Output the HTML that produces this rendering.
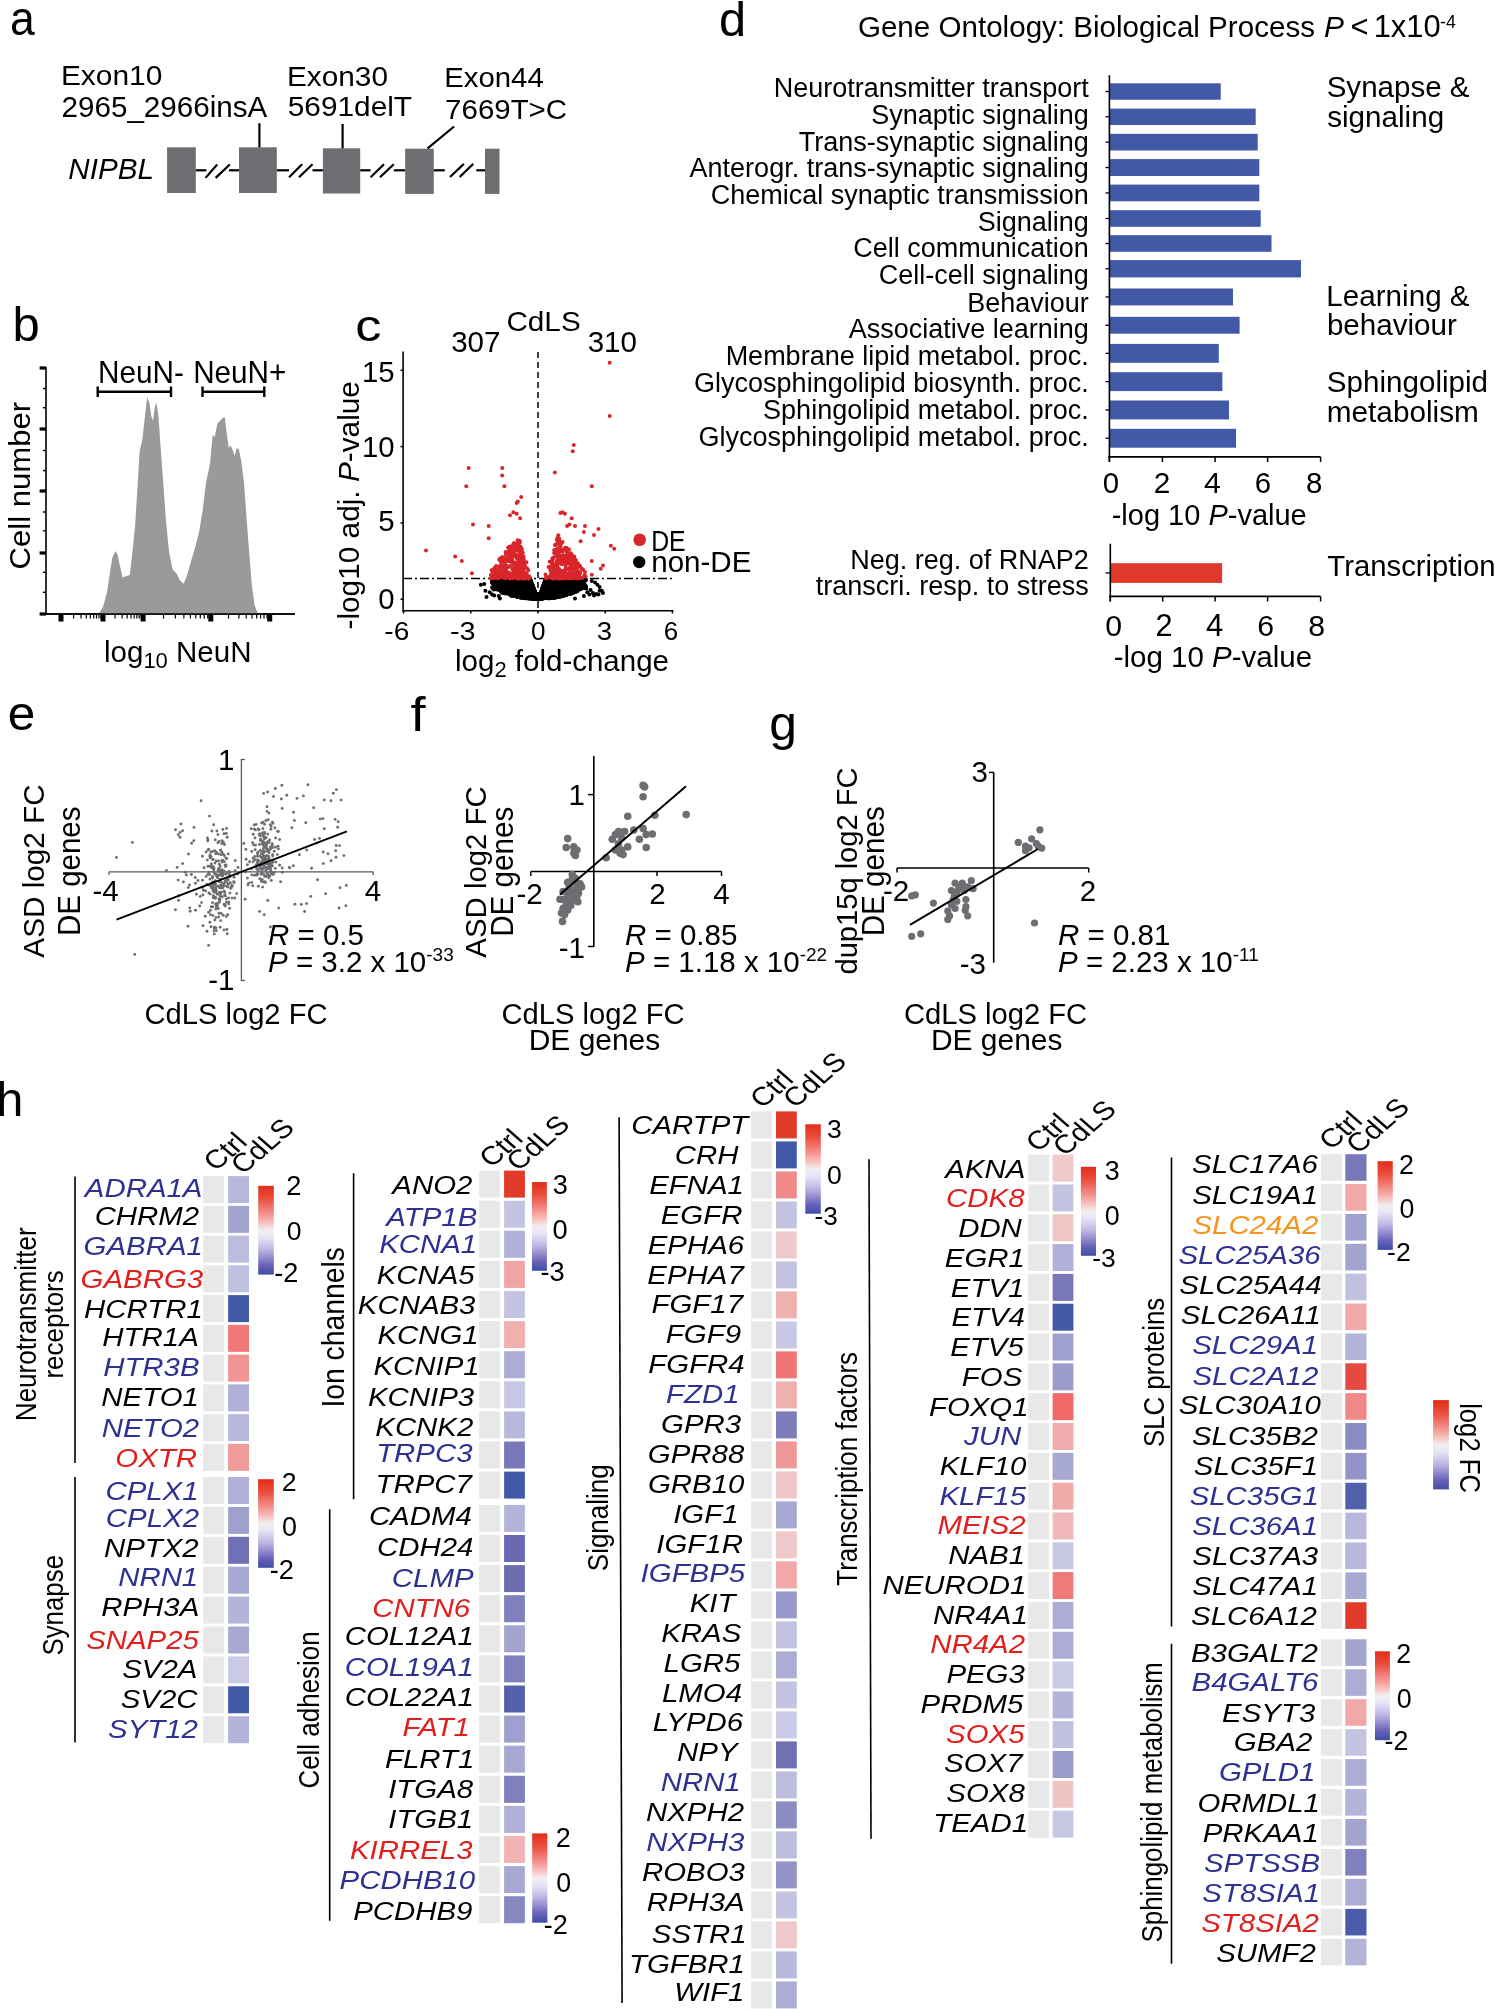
<!DOCTYPE html>
<html><head><meta charset="utf-8"><title>Figure</title>
<style>
html,body{margin:0;padding:0;background:#fff;}
svg{display:block;will-change:transform;}
text{font-family:"Liberation Sans",sans-serif;}
</style></head><body>
<svg xmlns="http://www.w3.org/2000/svg" width="1495" height="2009" viewBox="0 0 1495 2009">
<rect width="1495" height="2009" fill="#fff"/>
<text x="10.11" y="35.22" style="font-size:48.04px" textLength="24.73" lengthAdjust="spacingAndGlyphs">a</text>
<text x="60.93" y="84.91" style="font-size:28.55px" textLength="101.44" lengthAdjust="spacingAndGlyphs">Exon10</text>
<text x="61.52" y="117.20" style="font-size:29.62px">2965_2966insA</text>
<text x="286.94" y="85.52" style="font-size:27.99px" textLength="101.02" lengthAdjust="spacingAndGlyphs">Exon30</text>
<text x="287.81" y="116.43" style="font-size:27.48px" textLength="124.26" lengthAdjust="spacingAndGlyphs">5691delT</text>
<text x="444.18" y="87.32" style="font-size:28.10px" textLength="99.58" lengthAdjust="spacingAndGlyphs">Exon44</text>
<text x="445.13" y="119.01" style="font-size:28.55px" textLength="121.95" lengthAdjust="spacingAndGlyphs">7669T&gt;C</text>
<text x="68.31" y="179.10" style="font-size:30.25px;font-style:italic" textLength="85.77" lengthAdjust="spacingAndGlyphs">NIPBL</text>
<rect x="167.10" y="147.30" width="28.70" height="45.70" fill="#6d6e71"/>
<rect x="239.00" y="147.30" width="37.80" height="45.70" fill="#6d6e71"/>
<rect x="322.90" y="148.30" width="37.30" height="45.20" fill="#6d6e71"/>
<rect x="405.20" y="148.70" width="28.60" height="45.20" fill="#6d6e71"/>
<rect x="485.00" y="148.70" width="14.50" height="45.20" fill="#6d6e71"/>
<line x1="195.80" y1="170.30" x2="206.40" y2="170.30" stroke="#000" stroke-width="2.20"/>
<line x1="229.00" y1="170.30" x2="239.00" y2="170.30" stroke="#000" stroke-width="2.20"/>
<line x1="276.80" y1="170.30" x2="289.00" y2="170.30" stroke="#000" stroke-width="2.20"/>
<line x1="312.50" y1="170.30" x2="322.90" y2="170.30" stroke="#000" stroke-width="2.20"/>
<line x1="360.20" y1="170.30" x2="370.60" y2="170.30" stroke="#000" stroke-width="2.20"/>
<line x1="393.80" y1="170.30" x2="405.20" y2="170.30" stroke="#000" stroke-width="2.20"/>
<line x1="433.80" y1="170.30" x2="444.80" y2="170.30" stroke="#000" stroke-width="2.20"/>
<line x1="476.30" y1="170.30" x2="485.00" y2="170.30" stroke="#000" stroke-width="2.20"/>
<line x1="205.50" y1="177.90" x2="217.20" y2="164.50" stroke="#000" stroke-width="2.20"/>
<line x1="215.60" y1="177.90" x2="229.80" y2="164.50" stroke="#000" stroke-width="2.20"/>
<line x1="289.10" y1="177.30" x2="302.10" y2="164.30" stroke="#000" stroke-width="2.20"/>
<line x1="299.00" y1="177.30" x2="312.50" y2="164.30" stroke="#000" stroke-width="2.20"/>
<line x1="370.60" y1="177.30" x2="384.00" y2="164.30" stroke="#000" stroke-width="2.20"/>
<line x1="380.00" y1="177.30" x2="393.80" y2="164.30" stroke="#000" stroke-width="2.20"/>
<line x1="450.00" y1="177.00" x2="463.90" y2="163.90" stroke="#000" stroke-width="2.20"/>
<line x1="459.70" y1="177.00" x2="473.20" y2="163.90" stroke="#000" stroke-width="2.20"/>
<line x1="259.40" y1="123.20" x2="259.40" y2="147.30" stroke="#000" stroke-width="2.20"/>
<line x1="342.60" y1="124.00" x2="342.60" y2="148.30" stroke="#000" stroke-width="2.20"/>
<line x1="427.60" y1="148.30" x2="454.10" y2="126.50" stroke="#000" stroke-width="2.20"/>
<text x="12.46" y="341.31" style="font-size:48.98px">b</text>
<line x1="46.00" y1="367.00" x2="46.00" y2="614.80" stroke="#000" stroke-width="1.60"/>
<line x1="45.20" y1="614.00" x2="295.00" y2="614.00" stroke="#000" stroke-width="1.60"/>
<rect x="39.60" y="366.40" width="6.40" height="3.20" fill="#000"/>
<rect x="39.60" y="427.40" width="6.40" height="3.20" fill="#000"/>
<rect x="39.60" y="489.40" width="6.40" height="3.20" fill="#000"/>
<rect x="39.60" y="551.40" width="6.40" height="3.20" fill="#000"/>
<rect x="39.60" y="612.40" width="6.40" height="3.20" fill="#000"/>
<line x1="43.00" y1="388.50" x2="46.00" y2="388.50" stroke="#000" stroke-width="1.40"/>
<line x1="43.00" y1="407.70" x2="46.00" y2="407.70" stroke="#000" stroke-width="1.40"/>
<line x1="43.00" y1="450.50" x2="46.00" y2="450.50" stroke="#000" stroke-width="1.40"/>
<line x1="43.00" y1="470.60" x2="46.00" y2="470.60" stroke="#000" stroke-width="1.40"/>
<line x1="43.00" y1="512.00" x2="46.00" y2="512.00" stroke="#000" stroke-width="1.40"/>
<line x1="43.00" y1="530.80" x2="46.00" y2="530.80" stroke="#000" stroke-width="1.40"/>
<line x1="43.00" y1="572.30" x2="46.00" y2="572.30" stroke="#000" stroke-width="1.40"/>
<line x1="43.00" y1="592.30" x2="46.00" y2="592.30" stroke="#000" stroke-width="1.40"/>
<rect x="58.50" y="614.00" width="5.00" height="7.50" fill="#000"/>
<rect x="100.50" y="614.00" width="5.00" height="7.50" fill="#000"/>
<rect x="140.60" y="614.00" width="5.00" height="7.50" fill="#000"/>
<rect x="208.30" y="614.00" width="5.00" height="7.50" fill="#000"/>
<rect x="267.20" y="614.00" width="5.00" height="7.50" fill="#000"/>
<line x1="73.64" y1="614.00" x2="73.64" y2="618.50" stroke="#000" stroke-width="1.20"/>
<line x1="81.04" y1="614.00" x2="81.04" y2="618.50" stroke="#000" stroke-width="1.20"/>
<line x1="86.29" y1="614.00" x2="86.29" y2="618.50" stroke="#000" stroke-width="1.20"/>
<line x1="90.36" y1="614.00" x2="90.36" y2="618.50" stroke="#000" stroke-width="1.20"/>
<line x1="93.68" y1="614.00" x2="93.68" y2="618.50" stroke="#000" stroke-width="1.20"/>
<line x1="96.49" y1="614.00" x2="96.49" y2="618.50" stroke="#000" stroke-width="1.20"/>
<line x1="98.93" y1="614.00" x2="98.93" y2="618.50" stroke="#000" stroke-width="1.20"/>
<line x1="101.08" y1="614.00" x2="101.08" y2="618.50" stroke="#000" stroke-width="1.20"/>
<line x1="115.07" y1="614.00" x2="115.07" y2="618.50" stroke="#000" stroke-width="1.20"/>
<line x1="122.13" y1="614.00" x2="122.13" y2="618.50" stroke="#000" stroke-width="1.20"/>
<line x1="127.14" y1="614.00" x2="127.14" y2="618.50" stroke="#000" stroke-width="1.20"/>
<line x1="131.03" y1="614.00" x2="131.03" y2="618.50" stroke="#000" stroke-width="1.20"/>
<line x1="134.20" y1="614.00" x2="134.20" y2="618.50" stroke="#000" stroke-width="1.20"/>
<line x1="136.89" y1="614.00" x2="136.89" y2="618.50" stroke="#000" stroke-width="1.20"/>
<line x1="139.21" y1="614.00" x2="139.21" y2="618.50" stroke="#000" stroke-width="1.20"/>
<line x1="141.27" y1="614.00" x2="141.27" y2="618.50" stroke="#000" stroke-width="1.20"/>
<line x1="163.48" y1="614.00" x2="163.48" y2="618.50" stroke="#000" stroke-width="1.20"/>
<line x1="175.40" y1="614.00" x2="175.40" y2="618.50" stroke="#000" stroke-width="1.20"/>
<line x1="183.86" y1="614.00" x2="183.86" y2="618.50" stroke="#000" stroke-width="1.20"/>
<line x1="190.42" y1="614.00" x2="190.42" y2="618.50" stroke="#000" stroke-width="1.20"/>
<line x1="195.78" y1="614.00" x2="195.78" y2="618.50" stroke="#000" stroke-width="1.20"/>
<line x1="200.31" y1="614.00" x2="200.31" y2="618.50" stroke="#000" stroke-width="1.20"/>
<line x1="204.24" y1="614.00" x2="204.24" y2="618.50" stroke="#000" stroke-width="1.20"/>
<line x1="207.70" y1="614.00" x2="207.70" y2="618.50" stroke="#000" stroke-width="1.20"/>
<line x1="228.53" y1="614.00" x2="228.53" y2="618.50" stroke="#000" stroke-width="1.20"/>
<line x1="238.90" y1="614.00" x2="238.90" y2="618.50" stroke="#000" stroke-width="1.20"/>
<line x1="246.26" y1="614.00" x2="246.26" y2="618.50" stroke="#000" stroke-width="1.20"/>
<line x1="251.97" y1="614.00" x2="251.97" y2="618.50" stroke="#000" stroke-width="1.20"/>
<line x1="256.63" y1="614.00" x2="256.63" y2="618.50" stroke="#000" stroke-width="1.20"/>
<line x1="260.58" y1="614.00" x2="260.58" y2="618.50" stroke="#000" stroke-width="1.20"/>
<line x1="263.99" y1="614.00" x2="263.99" y2="618.50" stroke="#000" stroke-width="1.20"/>
<line x1="267.00" y1="614.00" x2="267.00" y2="618.50" stroke="#000" stroke-width="1.20"/>
<polygon points="96.3,614.3 99.5,612.4 103.0,607.1 107.0,592.3 110.2,570.9 112.4,557.6 115.6,550.9 117.7,554.9 119.9,565.6 122.5,577.6 125.8,576.3 129.8,574.9 132.4,552.2 135.1,525.5 137.8,482.6 139.7,450.5 142.3,439.8 145.0,415.8 147.2,397.0 149.3,402.4 151.2,415.8 153.0,421.1 154.6,407.7 156.5,402.4 158.4,415.8 160.5,445.2 163.2,482.6 165.9,520.1 169.1,552.2 172.6,569.6 176.6,573.6 179.8,580.3 183.5,583.8 186.8,576.3 190.5,562.9 195.3,546.9 199.3,530.8 202.8,509.4 206.0,482.6 210.0,463.9 212.7,434.5 214.6,437.2 217.3,423.8 219.9,421.1 222.6,417.9 224.7,417.1 226.9,434.5 228.8,447.9 230.6,445.2 232.8,450.5 234.6,455.9 236.8,447.9 238.9,449.2 241.3,461.2 244.0,482.6 246.7,520.1 249.4,554.9 252.0,587.0 254.7,605.7 257.4,612.4 260.9,614.3" fill="#999a9c"/>
<line x1="45.20" y1="614.00" x2="295.00" y2="614.00" stroke="#000" stroke-width="1.60"/>
<line x1="97.70" y1="391.70" x2="171.00" y2="391.70" stroke="#000" stroke-width="2.40"/>
<line x1="97.70" y1="386.50" x2="97.70" y2="397.00" stroke="#000" stroke-width="2.40"/>
<line x1="171.00" y1="386.50" x2="171.00" y2="397.00" stroke="#000" stroke-width="2.40"/>
<line x1="202.50" y1="391.70" x2="264.30" y2="391.70" stroke="#000" stroke-width="2.40"/>
<line x1="202.50" y1="386.50" x2="202.50" y2="397.00" stroke="#000" stroke-width="2.40"/>
<line x1="264.30" y1="386.50" x2="264.30" y2="397.00" stroke="#000" stroke-width="2.40"/>
<text x="98.05" y="382.69" style="font-size:30.82px" textLength="85.91" lengthAdjust="spacingAndGlyphs">NeuN-</text>
<text x="193.15" y="382.69" style="font-size:30.82px" textLength="93.28" lengthAdjust="spacingAndGlyphs">NeuN+</text>
<text transform="translate(30.10 569.45) rotate(-90.00)" style="font-size:30.07px" textLength="167.66" lengthAdjust="spacingAndGlyphs">Cell number</text>
<text x="104.00" y="662.00" style="font-size:29.50px">log<tspan style="font-size:22px" dy="6">10</tspan><tspan dy="-6"> NeuN</tspan></text>
<text x="355.38" y="340.66" style="font-size:44.02px" textLength="26.16" lengthAdjust="spacingAndGlyphs">c</text>
<text x="506.42" y="330.82" style="font-size:28.16px" textLength="74.29" lengthAdjust="spacingAndGlyphs">CdLS</text>
<text x="451.18" y="352.30" style="font-size:29.54px">307</text>
<text x="587.69" y="352.30" style="font-size:29.54px">310</text>
<line x1="403.10" y1="351.50" x2="403.10" y2="611.50" stroke="#000" stroke-width="1.60"/>
<line x1="402.30" y1="610.80" x2="673.50" y2="610.80" stroke="#000" stroke-width="1.60"/>
<line x1="400.50" y1="370.30" x2="403.10" y2="370.30" stroke="#000" stroke-width="1.50"/>
<line x1="400.50" y1="446.60" x2="403.10" y2="446.60" stroke="#000" stroke-width="1.50"/>
<line x1="400.50" y1="522.90" x2="403.10" y2="522.90" stroke="#000" stroke-width="1.50"/>
<line x1="400.50" y1="599.20" x2="403.10" y2="599.20" stroke="#000" stroke-width="1.50"/>
<text x="362.05" y="382.14" style="font-size:29.30px">15</text>
<text x="361.98" y="456.74" style="font-size:29.30px">10</text>
<text x="378.31" y="530.64" style="font-size:29.30px">5</text>
<text x="378.24" y="608.94" style="font-size:29.30px">0</text>
<line x1="403.60" y1="610.80" x2="403.60" y2="613.50" stroke="#000" stroke-width="1.50"/>
<line x1="470.80" y1="610.80" x2="470.80" y2="613.50" stroke="#000" stroke-width="1.50"/>
<line x1="538.00" y1="610.80" x2="538.00" y2="613.50" stroke="#000" stroke-width="1.50"/>
<line x1="605.20" y1="610.80" x2="605.20" y2="613.50" stroke="#000" stroke-width="1.50"/>
<line x1="672.40" y1="610.80" x2="672.40" y2="613.50" stroke="#000" stroke-width="1.50"/>
<text x="384.33" y="640.24" style="font-size:25.58px" textLength="25.01" lengthAdjust="spacingAndGlyphs">-6</text>
<text x="449.90" y="640.24" style="font-size:25.58px" textLength="25.68" lengthAdjust="spacingAndGlyphs">-3</text>
<text x="531.05" y="640.24" style="font-size:25.58px" textLength="14.56" lengthAdjust="spacingAndGlyphs">0</text>
<text x="596.67" y="640.24" style="font-size:25.58px" textLength="15.34" lengthAdjust="spacingAndGlyphs">3</text>
<text x="663.70" y="640.24" style="font-size:25.58px" textLength="14.43" lengthAdjust="spacingAndGlyphs">6</text>
<text x="455.00" y="671.00" style="font-size:29.50px">log<tspan style="font-size:22px" dy="6">2</tspan><tspan dy="-6"> fold-change</tspan></text>
<text transform="translate(358.61 629.53) rotate(-90.00)" style="font-size:29.81px">-log10 adj. <tspan style="font-style:italic">P</tspan>-value</text>
<line x1="538.00" y1="352.00" x2="538.00" y2="610.00" stroke="#000" stroke-width="1.50" stroke-dasharray="6,4"/>
<line x1="403.00" y1="578.50" x2="673.00" y2="578.50" stroke="#000" stroke-width="1.50" stroke-dasharray="9,3,2,3"/>
<circle cx="515.4" cy="580.2" r="2.00" fill="#000"/>
<circle cx="545.9" cy="588.5" r="2.00" fill="#000"/>
<circle cx="513.4" cy="592.2" r="2.00" fill="#000"/>
<circle cx="537.4" cy="598.7" r="2.00" fill="#000"/>
<circle cx="515.5" cy="594.4" r="2.00" fill="#000"/>
<circle cx="514.1" cy="590.1" r="2.00" fill="#000"/>
<circle cx="567.9" cy="583.3" r="2.00" fill="#000"/>
<circle cx="557.4" cy="596.1" r="2.00" fill="#000"/>
<circle cx="533.2" cy="590.5" r="2.00" fill="#000"/>
<circle cx="530.3" cy="598.4" r="2.00" fill="#000"/>
<circle cx="531.3" cy="588.9" r="2.00" fill="#000"/>
<circle cx="550.2" cy="592.7" r="2.00" fill="#000"/>
<circle cx="543.2" cy="598.4" r="2.00" fill="#000"/>
<circle cx="518.7" cy="581.5" r="2.00" fill="#000"/>
<circle cx="543.3" cy="591.3" r="2.00" fill="#000"/>
<circle cx="524.4" cy="584.7" r="2.00" fill="#000"/>
<circle cx="521.4" cy="588.2" r="2.00" fill="#000"/>
<circle cx="527.0" cy="579.1" r="2.00" fill="#000"/>
<circle cx="554.7" cy="590.8" r="2.00" fill="#000"/>
<circle cx="513.5" cy="591.3" r="2.00" fill="#000"/>
<circle cx="536.9" cy="597.4" r="2.00" fill="#000"/>
<circle cx="545.7" cy="589.8" r="2.00" fill="#000"/>
<circle cx="549.4" cy="579.8" r="2.00" fill="#000"/>
<circle cx="523.2" cy="581.6" r="2.00" fill="#000"/>
<circle cx="551.7" cy="580.5" r="2.00" fill="#000"/>
<circle cx="538.7" cy="598.6" r="2.00" fill="#000"/>
<circle cx="557.7" cy="595.3" r="2.00" fill="#000"/>
<circle cx="536.3" cy="596.6" r="2.00" fill="#000"/>
<circle cx="541.4" cy="598.1" r="2.00" fill="#000"/>
<circle cx="523.8" cy="590.7" r="2.00" fill="#000"/>
<circle cx="569.9" cy="591.8" r="2.00" fill="#000"/>
<circle cx="531.5" cy="593.9" r="2.00" fill="#000"/>
<circle cx="544.1" cy="586.2" r="2.00" fill="#000"/>
<circle cx="542.6" cy="596.4" r="2.00" fill="#000"/>
<circle cx="519.4" cy="593.0" r="2.00" fill="#000"/>
<circle cx="531.1" cy="585.4" r="2.00" fill="#000"/>
<circle cx="557.3" cy="594.4" r="2.00" fill="#000"/>
<circle cx="558.7" cy="588.5" r="2.00" fill="#000"/>
<circle cx="542.2" cy="588.9" r="2.00" fill="#000"/>
<circle cx="553.4" cy="582.3" r="2.00" fill="#000"/>
<circle cx="525.5" cy="593.3" r="2.00" fill="#000"/>
<circle cx="576.0" cy="586.2" r="2.00" fill="#000"/>
<circle cx="555.3" cy="595.1" r="2.00" fill="#000"/>
<circle cx="517.0" cy="579.2" r="2.00" fill="#000"/>
<circle cx="542.0" cy="591.0" r="2.00" fill="#000"/>
<circle cx="553.0" cy="590.7" r="2.00" fill="#000"/>
<circle cx="536.5" cy="598.8" r="2.00" fill="#000"/>
<circle cx="545.8" cy="586.4" r="2.00" fill="#000"/>
<circle cx="539.8" cy="597.4" r="2.00" fill="#000"/>
<circle cx="564.5" cy="587.3" r="2.00" fill="#000"/>
<circle cx="559.8" cy="585.8" r="2.00" fill="#000"/>
<circle cx="533.1" cy="588.1" r="2.00" fill="#000"/>
<circle cx="543.2" cy="586.9" r="2.00" fill="#000"/>
<circle cx="548.7" cy="582.1" r="2.00" fill="#000"/>
<circle cx="538.7" cy="598.3" r="2.00" fill="#000"/>
<circle cx="551.0" cy="580.0" r="2.00" fill="#000"/>
<circle cx="554.0" cy="581.0" r="2.00" fill="#000"/>
<circle cx="582.7" cy="582.7" r="2.00" fill="#000"/>
<circle cx="530.8" cy="597.8" r="2.00" fill="#000"/>
<circle cx="542.9" cy="587.0" r="2.00" fill="#000"/>
<circle cx="540.8" cy="597.0" r="2.00" fill="#000"/>
<circle cx="568.3" cy="581.4" r="2.00" fill="#000"/>
<circle cx="525.6" cy="594.0" r="2.00" fill="#000"/>
<circle cx="529.6" cy="583.9" r="2.00" fill="#000"/>
<circle cx="551.1" cy="586.6" r="2.00" fill="#000"/>
<circle cx="544.4" cy="584.6" r="2.00" fill="#000"/>
<circle cx="527.0" cy="580.4" r="2.00" fill="#000"/>
<circle cx="528.5" cy="593.7" r="2.00" fill="#000"/>
<circle cx="553.7" cy="588.5" r="2.00" fill="#000"/>
<circle cx="540.2" cy="598.7" r="2.00" fill="#000"/>
<circle cx="546.8" cy="586.5" r="2.00" fill="#000"/>
<circle cx="555.0" cy="594.5" r="2.00" fill="#000"/>
<circle cx="512.7" cy="579.3" r="2.00" fill="#000"/>
<circle cx="569.2" cy="583.7" r="2.00" fill="#000"/>
<circle cx="529.6" cy="595.1" r="2.00" fill="#000"/>
<circle cx="515.1" cy="595.6" r="2.00" fill="#000"/>
<circle cx="580.2" cy="582.0" r="2.00" fill="#000"/>
<circle cx="543.4" cy="585.8" r="2.00" fill="#000"/>
<circle cx="565.5" cy="586.7" r="2.00" fill="#000"/>
<circle cx="542.3" cy="590.8" r="2.00" fill="#000"/>
<circle cx="508.0" cy="593.1" r="2.00" fill="#000"/>
<circle cx="508.8" cy="580.4" r="2.00" fill="#000"/>
<circle cx="529.8" cy="583.6" r="2.00" fill="#000"/>
<circle cx="529.0" cy="580.5" r="2.00" fill="#000"/>
<circle cx="506.3" cy="588.0" r="2.00" fill="#000"/>
<circle cx="522.4" cy="581.2" r="2.00" fill="#000"/>
<circle cx="501.1" cy="586.1" r="2.00" fill="#000"/>
<circle cx="548.2" cy="586.5" r="2.00" fill="#000"/>
<circle cx="501.9" cy="583.6" r="2.00" fill="#000"/>
<circle cx="520.1" cy="585.4" r="2.00" fill="#000"/>
<circle cx="555.6" cy="595.5" r="2.00" fill="#000"/>
<circle cx="500.1" cy="580.4" r="2.00" fill="#000"/>
<circle cx="492.4" cy="581.4" r="2.00" fill="#000"/>
<circle cx="515.0" cy="585.5" r="2.00" fill="#000"/>
<circle cx="558.7" cy="588.1" r="2.00" fill="#000"/>
<circle cx="542.9" cy="589.4" r="2.00" fill="#000"/>
<circle cx="531.9" cy="598.2" r="2.00" fill="#000"/>
<circle cx="521.1" cy="592.4" r="2.00" fill="#000"/>
<circle cx="525.7" cy="584.2" r="2.00" fill="#000"/>
<circle cx="512.4" cy="580.2" r="2.00" fill="#000"/>
<circle cx="539.1" cy="598.5" r="2.00" fill="#000"/>
<circle cx="554.7" cy="584.3" r="2.00" fill="#000"/>
<circle cx="539.8" cy="598.1" r="2.00" fill="#000"/>
<circle cx="558.7" cy="584.4" r="2.00" fill="#000"/>
<circle cx="574.9" cy="585.8" r="2.00" fill="#000"/>
<circle cx="551.8" cy="584.7" r="2.00" fill="#000"/>
<circle cx="528.0" cy="593.7" r="2.00" fill="#000"/>
<circle cx="507.4" cy="580.2" r="2.00" fill="#000"/>
<circle cx="553.2" cy="581.0" r="2.00" fill="#000"/>
<circle cx="519.8" cy="590.6" r="2.00" fill="#000"/>
<circle cx="555.4" cy="594.3" r="2.00" fill="#000"/>
<circle cx="502.4" cy="580.9" r="2.00" fill="#000"/>
<circle cx="539.5" cy="596.8" r="2.00" fill="#000"/>
<circle cx="553.3" cy="593.9" r="2.00" fill="#000"/>
<circle cx="533.9" cy="593.9" r="2.00" fill="#000"/>
<circle cx="536.6" cy="597.7" r="2.00" fill="#000"/>
<circle cx="551.7" cy="585.4" r="2.00" fill="#000"/>
<circle cx="522.1" cy="581.7" r="2.00" fill="#000"/>
<circle cx="539.3" cy="596.4" r="2.00" fill="#000"/>
<circle cx="531.5" cy="598.1" r="2.00" fill="#000"/>
<circle cx="540.9" cy="592.9" r="2.00" fill="#000"/>
<circle cx="567.6" cy="585.1" r="2.00" fill="#000"/>
<circle cx="546.4" cy="591.6" r="2.00" fill="#000"/>
<circle cx="539.6" cy="598.5" r="2.00" fill="#000"/>
<circle cx="535.1" cy="595.5" r="2.00" fill="#000"/>
<circle cx="574.1" cy="588.8" r="2.00" fill="#000"/>
<circle cx="544.2" cy="596.0" r="2.00" fill="#000"/>
<circle cx="564.3" cy="587.4" r="2.00" fill="#000"/>
<circle cx="546.5" cy="585.5" r="2.00" fill="#000"/>
<circle cx="519.3" cy="579.7" r="2.00" fill="#000"/>
<circle cx="510.1" cy="583.6" r="2.00" fill="#000"/>
<circle cx="545.4" cy="594.5" r="2.00" fill="#000"/>
<circle cx="559.2" cy="596.6" r="2.00" fill="#000"/>
<circle cx="509.0" cy="591.4" r="2.00" fill="#000"/>
<circle cx="543.9" cy="594.0" r="2.00" fill="#000"/>
<circle cx="522.0" cy="587.1" r="2.00" fill="#000"/>
<circle cx="562.9" cy="584.9" r="2.00" fill="#000"/>
<circle cx="539.4" cy="596.7" r="2.00" fill="#000"/>
<circle cx="519.6" cy="580.5" r="2.00" fill="#000"/>
<circle cx="576.4" cy="582.2" r="2.00" fill="#000"/>
<circle cx="561.7" cy="593.4" r="2.00" fill="#000"/>
<circle cx="513.1" cy="580.4" r="2.00" fill="#000"/>
<circle cx="546.4" cy="590.2" r="2.00" fill="#000"/>
<circle cx="503.1" cy="581.6" r="2.00" fill="#000"/>
<circle cx="522.3" cy="580.0" r="2.00" fill="#000"/>
<circle cx="511.7" cy="591.5" r="2.00" fill="#000"/>
<circle cx="544.9" cy="585.4" r="2.00" fill="#000"/>
<circle cx="550.0" cy="583.8" r="2.00" fill="#000"/>
<circle cx="513.9" cy="591.7" r="2.00" fill="#000"/>
<circle cx="581.9" cy="579.3" r="2.00" fill="#000"/>
<circle cx="507.3" cy="585.4" r="2.00" fill="#000"/>
<circle cx="542.9" cy="587.5" r="2.00" fill="#000"/>
<circle cx="522.5" cy="581.4" r="2.00" fill="#000"/>
<circle cx="534.1" cy="594.2" r="2.00" fill="#000"/>
<circle cx="545.1" cy="587.9" r="2.00" fill="#000"/>
<circle cx="541.2" cy="598.8" r="2.00" fill="#000"/>
<circle cx="516.8" cy="582.0" r="2.00" fill="#000"/>
<circle cx="570.1" cy="590.8" r="2.00" fill="#000"/>
<circle cx="552.0" cy="590.7" r="2.00" fill="#000"/>
<circle cx="541.1" cy="597.6" r="2.00" fill="#000"/>
<circle cx="528.5" cy="587.5" r="2.00" fill="#000"/>
<circle cx="532.6" cy="589.1" r="2.00" fill="#000"/>
<circle cx="502.7" cy="579.7" r="2.00" fill="#000"/>
<circle cx="492.2" cy="587.8" r="2.00" fill="#000"/>
<circle cx="540.8" cy="597.2" r="2.00" fill="#000"/>
<circle cx="523.1" cy="583.6" r="2.00" fill="#000"/>
<circle cx="536.0" cy="596.1" r="2.00" fill="#000"/>
<circle cx="502.4" cy="584.5" r="2.00" fill="#000"/>
<circle cx="533.4" cy="594.8" r="2.00" fill="#000"/>
<circle cx="511.7" cy="580.5" r="2.00" fill="#000"/>
<circle cx="563.6" cy="591.5" r="2.00" fill="#000"/>
<circle cx="568.3" cy="585.7" r="2.00" fill="#000"/>
<circle cx="498.3" cy="583.8" r="2.00" fill="#000"/>
<circle cx="545.8" cy="587.8" r="2.00" fill="#000"/>
<circle cx="561.2" cy="585.1" r="2.00" fill="#000"/>
<circle cx="547.4" cy="587.5" r="2.00" fill="#000"/>
<circle cx="510.9" cy="585.5" r="2.00" fill="#000"/>
<circle cx="558.7" cy="587.3" r="2.00" fill="#000"/>
<circle cx="536.1" cy="596.6" r="2.00" fill="#000"/>
<circle cx="532.1" cy="591.9" r="2.00" fill="#000"/>
<circle cx="580.3" cy="586.8" r="2.00" fill="#000"/>
<circle cx="527.1" cy="588.3" r="2.00" fill="#000"/>
<circle cx="552.9" cy="582.1" r="2.00" fill="#000"/>
<circle cx="553.2" cy="580.7" r="2.00" fill="#000"/>
<circle cx="522.2" cy="593.3" r="2.00" fill="#000"/>
<circle cx="541.1" cy="594.1" r="2.00" fill="#000"/>
<circle cx="547.6" cy="582.8" r="2.00" fill="#000"/>
<circle cx="534.1" cy="598.7" r="2.00" fill="#000"/>
<circle cx="543.4" cy="589.1" r="2.00" fill="#000"/>
<circle cx="551.5" cy="591.0" r="2.00" fill="#000"/>
<circle cx="522.4" cy="595.2" r="2.00" fill="#000"/>
<circle cx="559.6" cy="583.2" r="2.00" fill="#000"/>
<circle cx="555.0" cy="592.0" r="2.00" fill="#000"/>
<circle cx="554.5" cy="593.1" r="2.00" fill="#000"/>
<circle cx="518.6" cy="589.4" r="2.00" fill="#000"/>
<circle cx="534.8" cy="595.4" r="2.00" fill="#000"/>
<circle cx="527.6" cy="593.6" r="2.00" fill="#000"/>
<circle cx="536.6" cy="597.2" r="2.00" fill="#000"/>
<circle cx="523.6" cy="581.5" r="2.00" fill="#000"/>
<circle cx="520.8" cy="585.4" r="2.00" fill="#000"/>
<circle cx="547.3" cy="583.5" r="2.00" fill="#000"/>
<circle cx="527.8" cy="582.3" r="2.00" fill="#000"/>
<circle cx="552.3" cy="591.0" r="2.00" fill="#000"/>
<circle cx="529.1" cy="580.4" r="2.00" fill="#000"/>
<circle cx="552.2" cy="580.9" r="2.00" fill="#000"/>
<circle cx="548.1" cy="583.7" r="2.00" fill="#000"/>
<circle cx="549.2" cy="592.4" r="2.00" fill="#000"/>
<circle cx="568.2" cy="587.2" r="2.00" fill="#000"/>
<circle cx="559.3" cy="582.3" r="2.00" fill="#000"/>
<circle cx="552.3" cy="584.3" r="2.00" fill="#000"/>
<circle cx="552.4" cy="597.6" r="2.00" fill="#000"/>
<circle cx="547.4" cy="580.6" r="2.00" fill="#000"/>
<circle cx="566.1" cy="579.5" r="2.00" fill="#000"/>
<circle cx="555.6" cy="583.0" r="2.00" fill="#000"/>
<circle cx="553.7" cy="587.4" r="2.00" fill="#000"/>
<circle cx="533.8" cy="598.0" r="2.00" fill="#000"/>
<circle cx="527.3" cy="595.7" r="2.00" fill="#000"/>
<circle cx="562.1" cy="586.5" r="2.00" fill="#000"/>
<circle cx="544.3" cy="589.0" r="2.00" fill="#000"/>
<circle cx="546.0" cy="593.8" r="2.00" fill="#000"/>
<circle cx="548.4" cy="581.8" r="2.00" fill="#000"/>
<circle cx="582.1" cy="588.3" r="2.00" fill="#000"/>
<circle cx="536.0" cy="598.7" r="2.00" fill="#000"/>
<circle cx="558.9" cy="582.7" r="2.00" fill="#000"/>
<circle cx="532.3" cy="593.4" r="2.00" fill="#000"/>
<circle cx="516.2" cy="588.2" r="2.00" fill="#000"/>
<circle cx="543.4" cy="590.1" r="2.00" fill="#000"/>
<circle cx="568.2" cy="581.2" r="2.00" fill="#000"/>
<circle cx="541.1" cy="597.3" r="2.00" fill="#000"/>
<circle cx="508.7" cy="587.6" r="2.00" fill="#000"/>
<circle cx="547.6" cy="593.8" r="2.00" fill="#000"/>
<circle cx="550.3" cy="597.9" r="2.00" fill="#000"/>
<circle cx="558.3" cy="580.7" r="2.00" fill="#000"/>
<circle cx="548.2" cy="581.4" r="2.00" fill="#000"/>
<circle cx="510.5" cy="584.4" r="2.00" fill="#000"/>
<circle cx="517.4" cy="587.0" r="2.00" fill="#000"/>
<circle cx="553.2" cy="579.3" r="2.00" fill="#000"/>
<circle cx="543.6" cy="585.7" r="2.00" fill="#000"/>
<circle cx="524.8" cy="583.3" r="2.00" fill="#000"/>
<circle cx="544.8" cy="590.8" r="2.00" fill="#000"/>
<circle cx="504.3" cy="580.4" r="2.00" fill="#000"/>
<circle cx="560.0" cy="582.6" r="2.00" fill="#000"/>
<circle cx="518.6" cy="582.8" r="2.00" fill="#000"/>
<circle cx="513.4" cy="594.4" r="2.00" fill="#000"/>
<circle cx="555.7" cy="590.2" r="2.00" fill="#000"/>
<circle cx="535.9" cy="597.2" r="2.00" fill="#000"/>
<circle cx="539.2" cy="597.5" r="2.00" fill="#000"/>
<circle cx="528.8" cy="580.0" r="2.00" fill="#000"/>
<circle cx="528.9" cy="584.8" r="2.00" fill="#000"/>
<circle cx="524.0" cy="586.4" r="2.00" fill="#000"/>
<circle cx="562.5" cy="586.2" r="2.00" fill="#000"/>
<circle cx="520.1" cy="582.9" r="2.00" fill="#000"/>
<circle cx="515.6" cy="579.4" r="2.00" fill="#000"/>
<circle cx="564.7" cy="582.8" r="2.00" fill="#000"/>
<circle cx="542.4" cy="595.6" r="2.00" fill="#000"/>
<circle cx="533.7" cy="596.4" r="2.00" fill="#000"/>
<circle cx="542.2" cy="594.5" r="2.00" fill="#000"/>
<circle cx="550.5" cy="580.6" r="2.00" fill="#000"/>
<circle cx="547.1" cy="586.9" r="2.00" fill="#000"/>
<circle cx="536.2" cy="596.7" r="2.00" fill="#000"/>
<circle cx="565.8" cy="581.8" r="2.00" fill="#000"/>
<circle cx="561.5" cy="582.7" r="2.00" fill="#000"/>
<circle cx="550.5" cy="597.0" r="2.00" fill="#000"/>
<circle cx="548.8" cy="588.3" r="2.00" fill="#000"/>
<circle cx="533.9" cy="596.8" r="2.00" fill="#000"/>
<circle cx="512.5" cy="594.5" r="2.00" fill="#000"/>
<circle cx="539.4" cy="596.3" r="2.00" fill="#000"/>
<circle cx="518.2" cy="585.5" r="2.00" fill="#000"/>
<circle cx="549.8" cy="590.2" r="2.00" fill="#000"/>
<circle cx="532.5" cy="590.4" r="2.00" fill="#000"/>
<circle cx="565.8" cy="589.8" r="2.00" fill="#000"/>
<circle cx="535.3" cy="599.0" r="2.00" fill="#000"/>
<circle cx="523.1" cy="592.3" r="2.00" fill="#000"/>
<circle cx="549.4" cy="583.2" r="2.00" fill="#000"/>
<circle cx="541.6" cy="595.1" r="2.00" fill="#000"/>
<circle cx="564.0" cy="594.6" r="2.00" fill="#000"/>
<circle cx="519.7" cy="579.2" r="2.00" fill="#000"/>
<circle cx="545.7" cy="580.7" r="2.00" fill="#000"/>
<circle cx="536.1" cy="597.1" r="2.00" fill="#000"/>
<circle cx="545.9" cy="592.9" r="2.00" fill="#000"/>
<circle cx="494.3" cy="581.7" r="2.00" fill="#000"/>
<circle cx="532.1" cy="591.1" r="2.00" fill="#000"/>
<circle cx="573.4" cy="584.0" r="2.00" fill="#000"/>
<circle cx="534.0" cy="597.5" r="2.00" fill="#000"/>
<circle cx="523.8" cy="593.3" r="2.00" fill="#000"/>
<circle cx="523.9" cy="596.7" r="2.00" fill="#000"/>
<circle cx="529.0" cy="588.9" r="2.00" fill="#000"/>
<circle cx="536.9" cy="597.7" r="2.00" fill="#000"/>
<circle cx="524.4" cy="586.1" r="2.00" fill="#000"/>
<circle cx="542.8" cy="593.3" r="2.00" fill="#000"/>
<circle cx="542.8" cy="587.0" r="2.00" fill="#000"/>
<circle cx="515.6" cy="579.8" r="2.00" fill="#000"/>
<circle cx="537.3" cy="599.0" r="2.00" fill="#000"/>
<circle cx="524.7" cy="580.8" r="2.00" fill="#000"/>
<circle cx="544.4" cy="592.1" r="2.00" fill="#000"/>
<circle cx="512.6" cy="590.5" r="2.00" fill="#000"/>
<circle cx="528.9" cy="586.2" r="2.00" fill="#000"/>
<circle cx="516.1" cy="584.8" r="2.00" fill="#000"/>
<circle cx="538.9" cy="598.7" r="2.00" fill="#000"/>
<circle cx="526.3" cy="579.4" r="2.00" fill="#000"/>
<circle cx="572.4" cy="592.5" r="2.00" fill="#000"/>
<circle cx="518.9" cy="595.7" r="2.00" fill="#000"/>
<circle cx="536.0" cy="596.1" r="2.00" fill="#000"/>
<circle cx="558.5" cy="594.5" r="2.00" fill="#000"/>
<circle cx="531.5" cy="596.9" r="2.00" fill="#000"/>
<circle cx="536.8" cy="597.3" r="2.00" fill="#000"/>
<circle cx="513.1" cy="588.8" r="2.00" fill="#000"/>
<circle cx="530.3" cy="588.3" r="2.00" fill="#000"/>
<circle cx="543.0" cy="589.3" r="2.00" fill="#000"/>
<circle cx="555.6" cy="581.6" r="2.00" fill="#000"/>
<circle cx="547.3" cy="582.3" r="2.00" fill="#000"/>
<circle cx="543.0" cy="590.5" r="2.00" fill="#000"/>
<circle cx="540.2" cy="596.6" r="2.00" fill="#000"/>
<circle cx="525.6" cy="592.3" r="2.00" fill="#000"/>
<circle cx="545.4" cy="585.6" r="2.00" fill="#000"/>
<circle cx="521.7" cy="579.2" r="2.00" fill="#000"/>
<circle cx="527.7" cy="583.4" r="2.00" fill="#000"/>
<circle cx="560.0" cy="580.3" r="2.00" fill="#000"/>
<circle cx="522.2" cy="595.4" r="2.00" fill="#000"/>
<circle cx="546.7" cy="581.2" r="2.00" fill="#000"/>
<circle cx="545.7" cy="586.7" r="2.00" fill="#000"/>
<circle cx="542.4" cy="593.1" r="2.00" fill="#000"/>
<circle cx="532.3" cy="587.3" r="2.00" fill="#000"/>
<circle cx="523.9" cy="596.1" r="2.00" fill="#000"/>
<circle cx="545.1" cy="596.8" r="2.00" fill="#000"/>
<circle cx="566.0" cy="589.5" r="2.00" fill="#000"/>
<circle cx="534.1" cy="595.8" r="2.00" fill="#000"/>
<circle cx="509.7" cy="592.2" r="2.00" fill="#000"/>
<circle cx="519.5" cy="589.7" r="2.00" fill="#000"/>
<circle cx="562.5" cy="593.5" r="2.00" fill="#000"/>
<circle cx="532.4" cy="585.7" r="2.00" fill="#000"/>
<circle cx="514.8" cy="580.0" r="2.00" fill="#000"/>
<circle cx="556.2" cy="582.2" r="2.00" fill="#000"/>
<circle cx="528.1" cy="591.6" r="2.00" fill="#000"/>
<circle cx="530.7" cy="581.2" r="2.00" fill="#000"/>
<circle cx="556.2" cy="580.7" r="2.00" fill="#000"/>
<circle cx="538.9" cy="598.5" r="2.00" fill="#000"/>
<circle cx="556.7" cy="589.7" r="2.00" fill="#000"/>
<circle cx="523.7" cy="593.4" r="2.00" fill="#000"/>
<circle cx="550.2" cy="586.5" r="2.00" fill="#000"/>
<circle cx="545.6" cy="582.0" r="2.00" fill="#000"/>
<circle cx="516.0" cy="585.9" r="2.00" fill="#000"/>
<circle cx="553.0" cy="581.0" r="2.00" fill="#000"/>
<circle cx="567.4" cy="589.6" r="2.00" fill="#000"/>
<circle cx="561.4" cy="586.1" r="2.00" fill="#000"/>
<circle cx="541.9" cy="593.1" r="2.00" fill="#000"/>
<circle cx="565.7" cy="581.8" r="2.00" fill="#000"/>
<circle cx="532.9" cy="597.8" r="2.00" fill="#000"/>
<circle cx="506.6" cy="592.5" r="2.00" fill="#000"/>
<circle cx="528.9" cy="596.5" r="2.00" fill="#000"/>
<circle cx="535.4" cy="598.4" r="2.00" fill="#000"/>
<circle cx="498.0" cy="583.0" r="2.00" fill="#000"/>
<circle cx="558.2" cy="584.6" r="2.00" fill="#000"/>
<circle cx="563.4" cy="590.9" r="2.00" fill="#000"/>
<circle cx="544.7" cy="589.1" r="2.00" fill="#000"/>
<circle cx="570.5" cy="582.1" r="2.00" fill="#000"/>
<circle cx="525.1" cy="579.6" r="2.00" fill="#000"/>
<circle cx="549.3" cy="584.6" r="2.00" fill="#000"/>
<circle cx="515.1" cy="583.3" r="2.00" fill="#000"/>
<circle cx="539.6" cy="596.5" r="2.00" fill="#000"/>
<circle cx="555.5" cy="581.8" r="2.00" fill="#000"/>
<circle cx="528.7" cy="584.8" r="2.00" fill="#000"/>
<circle cx="559.5" cy="581.6" r="2.00" fill="#000"/>
<circle cx="511.2" cy="580.6" r="2.00" fill="#000"/>
<circle cx="564.9" cy="586.1" r="2.00" fill="#000"/>
<circle cx="531.5" cy="586.5" r="2.00" fill="#000"/>
<circle cx="545.1" cy="590.2" r="2.00" fill="#000"/>
<circle cx="519.8" cy="594.0" r="2.00" fill="#000"/>
<circle cx="535.5" cy="596.5" r="2.00" fill="#000"/>
<circle cx="545.0" cy="590.2" r="2.00" fill="#000"/>
<circle cx="549.9" cy="591.7" r="2.00" fill="#000"/>
<circle cx="545.2" cy="592.1" r="2.00" fill="#000"/>
<circle cx="537.4" cy="599.1" r="2.00" fill="#000"/>
<circle cx="519.0" cy="593.2" r="2.00" fill="#000"/>
<circle cx="512.3" cy="594.4" r="2.00" fill="#000"/>
<circle cx="514.3" cy="580.4" r="2.00" fill="#000"/>
<circle cx="545.1" cy="597.9" r="2.00" fill="#000"/>
<circle cx="548.1" cy="593.3" r="2.00" fill="#000"/>
<circle cx="546.3" cy="593.1" r="2.00" fill="#000"/>
<circle cx="533.4" cy="595.9" r="2.00" fill="#000"/>
<circle cx="513.6" cy="592.2" r="2.00" fill="#000"/>
<circle cx="536.4" cy="596.4" r="2.00" fill="#000"/>
<circle cx="550.2" cy="591.3" r="2.00" fill="#000"/>
<circle cx="505.2" cy="586.0" r="2.00" fill="#000"/>
<circle cx="528.2" cy="592.5" r="2.00" fill="#000"/>
<circle cx="570.7" cy="588.0" r="2.00" fill="#000"/>
<circle cx="511.2" cy="585.7" r="2.00" fill="#000"/>
<circle cx="559.7" cy="592.0" r="2.00" fill="#000"/>
<circle cx="532.8" cy="598.0" r="2.00" fill="#000"/>
<circle cx="571.1" cy="587.3" r="2.00" fill="#000"/>
<circle cx="527.6" cy="587.3" r="2.00" fill="#000"/>
<circle cx="523.5" cy="579.2" r="2.00" fill="#000"/>
<circle cx="537.2" cy="598.1" r="2.00" fill="#000"/>
<circle cx="538.9" cy="598.3" r="2.00" fill="#000"/>
<circle cx="541.5" cy="595.4" r="2.00" fill="#000"/>
<circle cx="547.4" cy="585.9" r="2.00" fill="#000"/>
<circle cx="509.9" cy="592.0" r="2.00" fill="#000"/>
<circle cx="547.9" cy="592.5" r="2.00" fill="#000"/>
<circle cx="552.7" cy="581.2" r="2.00" fill="#000"/>
<circle cx="511.7" cy="579.2" r="2.00" fill="#000"/>
<circle cx="535.9" cy="597.6" r="2.00" fill="#000"/>
<circle cx="528.0" cy="583.0" r="2.00" fill="#000"/>
<circle cx="536.3" cy="599.2" r="2.00" fill="#000"/>
<circle cx="554.7" cy="581.9" r="2.00" fill="#000"/>
<circle cx="505.5" cy="592.3" r="2.00" fill="#000"/>
<circle cx="534.9" cy="598.1" r="2.00" fill="#000"/>
<circle cx="568.7" cy="586.3" r="2.00" fill="#000"/>
<circle cx="492.1" cy="582.7" r="2.00" fill="#000"/>
<circle cx="548.0" cy="581.5" r="2.00" fill="#000"/>
<circle cx="527.6" cy="589.3" r="2.00" fill="#000"/>
<circle cx="570.4" cy="580.1" r="2.00" fill="#000"/>
<circle cx="568.6" cy="590.5" r="2.00" fill="#000"/>
<circle cx="557.9" cy="586.4" r="2.00" fill="#000"/>
<circle cx="527.7" cy="581.9" r="2.00" fill="#000"/>
<circle cx="536.9" cy="598.3" r="2.00" fill="#000"/>
<circle cx="535.9" cy="597.3" r="2.00" fill="#000"/>
<circle cx="545.7" cy="588.5" r="2.00" fill="#000"/>
<circle cx="534.8" cy="593.3" r="2.00" fill="#000"/>
<circle cx="521.1" cy="595.0" r="2.00" fill="#000"/>
<circle cx="522.0" cy="579.6" r="2.00" fill="#000"/>
<circle cx="551.7" cy="581.9" r="2.00" fill="#000"/>
<circle cx="537.0" cy="598.3" r="2.00" fill="#000"/>
<circle cx="536.2" cy="596.1" r="2.00" fill="#000"/>
<circle cx="540.6" cy="595.9" r="2.00" fill="#000"/>
<circle cx="563.1" cy="595.8" r="2.00" fill="#000"/>
<circle cx="572.8" cy="589.6" r="2.00" fill="#000"/>
<circle cx="536.9" cy="597.7" r="2.00" fill="#000"/>
<circle cx="534.0" cy="593.2" r="2.00" fill="#000"/>
<circle cx="556.6" cy="590.9" r="2.00" fill="#000"/>
<circle cx="528.8" cy="584.8" r="2.00" fill="#000"/>
<circle cx="554.9" cy="591.9" r="2.00" fill="#000"/>
<circle cx="548.2" cy="591.1" r="2.00" fill="#000"/>
<circle cx="568.0" cy="579.8" r="2.00" fill="#000"/>
<circle cx="510.5" cy="589.1" r="2.00" fill="#000"/>
<circle cx="526.9" cy="582.0" r="2.00" fill="#000"/>
<circle cx="547.4" cy="596.1" r="2.00" fill="#000"/>
<circle cx="544.4" cy="587.1" r="2.00" fill="#000"/>
<circle cx="535.6" cy="596.5" r="2.00" fill="#000"/>
<circle cx="527.1" cy="581.8" r="2.00" fill="#000"/>
<circle cx="531.8" cy="594.5" r="2.00" fill="#000"/>
<circle cx="534.1" cy="597.1" r="2.00" fill="#000"/>
<circle cx="552.5" cy="596.1" r="2.00" fill="#000"/>
<circle cx="552.4" cy="580.4" r="2.00" fill="#000"/>
<circle cx="518.2" cy="584.7" r="2.00" fill="#000"/>
<circle cx="548.8" cy="583.0" r="2.00" fill="#000"/>
<circle cx="546.8" cy="591.1" r="2.00" fill="#000"/>
<circle cx="521.7" cy="589.0" r="2.00" fill="#000"/>
<circle cx="557.8" cy="583.8" r="2.00" fill="#000"/>
<circle cx="540.5" cy="593.1" r="2.00" fill="#000"/>
<circle cx="545.6" cy="586.1" r="2.00" fill="#000"/>
<circle cx="511.6" cy="595.2" r="2.00" fill="#000"/>
<circle cx="530.2" cy="585.1" r="2.00" fill="#000"/>
<circle cx="553.9" cy="595.2" r="2.00" fill="#000"/>
<circle cx="522.3" cy="582.5" r="2.00" fill="#000"/>
<circle cx="554.5" cy="581.9" r="2.00" fill="#000"/>
<circle cx="530.1" cy="583.1" r="2.00" fill="#000"/>
<circle cx="531.5" cy="583.6" r="2.00" fill="#000"/>
<circle cx="521.7" cy="587.4" r="2.00" fill="#000"/>
<circle cx="533.4" cy="596.9" r="2.00" fill="#000"/>
<circle cx="525.9" cy="587.4" r="2.00" fill="#000"/>
<circle cx="530.9" cy="594.3" r="2.00" fill="#000"/>
<circle cx="503.3" cy="579.7" r="2.00" fill="#000"/>
<circle cx="529.9" cy="596.5" r="2.00" fill="#000"/>
<circle cx="529.6" cy="592.9" r="2.00" fill="#000"/>
<circle cx="512.6" cy="589.4" r="2.00" fill="#000"/>
<circle cx="525.1" cy="580.2" r="2.00" fill="#000"/>
<circle cx="525.0" cy="595.1" r="2.00" fill="#000"/>
<circle cx="554.9" cy="579.5" r="2.00" fill="#000"/>
<circle cx="565.8" cy="585.7" r="2.00" fill="#000"/>
<circle cx="569.7" cy="585.0" r="2.00" fill="#000"/>
<circle cx="524.8" cy="580.6" r="2.00" fill="#000"/>
<circle cx="533.1" cy="586.8" r="2.00" fill="#000"/>
<circle cx="549.3" cy="595.3" r="2.00" fill="#000"/>
<circle cx="515.1" cy="581.7" r="2.00" fill="#000"/>
<circle cx="528.9" cy="592.9" r="2.00" fill="#000"/>
<circle cx="578.1" cy="583.7" r="2.00" fill="#000"/>
<circle cx="544.6" cy="588.8" r="2.00" fill="#000"/>
<circle cx="528.0" cy="596.5" r="2.00" fill="#000"/>
<circle cx="550.4" cy="579.3" r="2.00" fill="#000"/>
<circle cx="541.1" cy="592.0" r="2.00" fill="#000"/>
<circle cx="529.8" cy="584.8" r="2.00" fill="#000"/>
<circle cx="525.0" cy="583.5" r="2.00" fill="#000"/>
<circle cx="519.9" cy="582.2" r="2.00" fill="#000"/>
<circle cx="555.9" cy="597.1" r="2.00" fill="#000"/>
<circle cx="545.3" cy="595.3" r="2.00" fill="#000"/>
<circle cx="559.0" cy="589.0" r="2.00" fill="#000"/>
<circle cx="528.0" cy="587.4" r="2.00" fill="#000"/>
<circle cx="533.7" cy="595.6" r="2.00" fill="#000"/>
<circle cx="523.1" cy="585.0" r="2.00" fill="#000"/>
<circle cx="531.6" cy="598.0" r="2.00" fill="#000"/>
<circle cx="533.6" cy="588.4" r="2.00" fill="#000"/>
<circle cx="529.3" cy="586.0" r="2.00" fill="#000"/>
<circle cx="519.4" cy="585.2" r="2.00" fill="#000"/>
<circle cx="542.4" cy="591.1" r="2.00" fill="#000"/>
<circle cx="540.3" cy="596.2" r="2.00" fill="#000"/>
<circle cx="506.9" cy="579.1" r="2.00" fill="#000"/>
<circle cx="558.4" cy="588.7" r="2.00" fill="#000"/>
<circle cx="506.9" cy="586.9" r="2.00" fill="#000"/>
<circle cx="500.8" cy="584.7" r="2.00" fill="#000"/>
<circle cx="522.0" cy="587.0" r="2.00" fill="#000"/>
<circle cx="501.1" cy="587.4" r="2.00" fill="#000"/>
<circle cx="555.7" cy="596.1" r="2.00" fill="#000"/>
<circle cx="532.4" cy="588.1" r="2.00" fill="#000"/>
<circle cx="498.3" cy="583.5" r="2.00" fill="#000"/>
<circle cx="538.9" cy="598.2" r="2.00" fill="#000"/>
<circle cx="522.4" cy="596.0" r="2.00" fill="#000"/>
<circle cx="553.4" cy="587.5" r="2.00" fill="#000"/>
<circle cx="553.3" cy="589.4" r="2.00" fill="#000"/>
<circle cx="566.5" cy="585.9" r="2.00" fill="#000"/>
<circle cx="548.1" cy="592.9" r="2.00" fill="#000"/>
<circle cx="532.1" cy="594.6" r="2.00" fill="#000"/>
<circle cx="556.6" cy="595.6" r="2.00" fill="#000"/>
<circle cx="580.8" cy="582.3" r="2.00" fill="#000"/>
<circle cx="512.4" cy="581.0" r="2.00" fill="#000"/>
<circle cx="508.3" cy="590.5" r="2.00" fill="#000"/>
<circle cx="555.0" cy="583.2" r="2.00" fill="#000"/>
<circle cx="501.1" cy="590.7" r="2.00" fill="#000"/>
<circle cx="521.9" cy="582.4" r="2.00" fill="#000"/>
<circle cx="555.5" cy="579.8" r="2.00" fill="#000"/>
<circle cx="555.3" cy="597.7" r="2.00" fill="#000"/>
<circle cx="539.3" cy="598.1" r="2.00" fill="#000"/>
<circle cx="554.7" cy="596.1" r="2.00" fill="#000"/>
<circle cx="566.3" cy="587.9" r="2.00" fill="#000"/>
<circle cx="517.2" cy="589.6" r="2.00" fill="#000"/>
<circle cx="533.7" cy="598.5" r="2.00" fill="#000"/>
<circle cx="535.7" cy="594.1" r="2.00" fill="#000"/>
<circle cx="530.7" cy="581.2" r="2.00" fill="#000"/>
<circle cx="559.6" cy="579.4" r="2.00" fill="#000"/>
<circle cx="525.9" cy="591.6" r="2.00" fill="#000"/>
<circle cx="540.9" cy="592.6" r="2.00" fill="#000"/>
<circle cx="548.7" cy="581.8" r="2.00" fill="#000"/>
<circle cx="531.1" cy="591.6" r="2.00" fill="#000"/>
<circle cx="527.2" cy="581.1" r="2.00" fill="#000"/>
<circle cx="540.7" cy="592.7" r="2.00" fill="#000"/>
<circle cx="546.7" cy="594.0" r="2.00" fill="#000"/>
<circle cx="564.4" cy="580.8" r="2.00" fill="#000"/>
<circle cx="547.2" cy="583.8" r="2.00" fill="#000"/>
<circle cx="541.5" cy="595.9" r="2.00" fill="#000"/>
<circle cx="569.8" cy="582.9" r="2.00" fill="#000"/>
<circle cx="516.1" cy="593.6" r="2.00" fill="#000"/>
<circle cx="523.7" cy="588.6" r="2.00" fill="#000"/>
<circle cx="496.4" cy="589.4" r="2.00" fill="#000"/>
<circle cx="541.4" cy="592.8" r="2.00" fill="#000"/>
<circle cx="554.8" cy="593.1" r="2.00" fill="#000"/>
<circle cx="544.5" cy="587.1" r="2.00" fill="#000"/>
<circle cx="551.3" cy="582.5" r="2.00" fill="#000"/>
<circle cx="519.2" cy="580.9" r="2.00" fill="#000"/>
<circle cx="558.8" cy="585.6" r="2.00" fill="#000"/>
<circle cx="540.8" cy="592.8" r="2.00" fill="#000"/>
<circle cx="554.6" cy="584.5" r="2.00" fill="#000"/>
<circle cx="534.1" cy="597.9" r="2.00" fill="#000"/>
<circle cx="565.5" cy="579.3" r="2.00" fill="#000"/>
<circle cx="517.0" cy="586.5" r="2.00" fill="#000"/>
<circle cx="547.2" cy="597.4" r="2.00" fill="#000"/>
<circle cx="526.0" cy="592.5" r="2.00" fill="#000"/>
<circle cx="529.5" cy="582.4" r="2.00" fill="#000"/>
<circle cx="552.0" cy="583.1" r="2.00" fill="#000"/>
<circle cx="546.8" cy="592.8" r="2.00" fill="#000"/>
<circle cx="534.3" cy="596.9" r="2.00" fill="#000"/>
<circle cx="562.3" cy="580.6" r="2.00" fill="#000"/>
<circle cx="543.6" cy="591.6" r="2.00" fill="#000"/>
<circle cx="538.3" cy="599.2" r="2.00" fill="#000"/>
<circle cx="505.9" cy="585.8" r="2.00" fill="#000"/>
<circle cx="567.7" cy="591.2" r="2.00" fill="#000"/>
<circle cx="513.0" cy="589.0" r="2.00" fill="#000"/>
<circle cx="529.2" cy="585.0" r="2.00" fill="#000"/>
<circle cx="543.4" cy="591.3" r="2.00" fill="#000"/>
<circle cx="516.2" cy="581.4" r="2.00" fill="#000"/>
<circle cx="529.4" cy="579.9" r="2.00" fill="#000"/>
<circle cx="517.5" cy="593.1" r="2.00" fill="#000"/>
<circle cx="540.8" cy="594.7" r="2.00" fill="#000"/>
<circle cx="527.4" cy="592.9" r="2.00" fill="#000"/>
<circle cx="508.2" cy="582.0" r="2.00" fill="#000"/>
<circle cx="550.7" cy="582.6" r="2.00" fill="#000"/>
<circle cx="540.6" cy="597.4" r="2.00" fill="#000"/>
<circle cx="560.7" cy="585.6" r="2.00" fill="#000"/>
<circle cx="533.6" cy="591.9" r="2.00" fill="#000"/>
<circle cx="538.7" cy="598.3" r="2.00" fill="#000"/>
<circle cx="504.0" cy="590.2" r="2.00" fill="#000"/>
<circle cx="521.6" cy="594.1" r="2.00" fill="#000"/>
<circle cx="560.8" cy="588.0" r="2.00" fill="#000"/>
<circle cx="541.2" cy="595.3" r="2.00" fill="#000"/>
<circle cx="535.9" cy="598.6" r="2.00" fill="#000"/>
<circle cx="572.6" cy="580.2" r="2.00" fill="#000"/>
<circle cx="517.0" cy="582.3" r="2.00" fill="#000"/>
<circle cx="528.7" cy="593.0" r="2.00" fill="#000"/>
<circle cx="548.6" cy="597.3" r="2.00" fill="#000"/>
<circle cx="551.7" cy="591.1" r="2.00" fill="#000"/>
<circle cx="521.8" cy="591.8" r="2.00" fill="#000"/>
<circle cx="522.6" cy="585.9" r="2.00" fill="#000"/>
<circle cx="568.7" cy="591.1" r="2.00" fill="#000"/>
<circle cx="557.3" cy="591.7" r="2.00" fill="#000"/>
<circle cx="554.3" cy="581.8" r="2.00" fill="#000"/>
<circle cx="563.3" cy="582.2" r="2.00" fill="#000"/>
<circle cx="556.8" cy="589.7" r="2.00" fill="#000"/>
<circle cx="546.0" cy="593.5" r="2.00" fill="#000"/>
<circle cx="544.2" cy="590.4" r="2.00" fill="#000"/>
<circle cx="537.6" cy="599.0" r="2.00" fill="#000"/>
<circle cx="549.3" cy="588.6" r="2.00" fill="#000"/>
<circle cx="538.5" cy="599.0" r="2.00" fill="#000"/>
<circle cx="533.3" cy="588.3" r="2.00" fill="#000"/>
<circle cx="550.7" cy="591.5" r="2.00" fill="#000"/>
<circle cx="553.4" cy="588.9" r="2.00" fill="#000"/>
<circle cx="543.1" cy="586.0" r="2.00" fill="#000"/>
<circle cx="541.0" cy="593.3" r="2.00" fill="#000"/>
<circle cx="537.3" cy="598.8" r="2.00" fill="#000"/>
<circle cx="525.0" cy="586.7" r="2.00" fill="#000"/>
<circle cx="539.8" cy="595.4" r="2.00" fill="#000"/>
<circle cx="559.8" cy="589.3" r="2.00" fill="#000"/>
<circle cx="510.7" cy="584.7" r="2.00" fill="#000"/>
<circle cx="584.5" cy="588.0" r="2.00" fill="#000"/>
<circle cx="516.1" cy="595.3" r="2.00" fill="#000"/>
<circle cx="554.5" cy="590.3" r="2.00" fill="#000"/>
<circle cx="525.7" cy="586.1" r="2.00" fill="#000"/>
<circle cx="502.9" cy="580.4" r="2.00" fill="#000"/>
<circle cx="520.2" cy="581.6" r="2.00" fill="#000"/>
<circle cx="543.1" cy="593.3" r="2.00" fill="#000"/>
<circle cx="541.3" cy="595.9" r="2.00" fill="#000"/>
<circle cx="525.7" cy="593.9" r="2.00" fill="#000"/>
<circle cx="527.8" cy="593.6" r="2.00" fill="#000"/>
<circle cx="535.2" cy="597.3" r="2.00" fill="#000"/>
<circle cx="522.7" cy="588.5" r="2.00" fill="#000"/>
<circle cx="542.0" cy="589.2" r="2.00" fill="#000"/>
<circle cx="522.3" cy="593.1" r="2.00" fill="#000"/>
<circle cx="504.4" cy="587.2" r="2.00" fill="#000"/>
<circle cx="564.9" cy="588.7" r="2.00" fill="#000"/>
<circle cx="551.6" cy="591.9" r="2.00" fill="#000"/>
<circle cx="550.7" cy="592.2" r="2.00" fill="#000"/>
<circle cx="540.1" cy="597.0" r="2.00" fill="#000"/>
<circle cx="565.4" cy="590.1" r="2.00" fill="#000"/>
<circle cx="524.7" cy="590.2" r="2.00" fill="#000"/>
<circle cx="564.2" cy="588.8" r="2.00" fill="#000"/>
<circle cx="575.4" cy="581.8" r="2.00" fill="#000"/>
<circle cx="531.8" cy="598.4" r="2.00" fill="#000"/>
<circle cx="497.7" cy="586.6" r="2.00" fill="#000"/>
<circle cx="532.7" cy="587.0" r="2.00" fill="#000"/>
<circle cx="543.9" cy="593.2" r="2.00" fill="#000"/>
<circle cx="541.7" cy="598.4" r="2.00" fill="#000"/>
<circle cx="515.8" cy="588.8" r="2.00" fill="#000"/>
<circle cx="539.1" cy="598.8" r="2.00" fill="#000"/>
<circle cx="544.2" cy="588.8" r="2.00" fill="#000"/>
<circle cx="554.8" cy="588.8" r="2.00" fill="#000"/>
<circle cx="541.9" cy="593.2" r="2.00" fill="#000"/>
<circle cx="558.2" cy="591.4" r="2.00" fill="#000"/>
<circle cx="561.2" cy="583.2" r="2.00" fill="#000"/>
<circle cx="533.3" cy="596.0" r="2.00" fill="#000"/>
<circle cx="529.4" cy="592.1" r="2.00" fill="#000"/>
<circle cx="534.2" cy="594.9" r="2.00" fill="#000"/>
<circle cx="519.8" cy="581.2" r="2.00" fill="#000"/>
<circle cx="541.0" cy="596.1" r="2.00" fill="#000"/>
<circle cx="554.3" cy="592.8" r="2.00" fill="#000"/>
<circle cx="542.8" cy="590.9" r="2.00" fill="#000"/>
<circle cx="539.7" cy="596.7" r="2.00" fill="#000"/>
<circle cx="557.4" cy="590.8" r="2.00" fill="#000"/>
<circle cx="518.2" cy="592.3" r="2.00" fill="#000"/>
<circle cx="501.2" cy="582.7" r="2.00" fill="#000"/>
<circle cx="514.9" cy="581.0" r="2.00" fill="#000"/>
<circle cx="497.6" cy="587.7" r="2.00" fill="#000"/>
<circle cx="533.1" cy="593.0" r="2.00" fill="#000"/>
<circle cx="532.6" cy="592.8" r="2.00" fill="#000"/>
<circle cx="556.1" cy="590.4" r="2.00" fill="#000"/>
<circle cx="545.6" cy="588.1" r="2.00" fill="#000"/>
<circle cx="536.6" cy="597.8" r="2.00" fill="#000"/>
<circle cx="549.7" cy="588.2" r="2.00" fill="#000"/>
<circle cx="552.7" cy="592.5" r="2.00" fill="#000"/>
<circle cx="563.1" cy="593.9" r="2.00" fill="#000"/>
<circle cx="527.8" cy="594.8" r="2.00" fill="#000"/>
<circle cx="555.4" cy="585.9" r="2.00" fill="#000"/>
<circle cx="531.4" cy="586.4" r="2.00" fill="#000"/>
<circle cx="515.6" cy="596.0" r="2.00" fill="#000"/>
<circle cx="524.6" cy="596.5" r="2.00" fill="#000"/>
<circle cx="550.1" cy="589.5" r="2.00" fill="#000"/>
<circle cx="559.6" cy="585.6" r="2.00" fill="#000"/>
<circle cx="546.2" cy="588.5" r="2.00" fill="#000"/>
<circle cx="532.0" cy="598.4" r="2.00" fill="#000"/>
<circle cx="551.6" cy="590.5" r="2.00" fill="#000"/>
<circle cx="557.8" cy="591.5" r="2.00" fill="#000"/>
<circle cx="523.2" cy="584.6" r="2.00" fill="#000"/>
<circle cx="547.1" cy="585.7" r="2.00" fill="#000"/>
<circle cx="558.4" cy="579.8" r="2.00" fill="#000"/>
<circle cx="522.5" cy="580.0" r="2.00" fill="#000"/>
<circle cx="557.6" cy="582.7" r="2.00" fill="#000"/>
<circle cx="520.2" cy="588.9" r="2.00" fill="#000"/>
<circle cx="519.6" cy="588.8" r="2.00" fill="#000"/>
<circle cx="532.8" cy="587.2" r="2.00" fill="#000"/>
<circle cx="574.0" cy="586.8" r="2.00" fill="#000"/>
<circle cx="543.1" cy="596.7" r="2.00" fill="#000"/>
<circle cx="535.8" cy="596.3" r="2.00" fill="#000"/>
<circle cx="532.2" cy="584.4" r="2.00" fill="#000"/>
<circle cx="555.5" cy="594.0" r="2.00" fill="#000"/>
<circle cx="543.5" cy="588.9" r="2.00" fill="#000"/>
<circle cx="551.5" cy="592.7" r="2.00" fill="#000"/>
<circle cx="562.5" cy="588.5" r="2.00" fill="#000"/>
<circle cx="538.8" cy="598.8" r="2.00" fill="#000"/>
<circle cx="511.1" cy="585.7" r="2.00" fill="#000"/>
<circle cx="539.8" cy="596.5" r="2.00" fill="#000"/>
<circle cx="505.3" cy="579.5" r="2.00" fill="#000"/>
<circle cx="525.3" cy="590.8" r="2.00" fill="#000"/>
<circle cx="516.0" cy="590.2" r="2.00" fill="#000"/>
<circle cx="571.3" cy="582.7" r="2.00" fill="#000"/>
<circle cx="528.9" cy="579.7" r="2.00" fill="#000"/>
<circle cx="511.4" cy="581.6" r="2.00" fill="#000"/>
<circle cx="553.0" cy="587.7" r="2.00" fill="#000"/>
<circle cx="561.0" cy="585.8" r="2.00" fill="#000"/>
<circle cx="528.0" cy="583.3" r="2.00" fill="#000"/>
<circle cx="550.1" cy="587.1" r="2.00" fill="#000"/>
<circle cx="539.8" cy="597.5" r="2.00" fill="#000"/>
<circle cx="553.0" cy="593.7" r="2.00" fill="#000"/>
<circle cx="528.8" cy="596.9" r="2.00" fill="#000"/>
<circle cx="546.7" cy="584.1" r="2.00" fill="#000"/>
<circle cx="542.4" cy="597.4" r="2.00" fill="#000"/>
<circle cx="507.4" cy="586.3" r="2.00" fill="#000"/>
<circle cx="548.5" cy="594.5" r="2.00" fill="#000"/>
<circle cx="564.3" cy="594.4" r="2.00" fill="#000"/>
<circle cx="510.0" cy="590.3" r="2.00" fill="#000"/>
<circle cx="504.7" cy="587.2" r="2.00" fill="#000"/>
<circle cx="537.1" cy="597.9" r="2.00" fill="#000"/>
<circle cx="538.3" cy="599.1" r="2.00" fill="#000"/>
<circle cx="568.9" cy="588.5" r="2.00" fill="#000"/>
<circle cx="540.8" cy="593.3" r="2.00" fill="#000"/>
<circle cx="502.1" cy="584.4" r="2.00" fill="#000"/>
<circle cx="512.5" cy="584.7" r="2.00" fill="#000"/>
<circle cx="552.9" cy="581.8" r="2.00" fill="#000"/>
<circle cx="541.8" cy="595.0" r="2.00" fill="#000"/>
<circle cx="529.3" cy="584.8" r="2.00" fill="#000"/>
<circle cx="540.1" cy="599.0" r="2.00" fill="#000"/>
<circle cx="550.8" cy="586.1" r="2.00" fill="#000"/>
<circle cx="585.8" cy="586.5" r="2.00" fill="#000"/>
<circle cx="520.4" cy="584.1" r="2.00" fill="#000"/>
<circle cx="515.2" cy="588.6" r="2.00" fill="#000"/>
<circle cx="551.7" cy="580.2" r="2.00" fill="#000"/>
<circle cx="544.7" cy="586.1" r="2.00" fill="#000"/>
<circle cx="542.8" cy="594.9" r="2.00" fill="#000"/>
<circle cx="542.5" cy="590.4" r="2.00" fill="#000"/>
<circle cx="548.3" cy="591.0" r="2.00" fill="#000"/>
<circle cx="538.3" cy="599.2" r="2.00" fill="#000"/>
<circle cx="517.6" cy="589.3" r="2.00" fill="#000"/>
<circle cx="532.9" cy="594.3" r="2.00" fill="#000"/>
<circle cx="550.0" cy="591.8" r="2.00" fill="#000"/>
<circle cx="504.1" cy="587.1" r="2.00" fill="#000"/>
<circle cx="514.7" cy="579.3" r="2.00" fill="#000"/>
<circle cx="516.8" cy="589.0" r="2.00" fill="#000"/>
<circle cx="530.4" cy="582.7" r="2.00" fill="#000"/>
<circle cx="516.2" cy="593.4" r="2.00" fill="#000"/>
<circle cx="542.8" cy="587.6" r="2.00" fill="#000"/>
<circle cx="546.7" cy="592.7" r="2.00" fill="#000"/>
<circle cx="529.1" cy="591.2" r="2.00" fill="#000"/>
<circle cx="539.4" cy="599.1" r="2.00" fill="#000"/>
<circle cx="529.0" cy="585.6" r="2.00" fill="#000"/>
<circle cx="534.4" cy="596.2" r="2.00" fill="#000"/>
<circle cx="541.7" cy="595.1" r="2.00" fill="#000"/>
<circle cx="560.3" cy="591.1" r="2.00" fill="#000"/>
<circle cx="545.3" cy="581.9" r="2.00" fill="#000"/>
<circle cx="540.9" cy="596.6" r="2.00" fill="#000"/>
<circle cx="549.3" cy="588.1" r="2.00" fill="#000"/>
<circle cx="544.4" cy="582.6" r="2.00" fill="#000"/>
<circle cx="550.0" cy="588.0" r="2.00" fill="#000"/>
<circle cx="575.2" cy="586.1" r="2.00" fill="#000"/>
<circle cx="545.4" cy="597.2" r="2.00" fill="#000"/>
<circle cx="520.8" cy="586.5" r="2.00" fill="#000"/>
<circle cx="524.0" cy="591.8" r="2.00" fill="#000"/>
<circle cx="516.5" cy="580.0" r="2.00" fill="#000"/>
<circle cx="579.0" cy="585.0" r="2.00" fill="#000"/>
<circle cx="492.7" cy="580.5" r="2.00" fill="#000"/>
<circle cx="536.8" cy="599.1" r="2.00" fill="#000"/>
<circle cx="527.0" cy="594.3" r="2.00" fill="#000"/>
<circle cx="544.2" cy="592.4" r="2.00" fill="#000"/>
<circle cx="543.8" cy="587.4" r="2.00" fill="#000"/>
<circle cx="530.2" cy="598.5" r="2.00" fill="#000"/>
<circle cx="559.9" cy="592.1" r="2.00" fill="#000"/>
<circle cx="541.4" cy="594.2" r="2.00" fill="#000"/>
<circle cx="551.1" cy="583.5" r="2.00" fill="#000"/>
<circle cx="507.3" cy="587.5" r="2.00" fill="#000"/>
<circle cx="550.4" cy="583.0" r="2.00" fill="#000"/>
<circle cx="504.9" cy="579.2" r="2.00" fill="#000"/>
<circle cx="576.3" cy="586.1" r="2.00" fill="#000"/>
<circle cx="566.3" cy="583.2" r="2.00" fill="#000"/>
<circle cx="538.5" cy="599.2" r="2.00" fill="#000"/>
<circle cx="580.4" cy="583.3" r="2.00" fill="#000"/>
<circle cx="541.4" cy="595.6" r="2.00" fill="#000"/>
<circle cx="557.4" cy="584.6" r="2.00" fill="#000"/>
<circle cx="545.4" cy="585.8" r="2.00" fill="#000"/>
<circle cx="521.8" cy="590.1" r="2.00" fill="#000"/>
<circle cx="531.1" cy="592.2" r="2.00" fill="#000"/>
<circle cx="579.3" cy="589.3" r="2.00" fill="#000"/>
<circle cx="522.8" cy="593.0" r="2.00" fill="#000"/>
<circle cx="565.7" cy="582.7" r="2.00" fill="#000"/>
<circle cx="511.1" cy="591.9" r="2.00" fill="#000"/>
<circle cx="530.4" cy="596.0" r="2.00" fill="#000"/>
<circle cx="549.7" cy="589.0" r="2.00" fill="#000"/>
<circle cx="552.5" cy="597.8" r="2.00" fill="#000"/>
<circle cx="519.3" cy="590.5" r="2.00" fill="#000"/>
<circle cx="538.4" cy="599.1" r="2.00" fill="#000"/>
<circle cx="551.0" cy="581.0" r="2.00" fill="#000"/>
<circle cx="534.9" cy="596.2" r="2.00" fill="#000"/>
<circle cx="538.9" cy="597.5" r="2.00" fill="#000"/>
<circle cx="529.6" cy="589.2" r="2.00" fill="#000"/>
<circle cx="551.7" cy="589.3" r="2.00" fill="#000"/>
<circle cx="535.6" cy="594.8" r="2.00" fill="#000"/>
<circle cx="545.3" cy="585.3" r="2.00" fill="#000"/>
<circle cx="552.3" cy="579.9" r="2.00" fill="#000"/>
<circle cx="533.4" cy="594.2" r="2.00" fill="#000"/>
<circle cx="549.6" cy="579.2" r="2.00" fill="#000"/>
<circle cx="554.8" cy="589.6" r="2.00" fill="#000"/>
<circle cx="560.3" cy="584.6" r="2.00" fill="#000"/>
<circle cx="544.9" cy="583.0" r="2.00" fill="#000"/>
<circle cx="564.3" cy="581.1" r="2.00" fill="#000"/>
<circle cx="523.1" cy="586.3" r="2.00" fill="#000"/>
<circle cx="522.3" cy="595.0" r="2.00" fill="#000"/>
<circle cx="553.9" cy="588.3" r="2.00" fill="#000"/>
<circle cx="513.8" cy="584.1" r="2.00" fill="#000"/>
<circle cx="522.3" cy="592.6" r="2.00" fill="#000"/>
<circle cx="547.8" cy="586.0" r="2.00" fill="#000"/>
<circle cx="518.1" cy="596.3" r="2.00" fill="#000"/>
<circle cx="528.6" cy="585.5" r="2.00" fill="#000"/>
<circle cx="514.5" cy="585.3" r="2.00" fill="#000"/>
<circle cx="547.0" cy="580.2" r="2.00" fill="#000"/>
<circle cx="551.0" cy="579.2" r="2.00" fill="#000"/>
<circle cx="556.1" cy="583.3" r="2.00" fill="#000"/>
<circle cx="526.7" cy="579.2" r="2.00" fill="#000"/>
<circle cx="567.4" cy="587.7" r="2.00" fill="#000"/>
<circle cx="545.3" cy="580.1" r="2.00" fill="#000"/>
<circle cx="531.3" cy="589.6" r="2.00" fill="#000"/>
<circle cx="542.3" cy="591.6" r="2.00" fill="#000"/>
<circle cx="575.0" cy="579.8" r="2.00" fill="#000"/>
<circle cx="554.9" cy="587.2" r="2.00" fill="#000"/>
<circle cx="508.8" cy="579.1" r="2.00" fill="#000"/>
<circle cx="574.0" cy="582.5" r="2.00" fill="#000"/>
<circle cx="553.9" cy="592.1" r="2.00" fill="#000"/>
<circle cx="546.0" cy="587.2" r="2.00" fill="#000"/>
<circle cx="519.1" cy="581.2" r="2.00" fill="#000"/>
<circle cx="543.8" cy="588.8" r="2.00" fill="#000"/>
<circle cx="553.2" cy="596.0" r="2.00" fill="#000"/>
<circle cx="507.2" cy="586.1" r="2.00" fill="#000"/>
<circle cx="527.3" cy="592.8" r="2.00" fill="#000"/>
<circle cx="550.2" cy="582.9" r="2.00" fill="#000"/>
<circle cx="503.1" cy="584.7" r="2.00" fill="#000"/>
<circle cx="566.9" cy="591.9" r="2.00" fill="#000"/>
<circle cx="519.7" cy="589.7" r="2.00" fill="#000"/>
<circle cx="542.9" cy="594.0" r="2.00" fill="#000"/>
<circle cx="541.7" cy="590.8" r="2.00" fill="#000"/>
<circle cx="543.5" cy="595.8" r="2.00" fill="#000"/>
<circle cx="530.4" cy="590.2" r="2.00" fill="#000"/>
<circle cx="554.1" cy="580.6" r="2.00" fill="#000"/>
<circle cx="517.3" cy="595.2" r="2.00" fill="#000"/>
<circle cx="551.6" cy="585.3" r="2.00" fill="#000"/>
<circle cx="537.7" cy="599.1" r="2.00" fill="#000"/>
<circle cx="536.9" cy="597.6" r="2.00" fill="#000"/>
<circle cx="526.2" cy="589.0" r="2.00" fill="#000"/>
<circle cx="555.9" cy="590.7" r="2.00" fill="#000"/>
<circle cx="540.3" cy="595.4" r="2.00" fill="#000"/>
<circle cx="534.1" cy="591.9" r="2.00" fill="#000"/>
<circle cx="564.1" cy="591.9" r="2.00" fill="#000"/>
<circle cx="559.0" cy="587.6" r="2.00" fill="#000"/>
<circle cx="559.8" cy="593.8" r="2.00" fill="#000"/>
<circle cx="572.5" cy="584.0" r="2.00" fill="#000"/>
<circle cx="568.8" cy="588.1" r="2.00" fill="#000"/>
<circle cx="559.2" cy="583.9" r="2.00" fill="#000"/>
<circle cx="537.1" cy="598.6" r="2.00" fill="#000"/>
<circle cx="520.7" cy="589.0" r="2.00" fill="#000"/>
<circle cx="555.0" cy="588.7" r="2.00" fill="#000"/>
<circle cx="560.1" cy="581.8" r="2.00" fill="#000"/>
<circle cx="521.0" cy="587.3" r="2.00" fill="#000"/>
<circle cx="550.1" cy="580.0" r="2.00" fill="#000"/>
<circle cx="521.8" cy="592.4" r="2.00" fill="#000"/>
<circle cx="563.1" cy="585.4" r="2.00" fill="#000"/>
<circle cx="530.3" cy="592.0" r="2.00" fill="#000"/>
<circle cx="576.4" cy="580.7" r="2.00" fill="#000"/>
<circle cx="529.3" cy="580.2" r="2.00" fill="#000"/>
<circle cx="519.9" cy="589.3" r="2.00" fill="#000"/>
<circle cx="537.6" cy="599.0" r="2.00" fill="#000"/>
<circle cx="512.9" cy="594.5" r="2.00" fill="#000"/>
<circle cx="525.2" cy="588.8" r="2.00" fill="#000"/>
<circle cx="546.2" cy="579.8" r="2.00" fill="#000"/>
<circle cx="530.8" cy="585.8" r="2.00" fill="#000"/>
<circle cx="566.9" cy="590.3" r="2.00" fill="#000"/>
<circle cx="530.1" cy="580.8" r="2.00" fill="#000"/>
<circle cx="544.0" cy="594.2" r="2.00" fill="#000"/>
<circle cx="523.4" cy="582.0" r="2.00" fill="#000"/>
<circle cx="547.0" cy="581.6" r="2.00" fill="#000"/>
<circle cx="518.5" cy="594.8" r="2.00" fill="#000"/>
<circle cx="525.8" cy="580.8" r="2.00" fill="#000"/>
<circle cx="554.1" cy="589.7" r="2.00" fill="#000"/>
<circle cx="548.2" cy="583.8" r="2.00" fill="#000"/>
<circle cx="530.2" cy="580.8" r="2.00" fill="#000"/>
<circle cx="523.4" cy="579.9" r="2.00" fill="#000"/>
<circle cx="565.3" cy="586.9" r="2.00" fill="#000"/>
<circle cx="542.6" cy="594.2" r="2.00" fill="#000"/>
<circle cx="522.5" cy="584.5" r="2.00" fill="#000"/>
<circle cx="542.3" cy="592.0" r="2.00" fill="#000"/>
<circle cx="529.0" cy="579.2" r="2.00" fill="#000"/>
<circle cx="510.4" cy="584.1" r="2.00" fill="#000"/>
<circle cx="560.6" cy="583.7" r="2.00" fill="#000"/>
<circle cx="545.7" cy="588.6" r="2.00" fill="#000"/>
<circle cx="538.6" cy="598.8" r="2.00" fill="#000"/>
<circle cx="531.2" cy="581.7" r="2.00" fill="#000"/>
<circle cx="527.6" cy="593.5" r="2.00" fill="#000"/>
<circle cx="531.4" cy="591.3" r="2.00" fill="#000"/>
<circle cx="546.4" cy="583.5" r="2.00" fill="#000"/>
<circle cx="548.6" cy="585.1" r="2.00" fill="#000"/>
<circle cx="544.4" cy="587.9" r="2.00" fill="#000"/>
<circle cx="524.1" cy="582.2" r="2.00" fill="#000"/>
<circle cx="534.7" cy="597.8" r="2.00" fill="#000"/>
<circle cx="506.0" cy="586.3" r="2.00" fill="#000"/>
<circle cx="576.2" cy="579.7" r="2.00" fill="#000"/>
<circle cx="542.4" cy="588.9" r="2.00" fill="#000"/>
<circle cx="556.2" cy="586.7" r="2.00" fill="#000"/>
<circle cx="541.4" cy="594.3" r="2.00" fill="#000"/>
<circle cx="564.4" cy="589.8" r="2.00" fill="#000"/>
<circle cx="560.3" cy="586.8" r="2.00" fill="#000"/>
<circle cx="556.2" cy="594.3" r="2.00" fill="#000"/>
<circle cx="556.1" cy="595.3" r="2.00" fill="#000"/>
<circle cx="522.8" cy="582.7" r="2.00" fill="#000"/>
<circle cx="537.5" cy="599.0" r="2.00" fill="#000"/>
<circle cx="533.2" cy="595.8" r="2.00" fill="#000"/>
<circle cx="541.9" cy="594.1" r="2.00" fill="#000"/>
<circle cx="518.9" cy="581.4" r="2.00" fill="#000"/>
<circle cx="531.1" cy="596.4" r="2.00" fill="#000"/>
<circle cx="545.2" cy="580.9" r="2.00" fill="#000"/>
<circle cx="529.7" cy="587.4" r="2.00" fill="#000"/>
<circle cx="516.9" cy="581.2" r="2.00" fill="#000"/>
<circle cx="553.2" cy="579.6" r="2.00" fill="#000"/>
<circle cx="536.3" cy="598.4" r="2.00" fill="#000"/>
<circle cx="540.1" cy="595.0" r="2.00" fill="#000"/>
<circle cx="535.7" cy="598.1" r="2.00" fill="#000"/>
<circle cx="508.7" cy="585.7" r="2.00" fill="#000"/>
<circle cx="547.7" cy="591.7" r="2.00" fill="#000"/>
<circle cx="540.3" cy="593.8" r="2.00" fill="#000"/>
<circle cx="515.7" cy="595.5" r="2.00" fill="#000"/>
<circle cx="509.8" cy="587.6" r="2.00" fill="#000"/>
<circle cx="551.7" cy="595.3" r="2.00" fill="#000"/>
<circle cx="545.7" cy="580.4" r="2.00" fill="#000"/>
<circle cx="528.2" cy="585.0" r="2.00" fill="#000"/>
<circle cx="558.1" cy="580.8" r="2.00" fill="#000"/>
<circle cx="562.0" cy="586.8" r="2.00" fill="#000"/>
<circle cx="530.5" cy="581.2" r="2.00" fill="#000"/>
<circle cx="526.0" cy="583.5" r="2.00" fill="#000"/>
<circle cx="548.6" cy="592.5" r="2.00" fill="#000"/>
<circle cx="525.1" cy="588.1" r="2.00" fill="#000"/>
<circle cx="553.6" cy="590.1" r="2.00" fill="#000"/>
<circle cx="519.8" cy="596.1" r="2.00" fill="#000"/>
<circle cx="547.5" cy="581.8" r="2.00" fill="#000"/>
<circle cx="560.3" cy="586.2" r="2.00" fill="#000"/>
<circle cx="547.5" cy="589.7" r="2.00" fill="#000"/>
<circle cx="540.2" cy="597.0" r="2.00" fill="#000"/>
<circle cx="547.2" cy="591.4" r="2.00" fill="#000"/>
<circle cx="525.0" cy="583.3" r="2.00" fill="#000"/>
<circle cx="540.1" cy="596.6" r="2.00" fill="#000"/>
<circle cx="558.1" cy="579.6" r="2.00" fill="#000"/>
<circle cx="539.8" cy="599.1" r="2.00" fill="#000"/>
<circle cx="498.3" cy="586.2" r="2.00" fill="#000"/>
<circle cx="511.8" cy="585.0" r="2.00" fill="#000"/>
<circle cx="527.7" cy="585.8" r="2.00" fill="#000"/>
<circle cx="550.5" cy="586.1" r="2.00" fill="#000"/>
<circle cx="529.8" cy="587.6" r="2.00" fill="#000"/>
<circle cx="559.2" cy="582.9" r="2.00" fill="#000"/>
<circle cx="546.6" cy="592.7" r="2.00" fill="#000"/>
<circle cx="541.4" cy="596.3" r="2.00" fill="#000"/>
<circle cx="544.3" cy="584.6" r="2.00" fill="#000"/>
<circle cx="519.4" cy="589.0" r="2.00" fill="#000"/>
<circle cx="532.3" cy="597.2" r="2.00" fill="#000"/>
<circle cx="566.7" cy="579.3" r="2.00" fill="#000"/>
<circle cx="547.0" cy="591.4" r="2.00" fill="#000"/>
<circle cx="523.9" cy="582.0" r="2.00" fill="#000"/>
<circle cx="545.2" cy="597.3" r="2.00" fill="#000"/>
<circle cx="512.2" cy="582.5" r="2.00" fill="#000"/>
<circle cx="564.1" cy="585.7" r="2.00" fill="#000"/>
<circle cx="546.6" cy="580.3" r="2.00" fill="#000"/>
<circle cx="536.1" cy="594.9" r="2.00" fill="#000"/>
<circle cx="535.6" cy="594.6" r="2.00" fill="#000"/>
<circle cx="536.9" cy="597.5" r="2.00" fill="#000"/>
<circle cx="537.7" cy="599.2" r="2.00" fill="#000"/>
<circle cx="515.3" cy="580.3" r="2.00" fill="#000"/>
<circle cx="568.3" cy="586.9" r="2.00" fill="#000"/>
<circle cx="553.7" cy="583.1" r="2.00" fill="#000"/>
<circle cx="523.7" cy="588.7" r="2.00" fill="#000"/>
<circle cx="553.1" cy="595.0" r="2.00" fill="#000"/>
<circle cx="525.5" cy="596.4" r="2.00" fill="#000"/>
<circle cx="566.7" cy="592.6" r="2.00" fill="#000"/>
<circle cx="552.9" cy="586.7" r="2.00" fill="#000"/>
<circle cx="514.3" cy="593.7" r="2.00" fill="#000"/>
<circle cx="550.7" cy="579.8" r="2.00" fill="#000"/>
<circle cx="549.8" cy="586.6" r="2.00" fill="#000"/>
<circle cx="550.3" cy="589.3" r="2.00" fill="#000"/>
<circle cx="532.5" cy="590.8" r="2.00" fill="#000"/>
<circle cx="543.9" cy="585.6" r="2.00" fill="#000"/>
<circle cx="530.4" cy="588.5" r="2.00" fill="#000"/>
<circle cx="558.5" cy="589.2" r="2.00" fill="#000"/>
<circle cx="542.6" cy="590.7" r="2.00" fill="#000"/>
<circle cx="558.7" cy="584.0" r="2.00" fill="#000"/>
<circle cx="529.0" cy="590.0" r="2.00" fill="#000"/>
<circle cx="540.3" cy="595.0" r="2.00" fill="#000"/>
<circle cx="529.8" cy="594.6" r="2.00" fill="#000"/>
<circle cx="527.7" cy="590.7" r="2.00" fill="#000"/>
<circle cx="532.1" cy="595.8" r="2.00" fill="#000"/>
<circle cx="523.7" cy="587.2" r="2.00" fill="#000"/>
<circle cx="559.3" cy="589.0" r="2.00" fill="#000"/>
<circle cx="506.0" cy="587.9" r="2.00" fill="#000"/>
<circle cx="522.2" cy="586.0" r="2.00" fill="#000"/>
<circle cx="545.2" cy="591.7" r="2.00" fill="#000"/>
<circle cx="534.2" cy="596.1" r="2.00" fill="#000"/>
<circle cx="525.5" cy="583.6" r="2.00" fill="#000"/>
<circle cx="525.6" cy="596.6" r="2.00" fill="#000"/>
<circle cx="532.0" cy="586.0" r="2.00" fill="#000"/>
<circle cx="517.0" cy="588.2" r="2.00" fill="#000"/>
<circle cx="559.7" cy="585.1" r="2.00" fill="#000"/>
<circle cx="519.7" cy="580.5" r="2.00" fill="#000"/>
<circle cx="517.5" cy="591.9" r="2.00" fill="#000"/>
<circle cx="544.7" cy="585.4" r="2.00" fill="#000"/>
<circle cx="551.7" cy="581.6" r="2.00" fill="#000"/>
<circle cx="548.4" cy="597.5" r="2.00" fill="#000"/>
<circle cx="530.8" cy="587.8" r="2.00" fill="#000"/>
<circle cx="515.3" cy="589.8" r="2.00" fill="#000"/>
<circle cx="565.8" cy="582.4" r="2.00" fill="#000"/>
<circle cx="576.7" cy="581.2" r="2.00" fill="#000"/>
<circle cx="565.9" cy="590.9" r="2.00" fill="#000"/>
<circle cx="557.9" cy="592.7" r="2.00" fill="#000"/>
<circle cx="513.2" cy="593.4" r="2.00" fill="#000"/>
<circle cx="533.0" cy="588.9" r="2.00" fill="#000"/>
<circle cx="503.2" cy="580.0" r="2.00" fill="#000"/>
<circle cx="518.5" cy="584.0" r="2.00" fill="#000"/>
<circle cx="508.0" cy="582.9" r="2.00" fill="#000"/>
<circle cx="573.9" cy="588.1" r="2.00" fill="#000"/>
<circle cx="557.9" cy="591.4" r="2.00" fill="#000"/>
<circle cx="514.7" cy="591.2" r="2.00" fill="#000"/>
<circle cx="562.1" cy="591.0" r="2.00" fill="#000"/>
<circle cx="541.7" cy="595.9" r="2.00" fill="#000"/>
<circle cx="538.5" cy="598.9" r="2.00" fill="#000"/>
<circle cx="548.8" cy="592.1" r="2.00" fill="#000"/>
<circle cx="535.3" cy="595.5" r="2.00" fill="#000"/>
<circle cx="553.7" cy="581.1" r="2.00" fill="#000"/>
<circle cx="558.9" cy="581.3" r="2.00" fill="#000"/>
<circle cx="570.5" cy="584.2" r="2.00" fill="#000"/>
<circle cx="508.9" cy="585.7" r="2.00" fill="#000"/>
<circle cx="530.3" cy="585.0" r="2.00" fill="#000"/>
<circle cx="567.4" cy="589.9" r="2.00" fill="#000"/>
<circle cx="522.7" cy="596.5" r="2.00" fill="#000"/>
<circle cx="555.3" cy="582.5" r="2.00" fill="#000"/>
<circle cx="531.7" cy="594.3" r="2.00" fill="#000"/>
<circle cx="521.2" cy="583.5" r="2.00" fill="#000"/>
<circle cx="544.0" cy="584.3" r="2.00" fill="#000"/>
<circle cx="514.1" cy="589.3" r="2.00" fill="#000"/>
<circle cx="543.9" cy="596.7" r="2.00" fill="#000"/>
<circle cx="585.0" cy="579.5" r="2.00" fill="#000"/>
<circle cx="534.6" cy="591.5" r="2.00" fill="#000"/>
<circle cx="532.5" cy="597.0" r="2.00" fill="#000"/>
<circle cx="529.9" cy="579.2" r="2.00" fill="#000"/>
<circle cx="534.8" cy="596.3" r="2.00" fill="#000"/>
<circle cx="543.4" cy="589.3" r="2.00" fill="#000"/>
<circle cx="533.8" cy="598.0" r="2.00" fill="#000"/>
<circle cx="563.0" cy="579.3" r="2.00" fill="#000"/>
<circle cx="543.3" cy="589.3" r="2.00" fill="#000"/>
<circle cx="559.2" cy="586.7" r="2.00" fill="#000"/>
<circle cx="512.3" cy="594.1" r="2.00" fill="#000"/>
<circle cx="526.7" cy="587.3" r="2.00" fill="#000"/>
<circle cx="536.6" cy="598.0" r="2.00" fill="#000"/>
<circle cx="526.0" cy="584.1" r="2.00" fill="#000"/>
<circle cx="538.8" cy="598.6" r="2.00" fill="#000"/>
<circle cx="531.0" cy="589.1" r="2.00" fill="#000"/>
<circle cx="539.4" cy="597.4" r="2.00" fill="#000"/>
<circle cx="562.8" cy="593.1" r="2.00" fill="#000"/>
<circle cx="534.5" cy="596.0" r="2.00" fill="#000"/>
<circle cx="523.5" cy="580.1" r="2.00" fill="#000"/>
<circle cx="564.1" cy="579.4" r="2.00" fill="#000"/>
<circle cx="579.9" cy="580.5" r="2.00" fill="#000"/>
<circle cx="525.3" cy="580.1" r="2.00" fill="#000"/>
<circle cx="560.6" cy="585.4" r="2.00" fill="#000"/>
<circle cx="541.5" cy="592.9" r="2.00" fill="#000"/>
<circle cx="518.7" cy="580.1" r="2.00" fill="#000"/>
<circle cx="521.6" cy="595.5" r="2.00" fill="#000"/>
<circle cx="532.9" cy="598.4" r="2.00" fill="#000"/>
<circle cx="568.0" cy="579.6" r="2.00" fill="#000"/>
<circle cx="563.5" cy="595.3" r="2.00" fill="#000"/>
<circle cx="573.8" cy="582.8" r="2.00" fill="#000"/>
<circle cx="545.8" cy="587.5" r="2.00" fill="#000"/>
<circle cx="510.6" cy="581.8" r="2.00" fill="#000"/>
<circle cx="523.2" cy="598.1" r="2.00" fill="#000"/>
<circle cx="569.5" cy="579.4" r="2.00" fill="#000"/>
<circle cx="552.7" cy="581.8" r="2.00" fill="#000"/>
<circle cx="524.3" cy="590.5" r="2.00" fill="#000"/>
<circle cx="548.1" cy="598.2" r="2.00" fill="#000"/>
<circle cx="540.6" cy="595.3" r="2.00" fill="#000"/>
<circle cx="523.9" cy="587.1" r="2.00" fill="#000"/>
<circle cx="524.1" cy="588.4" r="2.00" fill="#000"/>
<circle cx="563.2" cy="591.1" r="2.00" fill="#000"/>
<circle cx="547.4" cy="594.8" r="2.00" fill="#000"/>
<circle cx="530.7" cy="593.0" r="2.00" fill="#000"/>
<circle cx="505.6" cy="588.2" r="2.00" fill="#000"/>
<circle cx="543.1" cy="595.3" r="2.00" fill="#000"/>
<circle cx="530.3" cy="587.5" r="2.00" fill="#000"/>
<circle cx="526.5" cy="592.5" r="2.00" fill="#000"/>
<circle cx="547.4" cy="593.1" r="2.00" fill="#000"/>
<circle cx="530.2" cy="591.7" r="2.00" fill="#000"/>
<circle cx="524.0" cy="584.5" r="2.00" fill="#000"/>
<circle cx="565.6" cy="582.0" r="2.00" fill="#000"/>
<circle cx="531.2" cy="585.1" r="2.00" fill="#000"/>
<circle cx="536.8" cy="598.4" r="2.00" fill="#000"/>
<circle cx="542.6" cy="587.5" r="2.00" fill="#000"/>
<circle cx="558.0" cy="589.4" r="2.00" fill="#000"/>
<circle cx="512.7" cy="579.2" r="2.00" fill="#000"/>
<circle cx="571.5" cy="587.2" r="2.00" fill="#000"/>
<circle cx="560.8" cy="582.4" r="2.00" fill="#000"/>
<circle cx="564.0" cy="589.2" r="2.00" fill="#000"/>
<circle cx="543.3" cy="594.3" r="2.00" fill="#000"/>
<circle cx="520.7" cy="585.8" r="2.00" fill="#000"/>
<circle cx="537.5" cy="598.7" r="2.00" fill="#000"/>
<circle cx="517.1" cy="596.6" r="2.00" fill="#000"/>
<circle cx="520.0" cy="595.8" r="2.00" fill="#000"/>
<circle cx="538.8" cy="597.9" r="2.00" fill="#000"/>
<circle cx="546.7" cy="581.1" r="2.00" fill="#000"/>
<circle cx="548.8" cy="579.7" r="2.00" fill="#000"/>
<circle cx="554.5" cy="580.2" r="2.00" fill="#000"/>
<circle cx="531.4" cy="595.8" r="2.00" fill="#000"/>
<circle cx="528.5" cy="593.9" r="2.00" fill="#000"/>
<circle cx="493.9" cy="587.8" r="2.00" fill="#000"/>
<circle cx="521.5" cy="583.5" r="2.00" fill="#000"/>
<circle cx="503.2" cy="579.7" r="2.00" fill="#000"/>
<circle cx="521.1" cy="594.7" r="2.00" fill="#000"/>
<circle cx="543.9" cy="594.0" r="2.00" fill="#000"/>
<circle cx="545.5" cy="594.3" r="2.00" fill="#000"/>
<circle cx="535.9" cy="597.2" r="2.00" fill="#000"/>
<circle cx="554.2" cy="593.5" r="2.00" fill="#000"/>
<circle cx="543.6" cy="596.6" r="2.00" fill="#000"/>
<circle cx="515.3" cy="585.8" r="2.00" fill="#000"/>
<circle cx="534.7" cy="592.6" r="2.00" fill="#000"/>
<circle cx="493.2" cy="588.2" r="2.00" fill="#000"/>
<circle cx="531.0" cy="593.9" r="2.00" fill="#000"/>
<circle cx="553.2" cy="583.0" r="2.00" fill="#000"/>
<circle cx="546.3" cy="580.3" r="2.00" fill="#000"/>
<circle cx="527.4" cy="591.0" r="2.00" fill="#000"/>
<circle cx="538.4" cy="599.0" r="2.00" fill="#000"/>
<circle cx="529.4" cy="579.5" r="2.00" fill="#000"/>
<circle cx="571.1" cy="586.2" r="2.00" fill="#000"/>
<circle cx="509.3" cy="586.8" r="2.00" fill="#000"/>
<circle cx="516.4" cy="592.6" r="2.00" fill="#000"/>
<circle cx="520.6" cy="596.9" r="2.00" fill="#000"/>
<circle cx="540.2" cy="598.8" r="2.00" fill="#000"/>
<circle cx="519.5" cy="593.6" r="2.00" fill="#000"/>
<circle cx="553.1" cy="593.0" r="2.00" fill="#000"/>
<circle cx="566.2" cy="594.8" r="2.00" fill="#000"/>
<circle cx="545.1" cy="588.8" r="2.00" fill="#000"/>
<circle cx="572.2" cy="583.5" r="2.00" fill="#000"/>
<circle cx="526.9" cy="598.0" r="2.00" fill="#000"/>
<circle cx="541.3" cy="596.2" r="2.00" fill="#000"/>
<circle cx="553.0" cy="585.4" r="2.00" fill="#000"/>
<circle cx="542.5" cy="594.2" r="2.00" fill="#000"/>
<circle cx="512.4" cy="589.6" r="2.00" fill="#000"/>
<circle cx="543.2" cy="593.6" r="2.00" fill="#000"/>
<circle cx="557.4" cy="588.7" r="2.00" fill="#000"/>
<circle cx="521.9" cy="586.8" r="2.00" fill="#000"/>
<circle cx="522.1" cy="580.5" r="2.00" fill="#000"/>
<circle cx="542.9" cy="595.5" r="2.00" fill="#000"/>
<circle cx="573.0" cy="580.5" r="2.00" fill="#000"/>
<circle cx="524.0" cy="594.2" r="2.00" fill="#000"/>
<circle cx="535.6" cy="597.2" r="2.00" fill="#000"/>
<circle cx="553.2" cy="592.5" r="2.00" fill="#000"/>
<circle cx="565.5" cy="585.1" r="2.00" fill="#000"/>
<circle cx="564.0" cy="590.1" r="2.00" fill="#000"/>
<circle cx="577.3" cy="589.9" r="2.00" fill="#000"/>
<circle cx="531.9" cy="589.5" r="2.00" fill="#000"/>
<circle cx="522.4" cy="587.5" r="2.00" fill="#000"/>
<circle cx="558.9" cy="589.2" r="2.00" fill="#000"/>
<circle cx="528.0" cy="598.6" r="2.00" fill="#000"/>
<circle cx="523.6" cy="586.3" r="2.00" fill="#000"/>
<circle cx="539.0" cy="597.9" r="2.00" fill="#000"/>
<circle cx="530.6" cy="588.4" r="2.00" fill="#000"/>
<circle cx="540.6" cy="595.8" r="2.00" fill="#000"/>
<circle cx="506.8" cy="589.2" r="2.00" fill="#000"/>
<circle cx="499.5" cy="585.5" r="2.00" fill="#000"/>
<circle cx="568.1" cy="590.2" r="2.00" fill="#000"/>
<circle cx="556.0" cy="581.8" r="2.00" fill="#000"/>
<circle cx="543.0" cy="587.4" r="2.00" fill="#000"/>
<circle cx="524.7" cy="587.6" r="2.00" fill="#000"/>
<circle cx="517.0" cy="579.9" r="2.00" fill="#000"/>
<circle cx="549.5" cy="587.9" r="2.00" fill="#000"/>
<circle cx="523.0" cy="581.7" r="2.00" fill="#000"/>
<circle cx="540.4" cy="595.9" r="2.00" fill="#000"/>
<circle cx="531.8" cy="594.7" r="2.00" fill="#000"/>
<circle cx="549.2" cy="581.8" r="2.00" fill="#000"/>
<circle cx="556.1" cy="580.4" r="2.00" fill="#000"/>
<circle cx="525.2" cy="583.9" r="2.00" fill="#000"/>
<circle cx="507.4" cy="581.6" r="2.00" fill="#000"/>
<circle cx="542.4" cy="589.7" r="2.00" fill="#000"/>
<circle cx="527.4" cy="591.5" r="2.00" fill="#000"/>
<circle cx="540.3" cy="599.0" r="2.00" fill="#000"/>
<circle cx="581.4" cy="583.8" r="2.00" fill="#000"/>
<circle cx="520.0" cy="585.4" r="2.00" fill="#000"/>
<circle cx="566.8" cy="580.3" r="2.00" fill="#000"/>
<circle cx="563.6" cy="594.4" r="2.00" fill="#000"/>
<circle cx="527.4" cy="584.8" r="2.00" fill="#000"/>
<circle cx="580.4" cy="580.3" r="2.00" fill="#000"/>
<circle cx="573.0" cy="588.0" r="2.00" fill="#000"/>
<circle cx="550.2" cy="583.1" r="2.00" fill="#000"/>
<circle cx="565.6" cy="579.3" r="2.00" fill="#000"/>
<circle cx="531.6" cy="586.5" r="2.00" fill="#000"/>
<circle cx="531.8" cy="597.6" r="2.00" fill="#000"/>
<circle cx="560.6" cy="582.3" r="2.00" fill="#000"/>
<circle cx="514.6" cy="581.0" r="2.00" fill="#000"/>
<circle cx="497.3" cy="582.9" r="2.00" fill="#000"/>
<circle cx="519.5" cy="587.4" r="2.00" fill="#000"/>
<circle cx="525.4" cy="597.6" r="2.00" fill="#000"/>
<circle cx="550.5" cy="594.3" r="2.00" fill="#000"/>
<circle cx="542.6" cy="591.1" r="2.00" fill="#000"/>
<circle cx="525.5" cy="582.8" r="2.00" fill="#000"/>
<circle cx="530.8" cy="592.0" r="2.00" fill="#000"/>
<circle cx="517.1" cy="591.1" r="2.00" fill="#000"/>
<circle cx="549.2" cy="584.4" r="2.00" fill="#000"/>
<circle cx="564.1" cy="579.9" r="2.00" fill="#000"/>
<circle cx="517.5" cy="580.4" r="2.00" fill="#000"/>
<circle cx="576.8" cy="587.4" r="2.00" fill="#000"/>
<circle cx="563.9" cy="579.6" r="2.00" fill="#000"/>
<circle cx="530.8" cy="584.0" r="2.00" fill="#000"/>
<circle cx="531.0" cy="588.5" r="2.00" fill="#000"/>
<circle cx="552.0" cy="587.8" r="2.00" fill="#000"/>
<circle cx="575.7" cy="584.5" r="2.00" fill="#000"/>
<circle cx="547.0" cy="588.4" r="2.00" fill="#000"/>
<circle cx="524.2" cy="593.4" r="2.00" fill="#000"/>
<circle cx="526.3" cy="591.0" r="2.00" fill="#000"/>
<circle cx="531.8" cy="597.3" r="2.00" fill="#000"/>
<circle cx="555.6" cy="586.9" r="2.00" fill="#000"/>
<circle cx="544.4" cy="583.2" r="2.00" fill="#000"/>
<circle cx="526.1" cy="589.5" r="2.00" fill="#000"/>
<circle cx="523.5" cy="592.6" r="2.00" fill="#000"/>
<circle cx="546.5" cy="595.5" r="2.00" fill="#000"/>
<circle cx="512.2" cy="582.5" r="2.00" fill="#000"/>
<circle cx="550.5" cy="586.7" r="2.00" fill="#000"/>
<circle cx="510.3" cy="580.4" r="2.00" fill="#000"/>
<circle cx="503.8" cy="589.0" r="2.00" fill="#000"/>
<circle cx="521.9" cy="587.0" r="2.00" fill="#000"/>
<circle cx="550.7" cy="596.7" r="2.00" fill="#000"/>
<circle cx="568.8" cy="591.5" r="2.00" fill="#000"/>
<circle cx="524.3" cy="583.7" r="2.00" fill="#000"/>
<circle cx="533.9" cy="591.2" r="2.00" fill="#000"/>
<circle cx="525.0" cy="585.0" r="2.00" fill="#000"/>
<circle cx="568.1" cy="583.1" r="2.00" fill="#000"/>
<circle cx="519.2" cy="594.7" r="2.00" fill="#000"/>
<circle cx="544.1" cy="590.7" r="2.00" fill="#000"/>
<circle cx="576.9" cy="590.7" r="2.00" fill="#000"/>
<circle cx="527.5" cy="596.6" r="2.00" fill="#000"/>
<circle cx="535.1" cy="595.6" r="2.00" fill="#000"/>
<circle cx="567.8" cy="592.1" r="2.00" fill="#000"/>
<circle cx="516.5" cy="583.0" r="2.00" fill="#000"/>
<circle cx="549.9" cy="589.5" r="2.00" fill="#000"/>
<circle cx="521.7" cy="585.4" r="2.00" fill="#000"/>
<circle cx="515.4" cy="595.4" r="2.00" fill="#000"/>
<circle cx="536.2" cy="598.8" r="2.00" fill="#000"/>
<circle cx="529.0" cy="588.3" r="2.00" fill="#000"/>
<circle cx="546.0" cy="590.0" r="2.00" fill="#000"/>
<circle cx="539.5" cy="597.5" r="2.00" fill="#000"/>
<circle cx="575.9" cy="580.7" r="2.00" fill="#000"/>
<circle cx="567.7" cy="586.3" r="2.00" fill="#000"/>
<circle cx="524.5" cy="579.3" r="2.00" fill="#000"/>
<circle cx="530.0" cy="595.6" r="2.00" fill="#000"/>
<circle cx="534.2" cy="590.7" r="2.00" fill="#000"/>
<circle cx="551.4" cy="587.5" r="2.00" fill="#000"/>
<circle cx="522.4" cy="580.9" r="2.00" fill="#000"/>
<circle cx="548.9" cy="592.4" r="2.00" fill="#000"/>
<circle cx="546.3" cy="588.8" r="2.00" fill="#000"/>
<circle cx="509.8" cy="588.4" r="2.00" fill="#000"/>
<circle cx="519.4" cy="590.6" r="2.00" fill="#000"/>
<circle cx="546.8" cy="585.6" r="2.00" fill="#000"/>
<circle cx="524.9" cy="582.9" r="2.00" fill="#000"/>
<circle cx="547.3" cy="588.7" r="2.00" fill="#000"/>
<circle cx="500.0" cy="585.5" r="2.00" fill="#000"/>
<circle cx="545.2" cy="590.9" r="2.00" fill="#000"/>
<circle cx="580.4" cy="581.2" r="2.00" fill="#000"/>
<circle cx="507.5" cy="587.5" r="2.00" fill="#000"/>
<circle cx="523.8" cy="591.4" r="2.00" fill="#000"/>
<circle cx="511.1" cy="583.0" r="2.00" fill="#000"/>
<circle cx="565.1" cy="583.9" r="2.00" fill="#000"/>
<circle cx="530.0" cy="589.1" r="2.00" fill="#000"/>
<circle cx="530.9" cy="584.3" r="2.00" fill="#000"/>
<circle cx="527.5" cy="587.1" r="2.00" fill="#000"/>
<circle cx="555.9" cy="583.7" r="2.00" fill="#000"/>
<circle cx="536.5" cy="599.1" r="2.00" fill="#000"/>
<circle cx="510.6" cy="590.3" r="2.00" fill="#000"/>
<circle cx="555.0" cy="585.4" r="2.00" fill="#000"/>
<circle cx="542.2" cy="588.7" r="2.00" fill="#000"/>
<circle cx="557.5" cy="592.8" r="2.00" fill="#000"/>
<circle cx="544.4" cy="588.6" r="2.00" fill="#000"/>
<circle cx="535.2" cy="593.4" r="2.00" fill="#000"/>
<circle cx="548.6" cy="586.1" r="2.00" fill="#000"/>
<circle cx="522.5" cy="583.8" r="2.00" fill="#000"/>
<circle cx="541.0" cy="594.5" r="2.00" fill="#000"/>
<circle cx="507.2" cy="589.8" r="2.00" fill="#000"/>
<circle cx="531.9" cy="589.6" r="2.00" fill="#000"/>
<circle cx="515.2" cy="579.3" r="2.00" fill="#000"/>
<circle cx="560.4" cy="590.0" r="2.00" fill="#000"/>
<circle cx="563.8" cy="583.1" r="2.00" fill="#000"/>
<circle cx="553.2" cy="586.3" r="2.00" fill="#000"/>
<circle cx="534.0" cy="593.3" r="2.00" fill="#000"/>
<circle cx="527.2" cy="585.5" r="2.00" fill="#000"/>
<circle cx="539.0" cy="597.4" r="2.00" fill="#000"/>
<circle cx="530.5" cy="582.8" r="2.00" fill="#000"/>
<circle cx="525.2" cy="589.1" r="2.00" fill="#000"/>
<circle cx="554.6" cy="588.1" r="2.00" fill="#000"/>
<circle cx="559.2" cy="586.5" r="2.00" fill="#000"/>
<circle cx="563.4" cy="579.7" r="2.00" fill="#000"/>
<circle cx="537.3" cy="598.7" r="2.00" fill="#000"/>
<circle cx="539.1" cy="598.4" r="2.00" fill="#000"/>
<circle cx="531.1" cy="586.0" r="2.00" fill="#000"/>
<circle cx="525.6" cy="589.9" r="2.00" fill="#000"/>
<circle cx="505.4" cy="589.1" r="2.00" fill="#000"/>
<circle cx="523.8" cy="597.4" r="2.00" fill="#000"/>
<circle cx="557.0" cy="589.5" r="2.00" fill="#000"/>
<circle cx="532.7" cy="594.1" r="2.00" fill="#000"/>
<circle cx="529.7" cy="581.2" r="2.00" fill="#000"/>
<circle cx="551.9" cy="593.8" r="2.00" fill="#000"/>
<circle cx="532.8" cy="596.9" r="2.00" fill="#000"/>
<circle cx="567.7" cy="582.6" r="2.00" fill="#000"/>
<circle cx="556.0" cy="591.6" r="2.00" fill="#000"/>
<circle cx="509.4" cy="594.4" r="2.00" fill="#000"/>
<circle cx="540.7" cy="593.7" r="2.00" fill="#000"/>
<circle cx="547.0" cy="584.2" r="2.00" fill="#000"/>
<circle cx="528.5" cy="584.2" r="2.00" fill="#000"/>
<circle cx="518.3" cy="592.3" r="2.00" fill="#000"/>
<circle cx="572.1" cy="585.9" r="2.00" fill="#000"/>
<circle cx="530.7" cy="583.0" r="2.00" fill="#000"/>
<circle cx="557.6" cy="586.0" r="2.00" fill="#000"/>
<circle cx="495.3" cy="587.2" r="2.00" fill="#000"/>
<circle cx="503.1" cy="589.3" r="2.00" fill="#000"/>
<circle cx="530.7" cy="580.7" r="2.00" fill="#000"/>
<circle cx="531.3" cy="592.0" r="2.00" fill="#000"/>
<circle cx="519.9" cy="581.8" r="2.00" fill="#000"/>
<circle cx="546.1" cy="580.5" r="2.00" fill="#000"/>
<circle cx="533.5" cy="594.4" r="2.00" fill="#000"/>
<circle cx="528.2" cy="584.1" r="2.00" fill="#000"/>
<circle cx="547.0" cy="581.2" r="2.00" fill="#000"/>
<circle cx="577.2" cy="588.1" r="2.00" fill="#000"/>
<circle cx="529.6" cy="583.9" r="2.00" fill="#000"/>
<circle cx="549.0" cy="597.2" r="2.00" fill="#000"/>
<circle cx="536.4" cy="596.0" r="2.00" fill="#000"/>
<circle cx="532.2" cy="590.2" r="2.00" fill="#000"/>
<circle cx="531.3" cy="597.8" r="2.00" fill="#000"/>
<circle cx="534.4" cy="595.5" r="2.00" fill="#000"/>
<circle cx="564.3" cy="581.0" r="2.00" fill="#000"/>
<circle cx="536.2" cy="598.8" r="2.00" fill="#000"/>
<circle cx="541.8" cy="592.1" r="2.00" fill="#000"/>
<circle cx="541.0" cy="597.5" r="2.00" fill="#000"/>
<circle cx="534.7" cy="593.1" r="2.00" fill="#000"/>
<circle cx="566.6" cy="589.0" r="2.00" fill="#000"/>
<circle cx="523.3" cy="586.5" r="2.00" fill="#000"/>
<circle cx="541.9" cy="595.1" r="2.00" fill="#000"/>
<circle cx="529.5" cy="591.9" r="2.00" fill="#000"/>
<circle cx="549.8" cy="592.3" r="2.00" fill="#000"/>
<circle cx="555.0" cy="585.8" r="2.00" fill="#000"/>
<circle cx="540.3" cy="597.3" r="2.00" fill="#000"/>
<circle cx="566.6" cy="586.7" r="2.00" fill="#000"/>
<circle cx="562.7" cy="586.5" r="2.00" fill="#000"/>
<circle cx="523.6" cy="583.1" r="2.00" fill="#000"/>
<circle cx="575.5" cy="583.5" r="2.00" fill="#000"/>
<circle cx="522.9" cy="587.5" r="2.00" fill="#000"/>
<circle cx="514.0" cy="588.2" r="2.00" fill="#000"/>
<circle cx="521.3" cy="588.0" r="2.00" fill="#000"/>
<circle cx="553.0" cy="587.0" r="2.00" fill="#000"/>
<circle cx="505.8" cy="580.4" r="2.00" fill="#000"/>
<circle cx="531.8" cy="594.5" r="2.00" fill="#000"/>
<circle cx="554.6" cy="596.9" r="2.00" fill="#000"/>
<circle cx="540.9" cy="593.3" r="2.00" fill="#000"/>
<circle cx="527.3" cy="593.8" r="2.00" fill="#000"/>
<circle cx="528.0" cy="581.3" r="2.00" fill="#000"/>
<circle cx="553.6" cy="584.2" r="2.00" fill="#000"/>
<circle cx="513.9" cy="582.9" r="2.00" fill="#000"/>
<circle cx="520.3" cy="586.4" r="2.00" fill="#000"/>
<circle cx="544.1" cy="585.0" r="2.00" fill="#000"/>
<circle cx="581.1" cy="580.6" r="2.00" fill="#000"/>
<circle cx="536.4" cy="598.8" r="2.00" fill="#000"/>
<circle cx="539.7" cy="597.0" r="2.00" fill="#000"/>
<circle cx="522.3" cy="581.3" r="2.00" fill="#000"/>
<circle cx="537.1" cy="598.3" r="2.00" fill="#000"/>
<circle cx="546.2" cy="579.2" r="2.00" fill="#000"/>
<circle cx="549.4" cy="589.8" r="2.00" fill="#000"/>
<circle cx="539.6" cy="596.8" r="2.00" fill="#000"/>
<circle cx="557.5" cy="580.0" r="2.00" fill="#000"/>
<circle cx="554.4" cy="588.6" r="2.00" fill="#000"/>
<circle cx="540.6" cy="595.1" r="2.00" fill="#000"/>
<circle cx="513.3" cy="592.4" r="2.00" fill="#000"/>
<circle cx="498.8" cy="582.7" r="2.00" fill="#000"/>
<circle cx="547.8" cy="593.4" r="2.00" fill="#000"/>
<circle cx="516.1" cy="589.8" r="2.00" fill="#000"/>
<circle cx="546.5" cy="586.4" r="2.00" fill="#000"/>
<circle cx="536.2" cy="598.1" r="2.00" fill="#000"/>
<circle cx="536.0" cy="595.9" r="2.00" fill="#000"/>
<circle cx="540.3" cy="594.8" r="2.00" fill="#000"/>
<circle cx="545.9" cy="591.1" r="2.00" fill="#000"/>
<circle cx="562.2" cy="593.9" r="2.00" fill="#000"/>
<circle cx="532.3" cy="589.1" r="2.00" fill="#000"/>
<circle cx="536.0" cy="595.6" r="2.00" fill="#000"/>
<circle cx="573.5" cy="582.0" r="2.00" fill="#000"/>
<circle cx="543.4" cy="587.7" r="2.00" fill="#000"/>
<circle cx="540.4" cy="598.1" r="2.00" fill="#000"/>
<circle cx="540.1" cy="598.1" r="2.00" fill="#000"/>
<circle cx="543.2" cy="592.1" r="2.00" fill="#000"/>
<circle cx="554.9" cy="591.9" r="2.00" fill="#000"/>
<circle cx="534.3" cy="591.3" r="2.00" fill="#000"/>
<circle cx="549.5" cy="585.7" r="2.00" fill="#000"/>
<circle cx="563.4" cy="580.0" r="2.00" fill="#000"/>
<circle cx="562.3" cy="588.7" r="2.00" fill="#000"/>
<circle cx="545.3" cy="582.9" r="2.00" fill="#000"/>
<circle cx="568.8" cy="590.9" r="2.00" fill="#000"/>
<circle cx="540.2" cy="597.6" r="2.00" fill="#000"/>
<circle cx="531.0" cy="586.0" r="2.00" fill="#000"/>
<circle cx="580.5" cy="589.3" r="2.00" fill="#000"/>
<circle cx="544.1" cy="593.5" r="2.00" fill="#000"/>
<circle cx="551.6" cy="581.6" r="2.00" fill="#000"/>
<circle cx="522.4" cy="584.5" r="2.00" fill="#000"/>
<circle cx="525.7" cy="583.8" r="2.00" fill="#000"/>
<circle cx="525.2" cy="587.8" r="2.00" fill="#000"/>
<circle cx="559.3" cy="589.0" r="2.00" fill="#000"/>
<circle cx="546.7" cy="587.3" r="2.00" fill="#000"/>
<circle cx="543.0" cy="586.5" r="2.00" fill="#000"/>
<circle cx="540.0" cy="597.1" r="2.00" fill="#000"/>
<circle cx="533.5" cy="591.7" r="2.00" fill="#000"/>
<circle cx="548.1" cy="580.5" r="2.00" fill="#000"/>
<circle cx="548.2" cy="587.8" r="2.00" fill="#000"/>
<circle cx="559.0" cy="582.7" r="2.00" fill="#000"/>
<circle cx="525.8" cy="593.7" r="2.00" fill="#000"/>
<circle cx="533.1" cy="589.6" r="2.00" fill="#000"/>
<circle cx="572.3" cy="592.7" r="2.00" fill="#000"/>
<circle cx="556.6" cy="593.0" r="2.00" fill="#000"/>
<circle cx="502.7" cy="583.8" r="2.00" fill="#000"/>
<circle cx="546.0" cy="583.4" r="2.00" fill="#000"/>
<circle cx="540.8" cy="598.6" r="2.00" fill="#000"/>
<circle cx="508.3" cy="581.4" r="2.00" fill="#000"/>
<circle cx="545.5" cy="597.7" r="2.00" fill="#000"/>
<circle cx="547.7" cy="597.8" r="2.00" fill="#000"/>
<circle cx="552.0" cy="595.8" r="2.00" fill="#000"/>
<circle cx="525.6" cy="597.0" r="2.00" fill="#000"/>
<circle cx="553.4" cy="580.4" r="2.00" fill="#000"/>
<circle cx="517.4" cy="596.0" r="2.00" fill="#000"/>
<circle cx="550.6" cy="593.7" r="2.00" fill="#000"/>
<circle cx="548.8" cy="595.6" r="2.00" fill="#000"/>
<circle cx="547.0" cy="594.5" r="2.00" fill="#000"/>
<circle cx="564.6" cy="592.1" r="2.00" fill="#000"/>
<circle cx="520.7" cy="594.0" r="2.00" fill="#000"/>
<circle cx="534.6" cy="593.9" r="2.00" fill="#000"/>
<circle cx="519.8" cy="587.8" r="2.00" fill="#000"/>
<circle cx="564.2" cy="591.7" r="2.00" fill="#000"/>
<circle cx="545.2" cy="591.6" r="2.00" fill="#000"/>
<circle cx="578.4" cy="583.5" r="2.00" fill="#000"/>
<circle cx="541.0" cy="595.8" r="2.00" fill="#000"/>
<circle cx="495.1" cy="588.2" r="2.00" fill="#000"/>
<circle cx="526.9" cy="590.0" r="2.00" fill="#000"/>
<circle cx="533.9" cy="591.4" r="2.00" fill="#000"/>
<circle cx="520.9" cy="580.5" r="2.00" fill="#000"/>
<circle cx="553.7" cy="591.3" r="2.00" fill="#000"/>
<circle cx="542.6" cy="589.9" r="2.00" fill="#000"/>
<circle cx="545.0" cy="582.1" r="2.00" fill="#000"/>
<circle cx="509.8" cy="591.4" r="2.00" fill="#000"/>
<circle cx="509.5" cy="582.3" r="2.00" fill="#000"/>
<circle cx="561.8" cy="593.7" r="2.00" fill="#000"/>
<circle cx="569.7" cy="580.8" r="2.00" fill="#000"/>
<circle cx="534.7" cy="595.7" r="2.00" fill="#000"/>
<circle cx="500.8" cy="580.2" r="2.00" fill="#000"/>
<circle cx="509.1" cy="585.1" r="2.00" fill="#000"/>
<circle cx="493.6" cy="580.5" r="2.00" fill="#000"/>
<circle cx="511.7" cy="592.6" r="2.00" fill="#000"/>
<circle cx="498.5" cy="585.8" r="2.00" fill="#000"/>
<circle cx="529.4" cy="582.8" r="2.00" fill="#000"/>
<circle cx="534.7" cy="598.4" r="2.00" fill="#000"/>
<circle cx="528.0" cy="591.2" r="2.00" fill="#000"/>
<circle cx="527.5" cy="585.8" r="2.00" fill="#000"/>
<circle cx="546.1" cy="581.5" r="2.00" fill="#000"/>
<circle cx="558.0" cy="579.3" r="2.00" fill="#000"/>
<circle cx="537.2" cy="598.2" r="2.00" fill="#000"/>
<circle cx="556.8" cy="593.0" r="2.00" fill="#000"/>
<circle cx="546.1" cy="586.8" r="2.00" fill="#000"/>
<circle cx="528.4" cy="590.9" r="2.00" fill="#000"/>
<circle cx="539.5" cy="599.2" r="2.00" fill="#000"/>
<circle cx="538.7" cy="598.8" r="2.00" fill="#000"/>
<circle cx="529.4" cy="585.3" r="2.00" fill="#000"/>
<circle cx="566.4" cy="590.6" r="2.00" fill="#000"/>
<circle cx="550.7" cy="588.0" r="2.00" fill="#000"/>
<circle cx="532.2" cy="585.1" r="2.00" fill="#000"/>
<circle cx="501.7" cy="586.2" r="2.00" fill="#000"/>
<circle cx="530.8" cy="592.0" r="2.00" fill="#000"/>
<circle cx="556.1" cy="583.2" r="2.00" fill="#000"/>
<circle cx="510.5" cy="592.2" r="2.00" fill="#000"/>
<circle cx="545.3" cy="583.5" r="2.00" fill="#000"/>
<circle cx="551.2" cy="585.6" r="2.00" fill="#000"/>
<circle cx="536.0" cy="598.2" r="2.00" fill="#000"/>
<circle cx="557.9" cy="593.0" r="2.00" fill="#000"/>
<circle cx="543.0" cy="589.3" r="2.00" fill="#000"/>
<circle cx="513.0" cy="579.5" r="2.00" fill="#000"/>
<circle cx="526.1" cy="596.8" r="2.00" fill="#000"/>
<circle cx="542.9" cy="592.7" r="2.00" fill="#000"/>
<circle cx="541.6" cy="591.4" r="2.00" fill="#000"/>
<circle cx="529.0" cy="581.5" r="2.00" fill="#000"/>
<circle cx="516.7" cy="589.3" r="2.00" fill="#000"/>
<circle cx="559.4" cy="596.2" r="2.00" fill="#000"/>
<circle cx="556.4" cy="592.3" r="2.00" fill="#000"/>
<circle cx="549.8" cy="596.6" r="2.00" fill="#000"/>
<circle cx="540.8" cy="595.2" r="2.00" fill="#000"/>
<circle cx="556.6" cy="581.9" r="2.00" fill="#000"/>
<circle cx="557.3" cy="590.0" r="2.00" fill="#000"/>
<circle cx="559.3" cy="583.3" r="2.00" fill="#000"/>
<circle cx="558.2" cy="580.9" r="2.00" fill="#000"/>
<circle cx="515.0" cy="581.1" r="2.00" fill="#000"/>
<circle cx="530.3" cy="584.7" r="2.00" fill="#000"/>
<circle cx="554.1" cy="582.7" r="2.00" fill="#000"/>
<circle cx="536.2" cy="596.4" r="2.00" fill="#000"/>
<circle cx="535.9" cy="596.6" r="2.00" fill="#000"/>
<circle cx="539.2" cy="598.4" r="2.00" fill="#000"/>
<circle cx="520.4" cy="587.2" r="2.00" fill="#000"/>
<circle cx="525.1" cy="596.7" r="2.00" fill="#000"/>
<circle cx="556.3" cy="584.2" r="2.00" fill="#000"/>
<circle cx="557.8" cy="579.2" r="2.00" fill="#000"/>
<circle cx="542.9" cy="592.8" r="2.00" fill="#000"/>
<circle cx="523.5" cy="587.5" r="2.00" fill="#000"/>
<circle cx="545.0" cy="582.1" r="2.00" fill="#000"/>
<circle cx="520.7" cy="587.7" r="2.00" fill="#000"/>
<circle cx="521.2" cy="590.0" r="2.00" fill="#000"/>
<circle cx="551.7" cy="579.1" r="2.00" fill="#000"/>
<circle cx="557.1" cy="595.3" r="2.00" fill="#000"/>
<circle cx="544.2" cy="587.6" r="2.00" fill="#000"/>
<circle cx="545.0" cy="590.3" r="2.00" fill="#000"/>
<circle cx="547.5" cy="586.0" r="2.00" fill="#000"/>
<circle cx="540.4" cy="597.1" r="2.00" fill="#000"/>
<circle cx="518.1" cy="589.5" r="2.00" fill="#000"/>
<circle cx="548.7" cy="598.2" r="2.00" fill="#000"/>
<circle cx="530.2" cy="581.0" r="2.00" fill="#000"/>
<circle cx="528.6" cy="595.2" r="2.00" fill="#000"/>
<circle cx="539.8" cy="595.6" r="2.00" fill="#000"/>
<circle cx="538.6" cy="598.5" r="2.00" fill="#000"/>
<circle cx="531.7" cy="594.7" r="2.00" fill="#000"/>
<circle cx="514.2" cy="595.1" r="2.00" fill="#000"/>
<circle cx="547.3" cy="580.1" r="2.00" fill="#000"/>
<circle cx="533.3" cy="589.3" r="2.00" fill="#000"/>
<circle cx="547.8" cy="595.7" r="2.00" fill="#000"/>
<circle cx="565.6" cy="586.8" r="2.00" fill="#000"/>
<circle cx="545.1" cy="582.2" r="2.00" fill="#000"/>
<circle cx="541.9" cy="598.4" r="2.00" fill="#000"/>
<circle cx="526.1" cy="585.9" r="2.00" fill="#000"/>
<circle cx="522.8" cy="580.4" r="2.00" fill="#000"/>
<circle cx="541.7" cy="596.7" r="2.00" fill="#000"/>
<circle cx="534.0" cy="589.8" r="2.00" fill="#000"/>
<circle cx="532.8" cy="586.5" r="2.00" fill="#000"/>
<circle cx="526.3" cy="583.7" r="2.00" fill="#000"/>
<circle cx="527.4" cy="580.7" r="2.00" fill="#000"/>
<circle cx="540.2" cy="596.3" r="2.00" fill="#000"/>
<circle cx="533.4" cy="596.9" r="2.00" fill="#000"/>
<circle cx="494.0" cy="580.3" r="2.00" fill="#000"/>
<circle cx="525.3" cy="592.5" r="2.00" fill="#000"/>
<circle cx="522.9" cy="593.9" r="2.00" fill="#000"/>
<circle cx="533.3" cy="589.9" r="2.00" fill="#000"/>
<circle cx="539.7" cy="597.4" r="2.00" fill="#000"/>
<circle cx="521.4" cy="584.0" r="2.00" fill="#000"/>
<circle cx="535.7" cy="598.3" r="2.00" fill="#000"/>
<circle cx="517.6" cy="594.7" r="2.00" fill="#000"/>
<circle cx="555.9" cy="587.4" r="2.00" fill="#000"/>
<circle cx="569.8" cy="583.8" r="2.00" fill="#000"/>
<circle cx="526.6" cy="594.1" r="2.00" fill="#000"/>
<circle cx="552.4" cy="579.5" r="2.00" fill="#000"/>
<circle cx="530.8" cy="585.2" r="2.00" fill="#000"/>
<circle cx="532.5" cy="590.0" r="2.00" fill="#000"/>
<circle cx="514.0" cy="585.0" r="2.00" fill="#000"/>
<circle cx="517.4" cy="581.0" r="2.00" fill="#000"/>
<circle cx="557.8" cy="584.7" r="2.00" fill="#000"/>
<circle cx="535.0" cy="595.9" r="2.00" fill="#000"/>
<circle cx="523.3" cy="585.0" r="2.00" fill="#000"/>
<circle cx="548.4" cy="590.6" r="2.00" fill="#000"/>
<circle cx="516.6" cy="582.2" r="2.00" fill="#000"/>
<circle cx="568.2" cy="583.5" r="2.00" fill="#000"/>
<circle cx="549.1" cy="585.2" r="2.00" fill="#000"/>
<circle cx="523.0" cy="592.2" r="2.00" fill="#000"/>
<circle cx="535.2" cy="593.5" r="2.00" fill="#000"/>
<circle cx="546.7" cy="580.4" r="2.00" fill="#000"/>
<circle cx="532.6" cy="596.8" r="2.00" fill="#000"/>
<circle cx="556.2" cy="594.1" r="2.00" fill="#000"/>
<circle cx="512.7" cy="594.0" r="2.00" fill="#000"/>
<circle cx="508.0" cy="589.9" r="2.00" fill="#000"/>
<circle cx="539.5" cy="596.3" r="2.00" fill="#000"/>
<circle cx="525.1" cy="590.4" r="2.00" fill="#000"/>
<circle cx="526.1" cy="591.7" r="2.00" fill="#000"/>
<circle cx="540.8" cy="595.9" r="2.00" fill="#000"/>
<circle cx="533.2" cy="598.5" r="2.00" fill="#000"/>
<circle cx="569.0" cy="584.0" r="2.00" fill="#000"/>
<circle cx="544.2" cy="595.1" r="2.00" fill="#000"/>
<circle cx="522.7" cy="594.9" r="2.00" fill="#000"/>
<circle cx="568.5" cy="584.5" r="2.00" fill="#000"/>
<circle cx="554.4" cy="597.3" r="2.00" fill="#000"/>
<circle cx="514.0" cy="589.8" r="2.00" fill="#000"/>
<circle cx="546.1" cy="597.7" r="2.00" fill="#000"/>
<circle cx="523.0" cy="579.5" r="2.00" fill="#000"/>
<circle cx="547.1" cy="590.5" r="2.00" fill="#000"/>
<circle cx="572.5" cy="584.4" r="2.00" fill="#000"/>
<circle cx="520.7" cy="594.5" r="2.00" fill="#000"/>
<circle cx="541.6" cy="593.7" r="2.00" fill="#000"/>
<circle cx="530.9" cy="596.4" r="2.00" fill="#000"/>
<circle cx="555.0" cy="593.9" r="2.00" fill="#000"/>
<circle cx="549.4" cy="579.2" r="2.00" fill="#000"/>
<circle cx="502.8" cy="579.6" r="2.00" fill="#000"/>
<circle cx="519.6" cy="582.9" r="2.00" fill="#000"/>
<circle cx="525.5" cy="582.8" r="2.00" fill="#000"/>
<circle cx="521.6" cy="584.5" r="2.00" fill="#000"/>
<circle cx="551.5" cy="589.2" r="2.00" fill="#000"/>
<circle cx="558.3" cy="586.9" r="2.00" fill="#000"/>
<circle cx="532.0" cy="589.5" r="2.00" fill="#000"/>
<circle cx="510.3" cy="582.1" r="2.00" fill="#000"/>
<circle cx="542.5" cy="596.9" r="2.00" fill="#000"/>
<circle cx="531.2" cy="597.7" r="2.00" fill="#000"/>
<circle cx="564.3" cy="589.6" r="2.00" fill="#000"/>
<circle cx="579.4" cy="585.0" r="2.00" fill="#000"/>
<circle cx="514.7" cy="590.6" r="2.00" fill="#000"/>
<circle cx="544.0" cy="586.6" r="2.00" fill="#000"/>
<circle cx="520.6" cy="582.2" r="2.00" fill="#000"/>
<circle cx="570.7" cy="593.9" r="2.00" fill="#000"/>
<circle cx="530.6" cy="581.8" r="2.00" fill="#000"/>
<circle cx="536.2" cy="598.8" r="2.00" fill="#000"/>
<circle cx="535.2" cy="594.7" r="2.00" fill="#000"/>
<circle cx="571.1" cy="583.4" r="2.00" fill="#000"/>
<circle cx="518.9" cy="592.7" r="2.00" fill="#000"/>
<circle cx="550.7" cy="588.4" r="2.00" fill="#000"/>
<circle cx="537.4" cy="599.1" r="2.00" fill="#000"/>
<circle cx="567.2" cy="592.1" r="2.00" fill="#000"/>
<circle cx="546.3" cy="586.4" r="2.00" fill="#000"/>
<circle cx="560.9" cy="596.5" r="2.00" fill="#000"/>
<circle cx="574.7" cy="586.7" r="2.00" fill="#000"/>
<circle cx="535.8" cy="598.1" r="2.00" fill="#000"/>
<circle cx="562.7" cy="592.3" r="2.00" fill="#000"/>
<circle cx="492.2" cy="581.2" r="2.00" fill="#000"/>
<circle cx="557.2" cy="592.6" r="2.00" fill="#000"/>
<circle cx="497.9" cy="589.3" r="2.00" fill="#000"/>
<circle cx="545.7" cy="580.8" r="2.00" fill="#000"/>
<circle cx="550.5" cy="580.6" r="2.00" fill="#000"/>
<circle cx="528.9" cy="590.7" r="2.00" fill="#000"/>
<circle cx="540.3" cy="597.5" r="2.00" fill="#000"/>
<circle cx="520.6" cy="582.7" r="2.00" fill="#000"/>
<circle cx="514.3" cy="587.8" r="2.00" fill="#000"/>
<circle cx="518.1" cy="589.4" r="2.00" fill="#000"/>
<circle cx="544.4" cy="590.6" r="2.00" fill="#000"/>
<circle cx="526.8" cy="591.0" r="2.00" fill="#000"/>
<circle cx="511.1" cy="585.4" r="2.00" fill="#000"/>
<circle cx="542.2" cy="594.4" r="2.00" fill="#000"/>
<circle cx="543.2" cy="593.4" r="2.00" fill="#000"/>
<circle cx="546.3" cy="589.3" r="2.00" fill="#000"/>
<circle cx="540.2" cy="594.1" r="2.00" fill="#000"/>
<circle cx="541.1" cy="596.2" r="2.00" fill="#000"/>
<circle cx="534.7" cy="595.6" r="2.00" fill="#000"/>
<circle cx="534.8" cy="594.1" r="2.00" fill="#000"/>
<circle cx="548.3" cy="581.8" r="2.00" fill="#000"/>
<circle cx="529.9" cy="596.0" r="2.00" fill="#000"/>
<circle cx="546.7" cy="598.3" r="2.00" fill="#000"/>
<circle cx="540.0" cy="595.6" r="2.00" fill="#000"/>
<circle cx="524.9" cy="582.6" r="2.00" fill="#000"/>
<circle cx="549.3" cy="591.3" r="2.00" fill="#000"/>
<circle cx="544.8" cy="584.9" r="2.00" fill="#000"/>
<circle cx="537.3" cy="598.7" r="2.00" fill="#000"/>
<circle cx="522.6" cy="590.2" r="2.00" fill="#000"/>
<circle cx="505.4" cy="589.2" r="2.00" fill="#000"/>
<circle cx="544.7" cy="584.6" r="2.00" fill="#000"/>
<circle cx="561.3" cy="579.7" r="2.00" fill="#000"/>
<circle cx="526.2" cy="580.1" r="2.00" fill="#000"/>
<circle cx="566.6" cy="591.1" r="2.00" fill="#000"/>
<circle cx="541.9" cy="595.5" r="2.00" fill="#000"/>
<circle cx="529.6" cy="589.0" r="2.00" fill="#000"/>
<circle cx="554.0" cy="593.1" r="2.00" fill="#000"/>
<circle cx="514.3" cy="580.6" r="2.00" fill="#000"/>
<circle cx="553.8" cy="596.5" r="2.00" fill="#000"/>
<circle cx="521.7" cy="591.4" r="2.00" fill="#000"/>
<circle cx="533.4" cy="588.1" r="2.00" fill="#000"/>
<circle cx="557.8" cy="585.6" r="2.00" fill="#000"/>
<circle cx="541.8" cy="596.3" r="2.00" fill="#000"/>
<circle cx="532.0" cy="587.3" r="2.00" fill="#000"/>
<circle cx="531.3" cy="597.3" r="2.00" fill="#000"/>
<circle cx="550.2" cy="596.9" r="2.00" fill="#000"/>
<circle cx="518.3" cy="588.9" r="2.00" fill="#000"/>
<circle cx="551.2" cy="586.5" r="2.00" fill="#000"/>
<circle cx="542.1" cy="591.8" r="2.00" fill="#000"/>
<circle cx="527.3" cy="590.1" r="2.00" fill="#000"/>
<circle cx="557.7" cy="591.3" r="2.00" fill="#000"/>
<circle cx="553.8" cy="591.2" r="2.00" fill="#000"/>
<circle cx="543.8" cy="596.7" r="2.00" fill="#000"/>
<circle cx="560.1" cy="596.2" r="2.00" fill="#000"/>
<circle cx="542.7" cy="588.4" r="2.00" fill="#000"/>
<circle cx="525.5" cy="587.2" r="2.00" fill="#000"/>
<circle cx="554.5" cy="597.1" r="2.00" fill="#000"/>
<circle cx="565.5" cy="585.5" r="2.00" fill="#000"/>
<circle cx="558.5" cy="587.2" r="2.00" fill="#000"/>
<circle cx="521.0" cy="587.3" r="2.00" fill="#000"/>
<circle cx="565.1" cy="582.0" r="2.00" fill="#000"/>
<circle cx="559.4" cy="583.3" r="2.00" fill="#000"/>
<circle cx="504.0" cy="583.2" r="2.00" fill="#000"/>
<circle cx="515.8" cy="585.7" r="2.00" fill="#000"/>
<circle cx="544.3" cy="589.6" r="2.00" fill="#000"/>
<circle cx="554.5" cy="596.3" r="2.00" fill="#000"/>
<circle cx="504.5" cy="582.2" r="2.00" fill="#000"/>
<circle cx="519.5" cy="580.5" r="2.00" fill="#000"/>
<circle cx="521.5" cy="596.4" r="2.00" fill="#000"/>
<circle cx="520.4" cy="579.9" r="2.00" fill="#000"/>
<circle cx="541.6" cy="597.2" r="2.00" fill="#000"/>
<circle cx="528.9" cy="583.3" r="2.00" fill="#000"/>
<circle cx="534.6" cy="594.5" r="2.00" fill="#000"/>
<circle cx="537.2" cy="597.9" r="2.00" fill="#000"/>
<circle cx="522.4" cy="597.7" r="2.00" fill="#000"/>
<circle cx="543.6" cy="586.2" r="2.00" fill="#000"/>
<circle cx="569.2" cy="582.0" r="2.00" fill="#000"/>
<circle cx="537.4" cy="598.6" r="2.00" fill="#000"/>
<circle cx="546.4" cy="583.7" r="2.00" fill="#000"/>
<circle cx="580.0" cy="583.9" r="2.00" fill="#000"/>
<circle cx="555.2" cy="596.7" r="2.00" fill="#000"/>
<circle cx="521.5" cy="595.1" r="2.00" fill="#000"/>
<circle cx="540.9" cy="592.8" r="2.00" fill="#000"/>
<circle cx="547.7" cy="588.8" r="2.00" fill="#000"/>
<circle cx="534.8" cy="596.5" r="2.00" fill="#000"/>
<circle cx="534.4" cy="595.6" r="2.00" fill="#000"/>
<circle cx="530.6" cy="589.9" r="2.00" fill="#000"/>
<circle cx="518.6" cy="585.6" r="2.00" fill="#000"/>
<circle cx="542.1" cy="589.2" r="2.00" fill="#000"/>
<circle cx="576.4" cy="581.0" r="2.00" fill="#000"/>
<circle cx="521.3" cy="592.5" r="2.00" fill="#000"/>
<circle cx="539.4" cy="597.1" r="2.00" fill="#000"/>
<circle cx="559.8" cy="585.2" r="2.00" fill="#000"/>
<circle cx="504.1" cy="588.2" r="2.00" fill="#000"/>
<circle cx="546.9" cy="593.6" r="2.00" fill="#000"/>
<circle cx="539.7" cy="596.3" r="2.00" fill="#000"/>
<circle cx="541.7" cy="596.4" r="2.00" fill="#000"/>
<circle cx="534.0" cy="596.1" r="2.00" fill="#000"/>
<circle cx="547.9" cy="592.4" r="2.00" fill="#000"/>
<circle cx="499.1" cy="590.0" r="2.00" fill="#000"/>
<circle cx="528.2" cy="583.9" r="2.00" fill="#000"/>
<circle cx="507.6" cy="582.2" r="2.00" fill="#000"/>
<circle cx="544.1" cy="590.2" r="2.00" fill="#000"/>
<circle cx="535.6" cy="595.1" r="2.00" fill="#000"/>
<circle cx="561.7" cy="589.8" r="2.00" fill="#000"/>
<circle cx="531.8" cy="583.5" r="2.00" fill="#000"/>
<circle cx="530.4" cy="593.7" r="2.00" fill="#000"/>
<circle cx="545.8" cy="579.9" r="2.00" fill="#000"/>
<circle cx="571.2" cy="581.0" r="2.00" fill="#000"/>
<circle cx="522.1" cy="582.0" r="2.00" fill="#000"/>
<circle cx="531.8" cy="586.9" r="2.00" fill="#000"/>
<circle cx="535.6" cy="594.3" r="2.00" fill="#000"/>
<circle cx="541.6" cy="598.3" r="2.00" fill="#000"/>
<circle cx="533.8" cy="591.1" r="2.00" fill="#000"/>
<circle cx="498.5" cy="579.2" r="2.00" fill="#000"/>
<circle cx="541.7" cy="594.4" r="2.00" fill="#000"/>
<circle cx="526.0" cy="584.3" r="2.00" fill="#000"/>
<circle cx="513.5" cy="588.9" r="2.00" fill="#000"/>
<circle cx="534.1" cy="590.2" r="2.00" fill="#000"/>
<circle cx="533.2" cy="589.8" r="2.00" fill="#000"/>
<circle cx="545.6" cy="593.8" r="2.00" fill="#000"/>
<circle cx="518.6" cy="588.1" r="2.00" fill="#000"/>
<circle cx="528.5" cy="595.8" r="2.00" fill="#000"/>
<circle cx="516.9" cy="596.9" r="2.00" fill="#000"/>
<circle cx="527.2" cy="593.1" r="2.00" fill="#000"/>
<circle cx="547.2" cy="593.3" r="2.00" fill="#000"/>
<circle cx="513.3" cy="580.3" r="2.00" fill="#000"/>
<circle cx="553.5" cy="584.4" r="2.00" fill="#000"/>
<circle cx="576.6" cy="583.5" r="2.00" fill="#000"/>
<circle cx="543.6" cy="588.0" r="2.00" fill="#000"/>
<circle cx="525.2" cy="590.7" r="2.00" fill="#000"/>
<circle cx="527.0" cy="596.5" r="2.00" fill="#000"/>
<circle cx="535.4" cy="594.6" r="2.00" fill="#000"/>
<circle cx="533.2" cy="587.9" r="2.00" fill="#000"/>
<circle cx="525.8" cy="582.3" r="2.00" fill="#000"/>
<circle cx="516.1" cy="579.7" r="2.00" fill="#000"/>
<circle cx="560.8" cy="587.6" r="2.00" fill="#000"/>
<circle cx="564.8" cy="584.3" r="2.00" fill="#000"/>
<circle cx="541.1" cy="592.5" r="2.00" fill="#000"/>
<circle cx="524.9" cy="598.2" r="2.00" fill="#000"/>
<circle cx="527.0" cy="581.9" r="2.00" fill="#000"/>
<circle cx="499.5" cy="583.7" r="2.00" fill="#000"/>
<circle cx="499.6" cy="580.7" r="2.00" fill="#000"/>
<circle cx="546.8" cy="588.6" r="2.00" fill="#000"/>
<circle cx="554.0" cy="597.5" r="2.00" fill="#000"/>
<circle cx="527.1" cy="591.1" r="2.00" fill="#000"/>
<circle cx="503.4" cy="586.9" r="2.00" fill="#000"/>
<circle cx="534.2" cy="597.8" r="2.00" fill="#000"/>
<circle cx="567.5" cy="589.2" r="2.00" fill="#000"/>
<circle cx="530.9" cy="587.1" r="2.00" fill="#000"/>
<circle cx="544.7" cy="590.7" r="2.00" fill="#000"/>
<circle cx="544.2" cy="583.3" r="2.00" fill="#000"/>
<circle cx="522.3" cy="593.3" r="2.00" fill="#000"/>
<circle cx="525.3" cy="597.9" r="2.00" fill="#000"/>
<circle cx="536.0" cy="597.5" r="2.00" fill="#000"/>
<circle cx="551.2" cy="587.9" r="2.00" fill="#000"/>
<circle cx="529.0" cy="587.4" r="2.00" fill="#000"/>
<circle cx="536.3" cy="598.8" r="2.00" fill="#000"/>
<circle cx="562.1" cy="589.3" r="2.00" fill="#000"/>
<circle cx="531.1" cy="584.8" r="2.00" fill="#000"/>
<circle cx="572.9" cy="582.8" r="2.00" fill="#000"/>
<circle cx="507.1" cy="582.5" r="2.00" fill="#000"/>
<circle cx="517.2" cy="595.6" r="2.00" fill="#000"/>
<circle cx="560.2" cy="581.5" r="2.00" fill="#000"/>
<circle cx="561.8" cy="579.2" r="2.00" fill="#000"/>
<circle cx="540.4" cy="595.6" r="2.00" fill="#000"/>
<circle cx="527.7" cy="585.5" r="2.00" fill="#000"/>
<circle cx="530.6" cy="580.2" r="2.00" fill="#000"/>
<circle cx="532.4" cy="591.0" r="2.00" fill="#000"/>
<circle cx="532.4" cy="592.6" r="2.00" fill="#000"/>
<circle cx="564.3" cy="590.5" r="2.00" fill="#000"/>
<circle cx="550.7" cy="593.1" r="2.00" fill="#000"/>
<circle cx="530.2" cy="591.4" r="2.00" fill="#000"/>
<circle cx="563.3" cy="584.1" r="2.00" fill="#000"/>
<circle cx="506.0" cy="580.5" r="2.00" fill="#000"/>
<circle cx="551.5" cy="582.0" r="2.00" fill="#000"/>
<circle cx="531.8" cy="596.9" r="2.00" fill="#000"/>
<circle cx="532.1" cy="596.9" r="2.00" fill="#000"/>
<circle cx="535.0" cy="592.0" r="2.00" fill="#000"/>
<circle cx="559.8" cy="586.5" r="2.00" fill="#000"/>
<circle cx="560.3" cy="596.7" r="2.00" fill="#000"/>
<circle cx="540.5" cy="593.8" r="2.00" fill="#000"/>
<circle cx="532.2" cy="586.4" r="2.00" fill="#000"/>
<circle cx="518.0" cy="596.4" r="2.00" fill="#000"/>
<circle cx="539.2" cy="597.4" r="2.00" fill="#000"/>
<circle cx="561.2" cy="580.2" r="2.00" fill="#000"/>
<circle cx="544.3" cy="587.3" r="2.00" fill="#000"/>
<circle cx="561.3" cy="583.6" r="2.00" fill="#000"/>
<circle cx="559.0" cy="590.1" r="2.00" fill="#000"/>
<circle cx="542.1" cy="594.3" r="2.00" fill="#000"/>
<circle cx="513.9" cy="586.3" r="2.00" fill="#000"/>
<circle cx="536.2" cy="595.3" r="2.00" fill="#000"/>
<circle cx="554.1" cy="590.2" r="2.00" fill="#000"/>
<circle cx="541.1" cy="597.3" r="2.00" fill="#000"/>
<circle cx="520.6" cy="597.7" r="2.00" fill="#000"/>
<circle cx="569.6" cy="579.3" r="2.00" fill="#000"/>
<circle cx="531.4" cy="588.2" r="2.00" fill="#000"/>
<circle cx="549.2" cy="597.1" r="2.00" fill="#000"/>
<circle cx="543.0" cy="590.7" r="2.00" fill="#000"/>
<circle cx="504.4" cy="588.5" r="2.00" fill="#000"/>
<circle cx="505.7" cy="589.8" r="2.00" fill="#000"/>
<circle cx="540.6" cy="598.9" r="2.00" fill="#000"/>
<circle cx="549.2" cy="587.9" r="2.00" fill="#000"/>
<circle cx="522.7" cy="579.8" r="2.00" fill="#000"/>
<circle cx="547.5" cy="591.4" r="2.00" fill="#000"/>
<circle cx="549.6" cy="595.7" r="2.00" fill="#000"/>
<circle cx="517.9" cy="596.3" r="2.00" fill="#000"/>
<circle cx="508.7" cy="593.8" r="2.00" fill="#000"/>
<circle cx="514.1" cy="583.6" r="2.00" fill="#000"/>
<circle cx="541.9" cy="590.8" r="2.00" fill="#000"/>
<circle cx="567.5" cy="582.8" r="2.00" fill="#000"/>
<circle cx="539.0" cy="597.2" r="2.00" fill="#000"/>
<circle cx="549.8" cy="580.5" r="2.00" fill="#000"/>
<circle cx="559.7" cy="595.5" r="2.00" fill="#000"/>
<circle cx="527.7" cy="590.3" r="2.00" fill="#000"/>
<circle cx="544.7" cy="592.9" r="2.00" fill="#000"/>
<circle cx="534.9" cy="598.6" r="2.00" fill="#000"/>
<circle cx="551.7" cy="596.0" r="2.00" fill="#000"/>
<circle cx="526.5" cy="590.5" r="2.00" fill="#000"/>
<circle cx="544.5" cy="587.9" r="2.00" fill="#000"/>
<circle cx="558.1" cy="584.5" r="2.00" fill="#000"/>
<circle cx="558.0" cy="595.7" r="2.00" fill="#000"/>
<circle cx="552.1" cy="588.7" r="2.00" fill="#000"/>
<circle cx="544.0" cy="586.1" r="2.00" fill="#000"/>
<circle cx="524.8" cy="592.5" r="2.00" fill="#000"/>
<circle cx="512.2" cy="595.8" r="2.00" fill="#000"/>
<circle cx="559.7" cy="586.1" r="2.00" fill="#000"/>
<circle cx="509.3" cy="579.8" r="2.00" fill="#000"/>
<circle cx="531.8" cy="587.3" r="2.00" fill="#000"/>
<circle cx="540.8" cy="595.5" r="2.00" fill="#000"/>
<circle cx="551.2" cy="591.8" r="2.00" fill="#000"/>
<circle cx="530.9" cy="585.5" r="2.00" fill="#000"/>
<circle cx="536.0" cy="596.9" r="2.00" fill="#000"/>
<circle cx="547.9" cy="580.1" r="2.00" fill="#000"/>
<circle cx="541.7" cy="591.2" r="2.00" fill="#000"/>
<circle cx="552.6" cy="579.3" r="2.00" fill="#000"/>
<circle cx="525.8" cy="594.2" r="2.00" fill="#000"/>
<circle cx="531.9" cy="594.9" r="2.00" fill="#000"/>
<circle cx="493.8" cy="589.6" r="2.00" fill="#000"/>
<circle cx="544.2" cy="585.7" r="2.00" fill="#000"/>
<circle cx="544.3" cy="588.3" r="2.00" fill="#000"/>
<circle cx="529.4" cy="585.3" r="2.00" fill="#000"/>
<circle cx="540.1" cy="598.3" r="2.00" fill="#000"/>
<circle cx="555.7" cy="584.9" r="2.00" fill="#000"/>
<circle cx="557.7" cy="582.2" r="2.00" fill="#000"/>
<circle cx="543.5" cy="594.0" r="2.00" fill="#000"/>
<circle cx="529.5" cy="595.0" r="2.00" fill="#000"/>
<circle cx="534.1" cy="590.5" r="2.00" fill="#000"/>
<circle cx="538.9" cy="597.9" r="2.00" fill="#000"/>
<circle cx="546.6" cy="580.5" r="2.00" fill="#000"/>
<circle cx="518.1" cy="581.6" r="2.00" fill="#000"/>
<circle cx="555.1" cy="592.7" r="2.00" fill="#000"/>
<circle cx="508.4" cy="588.5" r="2.00" fill="#000"/>
<circle cx="569.0" cy="586.3" r="2.00" fill="#000"/>
<circle cx="549.9" cy="579.3" r="2.00" fill="#000"/>
<circle cx="533.7" cy="589.5" r="2.00" fill="#000"/>
<circle cx="558.3" cy="579.5" r="2.00" fill="#000"/>
<circle cx="540.4" cy="593.8" r="2.00" fill="#000"/>
<circle cx="499.3" cy="587.7" r="2.00" fill="#000"/>
<circle cx="533.5" cy="591.0" r="2.00" fill="#000"/>
<circle cx="534.1" cy="589.6" r="2.00" fill="#000"/>
<circle cx="528.0" cy="586.5" r="2.00" fill="#000"/>
<circle cx="538.3" cy="599.2" r="2.00" fill="#000"/>
<circle cx="531.1" cy="590.5" r="2.00" fill="#000"/>
<circle cx="540.5" cy="594.0" r="2.00" fill="#000"/>
<circle cx="536.2" cy="597.0" r="2.00" fill="#000"/>
<circle cx="501.4" cy="585.9" r="2.00" fill="#000"/>
<circle cx="570.3" cy="584.8" r="2.00" fill="#000"/>
<circle cx="550.1" cy="589.4" r="2.00" fill="#000"/>
<circle cx="551.6" cy="596.5" r="2.00" fill="#000"/>
<circle cx="555.4" cy="594.7" r="2.00" fill="#000"/>
<circle cx="556.3" cy="594.2" r="2.00" fill="#000"/>
<circle cx="548.2" cy="582.0" r="2.00" fill="#000"/>
<circle cx="509.2" cy="585.4" r="2.00" fill="#000"/>
<circle cx="514.3" cy="592.8" r="2.00" fill="#000"/>
<circle cx="532.7" cy="590.4" r="2.00" fill="#000"/>
<circle cx="574.6" cy="583.3" r="2.00" fill="#000"/>
<circle cx="534.7" cy="597.0" r="2.00" fill="#000"/>
<circle cx="534.3" cy="594.5" r="2.00" fill="#000"/>
<circle cx="564.1" cy="585.1" r="2.00" fill="#000"/>
<circle cx="500.8" cy="588.2" r="2.00" fill="#000"/>
<circle cx="562.0" cy="588.3" r="2.00" fill="#000"/>
<circle cx="545.7" cy="580.2" r="2.00" fill="#000"/>
<circle cx="542.1" cy="598.8" r="2.00" fill="#000"/>
<circle cx="551.1" cy="597.4" r="2.00" fill="#000"/>
<circle cx="552.3" cy="594.3" r="2.00" fill="#000"/>
<circle cx="502.6" cy="592.7" r="2.00" fill="#000"/>
<circle cx="526.0" cy="585.6" r="2.00" fill="#000"/>
<circle cx="532.1" cy="584.9" r="2.00" fill="#000"/>
<circle cx="538.4" cy="599.0" r="2.00" fill="#000"/>
<circle cx="523.2" cy="591.5" r="2.00" fill="#000"/>
<circle cx="539.6" cy="596.1" r="2.00" fill="#000"/>
<circle cx="524.0" cy="584.4" r="2.00" fill="#000"/>
<circle cx="552.3" cy="579.8" r="2.00" fill="#000"/>
<circle cx="527.7" cy="586.3" r="2.00" fill="#000"/>
<circle cx="537.4" cy="598.9" r="2.00" fill="#000"/>
<circle cx="566.1" cy="592.8" r="2.00" fill="#000"/>
<circle cx="564.0" cy="590.9" r="2.00" fill="#000"/>
<circle cx="545.1" cy="596.4" r="2.00" fill="#000"/>
<circle cx="540.4" cy="594.6" r="2.00" fill="#000"/>
<circle cx="528.3" cy="592.2" r="2.00" fill="#000"/>
<circle cx="509.8" cy="581.5" r="2.00" fill="#000"/>
<circle cx="572.1" cy="581.1" r="2.00" fill="#000"/>
<circle cx="564.4" cy="580.0" r="2.00" fill="#000"/>
<circle cx="535.5" cy="595.1" r="2.00" fill="#000"/>
<circle cx="524.0" cy="589.8" r="2.00" fill="#000"/>
<circle cx="530.4" cy="586.7" r="2.00" fill="#000"/>
<circle cx="539.2" cy="597.1" r="2.00" fill="#000"/>
<circle cx="566.0" cy="583.0" r="2.00" fill="#000"/>
<circle cx="539.4" cy="597.9" r="2.00" fill="#000"/>
<circle cx="543.1" cy="592.6" r="2.00" fill="#000"/>
<circle cx="552.3" cy="587.3" r="2.00" fill="#000"/>
<circle cx="519.0" cy="585.4" r="2.00" fill="#000"/>
<circle cx="511.6" cy="585.6" r="2.00" fill="#000"/>
<circle cx="529.3" cy="586.9" r="2.00" fill="#000"/>
<circle cx="539.5" cy="597.5" r="2.00" fill="#000"/>
<circle cx="548.4" cy="581.0" r="2.00" fill="#000"/>
<circle cx="553.7" cy="586.2" r="2.00" fill="#000"/>
<circle cx="533.5" cy="592.5" r="2.00" fill="#000"/>
<circle cx="527.2" cy="582.6" r="2.00" fill="#000"/>
<circle cx="542.1" cy="597.9" r="2.00" fill="#000"/>
<circle cx="540.8" cy="597.4" r="2.00" fill="#000"/>
<circle cx="553.9" cy="593.3" r="2.00" fill="#000"/>
<circle cx="559.0" cy="593.0" r="2.00" fill="#000"/>
<circle cx="549.8" cy="585.2" r="2.00" fill="#000"/>
<circle cx="517.1" cy="587.4" r="2.00" fill="#000"/>
<circle cx="523.0" cy="585.5" r="2.00" fill="#000"/>
<circle cx="532.7" cy="589.1" r="2.00" fill="#000"/>
<circle cx="559.1" cy="592.2" r="2.00" fill="#000"/>
<circle cx="536.0" cy="594.7" r="2.00" fill="#000"/>
<circle cx="513.5" cy="584.9" r="2.00" fill="#000"/>
<circle cx="507.6" cy="589.3" r="2.00" fill="#000"/>
<circle cx="528.8" cy="590.3" r="2.00" fill="#000"/>
<circle cx="510.4" cy="583.1" r="2.00" fill="#000"/>
<circle cx="551.5" cy="593.7" r="2.00" fill="#000"/>
<circle cx="523.3" cy="587.6" r="2.00" fill="#000"/>
<circle cx="565.2" cy="588.3" r="2.00" fill="#000"/>
<circle cx="541.7" cy="593.2" r="2.00" fill="#000"/>
<circle cx="540.5" cy="594.6" r="2.00" fill="#000"/>
<circle cx="513.8" cy="587.8" r="2.00" fill="#000"/>
<circle cx="516.5" cy="583.1" r="2.00" fill="#000"/>
<circle cx="517.2" cy="586.3" r="2.00" fill="#000"/>
<circle cx="522.3" cy="584.6" r="2.00" fill="#000"/>
<circle cx="531.0" cy="585.9" r="2.00" fill="#000"/>
<circle cx="535.6" cy="594.9" r="2.00" fill="#000"/>
<circle cx="493.4" cy="583.9" r="2.00" fill="#000"/>
<circle cx="560.7" cy="592.8" r="2.00" fill="#000"/>
<circle cx="520.8" cy="593.7" r="2.00" fill="#000"/>
<circle cx="537.4" cy="598.4" r="2.00" fill="#000"/>
<circle cx="551.9" cy="594.0" r="2.00" fill="#000"/>
<circle cx="565.6" cy="586.1" r="2.00" fill="#000"/>
<circle cx="546.9" cy="581.5" r="2.00" fill="#000"/>
<circle cx="538.5" cy="599.2" r="2.00" fill="#000"/>
<circle cx="579.9" cy="584.8" r="2.00" fill="#000"/>
<circle cx="532.8" cy="590.0" r="2.00" fill="#000"/>
<circle cx="527.6" cy="590.5" r="2.00" fill="#000"/>
<circle cx="541.5" cy="594.8" r="2.00" fill="#000"/>
<circle cx="545.1" cy="588.1" r="2.00" fill="#000"/>
<circle cx="531.8" cy="590.6" r="2.00" fill="#000"/>
<circle cx="506.8" cy="584.5" r="2.00" fill="#000"/>
<circle cx="527.7" cy="591.2" r="2.00" fill="#000"/>
<circle cx="563.4" cy="590.5" r="2.00" fill="#000"/>
<circle cx="531.4" cy="588.9" r="2.00" fill="#000"/>
<circle cx="542.6" cy="591.0" r="2.00" fill="#000"/>
<circle cx="534.3" cy="594.1" r="2.00" fill="#000"/>
<circle cx="536.0" cy="597.8" r="2.00" fill="#000"/>
<circle cx="549.6" cy="588.9" r="2.00" fill="#000"/>
<circle cx="515.9" cy="591.0" r="2.00" fill="#000"/>
<circle cx="550.8" cy="585.5" r="2.00" fill="#000"/>
<circle cx="505.2" cy="581.6" r="2.00" fill="#000"/>
<circle cx="544.3" cy="594.2" r="2.00" fill="#000"/>
<circle cx="562.4" cy="589.5" r="2.00" fill="#000"/>
<circle cx="535.2" cy="597.0" r="2.00" fill="#000"/>
<circle cx="533.9" cy="591.7" r="2.00" fill="#000"/>
<circle cx="518.8" cy="591.6" r="2.00" fill="#000"/>
<circle cx="548.2" cy="581.2" r="2.00" fill="#000"/>
<circle cx="527.2" cy="588.9" r="2.00" fill="#000"/>
<circle cx="518.4" cy="586.8" r="2.00" fill="#000"/>
<circle cx="553.2" cy="586.7" r="2.00" fill="#000"/>
<circle cx="495.4" cy="581.6" r="2.00" fill="#000"/>
<circle cx="521.4" cy="595.4" r="2.00" fill="#000"/>
<circle cx="542.0" cy="598.3" r="2.00" fill="#000"/>
<circle cx="538.4" cy="598.9" r="2.00" fill="#000"/>
<circle cx="543.3" cy="596.0" r="2.00" fill="#000"/>
<circle cx="502.0" cy="592.4" r="2.00" fill="#000"/>
<circle cx="539.8" cy="598.3" r="2.00" fill="#000"/>
<circle cx="545.0" cy="592.2" r="2.00" fill="#000"/>
<circle cx="539.2" cy="597.9" r="2.00" fill="#000"/>
<circle cx="565.7" cy="581.1" r="2.00" fill="#000"/>
<circle cx="533.3" cy="591.4" r="2.00" fill="#000"/>
<circle cx="562.8" cy="591.1" r="2.00" fill="#000"/>
<circle cx="523.5" cy="589.9" r="2.00" fill="#000"/>
<circle cx="529.6" cy="580.3" r="2.00" fill="#000"/>
<circle cx="539.8" cy="596.9" r="2.00" fill="#000"/>
<circle cx="545.5" cy="582.8" r="2.00" fill="#000"/>
<circle cx="559.7" cy="591.0" r="2.00" fill="#000"/>
<circle cx="531.6" cy="594.0" r="2.00" fill="#000"/>
<circle cx="534.3" cy="596.9" r="2.00" fill="#000"/>
<circle cx="509.6" cy="590.7" r="2.00" fill="#000"/>
<circle cx="537.7" cy="599.1" r="2.00" fill="#000"/>
<circle cx="511.5" cy="579.1" r="2.00" fill="#000"/>
<circle cx="522.3" cy="590.6" r="2.00" fill="#000"/>
<circle cx="559.7" cy="586.8" r="2.00" fill="#000"/>
<circle cx="542.2" cy="591.8" r="2.00" fill="#000"/>
<circle cx="545.9" cy="596.0" r="2.00" fill="#000"/>
<circle cx="546.5" cy="587.1" r="2.00" fill="#000"/>
<circle cx="540.4" cy="597.7" r="2.00" fill="#000"/>
<circle cx="536.0" cy="596.8" r="2.00" fill="#000"/>
<circle cx="571.1" cy="591.0" r="2.00" fill="#000"/>
<circle cx="512.2" cy="584.7" r="2.00" fill="#000"/>
<circle cx="516.4" cy="583.7" r="2.00" fill="#000"/>
<circle cx="546.7" cy="581.8" r="2.00" fill="#000"/>
<circle cx="541.9" cy="591.3" r="2.00" fill="#000"/>
<circle cx="524.6" cy="595.5" r="2.00" fill="#000"/>
<circle cx="554.4" cy="593.4" r="2.00" fill="#000"/>
<circle cx="555.0" cy="586.3" r="2.00" fill="#000"/>
<circle cx="529.0" cy="589.1" r="2.00" fill="#000"/>
<circle cx="583.3" cy="580.7" r="2.00" fill="#000"/>
<circle cx="558.3" cy="582.7" r="2.00" fill="#000"/>
<circle cx="531.6" cy="589.9" r="2.00" fill="#000"/>
<circle cx="530.8" cy="585.8" r="2.00" fill="#000"/>
<circle cx="544.5" cy="583.4" r="2.00" fill="#000"/>
<circle cx="532.3" cy="590.7" r="2.00" fill="#000"/>
<circle cx="523.3" cy="590.2" r="2.00" fill="#000"/>
<circle cx="513.2" cy="596.0" r="2.00" fill="#000"/>
<circle cx="559.4" cy="587.3" r="2.00" fill="#000"/>
<circle cx="528.0" cy="583.6" r="2.00" fill="#000"/>
<circle cx="558.0" cy="591.7" r="2.00" fill="#000"/>
<circle cx="522.1" cy="584.3" r="2.00" fill="#000"/>
<circle cx="527.1" cy="589.2" r="2.00" fill="#000"/>
<circle cx="543.7" cy="596.9" r="2.00" fill="#000"/>
<circle cx="515.1" cy="587.0" r="2.00" fill="#000"/>
<circle cx="538.4" cy="599.0" r="2.00" fill="#000"/>
<circle cx="554.7" cy="587.8" r="2.00" fill="#000"/>
<circle cx="527.6" cy="585.4" r="2.00" fill="#000"/>
<circle cx="548.6" cy="595.3" r="2.00" fill="#000"/>
<circle cx="547.8" cy="597.9" r="2.00" fill="#000"/>
<circle cx="579.8" cy="585.7" r="2.00" fill="#000"/>
<circle cx="511.6" cy="595.4" r="2.00" fill="#000"/>
<circle cx="535.8" cy="598.8" r="2.00" fill="#000"/>
<circle cx="510.7" cy="582.4" r="2.00" fill="#000"/>
<circle cx="551.3" cy="582.7" r="2.00" fill="#000"/>
<circle cx="544.4" cy="585.9" r="2.00" fill="#000"/>
<circle cx="540.9" cy="593.2" r="2.00" fill="#000"/>
<circle cx="561.2" cy="585.2" r="2.00" fill="#000"/>
<circle cx="526.6" cy="596.6" r="2.00" fill="#000"/>
<circle cx="536.8" cy="598.6" r="2.00" fill="#000"/>
<circle cx="513.3" cy="587.4" r="2.00" fill="#000"/>
<circle cx="534.8" cy="593.7" r="2.00" fill="#000"/>
<circle cx="513.4" cy="588.2" r="2.00" fill="#000"/>
<circle cx="527.9" cy="581.7" r="2.00" fill="#000"/>
<circle cx="500.2" cy="579.2" r="2.00" fill="#000"/>
<circle cx="531.0" cy="583.5" r="2.00" fill="#000"/>
<circle cx="542.7" cy="591.9" r="2.00" fill="#000"/>
<circle cx="509.8" cy="590.4" r="2.00" fill="#000"/>
<circle cx="561.1" cy="591.2" r="2.00" fill="#000"/>
<circle cx="555.5" cy="585.4" r="2.00" fill="#000"/>
<circle cx="513.9" cy="587.9" r="2.00" fill="#000"/>
<circle cx="530.7" cy="593.4" r="2.00" fill="#000"/>
<circle cx="528.9" cy="581.0" r="2.00" fill="#000"/>
<circle cx="566.4" cy="589.1" r="2.00" fill="#000"/>
<circle cx="530.6" cy="589.6" r="2.00" fill="#000"/>
<circle cx="557.8" cy="584.9" r="2.00" fill="#000"/>
<circle cx="539.9" cy="595.6" r="2.00" fill="#000"/>
<circle cx="506.2" cy="582.7" r="2.00" fill="#000"/>
<circle cx="559.1" cy="588.0" r="2.00" fill="#000"/>
<circle cx="535.0" cy="594.0" r="2.00" fill="#000"/>
<circle cx="524.7" cy="589.2" r="2.00" fill="#000"/>
<circle cx="571.6" cy="584.8" r="2.00" fill="#000"/>
<circle cx="520.7" cy="597.4" r="2.00" fill="#000"/>
<circle cx="536.4" cy="598.0" r="2.00" fill="#000"/>
<circle cx="492.4" cy="587.2" r="2.00" fill="#000"/>
<circle cx="545.7" cy="580.8" r="2.00" fill="#000"/>
<circle cx="571.9" cy="588.7" r="2.00" fill="#000"/>
<circle cx="532.9" cy="598.6" r="2.00" fill="#000"/>
<circle cx="543.9" cy="593.6" r="2.00" fill="#000"/>
<circle cx="533.8" cy="589.0" r="2.00" fill="#000"/>
<circle cx="522.3" cy="581.8" r="2.00" fill="#000"/>
<circle cx="507.2" cy="591.0" r="2.00" fill="#000"/>
<circle cx="530.2" cy="590.2" r="2.00" fill="#000"/>
<circle cx="538.4" cy="599.0" r="2.00" fill="#000"/>
<circle cx="545.1" cy="585.9" r="2.00" fill="#000"/>
<circle cx="524.3" cy="594.7" r="2.00" fill="#000"/>
<circle cx="538.4" cy="599.0" r="2.00" fill="#000"/>
<circle cx="545.3" cy="587.0" r="2.00" fill="#000"/>
<circle cx="534.1" cy="589.8" r="2.00" fill="#000"/>
<circle cx="519.3" cy="583.5" r="2.00" fill="#000"/>
<circle cx="503.5" cy="590.1" r="2.00" fill="#000"/>
<circle cx="522.5" cy="591.4" r="2.00" fill="#000"/>
<circle cx="514.3" cy="579.7" r="2.00" fill="#000"/>
<circle cx="530.5" cy="584.9" r="2.00" fill="#000"/>
<circle cx="582.5" cy="584.1" r="2.00" fill="#000"/>
<circle cx="551.9" cy="593.3" r="2.00" fill="#000"/>
<circle cx="540.7" cy="593.3" r="2.00" fill="#000"/>
<circle cx="512.0" cy="585.7" r="2.00" fill="#000"/>
<circle cx="560.1" cy="587.5" r="2.00" fill="#000"/>
<circle cx="523.7" cy="594.4" r="2.00" fill="#000"/>
<circle cx="558.8" cy="591.5" r="2.00" fill="#000"/>
<circle cx="542.0" cy="593.4" r="2.00" fill="#000"/>
<circle cx="541.7" cy="592.0" r="2.00" fill="#000"/>
<circle cx="505.1" cy="584.2" r="2.00" fill="#000"/>
<circle cx="562.3" cy="584.2" r="2.00" fill="#000"/>
<circle cx="529.5" cy="590.8" r="2.00" fill="#000"/>
<circle cx="578.4" cy="580.7" r="2.00" fill="#000"/>
<circle cx="540.4" cy="595.0" r="2.00" fill="#000"/>
<circle cx="585.6" cy="586.1" r="2.00" fill="#000"/>
<circle cx="537.4" cy="598.8" r="2.00" fill="#000"/>
<circle cx="527.7" cy="590.1" r="2.00" fill="#000"/>
<circle cx="529.5" cy="594.7" r="2.00" fill="#000"/>
<circle cx="554.2" cy="589.3" r="2.00" fill="#000"/>
<circle cx="566.9" cy="588.5" r="2.00" fill="#000"/>
<circle cx="557.5" cy="583.6" r="2.00" fill="#000"/>
<circle cx="492.3" cy="580.1" r="2.00" fill="#000"/>
<circle cx="561.2" cy="583.6" r="2.00" fill="#000"/>
<circle cx="561.5" cy="580.1" r="2.00" fill="#000"/>
<circle cx="503.2" cy="586.6" r="2.00" fill="#000"/>
<circle cx="532.7" cy="593.3" r="2.00" fill="#000"/>
<circle cx="534.7" cy="596.0" r="2.00" fill="#000"/>
<circle cx="537.0" cy="597.6" r="2.00" fill="#000"/>
<circle cx="537.1" cy="599.0" r="2.00" fill="#000"/>
<circle cx="519.3" cy="581.6" r="2.00" fill="#000"/>
<circle cx="548.9" cy="585.4" r="2.00" fill="#000"/>
<circle cx="555.6" cy="592.3" r="2.00" fill="#000"/>
<circle cx="561.3" cy="585.0" r="2.00" fill="#000"/>
<circle cx="498.0" cy="585.2" r="2.00" fill="#000"/>
<circle cx="563.3" cy="590.5" r="2.00" fill="#000"/>
<circle cx="521.0" cy="590.1" r="2.00" fill="#000"/>
<circle cx="583.2" cy="586.2" r="2.00" fill="#000"/>
<circle cx="511.0" cy="579.9" r="2.00" fill="#000"/>
<circle cx="532.5" cy="597.4" r="2.00" fill="#000"/>
<circle cx="524.1" cy="587.7" r="2.00" fill="#000"/>
<circle cx="565.5" cy="583.5" r="2.00" fill="#000"/>
<circle cx="534.8" cy="598.5" r="2.00" fill="#000"/>
<circle cx="531.2" cy="595.0" r="2.00" fill="#000"/>
<circle cx="534.7" cy="596.3" r="2.00" fill="#000"/>
<circle cx="550.1" cy="595.4" r="2.00" fill="#000"/>
<circle cx="561.6" cy="582.7" r="2.00" fill="#000"/>
<circle cx="542.5" cy="596.7" r="2.00" fill="#000"/>
<circle cx="564.2" cy="593.9" r="2.00" fill="#000"/>
<circle cx="555.8" cy="594.2" r="2.00" fill="#000"/>
<circle cx="522.7" cy="582.6" r="2.00" fill="#000"/>
<circle cx="539.6" cy="597.2" r="2.00" fill="#000"/>
<circle cx="520.4" cy="596.8" r="2.00" fill="#000"/>
<circle cx="536.0" cy="595.2" r="2.00" fill="#000"/>
<circle cx="511.3" cy="593.2" r="2.00" fill="#000"/>
<circle cx="561.5" cy="588.0" r="2.00" fill="#000"/>
<circle cx="528.0" cy="596.6" r="2.00" fill="#000"/>
<circle cx="536.0" cy="594.6" r="2.00" fill="#000"/>
<circle cx="504.4" cy="585.0" r="2.00" fill="#000"/>
<circle cx="535.9" cy="596.5" r="2.00" fill="#000"/>
<circle cx="513.0" cy="592.3" r="2.00" fill="#000"/>
<circle cx="525.7" cy="584.5" r="2.00" fill="#000"/>
<circle cx="522.6" cy="596.8" r="2.00" fill="#000"/>
<circle cx="536.1" cy="595.8" r="2.00" fill="#000"/>
<circle cx="547.6" cy="588.2" r="2.00" fill="#000"/>
<circle cx="531.2" cy="588.9" r="2.00" fill="#000"/>
<circle cx="571.0" cy="588.7" r="2.00" fill="#000"/>
<circle cx="539.4" cy="598.9" r="2.00" fill="#000"/>
<circle cx="586.0" cy="580.0" r="2.00" fill="#000"/>
<circle cx="549.8" cy="586.9" r="2.00" fill="#000"/>
<circle cx="560.8" cy="584.0" r="2.00" fill="#000"/>
<circle cx="530.1" cy="596.0" r="2.00" fill="#000"/>
<circle cx="514.6" cy="588.4" r="2.00" fill="#000"/>
<circle cx="548.9" cy="585.0" r="2.00" fill="#000"/>
<circle cx="523.3" cy="593.1" r="2.00" fill="#000"/>
<circle cx="561.8" cy="587.0" r="2.00" fill="#000"/>
<circle cx="517.7" cy="595.7" r="2.00" fill="#000"/>
<circle cx="548.8" cy="592.8" r="2.00" fill="#000"/>
<circle cx="536.2" cy="597.0" r="2.00" fill="#000"/>
<circle cx="527.5" cy="579.1" r="2.00" fill="#000"/>
<circle cx="514.8" cy="582.5" r="2.00" fill="#000"/>
<circle cx="519.0" cy="579.6" r="2.00" fill="#000"/>
<circle cx="524.1" cy="583.1" r="2.00" fill="#000"/>
<circle cx="551.1" cy="597.5" r="2.00" fill="#000"/>
<circle cx="523.8" cy="586.6" r="2.00" fill="#000"/>
<circle cx="541.6" cy="592.2" r="2.00" fill="#000"/>
<circle cx="553.2" cy="584.2" r="2.00" fill="#000"/>
<circle cx="521.3" cy="595.7" r="2.00" fill="#000"/>
<circle cx="515.1" cy="585.0" r="2.00" fill="#000"/>
<circle cx="501.7" cy="585.3" r="2.00" fill="#000"/>
<circle cx="519.1" cy="593.2" r="2.00" fill="#000"/>
<circle cx="537.3" cy="598.9" r="2.00" fill="#000"/>
<circle cx="545.0" cy="597.8" r="2.00" fill="#000"/>
<circle cx="516.6" cy="585.1" r="2.00" fill="#000"/>
<circle cx="552.1" cy="593.8" r="2.00" fill="#000"/>
<circle cx="514.5" cy="579.8" r="2.00" fill="#000"/>
<circle cx="548.1" cy="588.6" r="2.00" fill="#000"/>
<circle cx="559.3" cy="593.1" r="2.00" fill="#000"/>
<circle cx="537.4" cy="599.0" r="2.00" fill="#000"/>
<circle cx="550.8" cy="597.1" r="2.00" fill="#000"/>
<circle cx="521.5" cy="592.0" r="2.00" fill="#000"/>
<circle cx="516.3" cy="579.8" r="2.00" fill="#000"/>
<circle cx="520.0" cy="580.2" r="2.00" fill="#000"/>
<circle cx="548.4" cy="585.1" r="2.00" fill="#000"/>
<circle cx="507.8" cy="582.6" r="2.00" fill="#000"/>
<circle cx="545.4" cy="591.9" r="2.00" fill="#000"/>
<circle cx="566.7" cy="582.6" r="2.00" fill="#000"/>
<circle cx="551.8" cy="585.8" r="2.00" fill="#000"/>
<circle cx="562.0" cy="592.5" r="2.00" fill="#000"/>
<circle cx="559.8" cy="582.2" r="2.00" fill="#000"/>
<circle cx="519.1" cy="595.4" r="2.00" fill="#000"/>
<circle cx="519.9" cy="589.7" r="2.00" fill="#000"/>
<circle cx="537.7" cy="599.2" r="2.00" fill="#000"/>
<circle cx="529.5" cy="589.5" r="2.00" fill="#000"/>
<circle cx="554.8" cy="592.4" r="2.00" fill="#000"/>
<circle cx="517.2" cy="595.0" r="2.00" fill="#000"/>
<circle cx="557.7" cy="583.8" r="2.00" fill="#000"/>
<circle cx="507.4" cy="590.6" r="2.00" fill="#000"/>
<circle cx="538.7" cy="599.0" r="2.00" fill="#000"/>
<circle cx="536.0" cy="597.4" r="2.00" fill="#000"/>
<circle cx="543.6" cy="596.0" r="2.00" fill="#000"/>
<circle cx="537.3" cy="598.3" r="2.00" fill="#000"/>
<circle cx="539.8" cy="598.7" r="2.00" fill="#000"/>
<circle cx="523.7" cy="581.5" r="2.00" fill="#000"/>
<circle cx="579.6" cy="583.6" r="2.00" fill="#000"/>
<circle cx="531.0" cy="596.7" r="2.00" fill="#000"/>
<circle cx="537.0" cy="597.4" r="2.00" fill="#000"/>
<circle cx="511.2" cy="582.5" r="2.00" fill="#000"/>
<circle cx="518.6" cy="584.9" r="2.00" fill="#000"/>
<circle cx="543.6" cy="587.4" r="2.00" fill="#000"/>
<circle cx="500.1" cy="587.9" r="2.00" fill="#000"/>
<circle cx="515.0" cy="580.6" r="2.00" fill="#000"/>
<circle cx="551.3" cy="597.4" r="2.00" fill="#000"/>
<circle cx="526.5" cy="585.9" r="2.00" fill="#000"/>
<circle cx="503.4" cy="584.7" r="2.00" fill="#000"/>
<circle cx="505.7" cy="582.7" r="2.00" fill="#000"/>
<circle cx="539.4" cy="597.1" r="2.00" fill="#000"/>
<circle cx="527.1" cy="588.9" r="2.00" fill="#000"/>
<circle cx="541.9" cy="595.0" r="2.00" fill="#000"/>
<circle cx="553.6" cy="583.4" r="2.00" fill="#000"/>
<circle cx="522.8" cy="596.5" r="2.00" fill="#000"/>
<circle cx="533.3" cy="589.3" r="2.00" fill="#000"/>
<circle cx="539.5" cy="596.4" r="2.00" fill="#000"/>
<circle cx="502.5" cy="591.7" r="2.00" fill="#000"/>
<circle cx="534.5" cy="596.1" r="2.00" fill="#000"/>
<circle cx="559.5" cy="581.8" r="2.00" fill="#000"/>
<circle cx="539.6" cy="597.4" r="2.00" fill="#000"/>
<circle cx="541.8" cy="598.4" r="2.00" fill="#000"/>
<circle cx="564.2" cy="584.9" r="2.00" fill="#000"/>
<circle cx="543.3" cy="591.0" r="2.00" fill="#000"/>
<circle cx="560.7" cy="586.5" r="2.00" fill="#000"/>
<circle cx="549.1" cy="591.5" r="2.00" fill="#000"/>
<circle cx="540.5" cy="595.9" r="2.00" fill="#000"/>
<circle cx="549.6" cy="590.2" r="2.00" fill="#000"/>
<circle cx="514.2" cy="590.6" r="2.00" fill="#000"/>
<circle cx="524.1" cy="585.7" r="2.00" fill="#000"/>
<circle cx="537.0" cy="598.7" r="2.00" fill="#000"/>
<circle cx="570.1" cy="584.5" r="2.00" fill="#000"/>
<circle cx="535.7" cy="596.0" r="2.00" fill="#000"/>
<circle cx="504.7" cy="580.2" r="2.00" fill="#000"/>
<circle cx="572.3" cy="587.4" r="2.00" fill="#000"/>
<circle cx="535.7" cy="597.4" r="2.00" fill="#000"/>
<circle cx="531.7" cy="595.3" r="2.00" fill="#000"/>
<circle cx="531.6" cy="596.8" r="2.00" fill="#000"/>
<circle cx="527.7" cy="580.4" r="2.00" fill="#000"/>
<circle cx="523.4" cy="582.2" r="2.00" fill="#000"/>
<circle cx="521.6" cy="590.7" r="2.00" fill="#000"/>
<circle cx="535.2" cy="598.6" r="2.00" fill="#000"/>
<circle cx="568.3" cy="589.1" r="2.00" fill="#000"/>
<circle cx="563.4" cy="595.8" r="2.00" fill="#000"/>
<circle cx="557.2" cy="582.6" r="2.00" fill="#000"/>
<circle cx="536.4" cy="597.3" r="2.00" fill="#000"/>
<circle cx="546.3" cy="588.4" r="2.00" fill="#000"/>
<circle cx="537.1" cy="598.1" r="2.00" fill="#000"/>
<circle cx="580.7" cy="585.8" r="2.00" fill="#000"/>
<circle cx="545.2" cy="585.6" r="2.00" fill="#000"/>
<circle cx="545.4" cy="596.5" r="2.00" fill="#000"/>
<circle cx="542.3" cy="590.2" r="2.00" fill="#000"/>
<circle cx="578.3" cy="584.2" r="2.00" fill="#000"/>
<circle cx="523.6" cy="595.7" r="2.00" fill="#000"/>
<circle cx="542.5" cy="589.8" r="2.00" fill="#000"/>
<circle cx="516.4" cy="584.8" r="2.00" fill="#000"/>
<circle cx="528.0" cy="595.0" r="2.00" fill="#000"/>
<circle cx="534.0" cy="597.9" r="2.00" fill="#000"/>
<circle cx="524.4" cy="579.8" r="2.00" fill="#000"/>
<circle cx="545.2" cy="597.5" r="2.00" fill="#000"/>
<circle cx="539.2" cy="598.8" r="2.00" fill="#000"/>
<circle cx="529.1" cy="580.4" r="2.00" fill="#000"/>
<circle cx="543.5" cy="590.1" r="2.00" fill="#000"/>
<circle cx="563.8" cy="588.2" r="2.00" fill="#000"/>
<circle cx="532.5" cy="588.7" r="2.00" fill="#000"/>
<circle cx="547.1" cy="590.3" r="2.00" fill="#000"/>
<circle cx="510.3" cy="593.6" r="2.00" fill="#000"/>
<circle cx="517.8" cy="588.5" r="2.00" fill="#000"/>
<circle cx="512.1" cy="584.7" r="2.00" fill="#000"/>
<circle cx="573.9" cy="589.4" r="2.00" fill="#000"/>
<circle cx="535.5" cy="595.8" r="2.00" fill="#000"/>
<circle cx="539.5" cy="598.8" r="2.00" fill="#000"/>
<circle cx="553.4" cy="586.8" r="2.00" fill="#000"/>
<circle cx="556.0" cy="592.6" r="2.00" fill="#000"/>
<circle cx="524.4" cy="584.0" r="2.00" fill="#000"/>
<circle cx="530.4" cy="597.3" r="2.00" fill="#000"/>
<circle cx="550.0" cy="594.1" r="2.00" fill="#000"/>
<circle cx="521.2" cy="591.3" r="2.00" fill="#000"/>
<circle cx="532.8" cy="586.7" r="2.00" fill="#000"/>
<circle cx="532.5" cy="595.2" r="2.00" fill="#000"/>
<circle cx="532.4" cy="591.7" r="2.00" fill="#000"/>
<circle cx="542.6" cy="587.8" r="2.00" fill="#000"/>
<circle cx="543.3" cy="591.0" r="2.00" fill="#000"/>
<circle cx="549.7" cy="585.2" r="2.00" fill="#000"/>
<circle cx="547.0" cy="585.9" r="2.00" fill="#000"/>
<circle cx="549.2" cy="592.8" r="2.00" fill="#000"/>
<circle cx="567.6" cy="580.9" r="2.00" fill="#000"/>
<circle cx="543.7" cy="586.8" r="2.00" fill="#000"/>
<circle cx="546.8" cy="591.5" r="2.00" fill="#000"/>
<circle cx="528.3" cy="586.0" r="2.00" fill="#000"/>
<circle cx="518.7" cy="586.3" r="2.00" fill="#000"/>
<circle cx="520.9" cy="592.3" r="2.00" fill="#000"/>
<circle cx="539.3" cy="599.0" r="2.00" fill="#000"/>
<circle cx="546.7" cy="586.4" r="2.00" fill="#000"/>
<circle cx="572.0" cy="579.6" r="2.00" fill="#000"/>
<circle cx="558.8" cy="593.6" r="2.00" fill="#000"/>
<circle cx="564.7" cy="595.5" r="2.00" fill="#000"/>
<circle cx="533.0" cy="593.5" r="2.00" fill="#000"/>
<circle cx="528.2" cy="596.7" r="2.00" fill="#000"/>
<circle cx="551.2" cy="592.5" r="2.00" fill="#000"/>
<circle cx="559.3" cy="587.4" r="2.00" fill="#000"/>
<circle cx="540.9" cy="597.1" r="2.00" fill="#000"/>
<circle cx="573.9" cy="585.2" r="2.00" fill="#000"/>
<circle cx="520.5" cy="582.3" r="2.00" fill="#000"/>
<circle cx="519.4" cy="582.6" r="2.00" fill="#000"/>
<circle cx="564.0" cy="589.0" r="2.00" fill="#000"/>
<circle cx="537.6" cy="599.1" r="2.00" fill="#000"/>
<circle cx="521.0" cy="588.8" r="2.00" fill="#000"/>
<circle cx="561.6" cy="591.1" r="2.00" fill="#000"/>
<circle cx="558.5" cy="587.2" r="2.00" fill="#000"/>
<circle cx="547.9" cy="580.6" r="2.00" fill="#000"/>
<circle cx="514.7" cy="583.2" r="2.00" fill="#000"/>
<circle cx="527.6" cy="584.4" r="2.00" fill="#000"/>
<circle cx="509.4" cy="580.2" r="2.00" fill="#000"/>
<circle cx="515.5" cy="586.1" r="2.00" fill="#000"/>
<circle cx="523.0" cy="586.9" r="2.00" fill="#000"/>
<circle cx="553.7" cy="593.4" r="2.00" fill="#000"/>
<circle cx="532.9" cy="591.8" r="2.00" fill="#000"/>
<circle cx="527.3" cy="585.3" r="2.00" fill="#000"/>
<circle cx="566.6" cy="595.1" r="2.00" fill="#000"/>
<circle cx="545.4" cy="590.2" r="2.00" fill="#000"/>
<circle cx="564.3" cy="583.7" r="2.00" fill="#000"/>
<circle cx="529.6" cy="584.4" r="2.00" fill="#000"/>
<circle cx="540.4" cy="593.5" r="2.00" fill="#000"/>
<circle cx="560.8" cy="585.0" r="2.00" fill="#000"/>
<circle cx="553.0" cy="585.5" r="2.00" fill="#000"/>
<circle cx="516.1" cy="579.2" r="2.00" fill="#000"/>
<circle cx="552.8" cy="582.1" r="2.00" fill="#000"/>
<circle cx="524.0" cy="584.6" r="2.00" fill="#000"/>
<circle cx="561.4" cy="594.7" r="2.00" fill="#000"/>
<circle cx="541.9" cy="590.8" r="2.00" fill="#000"/>
<circle cx="552.1" cy="580.3" r="2.00" fill="#000"/>
<circle cx="541.9" cy="590.2" r="2.00" fill="#000"/>
<circle cx="560.4" cy="583.3" r="2.00" fill="#000"/>
<circle cx="504.2" cy="580.0" r="2.00" fill="#000"/>
<circle cx="517.8" cy="594.8" r="2.00" fill="#000"/>
<circle cx="554.1" cy="585.5" r="2.00" fill="#000"/>
<circle cx="535.3" cy="594.0" r="2.00" fill="#000"/>
<circle cx="534.2" cy="590.5" r="2.00" fill="#000"/>
<circle cx="554.3" cy="582.5" r="2.00" fill="#000"/>
<circle cx="547.0" cy="585.5" r="2.00" fill="#000"/>
<circle cx="537.4" cy="598.6" r="2.00" fill="#000"/>
<circle cx="568.1" cy="589.4" r="2.00" fill="#000"/>
<circle cx="530.4" cy="596.1" r="2.00" fill="#000"/>
<circle cx="545.5" cy="586.9" r="2.00" fill="#000"/>
<circle cx="551.7" cy="590.9" r="2.00" fill="#000"/>
<circle cx="543.5" cy="588.8" r="2.00" fill="#000"/>
<circle cx="545.2" cy="583.3" r="2.00" fill="#000"/>
<circle cx="555.0" cy="579.4" r="2.00" fill="#000"/>
<circle cx="554.7" cy="589.9" r="2.00" fill="#000"/>
<circle cx="504.7" cy="593.2" r="2.00" fill="#000"/>
<circle cx="531.2" cy="583.3" r="2.00" fill="#000"/>
<circle cx="543.4" cy="593.5" r="2.00" fill="#000"/>
<circle cx="507.9" cy="586.2" r="2.00" fill="#000"/>
<circle cx="545.0" cy="596.8" r="2.00" fill="#000"/>
<circle cx="536.2" cy="596.4" r="2.00" fill="#000"/>
<circle cx="549.0" cy="593.9" r="2.00" fill="#000"/>
<circle cx="535.5" cy="596.0" r="2.00" fill="#000"/>
<circle cx="544.6" cy="587.0" r="2.00" fill="#000"/>
<circle cx="514.9" cy="595.2" r="2.00" fill="#000"/>
<circle cx="546.6" cy="583.8" r="2.00" fill="#000"/>
<circle cx="562.7" cy="594.0" r="2.00" fill="#000"/>
<circle cx="552.6" cy="589.1" r="2.00" fill="#000"/>
<circle cx="547.6" cy="591.0" r="2.00" fill="#000"/>
<circle cx="542.3" cy="591.7" r="2.00" fill="#000"/>
<circle cx="545.2" cy="581.0" r="2.00" fill="#000"/>
<circle cx="510.2" cy="592.6" r="2.00" fill="#000"/>
<circle cx="506.8" cy="584.3" r="2.00" fill="#000"/>
<circle cx="514.3" cy="585.2" r="2.00" fill="#000"/>
<circle cx="566.4" cy="584.6" r="2.00" fill="#000"/>
<circle cx="579.5" cy="588.6" r="2.00" fill="#000"/>
<circle cx="514.3" cy="587.8" r="2.00" fill="#000"/>
<circle cx="559.7" cy="591.9" r="2.00" fill="#000"/>
<circle cx="551.1" cy="584.1" r="2.00" fill="#000"/>
<circle cx="537.2" cy="597.9" r="2.00" fill="#000"/>
<circle cx="540.5" cy="598.1" r="2.00" fill="#000"/>
<circle cx="536.0" cy="598.8" r="2.00" fill="#000"/>
<circle cx="561.6" cy="582.5" r="2.00" fill="#000"/>
<circle cx="536.7" cy="597.3" r="2.00" fill="#000"/>
<circle cx="529.4" cy="595.4" r="2.00" fill="#000"/>
<circle cx="530.4" cy="592.2" r="2.00" fill="#000"/>
<circle cx="537.1" cy="598.3" r="2.00" fill="#000"/>
<circle cx="512.0" cy="580.1" r="2.00" fill="#000"/>
<circle cx="531.0" cy="591.8" r="2.00" fill="#000"/>
<circle cx="531.0" cy="585.0" r="2.00" fill="#000"/>
<circle cx="549.2" cy="590.3" r="2.00" fill="#000"/>
<circle cx="541.6" cy="594.8" r="2.00" fill="#000"/>
<circle cx="550.8" cy="581.8" r="2.00" fill="#000"/>
<circle cx="506.4" cy="586.3" r="2.00" fill="#000"/>
<circle cx="551.9" cy="586.1" r="2.00" fill="#000"/>
<circle cx="558.2" cy="583.4" r="2.00" fill="#000"/>
<circle cx="556.8" cy="591.8" r="2.00" fill="#000"/>
<circle cx="549.3" cy="591.7" r="2.00" fill="#000"/>
<circle cx="532.0" cy="589.4" r="2.00" fill="#000"/>
<circle cx="549.4" cy="597.3" r="2.00" fill="#000"/>
<circle cx="539.8" cy="598.2" r="2.00" fill="#000"/>
<circle cx="553.5" cy="581.8" r="2.00" fill="#000"/>
<circle cx="523.2" cy="594.7" r="2.00" fill="#000"/>
<circle cx="502.0" cy="589.6" r="2.00" fill="#000"/>
<circle cx="529.9" cy="581.9" r="2.00" fill="#000"/>
<circle cx="559.6" cy="581.6" r="2.00" fill="#000"/>
<circle cx="540.9" cy="598.8" r="2.00" fill="#000"/>
<circle cx="535.9" cy="597.2" r="2.00" fill="#000"/>
<circle cx="536.7" cy="598.1" r="2.00" fill="#000"/>
<circle cx="539.6" cy="598.6" r="2.00" fill="#000"/>
<circle cx="547.9" cy="591.3" r="2.00" fill="#000"/>
<circle cx="529.3" cy="594.3" r="2.00" fill="#000"/>
<circle cx="544.1" cy="591.3" r="2.00" fill="#000"/>
<circle cx="531.1" cy="594.0" r="2.00" fill="#000"/>
<circle cx="540.1" cy="595.4" r="2.00" fill="#000"/>
<circle cx="537.1" cy="597.7" r="2.00" fill="#000"/>
<circle cx="520.9" cy="579.6" r="2.00" fill="#000"/>
<circle cx="529.7" cy="597.3" r="2.00" fill="#000"/>
<circle cx="528.4" cy="587.0" r="2.00" fill="#000"/>
<circle cx="500.9" cy="579.1" r="2.00" fill="#000"/>
<circle cx="541.9" cy="590.9" r="2.00" fill="#000"/>
<circle cx="541.4" cy="593.6" r="2.00" fill="#000"/>
<circle cx="551.3" cy="579.7" r="2.00" fill="#000"/>
<circle cx="541.8" cy="591.4" r="2.00" fill="#000"/>
<circle cx="537.0" cy="599.1" r="2.00" fill="#000"/>
<circle cx="510.7" cy="579.9" r="2.00" fill="#000"/>
<circle cx="529.0" cy="587.1" r="2.00" fill="#000"/>
<circle cx="569.9" cy="586.0" r="2.00" fill="#000"/>
<circle cx="496.6" cy="580.7" r="2.00" fill="#000"/>
<circle cx="531.7" cy="591.6" r="2.00" fill="#000"/>
<circle cx="545.8" cy="590.8" r="2.00" fill="#000"/>
<circle cx="529.2" cy="591.3" r="2.00" fill="#000"/>
<circle cx="557.1" cy="597.3" r="2.00" fill="#000"/>
<circle cx="544.3" cy="583.2" r="2.00" fill="#000"/>
<circle cx="547.6" cy="596.9" r="2.00" fill="#000"/>
<circle cx="518.9" cy="591.5" r="2.00" fill="#000"/>
<circle cx="540.9" cy="598.2" r="2.00" fill="#000"/>
<circle cx="523.0" cy="588.9" r="2.00" fill="#000"/>
<circle cx="529.9" cy="590.2" r="2.00" fill="#000"/>
<circle cx="534.0" cy="593.0" r="2.00" fill="#000"/>
<circle cx="519.2" cy="579.2" r="2.00" fill="#000"/>
<circle cx="537.5" cy="599.1" r="2.00" fill="#000"/>
<circle cx="570.4" cy="580.1" r="2.00" fill="#000"/>
<circle cx="527.4" cy="582.2" r="2.00" fill="#000"/>
<circle cx="535.4" cy="593.5" r="2.00" fill="#000"/>
<circle cx="565.7" cy="579.6" r="2.00" fill="#000"/>
<circle cx="567.4" cy="588.4" r="2.00" fill="#000"/>
<circle cx="546.3" cy="586.6" r="2.00" fill="#000"/>
<circle cx="509.3" cy="588.0" r="2.00" fill="#000"/>
<circle cx="525.2" cy="582.7" r="2.00" fill="#000"/>
<circle cx="571.0" cy="579.7" r="2.00" fill="#000"/>
<circle cx="561.2" cy="583.6" r="2.00" fill="#000"/>
<circle cx="549.0" cy="593.3" r="2.00" fill="#000"/>
<circle cx="578.6" cy="581.4" r="2.00" fill="#000"/>
<circle cx="544.0" cy="587.5" r="2.00" fill="#000"/>
<circle cx="528.5" cy="582.2" r="2.00" fill="#000"/>
<circle cx="556.4" cy="595.1" r="2.00" fill="#000"/>
<circle cx="533.6" cy="593.3" r="2.00" fill="#000"/>
<circle cx="509.3" cy="579.7" r="2.00" fill="#000"/>
<circle cx="511.9" cy="591.7" r="2.00" fill="#000"/>
<circle cx="509.6" cy="587.7" r="2.00" fill="#000"/>
<circle cx="532.8" cy="588.6" r="2.00" fill="#000"/>
<circle cx="560.3" cy="579.2" r="2.00" fill="#000"/>
<circle cx="570.2" cy="579.4" r="2.00" fill="#000"/>
<circle cx="518.8" cy="583.3" r="2.00" fill="#000"/>
<circle cx="530.4" cy="589.7" r="2.00" fill="#000"/>
<circle cx="529.7" cy="580.7" r="2.00" fill="#000"/>
<circle cx="539.3" cy="598.0" r="2.00" fill="#000"/>
<circle cx="539.0" cy="598.0" r="2.00" fill="#000"/>
<circle cx="546.5" cy="591.0" r="2.00" fill="#000"/>
<circle cx="564.3" cy="587.7" r="2.00" fill="#000"/>
<circle cx="530.0" cy="594.8" r="2.00" fill="#000"/>
<circle cx="566.4" cy="584.6" r="2.00" fill="#000"/>
<circle cx="547.5" cy="587.9" r="2.00" fill="#000"/>
<circle cx="519.1" cy="580.5" r="2.00" fill="#000"/>
<circle cx="551.7" cy="582.5" r="2.00" fill="#000"/>
<circle cx="543.4" cy="593.9" r="2.00" fill="#000"/>
<circle cx="528.7" cy="591.8" r="2.00" fill="#000"/>
<circle cx="556.3" cy="582.9" r="2.00" fill="#000"/>
<circle cx="558.7" cy="583.5" r="2.00" fill="#000"/>
<circle cx="552.4" cy="590.5" r="2.00" fill="#000"/>
<circle cx="536.4" cy="596.7" r="2.00" fill="#000"/>
<circle cx="521.0" cy="595.1" r="2.00" fill="#000"/>
<circle cx="528.6" cy="585.8" r="2.00" fill="#000"/>
<circle cx="560.9" cy="587.5" r="2.00" fill="#000"/>
<circle cx="561.7" cy="581.1" r="2.00" fill="#000"/>
<circle cx="544.2" cy="593.8" r="2.00" fill="#000"/>
<circle cx="545.5" cy="593.3" r="2.00" fill="#000"/>
<circle cx="564.3" cy="593.4" r="2.00" fill="#000"/>
<circle cx="562.5" cy="580.8" r="2.00" fill="#000"/>
<circle cx="550.7" cy="582.9" r="2.00" fill="#000"/>
<circle cx="505.9" cy="581.0" r="2.00" fill="#000"/>
<circle cx="517.9" cy="591.3" r="2.00" fill="#000"/>
<circle cx="501.0" cy="579.7" r="2.00" fill="#000"/>
<circle cx="573.6" cy="583.5" r="2.00" fill="#000"/>
<circle cx="526.7" cy="596.0" r="2.00" fill="#000"/>
<circle cx="526.0" cy="590.9" r="2.00" fill="#000"/>
<circle cx="541.9" cy="592.3" r="2.00" fill="#000"/>
<circle cx="565.4" cy="584.4" r="2.00" fill="#000"/>
<circle cx="539.3" cy="598.5" r="2.00" fill="#000"/>
<circle cx="538.3" cy="599.2" r="2.00" fill="#000"/>
<circle cx="509.9" cy="586.8" r="2.00" fill="#000"/>
<circle cx="569.4" cy="581.7" r="2.00" fill="#000"/>
<circle cx="545.9" cy="582.5" r="2.00" fill="#000"/>
<circle cx="554.9" cy="591.2" r="2.00" fill="#000"/>
<circle cx="535.5" cy="595.0" r="2.00" fill="#000"/>
<circle cx="513.1" cy="595.3" r="2.00" fill="#000"/>
<circle cx="503.6" cy="587.2" r="2.00" fill="#000"/>
<circle cx="581.0" cy="586.4" r="2.00" fill="#000"/>
<circle cx="564.1" cy="583.5" r="2.00" fill="#000"/>
<circle cx="538.6" cy="598.8" r="2.00" fill="#000"/>
<circle cx="525.2" cy="591.9" r="2.00" fill="#000"/>
<circle cx="525.4" cy="591.6" r="2.00" fill="#000"/>
<circle cx="542.8" cy="597.5" r="2.00" fill="#000"/>
<circle cx="567.7" cy="592.3" r="2.00" fill="#000"/>
<circle cx="536.1" cy="595.7" r="2.00" fill="#000"/>
<circle cx="523.4" cy="593.2" r="2.00" fill="#000"/>
<circle cx="511.3" cy="586.3" r="2.00" fill="#000"/>
<circle cx="561.6" cy="595.5" r="2.00" fill="#000"/>
<circle cx="541.2" cy="597.9" r="2.00" fill="#000"/>
<circle cx="551.4" cy="588.1" r="2.00" fill="#000"/>
<circle cx="550.7" cy="593.1" r="2.00" fill="#000"/>
<circle cx="547.2" cy="579.9" r="2.00" fill="#000"/>
<circle cx="543.2" cy="585.9" r="2.00" fill="#000"/>
<circle cx="547.5" cy="593.7" r="2.00" fill="#000"/>
<circle cx="533.3" cy="588.5" r="2.00" fill="#000"/>
<circle cx="549.4" cy="585.1" r="2.00" fill="#000"/>
<circle cx="539.7" cy="595.4" r="2.00" fill="#000"/>
<circle cx="571.4" cy="588.2" r="2.00" fill="#000"/>
<circle cx="522.1" cy="583.4" r="2.00" fill="#000"/>
<circle cx="576.3" cy="579.4" r="2.00" fill="#000"/>
<circle cx="522.8" cy="583.0" r="2.00" fill="#000"/>
<circle cx="545.5" cy="589.7" r="2.00" fill="#000"/>
<circle cx="509.8" cy="585.2" r="2.00" fill="#000"/>
<circle cx="561.1" cy="595.8" r="2.00" fill="#000"/>
<circle cx="528.1" cy="588.8" r="2.00" fill="#000"/>
<circle cx="559.3" cy="587.3" r="2.00" fill="#000"/>
<circle cx="517.0" cy="580.1" r="2.00" fill="#000"/>
<circle cx="539.2" cy="597.3" r="2.00" fill="#000"/>
<circle cx="525.1" cy="581.2" r="2.00" fill="#000"/>
<circle cx="583.4" cy="584.2" r="2.00" fill="#000"/>
<circle cx="540.5" cy="593.8" r="2.00" fill="#000"/>
<circle cx="555.3" cy="591.0" r="2.00" fill="#000"/>
<circle cx="540.0" cy="597.9" r="2.00" fill="#000"/>
<circle cx="520.1" cy="584.8" r="2.00" fill="#000"/>
<circle cx="510.3" cy="580.3" r="2.00" fill="#000"/>
<circle cx="550.5" cy="589.5" r="2.00" fill="#000"/>
<circle cx="548.9" cy="582.6" r="2.00" fill="#000"/>
<circle cx="534.4" cy="591.0" r="2.00" fill="#000"/>
<circle cx="508.0" cy="581.5" r="2.00" fill="#000"/>
<circle cx="532.8" cy="591.4" r="2.00" fill="#000"/>
<circle cx="522.6" cy="581.8" r="2.00" fill="#000"/>
<circle cx="505.0" cy="590.8" r="2.00" fill="#000"/>
<circle cx="568.0" cy="581.6" r="2.00" fill="#000"/>
<circle cx="544.3" cy="595.1" r="2.00" fill="#000"/>
<circle cx="557.6" cy="593.4" r="2.00" fill="#000"/>
<circle cx="512.9" cy="592.6" r="2.00" fill="#000"/>
<circle cx="524.1" cy="594.2" r="2.00" fill="#000"/>
<circle cx="516.4" cy="580.5" r="2.00" fill="#000"/>
<circle cx="546.4" cy="580.0" r="2.00" fill="#000"/>
<circle cx="573.9" cy="590.6" r="2.00" fill="#000"/>
<circle cx="531.4" cy="583.1" r="2.00" fill="#000"/>
<circle cx="515.8" cy="587.9" r="2.00" fill="#000"/>
<circle cx="526.9" cy="581.6" r="2.00" fill="#000"/>
<circle cx="546.0" cy="591.4" r="2.00" fill="#000"/>
<circle cx="542.9" cy="587.7" r="2.00" fill="#000"/>
<circle cx="536.0" cy="599.0" r="2.00" fill="#000"/>
<circle cx="531.0" cy="592.0" r="2.00" fill="#000"/>
<circle cx="492.7" cy="582.7" r="2.00" fill="#000"/>
<circle cx="532.7" cy="587.3" r="2.00" fill="#000"/>
<circle cx="542.3" cy="593.2" r="2.00" fill="#000"/>
<circle cx="540.3" cy="598.0" r="2.00" fill="#000"/>
<circle cx="533.8" cy="596.1" r="2.00" fill="#000"/>
<circle cx="540.3" cy="599.0" r="2.00" fill="#000"/>
<circle cx="534.9" cy="595.8" r="2.00" fill="#000"/>
<circle cx="510.8" cy="581.1" r="2.00" fill="#000"/>
<circle cx="562.8" cy="591.1" r="2.00" fill="#000"/>
<circle cx="520.8" cy="582.8" r="2.00" fill="#000"/>
<circle cx="534.8" cy="594.9" r="2.00" fill="#000"/>
<circle cx="532.5" cy="592.3" r="2.00" fill="#000"/>
<circle cx="515.2" cy="583.8" r="2.00" fill="#000"/>
<circle cx="544.8" cy="590.9" r="2.00" fill="#000"/>
<circle cx="503.3" cy="583.0" r="2.00" fill="#000"/>
<circle cx="534.3" cy="596.8" r="2.00" fill="#000"/>
<circle cx="548.5" cy="579.9" r="2.00" fill="#000"/>
<circle cx="550.2" cy="589.8" r="2.00" fill="#000"/>
<circle cx="574.4" cy="582.6" r="2.00" fill="#000"/>
<circle cx="504.8" cy="587.5" r="2.00" fill="#000"/>
<circle cx="516.2" cy="579.8" r="2.00" fill="#000"/>
<circle cx="511.6" cy="583.7" r="2.00" fill="#000"/>
<circle cx="538.4" cy="598.9" r="2.00" fill="#000"/>
<circle cx="549.4" cy="589.1" r="2.00" fill="#000"/>
<circle cx="560.9" cy="584.0" r="2.00" fill="#000"/>
<circle cx="540.6" cy="596.4" r="2.00" fill="#000"/>
<circle cx="525.9" cy="592.4" r="2.00" fill="#000"/>
<circle cx="560.1" cy="587.8" r="2.00" fill="#000"/>
<circle cx="533.4" cy="587.7" r="2.00" fill="#000"/>
<circle cx="546.3" cy="587.8" r="2.00" fill="#000"/>
<circle cx="501.8" cy="590.4" r="2.00" fill="#000"/>
<circle cx="533.1" cy="593.4" r="2.00" fill="#000"/>
<circle cx="544.4" cy="590.6" r="2.00" fill="#000"/>
<circle cx="545.4" cy="587.7" r="2.00" fill="#000"/>
<circle cx="544.7" cy="586.5" r="2.00" fill="#000"/>
<circle cx="549.0" cy="587.5" r="2.00" fill="#000"/>
<circle cx="519.9" cy="588.9" r="2.00" fill="#000"/>
<circle cx="550.6" cy="584.5" r="2.00" fill="#000"/>
<circle cx="533.7" cy="593.1" r="2.00" fill="#000"/>
<circle cx="535.4" cy="597.2" r="2.00" fill="#000"/>
<circle cx="520.2" cy="582.9" r="2.00" fill="#000"/>
<circle cx="528.1" cy="579.7" r="2.00" fill="#000"/>
<circle cx="537.3" cy="598.6" r="2.00" fill="#000"/>
<circle cx="512.3" cy="593.3" r="2.00" fill="#000"/>
<circle cx="537.1" cy="598.5" r="2.00" fill="#000"/>
<circle cx="526.2" cy="586.2" r="2.00" fill="#000"/>
<circle cx="535.1" cy="595.0" r="2.00" fill="#000"/>
<circle cx="576.5" cy="579.4" r="2.00" fill="#000"/>
<circle cx="559.7" cy="590.1" r="2.00" fill="#000"/>
<circle cx="541.6" cy="593.5" r="2.00" fill="#000"/>
<circle cx="523.5" cy="580.0" r="2.00" fill="#000"/>
<circle cx="518.3" cy="588.2" r="2.00" fill="#000"/>
<circle cx="516.9" cy="586.2" r="2.00" fill="#000"/>
<circle cx="561.7" cy="590.8" r="2.00" fill="#000"/>
<circle cx="550.7" cy="596.3" r="2.00" fill="#000"/>
<circle cx="532.2" cy="590.3" r="2.00" fill="#000"/>
<circle cx="570.3" cy="581.4" r="2.00" fill="#000"/>
<circle cx="518.7" cy="585.3" r="2.00" fill="#000"/>
<circle cx="522.9" cy="594.0" r="2.00" fill="#000"/>
<circle cx="537.6" cy="599.0" r="2.00" fill="#000"/>
<circle cx="550.7" cy="579.4" r="2.00" fill="#000"/>
<circle cx="517.7" cy="582.2" r="2.00" fill="#000"/>
<circle cx="514.2" cy="588.2" r="2.00" fill="#000"/>
<circle cx="531.8" cy="584.3" r="2.00" fill="#000"/>
<circle cx="544.6" cy="583.4" r="2.00" fill="#000"/>
<circle cx="528.3" cy="584.6" r="2.00" fill="#000"/>
<circle cx="518.6" cy="588.6" r="2.00" fill="#000"/>
<circle cx="562.9" cy="583.6" r="2.00" fill="#000"/>
<circle cx="511.8" cy="580.2" r="2.00" fill="#000"/>
<circle cx="555.5" cy="589.4" r="2.00" fill="#000"/>
<circle cx="524.8" cy="583.8" r="2.00" fill="#000"/>
<circle cx="534.4" cy="594.1" r="2.00" fill="#000"/>
<circle cx="531.3" cy="593.1" r="2.00" fill="#000"/>
<circle cx="531.8" cy="593.3" r="2.00" fill="#000"/>
<circle cx="529.4" cy="592.7" r="2.00" fill="#000"/>
<circle cx="534.0" cy="590.2" r="2.00" fill="#000"/>
<circle cx="562.8" cy="584.5" r="2.00" fill="#000"/>
<circle cx="519.2" cy="589.2" r="2.00" fill="#000"/>
<circle cx="513.0" cy="587.8" r="2.00" fill="#000"/>
<circle cx="531.1" cy="585.1" r="2.00" fill="#000"/>
<circle cx="528.1" cy="580.4" r="2.00" fill="#000"/>
<circle cx="543.8" cy="585.3" r="2.00" fill="#000"/>
<circle cx="533.9" cy="596.2" r="2.00" fill="#000"/>
<circle cx="556.7" cy="590.0" r="2.00" fill="#000"/>
<circle cx="557.9" cy="593.0" r="2.00" fill="#000"/>
<circle cx="520.3" cy="586.7" r="2.00" fill="#000"/>
<circle cx="523.8" cy="587.4" r="2.00" fill="#000"/>
<circle cx="514.2" cy="583.3" r="2.00" fill="#000"/>
<circle cx="516.6" cy="583.6" r="2.00" fill="#000"/>
<circle cx="548.7" cy="585.2" r="2.00" fill="#000"/>
<circle cx="519.7" cy="594.7" r="2.00" fill="#000"/>
<circle cx="556.9" cy="584.2" r="2.00" fill="#000"/>
<circle cx="548.9" cy="592.9" r="2.00" fill="#000"/>
<circle cx="553.9" cy="587.6" r="2.00" fill="#000"/>
<circle cx="534.7" cy="594.9" r="2.00" fill="#000"/>
<circle cx="549.5" cy="592.5" r="2.00" fill="#000"/>
<circle cx="536.7" cy="597.2" r="2.00" fill="#000"/>
<circle cx="527.4" cy="595.2" r="2.00" fill="#000"/>
<circle cx="552.0" cy="580.4" r="2.00" fill="#000"/>
<circle cx="515.3" cy="591.3" r="2.00" fill="#000"/>
<circle cx="547.6" cy="580.1" r="2.00" fill="#000"/>
<circle cx="561.8" cy="594.7" r="2.00" fill="#000"/>
<circle cx="556.8" cy="586.7" r="2.00" fill="#000"/>
<circle cx="517.4" cy="588.2" r="2.00" fill="#000"/>
<circle cx="580.3" cy="580.6" r="2.00" fill="#000"/>
<circle cx="552.4" cy="579.3" r="2.00" fill="#000"/>
<circle cx="541.2" cy="595.7" r="2.00" fill="#000"/>
<circle cx="553.0" cy="590.1" r="2.00" fill="#000"/>
<circle cx="542.2" cy="593.0" r="2.00" fill="#000"/>
<circle cx="526.7" cy="588.2" r="2.00" fill="#000"/>
<circle cx="549.7" cy="588.3" r="2.00" fill="#000"/>
<circle cx="548.1" cy="586.4" r="2.00" fill="#000"/>
<circle cx="559.7" cy="585.8" r="2.00" fill="#000"/>
<circle cx="537.4" cy="598.9" r="2.00" fill="#000"/>
<circle cx="517.8" cy="579.9" r="2.00" fill="#000"/>
<circle cx="550.6" cy="589.2" r="2.00" fill="#000"/>
<circle cx="549.6" cy="589.4" r="2.00" fill="#000"/>
<circle cx="547.9" cy="591.6" r="2.00" fill="#000"/>
<circle cx="575.3" cy="584.4" r="2.00" fill="#000"/>
<circle cx="530.9" cy="590.0" r="2.00" fill="#000"/>
<circle cx="532.3" cy="596.4" r="2.00" fill="#000"/>
<circle cx="508.9" cy="581.1" r="2.00" fill="#000"/>
<circle cx="530.6" cy="580.7" r="2.00" fill="#000"/>
<circle cx="554.6" cy="584.5" r="2.00" fill="#000"/>
<circle cx="552.5" cy="589.9" r="2.00" fill="#000"/>
<circle cx="559.6" cy="581.1" r="2.00" fill="#000"/>
<circle cx="531.0" cy="597.2" r="2.00" fill="#000"/>
<circle cx="516.2" cy="581.5" r="2.00" fill="#000"/>
<circle cx="557.6" cy="587.3" r="2.00" fill="#000"/>
<circle cx="558.9" cy="588.6" r="2.00" fill="#000"/>
<circle cx="513.7" cy="583.4" r="2.00" fill="#000"/>
<circle cx="529.4" cy="580.8" r="2.00" fill="#000"/>
<circle cx="537.7" cy="599.2" r="2.00" fill="#000"/>
<circle cx="549.5" cy="582.8" r="2.00" fill="#000"/>
<circle cx="529.9" cy="597.6" r="2.00" fill="#000"/>
<circle cx="522.5" cy="587.4" r="2.00" fill="#000"/>
<circle cx="538.7" cy="598.7" r="2.00" fill="#000"/>
<circle cx="519.4" cy="582.9" r="2.00" fill="#000"/>
<circle cx="532.4" cy="589.0" r="2.00" fill="#000"/>
<circle cx="536.5" cy="598.2" r="2.00" fill="#000"/>
<circle cx="551.1" cy="590.9" r="2.00" fill="#000"/>
<circle cx="518.6" cy="582.8" r="2.00" fill="#000"/>
<circle cx="548.9" cy="579.4" r="2.00" fill="#000"/>
<circle cx="537.6" cy="598.9" r="2.00" fill="#000"/>
<circle cx="554.6" cy="597.6" r="2.00" fill="#000"/>
<circle cx="535.2" cy="594.7" r="2.00" fill="#000"/>
<circle cx="534.7" cy="594.0" r="2.00" fill="#000"/>
<circle cx="495.6" cy="586.2" r="2.00" fill="#000"/>
<circle cx="577.7" cy="591.1" r="2.00" fill="#000"/>
<circle cx="549.7" cy="583.5" r="2.00" fill="#000"/>
<circle cx="547.5" cy="583.5" r="2.00" fill="#000"/>
<circle cx="514.7" cy="592.8" r="2.00" fill="#000"/>
<circle cx="570.0" cy="589.9" r="2.00" fill="#000"/>
<circle cx="517.5" cy="582.3" r="2.00" fill="#000"/>
<circle cx="528.5" cy="591.5" r="2.00" fill="#000"/>
<circle cx="560.6" cy="583.8" r="2.00" fill="#000"/>
<circle cx="523.1" cy="586.2" r="2.00" fill="#000"/>
<circle cx="544.5" cy="583.0" r="2.00" fill="#000"/>
<circle cx="562.5" cy="595.8" r="2.00" fill="#000"/>
<circle cx="530.8" cy="593.1" r="2.00" fill="#000"/>
<circle cx="553.0" cy="582.8" r="2.00" fill="#000"/>
<circle cx="532.6" cy="588.7" r="2.00" fill="#000"/>
<circle cx="530.5" cy="581.4" r="2.00" fill="#000"/>
<circle cx="542.1" cy="592.4" r="2.00" fill="#000"/>
<circle cx="540.2" cy="594.6" r="2.00" fill="#000"/>
<circle cx="517.2" cy="588.7" r="2.00" fill="#000"/>
<circle cx="531.7" cy="588.9" r="2.00" fill="#000"/>
<circle cx="560.6" cy="583.0" r="2.00" fill="#000"/>
<circle cx="525.2" cy="588.3" r="2.00" fill="#000"/>
<circle cx="562.9" cy="586.5" r="2.00" fill="#000"/>
<circle cx="516.9" cy="590.5" r="2.00" fill="#000"/>
<circle cx="522.2" cy="585.0" r="2.00" fill="#000"/>
<circle cx="559.5" cy="588.3" r="2.00" fill="#000"/>
<circle cx="548.6" cy="586.0" r="2.00" fill="#000"/>
<circle cx="530.1" cy="588.2" r="2.00" fill="#000"/>
<circle cx="579.0" cy="580.8" r="2.00" fill="#000"/>
<circle cx="536.2" cy="596.8" r="2.00" fill="#000"/>
<circle cx="578.4" cy="584.0" r="2.00" fill="#000"/>
<circle cx="497.0" cy="583.7" r="2.00" fill="#000"/>
<circle cx="556.8" cy="586.7" r="2.00" fill="#000"/>
<circle cx="524.9" cy="592.0" r="2.00" fill="#000"/>
<circle cx="554.6" cy="588.4" r="2.00" fill="#000"/>
<circle cx="546.3" cy="590.5" r="2.00" fill="#000"/>
<circle cx="566.4" cy="593.1" r="2.00" fill="#000"/>
<circle cx="543.5" cy="586.2" r="2.00" fill="#000"/>
<circle cx="532.5" cy="590.6" r="2.00" fill="#000"/>
<circle cx="552.5" cy="591.5" r="2.00" fill="#000"/>
<circle cx="536.0" cy="594.8" r="2.00" fill="#000"/>
<circle cx="522.7" cy="596.8" r="2.00" fill="#000"/>
<circle cx="575.6" cy="582.7" r="2.00" fill="#000"/>
<circle cx="552.4" cy="592.0" r="2.00" fill="#000"/>
<circle cx="527.4" cy="587.6" r="2.00" fill="#000"/>
<circle cx="524.6" cy="591.9" r="2.00" fill="#000"/>
<circle cx="512.0" cy="581.3" r="2.00" fill="#000"/>
<circle cx="531.8" cy="594.0" r="2.00" fill="#000"/>
<circle cx="516.4" cy="581.0" r="2.00" fill="#000"/>
<circle cx="528.2" cy="588.2" r="2.00" fill="#000"/>
<circle cx="567.2" cy="587.6" r="2.00" fill="#000"/>
<circle cx="506.1" cy="587.2" r="2.00" fill="#000"/>
<circle cx="563.3" cy="586.2" r="2.00" fill="#000"/>
<circle cx="533.8" cy="590.6" r="2.00" fill="#000"/>
<circle cx="520.4" cy="584.6" r="2.00" fill="#000"/>
<circle cx="524.6" cy="592.2" r="2.00" fill="#000"/>
<circle cx="536.9" cy="597.4" r="2.00" fill="#000"/>
<circle cx="540.4" cy="594.3" r="2.00" fill="#000"/>
<circle cx="534.2" cy="591.7" r="2.00" fill="#000"/>
<circle cx="551.8" cy="580.3" r="2.00" fill="#000"/>
<circle cx="549.1" cy="595.7" r="2.00" fill="#000"/>
<circle cx="563.1" cy="592.8" r="2.00" fill="#000"/>
<circle cx="515.1" cy="592.0" r="2.00" fill="#000"/>
<circle cx="535.5" cy="598.9" r="2.00" fill="#000"/>
<circle cx="511.1" cy="586.0" r="2.00" fill="#000"/>
<circle cx="552.8" cy="586.9" r="2.00" fill="#000"/>
<circle cx="573.6" cy="592.7" r="2.00" fill="#000"/>
<circle cx="536.5" cy="596.1" r="2.00" fill="#000"/>
<circle cx="540.3" cy="594.1" r="2.00" fill="#000"/>
<circle cx="538.4" cy="598.9" r="2.00" fill="#000"/>
<circle cx="537.4" cy="598.9" r="2.00" fill="#000"/>
<circle cx="519.8" cy="586.3" r="2.00" fill="#000"/>
<circle cx="512.4" cy="593.3" r="2.00" fill="#000"/>
<circle cx="539.5" cy="598.6" r="2.00" fill="#000"/>
<circle cx="569.5" cy="587.7" r="2.00" fill="#000"/>
<circle cx="556.4" cy="593.8" r="2.00" fill="#000"/>
<circle cx="530.6" cy="585.6" r="2.00" fill="#000"/>
<circle cx="519.0" cy="589.6" r="2.00" fill="#000"/>
<circle cx="566.0" cy="581.5" r="2.00" fill="#000"/>
<circle cx="544.1" cy="589.6" r="2.00" fill="#000"/>
<circle cx="528.1" cy="588.8" r="2.00" fill="#000"/>
<circle cx="568.8" cy="588.3" r="2.00" fill="#000"/>
<circle cx="568.0" cy="584.4" r="2.00" fill="#000"/>
<circle cx="582.1" cy="579.2" r="2.00" fill="#000"/>
<circle cx="556.0" cy="584.2" r="2.00" fill="#000"/>
<circle cx="557.8" cy="587.7" r="2.00" fill="#000"/>
<circle cx="559.2" cy="587.5" r="2.00" fill="#000"/>
<circle cx="540.8" cy="593.2" r="2.00" fill="#000"/>
<circle cx="549.4" cy="585.9" r="2.00" fill="#000"/>
<circle cx="507.5" cy="587.5" r="2.00" fill="#000"/>
<circle cx="523.3" cy="584.8" r="2.00" fill="#000"/>
<circle cx="533.7" cy="593.8" r="2.00" fill="#000"/>
<circle cx="542.0" cy="594.7" r="2.00" fill="#000"/>
<circle cx="523.2" cy="595.9" r="2.00" fill="#000"/>
<circle cx="551.5" cy="597.7" r="2.00" fill="#000"/>
<circle cx="541.9" cy="594.4" r="2.00" fill="#000"/>
<circle cx="510.1" cy="594.3" r="2.00" fill="#000"/>
<circle cx="565.7" cy="579.3" r="2.00" fill="#000"/>
<circle cx="568.3" cy="588.2" r="2.00" fill="#000"/>
<circle cx="558.8" cy="591.6" r="2.00" fill="#000"/>
<circle cx="525.0" cy="597.8" r="2.00" fill="#000"/>
<circle cx="527.2" cy="595.2" r="2.00" fill="#000"/>
<circle cx="525.6" cy="579.2" r="2.00" fill="#000"/>
<circle cx="511.3" cy="590.5" r="2.00" fill="#000"/>
<circle cx="540.8" cy="595.3" r="2.00" fill="#000"/>
<circle cx="521.4" cy="591.5" r="2.00" fill="#000"/>
<circle cx="502.8" cy="588.8" r="2.00" fill="#000"/>
<circle cx="560.9" cy="588.2" r="2.00" fill="#000"/>
<circle cx="556.2" cy="582.0" r="2.00" fill="#000"/>
<circle cx="527.3" cy="587.1" r="2.00" fill="#000"/>
<circle cx="520.8" cy="584.7" r="2.00" fill="#000"/>
<circle cx="563.3" cy="588.6" r="2.00" fill="#000"/>
<circle cx="547.0" cy="581.6" r="2.00" fill="#000"/>
<circle cx="538.6" cy="598.6" r="2.00" fill="#000"/>
<circle cx="533.3" cy="589.7" r="2.00" fill="#000"/>
<circle cx="517.8" cy="595.9" r="2.00" fill="#000"/>
<circle cx="520.3" cy="589.0" r="2.00" fill="#000"/>
<circle cx="505.2" cy="582.4" r="2.00" fill="#000"/>
<circle cx="531.2" cy="584.8" r="2.00" fill="#000"/>
<circle cx="517.5" cy="587.4" r="2.00" fill="#000"/>
<circle cx="555.5" cy="583.1" r="2.00" fill="#000"/>
<circle cx="554.6" cy="593.8" r="2.00" fill="#000"/>
<circle cx="503.6" cy="593.1" r="2.00" fill="#000"/>
<circle cx="547.3" cy="581.4" r="2.00" fill="#000"/>
<circle cx="527.9" cy="584.2" r="2.00" fill="#000"/>
<circle cx="553.2" cy="586.2" r="2.00" fill="#000"/>
<circle cx="536.1" cy="597.0" r="2.00" fill="#000"/>
<circle cx="549.4" cy="580.9" r="2.00" fill="#000"/>
<circle cx="568.9" cy="583.2" r="2.00" fill="#000"/>
<circle cx="537.7" cy="599.1" r="2.00" fill="#000"/>
<circle cx="548.3" cy="594.9" r="2.00" fill="#000"/>
<circle cx="532.9" cy="587.7" r="2.00" fill="#000"/>
<circle cx="561.7" cy="588.4" r="2.00" fill="#000"/>
<circle cx="541.5" cy="590.9" r="2.00" fill="#000"/>
<circle cx="529.0" cy="596.9" r="2.00" fill="#000"/>
<circle cx="529.1" cy="588.4" r="2.00" fill="#000"/>
<circle cx="518.4" cy="585.8" r="2.00" fill="#000"/>
<circle cx="531.8" cy="597.5" r="2.00" fill="#000"/>
<circle cx="515.9" cy="590.6" r="2.00" fill="#000"/>
<circle cx="566.4" cy="591.4" r="2.00" fill="#000"/>
<circle cx="558.2" cy="581.1" r="2.00" fill="#000"/>
<circle cx="579.2" cy="585.4" r="2.00" fill="#000"/>
<circle cx="529.9" cy="581.1" r="2.00" fill="#000"/>
<circle cx="554.7" cy="580.5" r="2.00" fill="#000"/>
<circle cx="574.5" cy="582.9" r="2.00" fill="#000"/>
<circle cx="527.6" cy="595.5" r="2.00" fill="#000"/>
<circle cx="549.4" cy="583.5" r="2.00" fill="#000"/>
<circle cx="534.6" cy="595.6" r="2.00" fill="#000"/>
<circle cx="565.8" cy="590.3" r="2.00" fill="#000"/>
<circle cx="545.0" cy="582.5" r="2.00" fill="#000"/>
<circle cx="550.6" cy="588.9" r="2.00" fill="#000"/>
<circle cx="564.3" cy="594.6" r="2.00" fill="#000"/>
<circle cx="535.4" cy="594.1" r="2.00" fill="#000"/>
<circle cx="554.7" cy="582.8" r="2.00" fill="#000"/>
<circle cx="549.2" cy="593.4" r="2.00" fill="#000"/>
<circle cx="534.2" cy="595.0" r="2.00" fill="#000"/>
<circle cx="533.1" cy="589.4" r="2.00" fill="#000"/>
<circle cx="550.4" cy="598.2" r="2.00" fill="#000"/>
<circle cx="528.8" cy="591.4" r="2.00" fill="#000"/>
<circle cx="536.3" cy="597.9" r="2.00" fill="#000"/>
<circle cx="494.9" cy="581.6" r="2.00" fill="#000"/>
<circle cx="549.2" cy="589.1" r="2.00" fill="#000"/>
<circle cx="553.2" cy="593.5" r="2.00" fill="#000"/>
<circle cx="517.3" cy="583.4" r="2.00" fill="#000"/>
<circle cx="514.0" cy="586.7" r="2.00" fill="#000"/>
<circle cx="535.8" cy="594.1" r="2.00" fill="#000"/>
<circle cx="521.8" cy="583.3" r="2.00" fill="#000"/>
<circle cx="546.1" cy="580.4" r="2.00" fill="#000"/>
<circle cx="516.2" cy="587.5" r="2.00" fill="#000"/>
<circle cx="558.3" cy="579.8" r="2.00" fill="#000"/>
<circle cx="532.4" cy="593.7" r="2.00" fill="#000"/>
<circle cx="514.4" cy="586.0" r="2.00" fill="#000"/>
<circle cx="536.2" cy="595.6" r="2.00" fill="#000"/>
<circle cx="545.6" cy="584.3" r="2.00" fill="#000"/>
<circle cx="528.8" cy="587.4" r="2.00" fill="#000"/>
<circle cx="530.9" cy="582.0" r="2.00" fill="#000"/>
<circle cx="544.0" cy="583.7" r="2.00" fill="#000"/>
<circle cx="534.7" cy="598.2" r="2.00" fill="#000"/>
<circle cx="514.2" cy="589.8" r="2.00" fill="#000"/>
<circle cx="534.8" cy="595.7" r="2.00" fill="#000"/>
<circle cx="545.8" cy="590.4" r="2.00" fill="#000"/>
<circle cx="532.5" cy="596.5" r="2.00" fill="#000"/>
<circle cx="542.4" cy="588.4" r="2.00" fill="#000"/>
<circle cx="525.6" cy="588.6" r="2.00" fill="#000"/>
<circle cx="534.0" cy="594.9" r="2.00" fill="#000"/>
<circle cx="526.8" cy="583.4" r="2.00" fill="#000"/>
<circle cx="539.8" cy="595.4" r="2.00" fill="#000"/>
<circle cx="505.3" cy="581.4" r="2.00" fill="#000"/>
<circle cx="503.9" cy="585.0" r="2.00" fill="#000"/>
<circle cx="509.8" cy="588.4" r="2.00" fill="#000"/>
<circle cx="534.6" cy="598.2" r="2.00" fill="#000"/>
<circle cx="505.2" cy="583.3" r="2.00" fill="#000"/>
<circle cx="549.1" cy="597.3" r="2.00" fill="#000"/>
<circle cx="541.4" cy="594.3" r="2.00" fill="#000"/>
<circle cx="533.4" cy="596.4" r="2.00" fill="#000"/>
<circle cx="534.4" cy="593.2" r="2.00" fill="#000"/>
<circle cx="551.8" cy="583.9" r="2.00" fill="#000"/>
<circle cx="555.6" cy="596.0" r="2.00" fill="#000"/>
<circle cx="523.6" cy="597.0" r="2.00" fill="#000"/>
<circle cx="547.2" cy="594.3" r="2.00" fill="#000"/>
<circle cx="543.8" cy="593.8" r="2.00" fill="#000"/>
<circle cx="560.4" cy="589.3" r="2.00" fill="#000"/>
<circle cx="568.7" cy="586.3" r="2.00" fill="#000"/>
<circle cx="541.3" cy="594.7" r="2.00" fill="#000"/>
<circle cx="526.9" cy="597.3" r="2.00" fill="#000"/>
<circle cx="495.2" cy="583.3" r="2.00" fill="#000"/>
<circle cx="542.8" cy="594.6" r="2.00" fill="#000"/>
<circle cx="523.6" cy="587.6" r="2.00" fill="#000"/>
<circle cx="522.0" cy="585.1" r="2.00" fill="#000"/>
<circle cx="529.0" cy="579.4" r="2.00" fill="#000"/>
<circle cx="499.8" cy="579.5" r="2.00" fill="#000"/>
<circle cx="549.4" cy="582.4" r="2.00" fill="#000"/>
<circle cx="511.9" cy="591.7" r="2.00" fill="#000"/>
<circle cx="550.5" cy="588.9" r="2.00" fill="#000"/>
<circle cx="573.3" cy="592.6" r="2.00" fill="#000"/>
<circle cx="538.3" cy="599.1" r="2.00" fill="#000"/>
<circle cx="528.5" cy="580.4" r="2.00" fill="#000"/>
<circle cx="551.9" cy="592.0" r="2.00" fill="#000"/>
<circle cx="571.8" cy="581.7" r="2.00" fill="#000"/>
<circle cx="520.7" cy="584.2" r="2.00" fill="#000"/>
<circle cx="555.3" cy="583.6" r="2.00" fill="#000"/>
<circle cx="546.2" cy="594.6" r="2.00" fill="#000"/>
<circle cx="566.1" cy="590.4" r="2.00" fill="#000"/>
<circle cx="540.6" cy="596.2" r="2.00" fill="#000"/>
<circle cx="527.9" cy="595.6" r="2.00" fill="#000"/>
<circle cx="528.4" cy="590.5" r="2.00" fill="#000"/>
<circle cx="532.8" cy="586.1" r="2.00" fill="#000"/>
<circle cx="517.5" cy="596.2" r="2.00" fill="#000"/>
<circle cx="546.2" cy="592.5" r="2.00" fill="#000"/>
<circle cx="559.5" cy="593.3" r="2.00" fill="#000"/>
<circle cx="555.0" cy="593.5" r="2.00" fill="#000"/>
<circle cx="558.1" cy="584.6" r="2.00" fill="#000"/>
<circle cx="563.2" cy="590.1" r="2.00" fill="#000"/>
<circle cx="532.6" cy="590.8" r="2.00" fill="#000"/>
<circle cx="552.7" cy="586.3" r="2.00" fill="#000"/>
<circle cx="546.1" cy="585.6" r="2.00" fill="#000"/>
<circle cx="546.8" cy="592.1" r="2.00" fill="#000"/>
<circle cx="532.7" cy="597.2" r="2.00" fill="#000"/>
<circle cx="528.5" cy="596.7" r="2.00" fill="#000"/>
<circle cx="553.4" cy="597.4" r="2.00" fill="#000"/>
<circle cx="520.2" cy="589.9" r="2.00" fill="#000"/>
<circle cx="529.6" cy="581.9" r="2.00" fill="#000"/>
<circle cx="528.8" cy="598.6" r="2.00" fill="#000"/>
<circle cx="514.1" cy="592.2" r="2.00" fill="#000"/>
<circle cx="534.7" cy="590.9" r="2.00" fill="#000"/>
<circle cx="529.0" cy="583.3" r="2.00" fill="#000"/>
<circle cx="535.8" cy="598.9" r="2.00" fill="#000"/>
<circle cx="523.7" cy="585.1" r="2.00" fill="#000"/>
<circle cx="505.8" cy="593.5" r="2.00" fill="#000"/>
<circle cx="571.7" cy="581.0" r="2.00" fill="#000"/>
<circle cx="552.7" cy="591.9" r="2.00" fill="#000"/>
<circle cx="570.1" cy="591.9" r="2.00" fill="#000"/>
<circle cx="523.5" cy="580.9" r="2.00" fill="#000"/>
<circle cx="555.5" cy="592.8" r="2.00" fill="#000"/>
<circle cx="540.1" cy="597.8" r="2.00" fill="#000"/>
<circle cx="532.8" cy="586.3" r="2.00" fill="#000"/>
<circle cx="538.7" cy="598.9" r="2.00" fill="#000"/>
<circle cx="531.3" cy="583.0" r="2.00" fill="#000"/>
<circle cx="522.5" cy="586.4" r="2.00" fill="#000"/>
<circle cx="506.5" cy="585.0" r="2.00" fill="#000"/>
<circle cx="539.5" cy="597.6" r="2.00" fill="#000"/>
<circle cx="554.5" cy="585.2" r="2.00" fill="#000"/>
<circle cx="568.9" cy="586.5" r="2.00" fill="#000"/>
<circle cx="559.9" cy="583.1" r="2.00" fill="#000"/>
<circle cx="537.1" cy="598.8" r="2.00" fill="#000"/>
<circle cx="521.6" cy="591.9" r="2.00" fill="#000"/>
<circle cx="559.4" cy="579.1" r="2.00" fill="#000"/>
<circle cx="566.0" cy="583.0" r="2.00" fill="#000"/>
<circle cx="537.0" cy="598.6" r="2.00" fill="#000"/>
<circle cx="543.9" cy="591.2" r="2.00" fill="#000"/>
<circle cx="501.2" cy="584.3" r="2.00" fill="#000"/>
<circle cx="530.5" cy="597.5" r="2.00" fill="#000"/>
<circle cx="526.8" cy="594.0" r="2.00" fill="#000"/>
<circle cx="511.9" cy="581.1" r="2.00" fill="#000"/>
<circle cx="534.4" cy="596.2" r="2.00" fill="#000"/>
<circle cx="548.5" cy="594.5" r="2.00" fill="#000"/>
<circle cx="555.9" cy="591.7" r="2.00" fill="#000"/>
<circle cx="509.8" cy="592.9" r="2.00" fill="#000"/>
<circle cx="540.7" cy="597.7" r="2.00" fill="#000"/>
<circle cx="515.9" cy="592.8" r="2.00" fill="#000"/>
<circle cx="542.8" cy="590.4" r="2.00" fill="#000"/>
<circle cx="493.7" cy="579.5" r="2.00" fill="#000"/>
<circle cx="519.4" cy="585.1" r="2.00" fill="#000"/>
<circle cx="558.3" cy="591.2" r="2.00" fill="#000"/>
<circle cx="550.9" cy="591.9" r="2.00" fill="#000"/>
<circle cx="564.6" cy="584.1" r="2.00" fill="#000"/>
<circle cx="552.0" cy="591.8" r="2.00" fill="#000"/>
<circle cx="545.9" cy="586.9" r="2.00" fill="#000"/>
<circle cx="534.0" cy="589.6" r="2.00" fill="#000"/>
<circle cx="525.1" cy="583.8" r="2.00" fill="#000"/>
<circle cx="529.4" cy="589.1" r="2.00" fill="#000"/>
<circle cx="551.6" cy="582.7" r="2.00" fill="#000"/>
<circle cx="540.7" cy="598.1" r="2.00" fill="#000"/>
<circle cx="543.5" cy="585.4" r="2.00" fill="#000"/>
<circle cx="555.4" cy="593.7" r="2.00" fill="#000"/>
<circle cx="518.4" cy="596.0" r="2.00" fill="#000"/>
<circle cx="550.5" cy="586.5" r="2.00" fill="#000"/>
<circle cx="553.8" cy="590.8" r="2.00" fill="#000"/>
<circle cx="545.8" cy="579.1" r="2.00" fill="#000"/>
<circle cx="523.8" cy="590.8" r="2.00" fill="#000"/>
<circle cx="544.8" cy="592.7" r="2.00" fill="#000"/>
<circle cx="547.4" cy="584.4" r="2.00" fill="#000"/>
<circle cx="552.8" cy="590.3" r="2.00" fill="#000"/>
<circle cx="539.4" cy="596.8" r="2.00" fill="#000"/>
<circle cx="544.0" cy="593.6" r="2.00" fill="#000"/>
<circle cx="533.9" cy="589.1" r="2.00" fill="#000"/>
<circle cx="575.3" cy="584.4" r="2.00" fill="#000"/>
<circle cx="571.5" cy="582.1" r="2.00" fill="#000"/>
<circle cx="554.0" cy="597.4" r="2.00" fill="#000"/>
<circle cx="530.2" cy="588.3" r="2.00" fill="#000"/>
<circle cx="573.8" cy="589.8" r="2.00" fill="#000"/>
<circle cx="551.8" cy="593.8" r="2.00" fill="#000"/>
<circle cx="537.4" cy="598.6" r="2.00" fill="#000"/>
<circle cx="568.4" cy="594.1" r="2.00" fill="#000"/>
<circle cx="536.2" cy="599.0" r="2.00" fill="#000"/>
<circle cx="544.9" cy="581.8" r="2.00" fill="#000"/>
<circle cx="566.1" cy="592.7" r="2.00" fill="#000"/>
<circle cx="524.7" cy="597.4" r="2.00" fill="#000"/>
<circle cx="513.8" cy="580.5" r="2.00" fill="#000"/>
<circle cx="531.5" cy="585.3" r="2.00" fill="#000"/>
<circle cx="555.7" cy="586.6" r="2.00" fill="#000"/>
<circle cx="534.1" cy="592.5" r="2.00" fill="#000"/>
<circle cx="534.0" cy="597.1" r="2.00" fill="#000"/>
<circle cx="553.4" cy="584.9" r="2.00" fill="#000"/>
<circle cx="509.3" cy="584.1" r="2.00" fill="#000"/>
<circle cx="574.1" cy="582.5" r="2.00" fill="#000"/>
<circle cx="533.4" cy="594.2" r="2.00" fill="#000"/>
<circle cx="545.4" cy="597.1" r="2.00" fill="#000"/>
<circle cx="563.3" cy="579.2" r="2.00" fill="#000"/>
<circle cx="545.5" cy="589.1" r="2.00" fill="#000"/>
<circle cx="539.6" cy="598.4" r="2.00" fill="#000"/>
<circle cx="542.3" cy="594.5" r="2.00" fill="#000"/>
<circle cx="529.9" cy="581.1" r="2.00" fill="#000"/>
<circle cx="550.9" cy="579.1" r="2.00" fill="#000"/>
<circle cx="551.1" cy="584.2" r="2.00" fill="#000"/>
<circle cx="537.0" cy="598.8" r="2.00" fill="#000"/>
<circle cx="516.9" cy="590.3" r="2.00" fill="#000"/>
<circle cx="543.9" cy="586.6" r="2.00" fill="#000"/>
<circle cx="545.2" cy="584.2" r="2.00" fill="#000"/>
<circle cx="572.4" cy="583.7" r="2.00" fill="#000"/>
<circle cx="547.3" cy="582.4" r="2.00" fill="#000"/>
<circle cx="543.1" cy="586.4" r="2.00" fill="#000"/>
<circle cx="540.5" cy="594.3" r="2.00" fill="#000"/>
<circle cx="566.8" cy="580.9" r="2.00" fill="#000"/>
<circle cx="547.1" cy="596.9" r="2.00" fill="#000"/>
<circle cx="548.4" cy="584.3" r="2.00" fill="#000"/>
<circle cx="520.2" cy="593.6" r="2.00" fill="#000"/>
<circle cx="561.6" cy="584.6" r="2.00" fill="#000"/>
<circle cx="535.8" cy="595.8" r="2.00" fill="#000"/>
<circle cx="558.9" cy="579.8" r="2.00" fill="#000"/>
<circle cx="550.6" cy="596.9" r="2.00" fill="#000"/>
<circle cx="569.7" cy="590.8" r="2.00" fill="#000"/>
<circle cx="536.1" cy="595.3" r="2.00" fill="#000"/>
<circle cx="531.2" cy="583.1" r="2.00" fill="#000"/>
<circle cx="544.4" cy="587.6" r="2.00" fill="#000"/>
<circle cx="567.9" cy="579.4" r="2.00" fill="#000"/>
<circle cx="520.4" cy="581.0" r="2.00" fill="#000"/>
<circle cx="539.2" cy="598.4" r="2.00" fill="#000"/>
<circle cx="554.1" cy="589.1" r="2.00" fill="#000"/>
<circle cx="529.3" cy="581.9" r="2.00" fill="#000"/>
<circle cx="539.2" cy="597.5" r="2.00" fill="#000"/>
<circle cx="526.5" cy="579.2" r="2.00" fill="#000"/>
<circle cx="519.0" cy="584.6" r="2.00" fill="#000"/>
<circle cx="552.9" cy="583.7" r="2.00" fill="#000"/>
<circle cx="524.3" cy="593.9" r="2.00" fill="#000"/>
<circle cx="550.5" cy="585.4" r="2.00" fill="#000"/>
<circle cx="522.5" cy="596.7" r="2.00" fill="#000"/>
<circle cx="568.0" cy="582.3" r="2.00" fill="#000"/>
<circle cx="559.2" cy="581.8" r="2.00" fill="#000"/>
<circle cx="571.1" cy="587.7" r="2.00" fill="#000"/>
<circle cx="549.3" cy="593.4" r="2.00" fill="#000"/>
<circle cx="546.3" cy="579.4" r="2.00" fill="#000"/>
<circle cx="540.1" cy="599.1" r="2.00" fill="#000"/>
<circle cx="534.7" cy="594.2" r="2.00" fill="#000"/>
<circle cx="515.5" cy="581.5" r="2.00" fill="#000"/>
<circle cx="545.5" cy="582.3" r="2.00" fill="#000"/>
<circle cx="571.9" cy="586.1" r="2.00" fill="#000"/>
<circle cx="576.2" cy="585.2" r="2.00" fill="#000"/>
<circle cx="546.9" cy="594.1" r="2.00" fill="#000"/>
<circle cx="550.1" cy="591.9" r="2.00" fill="#000"/>
<circle cx="524.5" cy="592.0" r="2.00" fill="#000"/>
<circle cx="534.6" cy="597.9" r="2.00" fill="#000"/>
<circle cx="576.6" cy="585.5" r="2.00" fill="#000"/>
<circle cx="556.3" cy="588.1" r="2.00" fill="#000"/>
<circle cx="575.9" cy="591.9" r="2.00" fill="#000"/>
<circle cx="578.7" cy="581.3" r="2.00" fill="#000"/>
<circle cx="553.8" cy="587.7" r="2.00" fill="#000"/>
<circle cx="542.9" cy="592.7" r="2.00" fill="#000"/>
<circle cx="531.7" cy="586.9" r="2.00" fill="#000"/>
<circle cx="514.9" cy="594.9" r="2.00" fill="#000"/>
<circle cx="534.6" cy="594.6" r="2.00" fill="#000"/>
<circle cx="553.4" cy="589.0" r="2.00" fill="#000"/>
<circle cx="546.4" cy="597.0" r="2.00" fill="#000"/>
<circle cx="544.9" cy="597.4" r="2.00" fill="#000"/>
<circle cx="509.1" cy="584.8" r="2.00" fill="#000"/>
<circle cx="499.5" cy="588.7" r="2.00" fill="#000"/>
<circle cx="521.6" cy="591.4" r="2.00" fill="#000"/>
<circle cx="524.4" cy="582.3" r="2.00" fill="#000"/>
<circle cx="537.4" cy="599.1" r="2.00" fill="#000"/>
<circle cx="554.9" cy="592.2" r="2.00" fill="#000"/>
<circle cx="557.9" cy="583.3" r="2.00" fill="#000"/>
<circle cx="528.5" cy="588.0" r="2.00" fill="#000"/>
<circle cx="536.9" cy="598.0" r="2.00" fill="#000"/>
<circle cx="556.4" cy="590.7" r="2.00" fill="#000"/>
<circle cx="534.4" cy="595.1" r="2.00" fill="#000"/>
<circle cx="554.9" cy="586.9" r="2.00" fill="#000"/>
<circle cx="553.1" cy="580.5" r="2.00" fill="#000"/>
<circle cx="566.7" cy="587.1" r="2.00" fill="#000"/>
<circle cx="509.7" cy="589.6" r="2.00" fill="#000"/>
<circle cx="544.2" cy="592.0" r="2.00" fill="#000"/>
<circle cx="530.8" cy="597.2" r="2.00" fill="#000"/>
<circle cx="550.8" cy="580.3" r="2.00" fill="#000"/>
<circle cx="509.6" cy="591.4" r="2.00" fill="#000"/>
<circle cx="553.9" cy="586.7" r="2.00" fill="#000"/>
<circle cx="513.5" cy="587.6" r="2.00" fill="#000"/>
<circle cx="546.0" cy="580.0" r="2.00" fill="#000"/>
<circle cx="518.4" cy="580.2" r="2.00" fill="#000"/>
<circle cx="522.7" cy="588.8" r="2.00" fill="#000"/>
<circle cx="556.2" cy="580.6" r="2.00" fill="#000"/>
<circle cx="550.4" cy="590.2" r="2.00" fill="#000"/>
<circle cx="523.4" cy="591.0" r="2.00" fill="#000"/>
<circle cx="524.2" cy="585.5" r="2.00" fill="#000"/>
<circle cx="514.5" cy="586.5" r="2.00" fill="#000"/>
<circle cx="537.7" cy="599.1" r="2.00" fill="#000"/>
<circle cx="536.8" cy="597.4" r="2.00" fill="#000"/>
<circle cx="534.2" cy="596.4" r="2.00" fill="#000"/>
<circle cx="504.0" cy="580.0" r="2.00" fill="#000"/>
<circle cx="564.7" cy="581.6" r="2.00" fill="#000"/>
<circle cx="533.5" cy="596.3" r="2.00" fill="#000"/>
<circle cx="543.7" cy="590.4" r="2.00" fill="#000"/>
<circle cx="551.0" cy="580.8" r="2.00" fill="#000"/>
<circle cx="512.6" cy="581.5" r="2.00" fill="#000"/>
<circle cx="574.5" cy="591.7" r="2.00" fill="#000"/>
<circle cx="551.0" cy="587.7" r="2.00" fill="#000"/>
<circle cx="545.5" cy="591.9" r="2.00" fill="#000"/>
<circle cx="501.4" cy="592.3" r="2.00" fill="#000"/>
<circle cx="568.2" cy="587.6" r="2.00" fill="#000"/>
<circle cx="505.9" cy="583.5" r="2.00" fill="#000"/>
<circle cx="583.7" cy="582.5" r="2.00" fill="#000"/>
<circle cx="541.9" cy="589.4" r="2.00" fill="#000"/>
<circle cx="531.9" cy="595.4" r="2.00" fill="#000"/>
<circle cx="522.0" cy="587.2" r="2.00" fill="#000"/>
<circle cx="554.2" cy="586.8" r="2.00" fill="#000"/>
<circle cx="521.0" cy="592.6" r="2.00" fill="#000"/>
<circle cx="547.1" cy="591.6" r="2.00" fill="#000"/>
<circle cx="549.9" cy="588.2" r="2.00" fill="#000"/>
<circle cx="552.8" cy="592.7" r="2.00" fill="#000"/>
<circle cx="533.3" cy="589.8" r="2.00" fill="#000"/>
<circle cx="551.6" cy="591.4" r="2.00" fill="#000"/>
<circle cx="533.4" cy="593.5" r="2.00" fill="#000"/>
<circle cx="546.5" cy="586.9" r="2.00" fill="#000"/>
<circle cx="541.8" cy="596.2" r="2.00" fill="#000"/>
<circle cx="542.2" cy="593.3" r="2.00" fill="#000"/>
<circle cx="572.9" cy="584.5" r="2.00" fill="#000"/>
<circle cx="521.2" cy="580.3" r="2.00" fill="#000"/>
<circle cx="512.6" cy="579.5" r="2.00" fill="#000"/>
<circle cx="562.5" cy="595.5" r="2.00" fill="#000"/>
<circle cx="558.9" cy="594.1" r="2.00" fill="#000"/>
<circle cx="538.3" cy="599.2" r="2.00" fill="#000"/>
<circle cx="548.7" cy="593.0" r="2.00" fill="#000"/>
<circle cx="551.4" cy="587.6" r="2.00" fill="#000"/>
<circle cx="507.7" cy="585.3" r="2.00" fill="#000"/>
<circle cx="538.3" cy="599.2" r="2.00" fill="#000"/>
<circle cx="513.2" cy="587.4" r="2.00" fill="#000"/>
<circle cx="545.0" cy="581.3" r="2.00" fill="#000"/>
<circle cx="559.2" cy="592.5" r="2.00" fill="#000"/>
<circle cx="527.6" cy="584.9" r="2.00" fill="#000"/>
<circle cx="561.2" cy="590.2" r="2.00" fill="#000"/>
<circle cx="521.0" cy="580.2" r="2.00" fill="#000"/>
<circle cx="552.4" cy="596.7" r="2.00" fill="#000"/>
<circle cx="557.4" cy="580.4" r="2.00" fill="#000"/>
<circle cx="523.2" cy="589.6" r="2.00" fill="#000"/>
<circle cx="536.3" cy="598.1" r="2.00" fill="#000"/>
<circle cx="535.3" cy="594.7" r="2.00" fill="#000"/>
<circle cx="527.7" cy="579.3" r="2.00" fill="#000"/>
<circle cx="558.9" cy="586.1" r="2.00" fill="#000"/>
<circle cx="526.7" cy="592.5" r="2.00" fill="#000"/>
<circle cx="517.2" cy="579.3" r="2.00" fill="#000"/>
<circle cx="535.6" cy="596.4" r="2.00" fill="#000"/>
<circle cx="541.5" cy="595.0" r="2.00" fill="#000"/>
<circle cx="544.1" cy="597.3" r="2.00" fill="#000"/>
<circle cx="558.0" cy="580.0" r="2.00" fill="#000"/>
<circle cx="523.2" cy="586.7" r="2.00" fill="#000"/>
<circle cx="536.6" cy="597.3" r="2.00" fill="#000"/>
<circle cx="512.1" cy="587.3" r="2.00" fill="#000"/>
<circle cx="560.9" cy="580.2" r="2.00" fill="#000"/>
<circle cx="541.7" cy="597.2" r="2.00" fill="#000"/>
<circle cx="509.6" cy="583.2" r="2.00" fill="#000"/>
<circle cx="573.3" cy="592.2" r="2.00" fill="#000"/>
<circle cx="534.2" cy="595.8" r="2.00" fill="#000"/>
<circle cx="566.8" cy="580.6" r="2.00" fill="#000"/>
<circle cx="539.0" cy="597.7" r="2.00" fill="#000"/>
<circle cx="526.4" cy="583.6" r="2.00" fill="#000"/>
<circle cx="518.3" cy="586.4" r="2.00" fill="#000"/>
<circle cx="542.0" cy="593.8" r="2.00" fill="#000"/>
<circle cx="528.1" cy="585.5" r="2.00" fill="#000"/>
<circle cx="560.9" cy="580.3" r="2.00" fill="#000"/>
<circle cx="548.9" cy="596.2" r="2.00" fill="#000"/>
<circle cx="535.6" cy="594.1" r="2.00" fill="#000"/>
<circle cx="508.5" cy="579.5" r="2.00" fill="#000"/>
<circle cx="522.0" cy="587.9" r="2.00" fill="#000"/>
<circle cx="519.1" cy="588.3" r="2.00" fill="#000"/>
<circle cx="524.8" cy="582.4" r="2.00" fill="#000"/>
<circle cx="528.4" cy="587.0" r="2.00" fill="#000"/>
<circle cx="517.7" cy="583.7" r="2.00" fill="#000"/>
<circle cx="547.8" cy="581.8" r="2.00" fill="#000"/>
<circle cx="550.6" cy="592.6" r="2.00" fill="#000"/>
<circle cx="511.2" cy="595.7" r="2.00" fill="#000"/>
<circle cx="544.5" cy="589.6" r="2.00" fill="#000"/>
<circle cx="544.2" cy="597.2" r="2.00" fill="#000"/>
<circle cx="507.1" cy="586.8" r="2.00" fill="#000"/>
<circle cx="544.0" cy="585.3" r="2.00" fill="#000"/>
<circle cx="524.7" cy="592.1" r="2.00" fill="#000"/>
<circle cx="555.6" cy="594.4" r="2.00" fill="#000"/>
<circle cx="530.0" cy="595.0" r="2.00" fill="#000"/>
<circle cx="534.1" cy="595.7" r="2.00" fill="#000"/>
<circle cx="531.4" cy="594.4" r="2.00" fill="#000"/>
<circle cx="541.6" cy="593.5" r="2.00" fill="#000"/>
<circle cx="559.4" cy="584.4" r="2.00" fill="#000"/>
<circle cx="539.6" cy="596.0" r="2.00" fill="#000"/>
<circle cx="539.6" cy="596.8" r="2.00" fill="#000"/>
<circle cx="541.1" cy="596.4" r="2.00" fill="#000"/>
<circle cx="560.1" cy="582.5" r="2.00" fill="#000"/>
<circle cx="532.2" cy="585.5" r="2.00" fill="#000"/>
<circle cx="543.4" cy="593.6" r="2.00" fill="#000"/>
<circle cx="552.2" cy="594.8" r="2.00" fill="#000"/>
<circle cx="564.9" cy="584.8" r="2.00" fill="#000"/>
<circle cx="529.6" cy="579.8" r="2.00" fill="#000"/>
<circle cx="542.0" cy="591.8" r="2.00" fill="#000"/>
<circle cx="577.0" cy="583.0" r="2.00" fill="#000"/>
<circle cx="552.7" cy="582.0" r="2.00" fill="#000"/>
<circle cx="540.3" cy="597.2" r="2.00" fill="#000"/>
<circle cx="527.2" cy="594.2" r="2.00" fill="#000"/>
<circle cx="556.0" cy="586.1" r="2.00" fill="#000"/>
<circle cx="495.8" cy="582.4" r="2.00" fill="#000"/>
<circle cx="561.5" cy="587.8" r="2.00" fill="#000"/>
<circle cx="535.3" cy="596.9" r="2.00" fill="#000"/>
<circle cx="548.4" cy="593.9" r="2.00" fill="#000"/>
<circle cx="541.3" cy="597.1" r="2.00" fill="#000"/>
<circle cx="535.1" cy="595.0" r="2.00" fill="#000"/>
<circle cx="540.2" cy="598.9" r="2.00" fill="#000"/>
<circle cx="557.4" cy="584.4" r="2.00" fill="#000"/>
<circle cx="552.7" cy="595.4" r="2.00" fill="#000"/>
<circle cx="545.8" cy="584.3" r="2.00" fill="#000"/>
<circle cx="543.6" cy="598.3" r="2.00" fill="#000"/>
<circle cx="562.4" cy="585.7" r="2.00" fill="#000"/>
<circle cx="515.9" cy="592.4" r="2.00" fill="#000"/>
<circle cx="573.5" cy="588.1" r="2.00" fill="#000"/>
<circle cx="543.3" cy="591.7" r="2.00" fill="#000"/>
<circle cx="533.7" cy="593.2" r="2.00" fill="#000"/>
<circle cx="535.7" cy="596.2" r="2.00" fill="#000"/>
<circle cx="549.8" cy="597.5" r="2.00" fill="#000"/>
<circle cx="554.3" cy="589.7" r="2.00" fill="#000"/>
<circle cx="539.6" cy="598.0" r="2.00" fill="#000"/>
<circle cx="533.8" cy="592.2" r="2.00" fill="#000"/>
<circle cx="519.5" cy="585.7" r="2.00" fill="#000"/>
<circle cx="527.9" cy="586.7" r="2.00" fill="#000"/>
<circle cx="495.9" cy="582.1" r="2.00" fill="#000"/>
<circle cx="531.6" cy="584.8" r="2.00" fill="#000"/>
<circle cx="536.0" cy="596.5" r="2.00" fill="#000"/>
<circle cx="569.1" cy="585.9" r="2.00" fill="#000"/>
<circle cx="546.4" cy="579.9" r="2.00" fill="#000"/>
<circle cx="520.0" cy="580.7" r="2.00" fill="#000"/>
<circle cx="549.4" cy="580.3" r="2.00" fill="#000"/>
<circle cx="541.3" cy="595.1" r="2.00" fill="#000"/>
<circle cx="518.2" cy="583.2" r="2.00" fill="#000"/>
<circle cx="555.5" cy="583.9" r="2.00" fill="#000"/>
<circle cx="526.0" cy="586.6" r="2.00" fill="#000"/>
<circle cx="526.2" cy="591.9" r="2.00" fill="#000"/>
<circle cx="534.5" cy="596.4" r="2.00" fill="#000"/>
<circle cx="543.0" cy="595.6" r="2.00" fill="#000"/>
<circle cx="548.8" cy="584.7" r="2.00" fill="#000"/>
<circle cx="572.2" cy="588.2" r="2.00" fill="#000"/>
<circle cx="561.0" cy="582.9" r="2.00" fill="#000"/>
<circle cx="556.4" cy="584.9" r="2.00" fill="#000"/>
<circle cx="533.0" cy="598.4" r="2.00" fill="#000"/>
<circle cx="513.6" cy="582.1" r="2.00" fill="#000"/>
<circle cx="546.6" cy="590.1" r="2.00" fill="#000"/>
<circle cx="530.3" cy="579.3" r="2.00" fill="#000"/>
<circle cx="573.4" cy="581.0" r="2.00" fill="#000"/>
<circle cx="533.5" cy="596.7" r="2.00" fill="#000"/>
<circle cx="563.7" cy="591.7" r="2.00" fill="#000"/>
<circle cx="513.7" cy="580.4" r="2.00" fill="#000"/>
<circle cx="555.1" cy="580.7" r="2.00" fill="#000"/>
<circle cx="499.6" cy="590.3" r="2.00" fill="#000"/>
<circle cx="555.4" cy="593.5" r="2.00" fill="#000"/>
<circle cx="568.8" cy="588.2" r="2.00" fill="#000"/>
<circle cx="547.4" cy="589.7" r="2.00" fill="#000"/>
<circle cx="503.9" cy="586.7" r="2.00" fill="#000"/>
<circle cx="517.7" cy="585.0" r="2.00" fill="#000"/>
<circle cx="530.6" cy="594.3" r="2.00" fill="#000"/>
<circle cx="550.2" cy="585.7" r="2.00" fill="#000"/>
<circle cx="536.1" cy="595.8" r="2.00" fill="#000"/>
<circle cx="525.4" cy="585.8" r="2.00" fill="#000"/>
<circle cx="517.8" cy="588.7" r="2.00" fill="#000"/>
<circle cx="528.4" cy="598.2" r="2.00" fill="#000"/>
<circle cx="511.4" cy="580.7" r="2.00" fill="#000"/>
<circle cx="532.1" cy="584.2" r="2.00" fill="#000"/>
<circle cx="531.9" cy="585.3" r="2.00" fill="#000"/>
<circle cx="529.7" cy="589.5" r="2.00" fill="#000"/>
<circle cx="583.2" cy="587.9" r="2.00" fill="#000"/>
<circle cx="528.2" cy="597.1" r="2.00" fill="#000"/>
<circle cx="565.9" cy="586.5" r="2.00" fill="#000"/>
<circle cx="547.4" cy="585.6" r="2.00" fill="#000"/>
<circle cx="527.1" cy="596.0" r="2.00" fill="#000"/>
<circle cx="561.4" cy="592.0" r="2.00" fill="#000"/>
<circle cx="537.3" cy="599.0" r="2.00" fill="#000"/>
<circle cx="525.0" cy="585.0" r="2.00" fill="#000"/>
<circle cx="583.0" cy="580.1" r="2.00" fill="#000"/>
<circle cx="534.0" cy="591.5" r="2.00" fill="#000"/>
<circle cx="549.7" cy="586.2" r="2.00" fill="#000"/>
<circle cx="539.2" cy="597.7" r="2.00" fill="#000"/>
<circle cx="541.1" cy="594.0" r="2.00" fill="#000"/>
<circle cx="534.6" cy="598.2" r="2.00" fill="#000"/>
<circle cx="538.9" cy="598.2" r="2.00" fill="#000"/>
<circle cx="530.4" cy="583.2" r="2.00" fill="#000"/>
<circle cx="572.5" cy="581.8" r="2.00" fill="#000"/>
<circle cx="535.5" cy="597.0" r="2.00" fill="#000"/>
<circle cx="523.4" cy="587.7" r="2.00" fill="#000"/>
<circle cx="520.5" cy="585.7" r="2.00" fill="#000"/>
<circle cx="521.2" cy="582.9" r="2.00" fill="#000"/>
<circle cx="545.0" cy="586.5" r="2.00" fill="#000"/>
<circle cx="581.7" cy="580.9" r="2.00" fill="#000"/>
<circle cx="531.9" cy="596.6" r="2.00" fill="#000"/>
<circle cx="516.4" cy="582.3" r="2.00" fill="#000"/>
<circle cx="549.3" cy="598.2" r="2.00" fill="#000"/>
<circle cx="531.9" cy="585.1" r="2.00" fill="#000"/>
<circle cx="555.8" cy="585.6" r="2.00" fill="#000"/>
<circle cx="536.1" cy="597.2" r="2.00" fill="#000"/>
<circle cx="518.5" cy="584.0" r="2.00" fill="#000"/>
<circle cx="556.7" cy="580.6" r="2.00" fill="#000"/>
<circle cx="524.0" cy="588.5" r="2.00" fill="#000"/>
<circle cx="555.4" cy="579.3" r="2.00" fill="#000"/>
<circle cx="496.3" cy="579.4" r="2.00" fill="#000"/>
<circle cx="534.1" cy="598.6" r="2.00" fill="#000"/>
<circle cx="539.9" cy="596.7" r="2.00" fill="#000"/>
<circle cx="529.5" cy="585.5" r="2.00" fill="#000"/>
<circle cx="560.7" cy="583.8" r="2.00" fill="#000"/>
<circle cx="550.5" cy="590.5" r="2.00" fill="#000"/>
<circle cx="520.1" cy="593.9" r="2.00" fill="#000"/>
<circle cx="534.0" cy="596.0" r="2.00" fill="#000"/>
<circle cx="563.9" cy="585.9" r="2.00" fill="#000"/>
<circle cx="528.9" cy="582.4" r="2.00" fill="#000"/>
<circle cx="555.2" cy="589.2" r="2.00" fill="#000"/>
<circle cx="511.3" cy="585.9" r="2.00" fill="#000"/>
<circle cx="535.6" cy="593.8" r="2.00" fill="#000"/>
<circle cx="544.9" cy="596.9" r="2.00" fill="#000"/>
<circle cx="512.8" cy="589.8" r="2.00" fill="#000"/>
<circle cx="565.4" cy="580.3" r="2.00" fill="#000"/>
<circle cx="549.4" cy="588.7" r="2.00" fill="#000"/>
<circle cx="540.1" cy="595.8" r="2.00" fill="#000"/>
<circle cx="549.5" cy="582.1" r="2.00" fill="#000"/>
<circle cx="499.6" cy="588.9" r="2.00" fill="#000"/>
<circle cx="544.5" cy="590.2" r="2.00" fill="#000"/>
<circle cx="538.4" cy="599.1" r="2.00" fill="#000"/>
<circle cx="551.4" cy="579.2" r="2.00" fill="#000"/>
<circle cx="540.6" cy="593.1" r="2.00" fill="#000"/>
<circle cx="493.1" cy="581.4" r="2.00" fill="#000"/>
<circle cx="564.0" cy="591.5" r="2.00" fill="#000"/>
<circle cx="544.0" cy="593.8" r="2.00" fill="#000"/>
<circle cx="536.0" cy="597.3" r="2.00" fill="#000"/>
<circle cx="526.0" cy="598.3" r="2.00" fill="#000"/>
<circle cx="531.7" cy="596.4" r="2.00" fill="#000"/>
<circle cx="553.3" cy="595.4" r="2.00" fill="#000"/>
<circle cx="532.1" cy="584.8" r="2.00" fill="#000"/>
<circle cx="543.0" cy="595.0" r="2.00" fill="#000"/>
<circle cx="534.0" cy="590.8" r="2.00" fill="#000"/>
<circle cx="543.8" cy="595.4" r="2.00" fill="#000"/>
<circle cx="554.9" cy="580.5" r="2.00" fill="#000"/>
<circle cx="547.1" cy="580.4" r="2.00" fill="#000"/>
<circle cx="514.1" cy="594.5" r="2.00" fill="#000"/>
<circle cx="543.9" cy="585.1" r="2.00" fill="#000"/>
<circle cx="539.0" cy="597.4" r="2.00" fill="#000"/>
<circle cx="524.4" cy="594.2" r="2.00" fill="#000"/>
<circle cx="523.1" cy="586.3" r="2.00" fill="#000"/>
<circle cx="540.4" cy="597.4" r="2.00" fill="#000"/>
<circle cx="524.6" cy="597.8" r="2.00" fill="#000"/>
<circle cx="534.7" cy="597.9" r="2.00" fill="#000"/>
<circle cx="543.7" cy="590.8" r="2.00" fill="#000"/>
<circle cx="518.5" cy="584.5" r="2.00" fill="#000"/>
<circle cx="551.0" cy="589.4" r="2.00" fill="#000"/>
<circle cx="539.0" cy="598.2" r="2.00" fill="#000"/>
<circle cx="507.8" cy="584.5" r="2.00" fill="#000"/>
<circle cx="537.2" cy="598.3" r="2.00" fill="#000"/>
<circle cx="585.0" cy="580.7" r="2.00" fill="#000"/>
<circle cx="521.6" cy="583.8" r="2.00" fill="#000"/>
<circle cx="557.0" cy="586.7" r="2.00" fill="#000"/>
<circle cx="539.7" cy="596.1" r="2.00" fill="#000"/>
<circle cx="523.5" cy="591.0" r="2.00" fill="#000"/>
<circle cx="528.1" cy="589.6" r="2.00" fill="#000"/>
<circle cx="537.6" cy="599.0" r="2.00" fill="#000"/>
<circle cx="550.7" cy="586.9" r="2.00" fill="#000"/>
<circle cx="541.0" cy="594.0" r="2.00" fill="#000"/>
<circle cx="527.5" cy="583.8" r="2.00" fill="#000"/>
<circle cx="511.9" cy="584.9" r="2.00" fill="#000"/>
<circle cx="552.3" cy="591.7" r="2.00" fill="#000"/>
<circle cx="558.3" cy="597.0" r="2.00" fill="#000"/>
<circle cx="536.3" cy="597.2" r="2.00" fill="#000"/>
<circle cx="540.4" cy="598.8" r="2.00" fill="#000"/>
<circle cx="512.1" cy="585.8" r="2.00" fill="#000"/>
<circle cx="566.3" cy="589.5" r="2.00" fill="#000"/>
<circle cx="536.7" cy="596.5" r="2.00" fill="#000"/>
<circle cx="517.2" cy="581.4" r="2.00" fill="#000"/>
<circle cx="500.0" cy="583.9" r="2.00" fill="#000"/>
<circle cx="515.7" cy="590.1" r="2.00" fill="#000"/>
<circle cx="543.4" cy="587.0" r="2.00" fill="#000"/>
<circle cx="578.6" cy="586.3" r="2.00" fill="#000"/>
<circle cx="579.9" cy="584.9" r="2.00" fill="#000"/>
<circle cx="525.9" cy="585.8" r="2.00" fill="#000"/>
<circle cx="528.3" cy="597.1" r="2.00" fill="#000"/>
<circle cx="544.8" cy="583.3" r="2.00" fill="#000"/>
<circle cx="532.1" cy="585.8" r="2.00" fill="#000"/>
<circle cx="545.9" cy="594.1" r="2.00" fill="#000"/>
<circle cx="507.8" cy="585.1" r="2.00" fill="#000"/>
<circle cx="567.8" cy="582.0" r="2.00" fill="#000"/>
<circle cx="550.6" cy="593.3" r="2.00" fill="#000"/>
<circle cx="530.9" cy="585.9" r="2.00" fill="#000"/>
<circle cx="541.6" cy="592.5" r="2.00" fill="#000"/>
<circle cx="563.1" cy="580.8" r="2.00" fill="#000"/>
<circle cx="548.3" cy="594.1" r="2.00" fill="#000"/>
<circle cx="551.4" cy="597.7" r="2.00" fill="#000"/>
<circle cx="530.3" cy="596.5" r="2.00" fill="#000"/>
<circle cx="539.2" cy="597.0" r="2.00" fill="#000"/>
<circle cx="526.2" cy="588.9" r="2.00" fill="#000"/>
<circle cx="569.1" cy="588.5" r="2.00" fill="#000"/>
<circle cx="556.1" cy="594.3" r="2.00" fill="#000"/>
<circle cx="554.8" cy="588.1" r="2.00" fill="#000"/>
<circle cx="539.1" cy="598.0" r="2.00" fill="#000"/>
<circle cx="531.9" cy="598.9" r="2.00" fill="#000"/>
<circle cx="534.8" cy="592.0" r="2.00" fill="#000"/>
<circle cx="511.5" cy="580.6" r="2.00" fill="#000"/>
<circle cx="552.5" cy="585.9" r="2.00" fill="#000"/>
<circle cx="525.2" cy="593.2" r="2.00" fill="#000"/>
<circle cx="534.1" cy="589.5" r="2.00" fill="#000"/>
<circle cx="541.8" cy="595.8" r="2.00" fill="#000"/>
<circle cx="565.5" cy="588.6" r="2.00" fill="#000"/>
<circle cx="526.4" cy="589.9" r="2.00" fill="#000"/>
<circle cx="530.8" cy="582.8" r="2.00" fill="#000"/>
<circle cx="540.5" cy="598.4" r="2.00" fill="#000"/>
<circle cx="545.4" cy="593.4" r="2.00" fill="#000"/>
<circle cx="526.3" cy="597.2" r="2.00" fill="#000"/>
<circle cx="509.9" cy="588.5" r="2.00" fill="#000"/>
<circle cx="576.5" cy="586.9" r="2.00" fill="#000"/>
<circle cx="524.9" cy="583.1" r="2.00" fill="#000"/>
<circle cx="575.4" cy="591.5" r="2.00" fill="#000"/>
<circle cx="530.9" cy="584.0" r="2.00" fill="#000"/>
<circle cx="546.9" cy="586.4" r="2.00" fill="#000"/>
<circle cx="505.8" cy="591.9" r="2.00" fill="#000"/>
<circle cx="527.5" cy="588.1" r="2.00" fill="#000"/>
<circle cx="516.2" cy="582.7" r="2.00" fill="#000"/>
<circle cx="546.3" cy="585.5" r="2.00" fill="#000"/>
<circle cx="555.5" cy="580.7" r="2.00" fill="#000"/>
<circle cx="480.9" cy="584.7" r="2.00" fill="#000"/>
<circle cx="485.4" cy="590.8" r="2.00" fill="#000"/>
<circle cx="486.5" cy="596.9" r="2.00" fill="#000"/>
<circle cx="489.8" cy="592.3" r="2.00" fill="#000"/>
<circle cx="492.1" cy="594.6" r="2.00" fill="#000"/>
<circle cx="494.3" cy="595.4" r="2.00" fill="#000"/>
<circle cx="498.8" cy="596.1" r="2.00" fill="#000"/>
<circle cx="499.9" cy="598.4" r="2.00" fill="#000"/>
<circle cx="583.9" cy="596.1" r="2.00" fill="#000"/>
<circle cx="587.3" cy="592.3" r="2.00" fill="#000"/>
<circle cx="589.5" cy="594.6" r="2.00" fill="#000"/>
<circle cx="590.6" cy="590.0" r="2.00" fill="#000"/>
<circle cx="592.9" cy="593.1" r="2.00" fill="#000"/>
<circle cx="595.1" cy="582.4" r="2.00" fill="#000"/>
<circle cx="597.4" cy="584.7" r="2.00" fill="#000"/>
<circle cx="599.6" cy="587.0" r="2.00" fill="#000"/>
<circle cx="601.8" cy="590.8" r="2.00" fill="#000"/>
<circle cx="603.0" cy="593.1" r="2.00" fill="#000"/>
<circle cx="594.0" cy="595.4" r="2.00" fill="#000"/>
<circle cx="575.0" cy="598.4" r="2.00" fill="#000"/>
<circle cx="585.0" cy="584.7" r="2.00" fill="#000"/>
<circle cx="591.8" cy="580.9" r="2.00" fill="#000"/>
<circle cx="484.2" cy="583.9" r="2.00" fill="#000"/>
<circle cx="596.2" cy="593.9" r="2.00" fill="#000"/>
<circle cx="598.5" cy="594.6" r="2.00" fill="#000"/>
<circle cx="599.6" cy="590.8" r="2.00" fill="#000"/>
<circle cx="586.2" cy="588.5" r="2.00" fill="#000"/>
<circle cx="494.5" cy="575.0" r="2.00" fill="#d9262a"/>
<circle cx="564.2" cy="570.5" r="2.00" fill="#d9262a"/>
<circle cx="515.3" cy="544.1" r="2.00" fill="#d9262a"/>
<circle cx="490.8" cy="575.1" r="2.00" fill="#d9262a"/>
<circle cx="556.6" cy="550.3" r="2.00" fill="#d9262a"/>
<circle cx="508.2" cy="572.4" r="2.00" fill="#d9262a"/>
<circle cx="571.7" cy="577.8" r="2.00" fill="#d9262a"/>
<circle cx="509.0" cy="575.2" r="2.00" fill="#d9262a"/>
<circle cx="518.8" cy="572.6" r="2.00" fill="#d9262a"/>
<circle cx="515.3" cy="547.4" r="2.00" fill="#d9262a"/>
<circle cx="518.2" cy="567.7" r="2.00" fill="#d9262a"/>
<circle cx="512.9" cy="577.4" r="2.00" fill="#d9262a"/>
<circle cx="563.6" cy="549.5" r="2.00" fill="#d9262a"/>
<circle cx="553.7" cy="577.8" r="2.00" fill="#d9262a"/>
<circle cx="564.4" cy="573.9" r="2.00" fill="#d9262a"/>
<circle cx="556.5" cy="576.6" r="2.00" fill="#d9262a"/>
<circle cx="560.4" cy="542.2" r="2.00" fill="#d9262a"/>
<circle cx="565.3" cy="577.0" r="2.00" fill="#d9262a"/>
<circle cx="581.9" cy="569.0" r="2.00" fill="#d9262a"/>
<circle cx="509.0" cy="561.2" r="2.00" fill="#d9262a"/>
<circle cx="559.3" cy="578.4" r="2.00" fill="#d9262a"/>
<circle cx="582.2" cy="577.9" r="2.00" fill="#d9262a"/>
<circle cx="555.2" cy="576.1" r="2.00" fill="#d9262a"/>
<circle cx="568.5" cy="549.8" r="2.00" fill="#d9262a"/>
<circle cx="556.1" cy="563.0" r="2.00" fill="#d9262a"/>
<circle cx="525.4" cy="578.0" r="2.00" fill="#d9262a"/>
<circle cx="504.3" cy="562.1" r="2.00" fill="#d9262a"/>
<circle cx="557.2" cy="543.2" r="2.00" fill="#d9262a"/>
<circle cx="563.0" cy="576.1" r="2.00" fill="#d9262a"/>
<circle cx="496.3" cy="573.1" r="2.00" fill="#d9262a"/>
<circle cx="555.3" cy="578.4" r="2.00" fill="#d9262a"/>
<circle cx="524.8" cy="566.0" r="2.00" fill="#d9262a"/>
<circle cx="558.6" cy="572.2" r="2.00" fill="#d9262a"/>
<circle cx="523.7" cy="559.5" r="2.00" fill="#d9262a"/>
<circle cx="499.8" cy="577.2" r="2.00" fill="#d9262a"/>
<circle cx="516.7" cy="576.4" r="2.00" fill="#d9262a"/>
<circle cx="522.7" cy="578.4" r="2.00" fill="#d9262a"/>
<circle cx="552.8" cy="567.5" r="2.00" fill="#d9262a"/>
<circle cx="499.9" cy="575.7" r="2.00" fill="#d9262a"/>
<circle cx="564.6" cy="563.9" r="2.00" fill="#d9262a"/>
<circle cx="570.8" cy="553.2" r="2.00" fill="#d9262a"/>
<circle cx="517.9" cy="550.7" r="2.00" fill="#d9262a"/>
<circle cx="517.6" cy="558.9" r="2.00" fill="#d9262a"/>
<circle cx="576.3" cy="576.5" r="2.00" fill="#d9262a"/>
<circle cx="522.3" cy="574.9" r="2.00" fill="#d9262a"/>
<circle cx="494.7" cy="573.8" r="2.00" fill="#d9262a"/>
<circle cx="516.4" cy="575.9" r="2.00" fill="#d9262a"/>
<circle cx="557.4" cy="563.4" r="2.00" fill="#d9262a"/>
<circle cx="515.8" cy="572.4" r="2.00" fill="#d9262a"/>
<circle cx="548.6" cy="566.9" r="2.00" fill="#d9262a"/>
<circle cx="506.8" cy="575.6" r="2.00" fill="#d9262a"/>
<circle cx="571.5" cy="577.9" r="2.00" fill="#d9262a"/>
<circle cx="519.7" cy="557.2" r="2.00" fill="#d9262a"/>
<circle cx="524.7" cy="574.9" r="2.00" fill="#d9262a"/>
<circle cx="574.1" cy="568.8" r="2.00" fill="#d9262a"/>
<circle cx="500.2" cy="570.2" r="2.00" fill="#d9262a"/>
<circle cx="555.4" cy="572.3" r="2.00" fill="#d9262a"/>
<circle cx="566.4" cy="578.2" r="2.00" fill="#d9262a"/>
<circle cx="553.1" cy="576.0" r="2.00" fill="#d9262a"/>
<circle cx="570.5" cy="578.3" r="2.00" fill="#d9262a"/>
<circle cx="573.8" cy="573.7" r="2.00" fill="#d9262a"/>
<circle cx="553.7" cy="568.6" r="2.00" fill="#d9262a"/>
<circle cx="505.6" cy="575.9" r="2.00" fill="#d9262a"/>
<circle cx="500.0" cy="574.4" r="2.00" fill="#d9262a"/>
<circle cx="552.6" cy="577.9" r="2.00" fill="#d9262a"/>
<circle cx="571.2" cy="561.2" r="2.00" fill="#d9262a"/>
<circle cx="564.5" cy="558.4" r="2.00" fill="#d9262a"/>
<circle cx="548.9" cy="577.5" r="2.00" fill="#d9262a"/>
<circle cx="508.6" cy="552.5" r="2.00" fill="#d9262a"/>
<circle cx="513.3" cy="570.5" r="2.00" fill="#d9262a"/>
<circle cx="503.2" cy="574.9" r="2.00" fill="#d9262a"/>
<circle cx="576.4" cy="567.3" r="2.00" fill="#d9262a"/>
<circle cx="569.6" cy="569.9" r="2.00" fill="#d9262a"/>
<circle cx="517.1" cy="559.1" r="2.00" fill="#d9262a"/>
<circle cx="560.7" cy="544.3" r="2.00" fill="#d9262a"/>
<circle cx="552.4" cy="563.4" r="2.00" fill="#d9262a"/>
<circle cx="502.3" cy="557.5" r="2.00" fill="#d9262a"/>
<circle cx="559.0" cy="539.7" r="2.00" fill="#d9262a"/>
<circle cx="513.0" cy="544.8" r="2.00" fill="#d9262a"/>
<circle cx="521.0" cy="576.7" r="2.00" fill="#d9262a"/>
<circle cx="493.6" cy="576.5" r="2.00" fill="#d9262a"/>
<circle cx="525.1" cy="578.4" r="2.00" fill="#d9262a"/>
<circle cx="570.6" cy="574.6" r="2.00" fill="#d9262a"/>
<circle cx="518.7" cy="556.9" r="2.00" fill="#d9262a"/>
<circle cx="556.6" cy="574.8" r="2.00" fill="#d9262a"/>
<circle cx="514.8" cy="569.5" r="2.00" fill="#d9262a"/>
<circle cx="502.0" cy="561.9" r="2.00" fill="#d9262a"/>
<circle cx="507.6" cy="575.6" r="2.00" fill="#d9262a"/>
<circle cx="562.0" cy="560.7" r="2.00" fill="#d9262a"/>
<circle cx="563.2" cy="555.3" r="2.00" fill="#d9262a"/>
<circle cx="493.5" cy="572.5" r="2.00" fill="#d9262a"/>
<circle cx="515.7" cy="575.7" r="2.00" fill="#d9262a"/>
<circle cx="510.4" cy="560.3" r="2.00" fill="#d9262a"/>
<circle cx="517.4" cy="569.0" r="2.00" fill="#d9262a"/>
<circle cx="568.9" cy="549.6" r="2.00" fill="#d9262a"/>
<circle cx="562.5" cy="551.7" r="2.00" fill="#d9262a"/>
<circle cx="554.3" cy="552.4" r="2.00" fill="#d9262a"/>
<circle cx="574.7" cy="577.9" r="2.00" fill="#d9262a"/>
<circle cx="568.7" cy="575.6" r="2.00" fill="#d9262a"/>
<circle cx="549.7" cy="561.8" r="2.00" fill="#d9262a"/>
<circle cx="522.8" cy="576.7" r="2.00" fill="#d9262a"/>
<circle cx="500.6" cy="576.9" r="2.00" fill="#d9262a"/>
<circle cx="574.7" cy="574.0" r="2.00" fill="#d9262a"/>
<circle cx="519.9" cy="567.8" r="2.00" fill="#d9262a"/>
<circle cx="555.4" cy="573.1" r="2.00" fill="#d9262a"/>
<circle cx="575.6" cy="575.6" r="2.00" fill="#d9262a"/>
<circle cx="524.9" cy="566.7" r="2.00" fill="#d9262a"/>
<circle cx="513.8" cy="549.1" r="2.00" fill="#d9262a"/>
<circle cx="570.7" cy="554.2" r="2.00" fill="#d9262a"/>
<circle cx="503.5" cy="577.4" r="2.00" fill="#d9262a"/>
<circle cx="556.4" cy="570.5" r="2.00" fill="#d9262a"/>
<circle cx="576.8" cy="572.8" r="2.00" fill="#d9262a"/>
<circle cx="510.9" cy="548.1" r="2.00" fill="#d9262a"/>
<circle cx="584.3" cy="575.3" r="2.00" fill="#d9262a"/>
<circle cx="562.0" cy="559.8" r="2.00" fill="#d9262a"/>
<circle cx="503.4" cy="574.9" r="2.00" fill="#d9262a"/>
<circle cx="574.3" cy="559.0" r="2.00" fill="#d9262a"/>
<circle cx="565.7" cy="573.9" r="2.00" fill="#d9262a"/>
<circle cx="573.1" cy="562.9" r="2.00" fill="#d9262a"/>
<circle cx="564.2" cy="549.1" r="2.00" fill="#d9262a"/>
<circle cx="558.3" cy="560.2" r="2.00" fill="#d9262a"/>
<circle cx="496.1" cy="577.3" r="2.00" fill="#d9262a"/>
<circle cx="559.6" cy="578.4" r="2.00" fill="#d9262a"/>
<circle cx="568.8" cy="557.0" r="2.00" fill="#d9262a"/>
<circle cx="562.6" cy="542.1" r="2.00" fill="#d9262a"/>
<circle cx="566.8" cy="559.6" r="2.00" fill="#d9262a"/>
<circle cx="520.6" cy="546.7" r="2.00" fill="#d9262a"/>
<circle cx="510.3" cy="576.8" r="2.00" fill="#d9262a"/>
<circle cx="565.6" cy="568.9" r="2.00" fill="#d9262a"/>
<circle cx="520.9" cy="553.5" r="2.00" fill="#d9262a"/>
<circle cx="579.9" cy="572.4" r="2.00" fill="#d9262a"/>
<circle cx="545.5" cy="574.6" r="2.00" fill="#d9262a"/>
<circle cx="579.2" cy="575.2" r="2.00" fill="#d9262a"/>
<circle cx="512.2" cy="569.1" r="2.00" fill="#d9262a"/>
<circle cx="507.7" cy="553.7" r="2.00" fill="#d9262a"/>
<circle cx="504.7" cy="569.1" r="2.00" fill="#d9262a"/>
<circle cx="514.0" cy="577.0" r="2.00" fill="#d9262a"/>
<circle cx="511.1" cy="561.9" r="2.00" fill="#d9262a"/>
<circle cx="497.4" cy="570.0" r="2.00" fill="#d9262a"/>
<circle cx="512.0" cy="554.6" r="2.00" fill="#d9262a"/>
<circle cx="523.6" cy="573.1" r="2.00" fill="#d9262a"/>
<circle cx="523.2" cy="563.3" r="2.00" fill="#d9262a"/>
<circle cx="570.2" cy="572.5" r="2.00" fill="#d9262a"/>
<circle cx="576.0" cy="571.8" r="2.00" fill="#d9262a"/>
<circle cx="499.5" cy="568.6" r="2.00" fill="#d9262a"/>
<circle cx="561.2" cy="575.9" r="2.00" fill="#d9262a"/>
<circle cx="570.0" cy="561.1" r="2.00" fill="#d9262a"/>
<circle cx="558.0" cy="555.1" r="2.00" fill="#d9262a"/>
<circle cx="570.6" cy="565.1" r="2.00" fill="#d9262a"/>
<circle cx="519.2" cy="561.4" r="2.00" fill="#d9262a"/>
<circle cx="568.5" cy="553.4" r="2.00" fill="#d9262a"/>
<circle cx="525.7" cy="577.7" r="2.00" fill="#d9262a"/>
<circle cx="504.7" cy="571.7" r="2.00" fill="#d9262a"/>
<circle cx="518.1" cy="555.5" r="2.00" fill="#d9262a"/>
<circle cx="574.6" cy="577.2" r="2.00" fill="#d9262a"/>
<circle cx="554.2" cy="550.0" r="2.00" fill="#d9262a"/>
<circle cx="511.1" cy="573.8" r="2.00" fill="#d9262a"/>
<circle cx="519.3" cy="564.0" r="2.00" fill="#d9262a"/>
<circle cx="567.4" cy="562.7" r="2.00" fill="#d9262a"/>
<circle cx="567.8" cy="577.2" r="2.00" fill="#d9262a"/>
<circle cx="522.9" cy="576.6" r="2.00" fill="#d9262a"/>
<circle cx="517.6" cy="564.1" r="2.00" fill="#d9262a"/>
<circle cx="565.2" cy="555.7" r="2.00" fill="#d9262a"/>
<circle cx="507.7" cy="560.6" r="2.00" fill="#d9262a"/>
<circle cx="554.9" cy="568.2" r="2.00" fill="#d9262a"/>
<circle cx="512.1" cy="576.4" r="2.00" fill="#d9262a"/>
<circle cx="494.6" cy="567.8" r="2.00" fill="#d9262a"/>
<circle cx="502.0" cy="557.3" r="2.00" fill="#d9262a"/>
<circle cx="563.5" cy="574.2" r="2.00" fill="#d9262a"/>
<circle cx="566.5" cy="551.7" r="2.00" fill="#d9262a"/>
<circle cx="501.1" cy="574.5" r="2.00" fill="#d9262a"/>
<circle cx="521.7" cy="574.4" r="2.00" fill="#d9262a"/>
<circle cx="574.6" cy="573.0" r="2.00" fill="#d9262a"/>
<circle cx="566.5" cy="563.5" r="2.00" fill="#d9262a"/>
<circle cx="554.2" cy="567.0" r="2.00" fill="#d9262a"/>
<circle cx="554.6" cy="565.6" r="2.00" fill="#d9262a"/>
<circle cx="529.0" cy="578.4" r="2.00" fill="#d9262a"/>
<circle cx="574.9" cy="562.9" r="2.00" fill="#d9262a"/>
<circle cx="557.7" cy="540.4" r="2.00" fill="#d9262a"/>
<circle cx="495.4" cy="570.1" r="2.00" fill="#d9262a"/>
<circle cx="498.2" cy="574.7" r="2.00" fill="#d9262a"/>
<circle cx="555.4" cy="577.8" r="2.00" fill="#d9262a"/>
<circle cx="503.8" cy="570.8" r="2.00" fill="#d9262a"/>
<circle cx="519.7" cy="568.2" r="2.00" fill="#d9262a"/>
<circle cx="498.1" cy="578.0" r="2.00" fill="#d9262a"/>
<circle cx="526.4" cy="573.9" r="2.00" fill="#d9262a"/>
<circle cx="499.0" cy="577.4" r="2.00" fill="#d9262a"/>
<circle cx="580.3" cy="573.1" r="2.00" fill="#d9262a"/>
<circle cx="552.4" cy="571.8" r="2.00" fill="#d9262a"/>
<circle cx="517.8" cy="571.4" r="2.00" fill="#d9262a"/>
<circle cx="566.7" cy="575.7" r="2.00" fill="#d9262a"/>
<circle cx="501.8" cy="573.6" r="2.00" fill="#d9262a"/>
<circle cx="520.1" cy="576.6" r="2.00" fill="#d9262a"/>
<circle cx="566.5" cy="558.6" r="2.00" fill="#d9262a"/>
<circle cx="505.0" cy="558.5" r="2.00" fill="#d9262a"/>
<circle cx="506.1" cy="554.3" r="2.00" fill="#d9262a"/>
<circle cx="509.7" cy="546.5" r="2.00" fill="#d9262a"/>
<circle cx="553.7" cy="565.4" r="2.00" fill="#d9262a"/>
<circle cx="556.4" cy="572.2" r="2.00" fill="#d9262a"/>
<circle cx="563.6" cy="574.7" r="2.00" fill="#d9262a"/>
<circle cx="504.9" cy="564.3" r="2.00" fill="#d9262a"/>
<circle cx="510.4" cy="575.7" r="2.00" fill="#d9262a"/>
<circle cx="505.6" cy="570.8" r="2.00" fill="#d9262a"/>
<circle cx="505.4" cy="578.3" r="2.00" fill="#d9262a"/>
<circle cx="577.4" cy="572.2" r="2.00" fill="#d9262a"/>
<circle cx="578.7" cy="573.7" r="2.00" fill="#d9262a"/>
<circle cx="555.5" cy="571.9" r="2.00" fill="#d9262a"/>
<circle cx="514.1" cy="563.6" r="2.00" fill="#d9262a"/>
<circle cx="521.8" cy="571.7" r="2.00" fill="#d9262a"/>
<circle cx="574.5" cy="559.5" r="2.00" fill="#d9262a"/>
<circle cx="500.2" cy="575.3" r="2.00" fill="#d9262a"/>
<circle cx="519.2" cy="576.0" r="2.00" fill="#d9262a"/>
<circle cx="513.8" cy="569.2" r="2.00" fill="#d9262a"/>
<circle cx="578.6" cy="578.3" r="2.00" fill="#d9262a"/>
<circle cx="506.4" cy="565.5" r="2.00" fill="#d9262a"/>
<circle cx="557.4" cy="566.0" r="2.00" fill="#d9262a"/>
<circle cx="519.6" cy="559.8" r="2.00" fill="#d9262a"/>
<circle cx="499.9" cy="571.7" r="2.00" fill="#d9262a"/>
<circle cx="552.0" cy="561.6" r="2.00" fill="#d9262a"/>
<circle cx="519.8" cy="542.7" r="2.00" fill="#d9262a"/>
<circle cx="499.2" cy="566.6" r="2.00" fill="#d9262a"/>
<circle cx="556.9" cy="539.6" r="2.00" fill="#d9262a"/>
<circle cx="562.6" cy="578.4" r="2.00" fill="#d9262a"/>
<circle cx="551.0" cy="574.8" r="2.00" fill="#d9262a"/>
<circle cx="513.0" cy="575.6" r="2.00" fill="#d9262a"/>
<circle cx="568.4" cy="556.4" r="2.00" fill="#d9262a"/>
<circle cx="561.8" cy="564.0" r="2.00" fill="#d9262a"/>
<circle cx="573.7" cy="557.8" r="2.00" fill="#d9262a"/>
<circle cx="509.3" cy="573.1" r="2.00" fill="#d9262a"/>
<circle cx="514.8" cy="574.6" r="2.00" fill="#d9262a"/>
<circle cx="527.1" cy="576.0" r="2.00" fill="#d9262a"/>
<circle cx="516.8" cy="548.7" r="2.00" fill="#d9262a"/>
<circle cx="560.3" cy="546.6" r="2.00" fill="#d9262a"/>
<circle cx="524.6" cy="562.3" r="2.00" fill="#d9262a"/>
<circle cx="521.3" cy="559.8" r="2.00" fill="#d9262a"/>
<circle cx="519.8" cy="578.0" r="2.00" fill="#d9262a"/>
<circle cx="573.9" cy="572.7" r="2.00" fill="#d9262a"/>
<circle cx="559.2" cy="538.8" r="2.00" fill="#d9262a"/>
<circle cx="554.9" cy="545.1" r="2.00" fill="#d9262a"/>
<circle cx="558.1" cy="539.3" r="2.00" fill="#d9262a"/>
<circle cx="576.5" cy="564.6" r="2.00" fill="#d9262a"/>
<circle cx="521.7" cy="548.7" r="2.00" fill="#d9262a"/>
<circle cx="507.2" cy="552.3" r="2.00" fill="#d9262a"/>
<circle cx="505.6" cy="552.0" r="2.00" fill="#d9262a"/>
<circle cx="517.6" cy="540.3" r="2.00" fill="#d9262a"/>
<circle cx="577.1" cy="564.6" r="2.00" fill="#d9262a"/>
<circle cx="577.7" cy="572.5" r="2.00" fill="#d9262a"/>
<circle cx="564.3" cy="560.7" r="2.00" fill="#d9262a"/>
<circle cx="526.7" cy="573.7" r="2.00" fill="#d9262a"/>
<circle cx="511.5" cy="548.5" r="2.00" fill="#d9262a"/>
<circle cx="517.6" cy="543.9" r="2.00" fill="#d9262a"/>
<circle cx="505.4" cy="561.5" r="2.00" fill="#d9262a"/>
<circle cx="564.1" cy="573.8" r="2.00" fill="#d9262a"/>
<circle cx="551.7" cy="572.3" r="2.00" fill="#d9262a"/>
<circle cx="505.9" cy="573.6" r="2.00" fill="#d9262a"/>
<circle cx="501.3" cy="573.1" r="2.00" fill="#d9262a"/>
<circle cx="558.8" cy="577.5" r="2.00" fill="#d9262a"/>
<circle cx="557.0" cy="566.0" r="2.00" fill="#d9262a"/>
<circle cx="513.3" cy="573.2" r="2.00" fill="#d9262a"/>
<circle cx="494.2" cy="575.2" r="2.00" fill="#d9262a"/>
<circle cx="514.0" cy="551.8" r="2.00" fill="#d9262a"/>
<circle cx="503.1" cy="558.7" r="2.00" fill="#d9262a"/>
<circle cx="510.7" cy="576.4" r="2.00" fill="#d9262a"/>
<circle cx="571.4" cy="568.2" r="2.00" fill="#d9262a"/>
<circle cx="494.7" cy="569.8" r="2.00" fill="#d9262a"/>
<circle cx="519.6" cy="541.2" r="2.00" fill="#d9262a"/>
<circle cx="499.1" cy="577.3" r="2.00" fill="#d9262a"/>
<circle cx="508.0" cy="567.3" r="2.00" fill="#d9262a"/>
<circle cx="506.3" cy="553.0" r="2.00" fill="#d9262a"/>
<circle cx="559.0" cy="552.5" r="2.00" fill="#d9262a"/>
<circle cx="565.6" cy="578.3" r="2.00" fill="#d9262a"/>
<circle cx="509.6" cy="552.4" r="2.00" fill="#d9262a"/>
<circle cx="516.8" cy="543.6" r="2.00" fill="#d9262a"/>
<circle cx="551.1" cy="574.1" r="2.00" fill="#d9262a"/>
<circle cx="578.7" cy="578.3" r="2.00" fill="#d9262a"/>
<circle cx="523.0" cy="570.9" r="2.00" fill="#d9262a"/>
<circle cx="521.9" cy="550.8" r="2.00" fill="#d9262a"/>
<circle cx="519.9" cy="561.8" r="2.00" fill="#d9262a"/>
<circle cx="575.8" cy="565.6" r="2.00" fill="#d9262a"/>
<circle cx="522.2" cy="563.0" r="2.00" fill="#d9262a"/>
<circle cx="506.1" cy="571.2" r="2.00" fill="#d9262a"/>
<circle cx="569.1" cy="563.0" r="2.00" fill="#d9262a"/>
<circle cx="566.6" cy="562.5" r="2.00" fill="#d9262a"/>
<circle cx="576.6" cy="562.2" r="2.00" fill="#d9262a"/>
<circle cx="504.8" cy="559.7" r="2.00" fill="#d9262a"/>
<circle cx="565.7" cy="566.7" r="2.00" fill="#d9262a"/>
<circle cx="512.9" cy="567.9" r="2.00" fill="#d9262a"/>
<circle cx="518.6" cy="549.2" r="2.00" fill="#d9262a"/>
<circle cx="565.8" cy="576.2" r="2.00" fill="#d9262a"/>
<circle cx="572.0" cy="566.1" r="2.00" fill="#d9262a"/>
<circle cx="516.2" cy="577.6" r="2.00" fill="#d9262a"/>
<circle cx="496.2" cy="573.9" r="2.00" fill="#d9262a"/>
<circle cx="510.3" cy="578.2" r="2.00" fill="#d9262a"/>
<circle cx="519.0" cy="577.2" r="2.00" fill="#d9262a"/>
<circle cx="573.9" cy="568.1" r="2.00" fill="#d9262a"/>
<circle cx="564.7" cy="571.3" r="2.00" fill="#d9262a"/>
<circle cx="565.5" cy="574.7" r="2.00" fill="#d9262a"/>
<circle cx="575.1" cy="574.3" r="2.00" fill="#d9262a"/>
<circle cx="493.6" cy="569.6" r="2.00" fill="#d9262a"/>
<circle cx="567.1" cy="556.1" r="2.00" fill="#d9262a"/>
<circle cx="572.7" cy="563.8" r="2.00" fill="#d9262a"/>
<circle cx="523.3" cy="569.8" r="2.00" fill="#d9262a"/>
<circle cx="568.5" cy="569.0" r="2.00" fill="#d9262a"/>
<circle cx="578.7" cy="575.0" r="2.00" fill="#d9262a"/>
<circle cx="551.8" cy="566.1" r="2.00" fill="#d9262a"/>
<circle cx="558.3" cy="535.2" r="2.00" fill="#d9262a"/>
<circle cx="506.3" cy="577.1" r="2.00" fill="#d9262a"/>
<circle cx="574.6" cy="569.1" r="2.00" fill="#d9262a"/>
<circle cx="509.7" cy="576.9" r="2.00" fill="#d9262a"/>
<circle cx="511.3" cy="576.1" r="2.00" fill="#d9262a"/>
<circle cx="522.9" cy="567.6" r="2.00" fill="#d9262a"/>
<circle cx="510.1" cy="554.1" r="2.00" fill="#d9262a"/>
<circle cx="504.1" cy="577.9" r="2.00" fill="#d9262a"/>
<circle cx="509.3" cy="551.9" r="2.00" fill="#d9262a"/>
<circle cx="556.6" cy="563.7" r="2.00" fill="#d9262a"/>
<circle cx="555.7" cy="577.8" r="2.00" fill="#d9262a"/>
<circle cx="575.4" cy="559.6" r="2.00" fill="#d9262a"/>
<circle cx="519.1" cy="556.7" r="2.00" fill="#d9262a"/>
<circle cx="513.9" cy="562.3" r="2.00" fill="#d9262a"/>
<circle cx="578.3" cy="566.2" r="2.00" fill="#d9262a"/>
<circle cx="557.0" cy="575.7" r="2.00" fill="#d9262a"/>
<circle cx="574.5" cy="569.5" r="2.00" fill="#d9262a"/>
<circle cx="578.8" cy="577.7" r="2.00" fill="#d9262a"/>
<circle cx="515.8" cy="554.4" r="2.00" fill="#d9262a"/>
<circle cx="499.2" cy="575.1" r="2.00" fill="#d9262a"/>
<circle cx="502.1" cy="567.1" r="2.00" fill="#d9262a"/>
<circle cx="518.0" cy="578.4" r="2.00" fill="#d9262a"/>
<circle cx="513.7" cy="570.7" r="2.00" fill="#d9262a"/>
<circle cx="528.2" cy="570.2" r="2.00" fill="#d9262a"/>
<circle cx="576.4" cy="576.3" r="2.00" fill="#d9262a"/>
<circle cx="554.5" cy="553.5" r="2.00" fill="#d9262a"/>
<circle cx="560.9" cy="550.0" r="2.00" fill="#d9262a"/>
<circle cx="502.2" cy="560.1" r="2.00" fill="#d9262a"/>
<circle cx="557.3" cy="537.9" r="2.00" fill="#d9262a"/>
<circle cx="556.0" cy="544.8" r="2.00" fill="#d9262a"/>
<circle cx="569.2" cy="578.0" r="2.00" fill="#d9262a"/>
<circle cx="493.2" cy="578.3" r="2.00" fill="#d9262a"/>
<circle cx="518.0" cy="572.9" r="2.00" fill="#d9262a"/>
<circle cx="564.5" cy="575.6" r="2.00" fill="#d9262a"/>
<circle cx="519.1" cy="569.2" r="2.00" fill="#d9262a"/>
<circle cx="518.3" cy="544.6" r="2.00" fill="#d9262a"/>
<circle cx="510.0" cy="566.0" r="2.00" fill="#d9262a"/>
<circle cx="522.5" cy="574.0" r="2.00" fill="#d9262a"/>
<circle cx="558.5" cy="563.4" r="2.00" fill="#d9262a"/>
<circle cx="548.6" cy="576.9" r="2.00" fill="#d9262a"/>
<circle cx="512.3" cy="559.6" r="2.00" fill="#d9262a"/>
<circle cx="513.1" cy="564.2" r="2.00" fill="#d9262a"/>
<circle cx="550.9" cy="571.0" r="2.00" fill="#d9262a"/>
<circle cx="564.8" cy="578.3" r="2.00" fill="#d9262a"/>
<circle cx="526.4" cy="576.4" r="2.00" fill="#d9262a"/>
<circle cx="516.7" cy="564.0" r="2.00" fill="#d9262a"/>
<circle cx="521.5" cy="578.3" r="2.00" fill="#d9262a"/>
<circle cx="557.9" cy="548.6" r="2.00" fill="#d9262a"/>
<circle cx="569.0" cy="560.5" r="2.00" fill="#d9262a"/>
<circle cx="561.7" cy="561.4" r="2.00" fill="#d9262a"/>
<circle cx="573.1" cy="558.5" r="2.00" fill="#d9262a"/>
<circle cx="552.8" cy="578.4" r="2.00" fill="#d9262a"/>
<circle cx="557.3" cy="578.2" r="2.00" fill="#d9262a"/>
<circle cx="501.8" cy="575.2" r="2.00" fill="#d9262a"/>
<circle cx="558.0" cy="575.7" r="2.00" fill="#d9262a"/>
<circle cx="571.5" cy="568.8" r="2.00" fill="#d9262a"/>
<circle cx="519.1" cy="573.3" r="2.00" fill="#d9262a"/>
<circle cx="553.6" cy="572.7" r="2.00" fill="#d9262a"/>
<circle cx="508.1" cy="547.6" r="2.00" fill="#d9262a"/>
<circle cx="560.0" cy="576.8" r="2.00" fill="#d9262a"/>
<circle cx="572.5" cy="561.8" r="2.00" fill="#d9262a"/>
<circle cx="519.6" cy="551.6" r="2.00" fill="#d9262a"/>
<circle cx="580.0" cy="578.3" r="2.00" fill="#d9262a"/>
<circle cx="580.8" cy="578.0" r="2.00" fill="#d9262a"/>
<circle cx="557.9" cy="573.7" r="2.00" fill="#d9262a"/>
<circle cx="501.2" cy="576.6" r="2.00" fill="#d9262a"/>
<circle cx="508.4" cy="557.8" r="2.00" fill="#d9262a"/>
<circle cx="554.0" cy="569.0" r="2.00" fill="#d9262a"/>
<circle cx="499.4" cy="576.7" r="2.00" fill="#d9262a"/>
<circle cx="559.8" cy="572.7" r="2.00" fill="#d9262a"/>
<circle cx="565.5" cy="556.6" r="2.00" fill="#d9262a"/>
<circle cx="580.2" cy="566.1" r="2.00" fill="#d9262a"/>
<circle cx="572.6" cy="558.6" r="2.00" fill="#d9262a"/>
<circle cx="575.9" cy="574.6" r="2.00" fill="#d9262a"/>
<circle cx="510.8" cy="575.7" r="2.00" fill="#d9262a"/>
<circle cx="566.7" cy="558.3" r="2.00" fill="#d9262a"/>
<circle cx="494.0" cy="576.2" r="2.00" fill="#d9262a"/>
<circle cx="516.9" cy="578.3" r="2.00" fill="#d9262a"/>
<circle cx="528.4" cy="578.4" r="2.00" fill="#d9262a"/>
<circle cx="568.5" cy="577.7" r="2.00" fill="#d9262a"/>
<circle cx="559.9" cy="555.4" r="2.00" fill="#d9262a"/>
<circle cx="570.1" cy="557.0" r="2.00" fill="#d9262a"/>
<circle cx="517.8" cy="572.6" r="2.00" fill="#d9262a"/>
<circle cx="571.5" cy="578.2" r="2.00" fill="#d9262a"/>
<circle cx="552.2" cy="566.4" r="2.00" fill="#d9262a"/>
<circle cx="518.3" cy="556.5" r="2.00" fill="#d9262a"/>
<circle cx="509.9" cy="557.6" r="2.00" fill="#d9262a"/>
<circle cx="552.5" cy="558.6" r="2.00" fill="#d9262a"/>
<circle cx="527.0" cy="568.2" r="2.00" fill="#d9262a"/>
<circle cx="552.3" cy="564.7" r="2.00" fill="#d9262a"/>
<circle cx="575.5" cy="559.9" r="2.00" fill="#d9262a"/>
<circle cx="520.4" cy="573.7" r="2.00" fill="#d9262a"/>
<circle cx="518.1" cy="546.2" r="2.00" fill="#d9262a"/>
<circle cx="518.7" cy="545.8" r="2.00" fill="#d9262a"/>
<circle cx="555.3" cy="577.1" r="2.00" fill="#d9262a"/>
<circle cx="576.7" cy="567.4" r="2.00" fill="#d9262a"/>
<circle cx="562.4" cy="576.6" r="2.00" fill="#d9262a"/>
<circle cx="556.1" cy="544.7" r="2.00" fill="#d9262a"/>
<circle cx="525.5" cy="577.0" r="2.00" fill="#d9262a"/>
<circle cx="518.0" cy="577.4" r="2.00" fill="#d9262a"/>
<circle cx="509.4" cy="549.4" r="2.00" fill="#d9262a"/>
<circle cx="519.4" cy="549.6" r="2.00" fill="#d9262a"/>
<circle cx="553.2" cy="566.1" r="2.00" fill="#d9262a"/>
<circle cx="562.8" cy="572.9" r="2.00" fill="#d9262a"/>
<circle cx="577.2" cy="578.4" r="2.00" fill="#d9262a"/>
<circle cx="509.2" cy="576.4" r="2.00" fill="#d9262a"/>
<circle cx="558.8" cy="538.5" r="2.00" fill="#d9262a"/>
<circle cx="526.4" cy="562.3" r="2.00" fill="#d9262a"/>
<circle cx="556.7" cy="549.5" r="2.00" fill="#d9262a"/>
<circle cx="517.9" cy="578.3" r="2.00" fill="#d9262a"/>
<circle cx="512.9" cy="548.4" r="2.00" fill="#d9262a"/>
<circle cx="501.1" cy="576.6" r="2.00" fill="#d9262a"/>
<circle cx="523.6" cy="556.5" r="2.00" fill="#d9262a"/>
<circle cx="512.4" cy="554.1" r="2.00" fill="#d9262a"/>
<circle cx="496.2" cy="573.5" r="2.00" fill="#d9262a"/>
<circle cx="514.7" cy="574.3" r="2.00" fill="#d9262a"/>
<circle cx="546.0" cy="577.4" r="2.00" fill="#d9262a"/>
<circle cx="567.3" cy="563.4" r="2.00" fill="#d9262a"/>
<circle cx="585.6" cy="576.2" r="2.00" fill="#d9262a"/>
<circle cx="504.0" cy="567.2" r="2.00" fill="#d9262a"/>
<circle cx="574.2" cy="556.5" r="2.00" fill="#d9262a"/>
<circle cx="513.3" cy="552.2" r="2.00" fill="#d9262a"/>
<circle cx="518.0" cy="558.2" r="2.00" fill="#d9262a"/>
<circle cx="524.8" cy="577.5" r="2.00" fill="#d9262a"/>
<circle cx="524.0" cy="561.7" r="2.00" fill="#d9262a"/>
<circle cx="514.3" cy="573.2" r="2.00" fill="#d9262a"/>
<circle cx="515.4" cy="576.8" r="2.00" fill="#d9262a"/>
<circle cx="522.8" cy="576.5" r="2.00" fill="#d9262a"/>
<circle cx="516.5" cy="566.2" r="2.00" fill="#d9262a"/>
<circle cx="500.9" cy="565.1" r="2.00" fill="#d9262a"/>
<circle cx="492.6" cy="572.1" r="2.00" fill="#d9262a"/>
<circle cx="557.9" cy="567.8" r="2.00" fill="#d9262a"/>
<circle cx="546.1" cy="578.3" r="2.00" fill="#d9262a"/>
<circle cx="512.9" cy="556.1" r="2.00" fill="#d9262a"/>
<circle cx="573.8" cy="566.5" r="2.00" fill="#d9262a"/>
<circle cx="559.2" cy="569.3" r="2.00" fill="#d9262a"/>
<circle cx="499.2" cy="559.7" r="2.00" fill="#d9262a"/>
<circle cx="515.8" cy="565.8" r="2.00" fill="#d9262a"/>
<circle cx="529.7" cy="577.4" r="2.00" fill="#d9262a"/>
<circle cx="522.4" cy="578.4" r="2.00" fill="#d9262a"/>
<circle cx="521.4" cy="570.9" r="2.00" fill="#d9262a"/>
<circle cx="519.8" cy="567.4" r="2.00" fill="#d9262a"/>
<circle cx="577.2" cy="577.5" r="2.00" fill="#d9262a"/>
<circle cx="585.0" cy="572.0" r="2.00" fill="#d9262a"/>
<circle cx="560.5" cy="577.1" r="2.00" fill="#d9262a"/>
<circle cx="570.5" cy="577.7" r="2.00" fill="#d9262a"/>
<circle cx="549.6" cy="577.6" r="2.00" fill="#d9262a"/>
<circle cx="512.5" cy="549.3" r="2.00" fill="#d9262a"/>
<circle cx="513.9" cy="573.9" r="2.00" fill="#d9262a"/>
<circle cx="514.1" cy="553.9" r="2.00" fill="#d9262a"/>
<circle cx="524.4" cy="563.9" r="2.00" fill="#d9262a"/>
<circle cx="518.2" cy="568.1" r="2.00" fill="#d9262a"/>
<circle cx="500.9" cy="561.7" r="2.00" fill="#d9262a"/>
<circle cx="490.6" cy="578.2" r="2.00" fill="#d9262a"/>
<circle cx="522.5" cy="573.0" r="2.00" fill="#d9262a"/>
<circle cx="552.8" cy="573.4" r="2.00" fill="#d9262a"/>
<circle cx="516.7" cy="567.6" r="2.00" fill="#d9262a"/>
<circle cx="568.3" cy="576.4" r="2.00" fill="#d9262a"/>
<circle cx="583.1" cy="569.8" r="2.00" fill="#d9262a"/>
<circle cx="566.2" cy="562.7" r="2.00" fill="#d9262a"/>
<circle cx="510.5" cy="546.8" r="2.00" fill="#d9262a"/>
<circle cx="518.7" cy="578.4" r="2.00" fill="#d9262a"/>
<circle cx="521.1" cy="565.3" r="2.00" fill="#d9262a"/>
<circle cx="577.7" cy="563.4" r="2.00" fill="#d9262a"/>
<circle cx="506.1" cy="568.1" r="2.00" fill="#d9262a"/>
<circle cx="521.9" cy="574.5" r="2.00" fill="#d9262a"/>
<circle cx="569.8" cy="556.4" r="2.00" fill="#d9262a"/>
<circle cx="567.3" cy="576.1" r="2.00" fill="#d9262a"/>
<circle cx="524.5" cy="567.9" r="2.00" fill="#d9262a"/>
<circle cx="514.0" cy="542.9" r="2.00" fill="#d9262a"/>
<circle cx="517.4" cy="544.5" r="2.00" fill="#d9262a"/>
<circle cx="510.7" cy="555.9" r="2.00" fill="#d9262a"/>
<circle cx="567.6" cy="554.1" r="2.00" fill="#d9262a"/>
<circle cx="514.6" cy="556.3" r="2.00" fill="#d9262a"/>
<circle cx="500.7" cy="570.8" r="2.00" fill="#d9262a"/>
<circle cx="529.3" cy="576.5" r="2.00" fill="#d9262a"/>
<circle cx="508.4" cy="553.2" r="2.00" fill="#d9262a"/>
<circle cx="565.3" cy="547.8" r="2.00" fill="#d9262a"/>
<circle cx="518.6" cy="569.3" r="2.00" fill="#d9262a"/>
<circle cx="522.7" cy="565.5" r="2.00" fill="#d9262a"/>
<circle cx="577.7" cy="568.0" r="2.00" fill="#d9262a"/>
<circle cx="494.1" cy="573.5" r="2.00" fill="#d9262a"/>
<circle cx="505.7" cy="577.9" r="2.00" fill="#d9262a"/>
<circle cx="491.6" cy="570.3" r="2.00" fill="#d9262a"/>
<circle cx="557.0" cy="577.7" r="2.00" fill="#d9262a"/>
<circle cx="564.0" cy="556.1" r="2.00" fill="#d9262a"/>
<circle cx="572.4" cy="567.8" r="2.00" fill="#d9262a"/>
<circle cx="567.4" cy="576.4" r="2.00" fill="#d9262a"/>
<circle cx="512.4" cy="577.8" r="2.00" fill="#d9262a"/>
<circle cx="564.5" cy="557.3" r="2.00" fill="#d9262a"/>
<circle cx="553.5" cy="557.4" r="2.00" fill="#d9262a"/>
<circle cx="557.0" cy="554.8" r="2.00" fill="#d9262a"/>
<circle cx="509.6" cy="576.2" r="2.00" fill="#d9262a"/>
<circle cx="510.9" cy="573.7" r="2.00" fill="#d9262a"/>
<circle cx="524.9" cy="573.5" r="2.00" fill="#d9262a"/>
<circle cx="506.2" cy="572.2" r="2.00" fill="#d9262a"/>
<circle cx="571.0" cy="555.2" r="2.00" fill="#d9262a"/>
<circle cx="497.3" cy="578.2" r="2.00" fill="#d9262a"/>
<circle cx="516.8" cy="557.3" r="2.00" fill="#d9262a"/>
<circle cx="578.2" cy="564.0" r="2.00" fill="#d9262a"/>
<circle cx="518.2" cy="545.5" r="2.00" fill="#d9262a"/>
<circle cx="496.2" cy="566.0" r="2.00" fill="#d9262a"/>
<circle cx="515.5" cy="568.2" r="2.00" fill="#d9262a"/>
<circle cx="569.6" cy="567.4" r="2.00" fill="#d9262a"/>
<circle cx="562.5" cy="562.9" r="2.00" fill="#d9262a"/>
<circle cx="558.2" cy="559.3" r="2.00" fill="#d9262a"/>
<circle cx="556.2" cy="569.4" r="2.00" fill="#d9262a"/>
<circle cx="553.5" cy="574.8" r="2.00" fill="#d9262a"/>
<circle cx="579.2" cy="577.6" r="2.00" fill="#d9262a"/>
<circle cx="508.1" cy="559.6" r="2.00" fill="#d9262a"/>
<circle cx="504.5" cy="567.2" r="2.00" fill="#d9262a"/>
<circle cx="519.4" cy="540.7" r="2.00" fill="#d9262a"/>
<circle cx="568.6" cy="576.3" r="2.00" fill="#d9262a"/>
<circle cx="506.1" cy="553.3" r="2.00" fill="#d9262a"/>
<circle cx="522.8" cy="553.1" r="2.00" fill="#d9262a"/>
<circle cx="573.2" cy="574.4" r="2.00" fill="#d9262a"/>
<circle cx="560.5" cy="556.8" r="2.00" fill="#d9262a"/>
<circle cx="567.6" cy="573.7" r="2.00" fill="#d9262a"/>
<circle cx="506.7" cy="571.7" r="2.00" fill="#d9262a"/>
<circle cx="569.4" cy="576.1" r="2.00" fill="#d9262a"/>
<circle cx="550.0" cy="567.0" r="2.00" fill="#d9262a"/>
<circle cx="499.2" cy="577.5" r="2.00" fill="#d9262a"/>
<circle cx="512.8" cy="551.5" r="2.00" fill="#d9262a"/>
<circle cx="562.7" cy="578.2" r="2.00" fill="#d9262a"/>
<circle cx="507.1" cy="558.1" r="2.00" fill="#d9262a"/>
<circle cx="559.8" cy="543.6" r="2.00" fill="#d9262a"/>
<circle cx="578.4" cy="574.7" r="2.00" fill="#d9262a"/>
<circle cx="495.4" cy="577.7" r="2.00" fill="#d9262a"/>
<circle cx="566.8" cy="561.6" r="2.00" fill="#d9262a"/>
<circle cx="552.5" cy="577.5" r="2.00" fill="#d9262a"/>
<circle cx="510.8" cy="550.4" r="2.00" fill="#d9262a"/>
<circle cx="558.3" cy="542.4" r="2.00" fill="#d9262a"/>
<circle cx="511.8" cy="578.3" r="2.00" fill="#d9262a"/>
<circle cx="556.6" cy="561.1" r="2.00" fill="#d9262a"/>
<circle cx="559.6" cy="543.3" r="2.00" fill="#d9262a"/>
<circle cx="509.6" cy="549.5" r="2.00" fill="#d9262a"/>
<circle cx="552.8" cy="558.3" r="2.00" fill="#d9262a"/>
<circle cx="515.3" cy="577.1" r="2.00" fill="#d9262a"/>
<circle cx="566.6" cy="577.1" r="2.00" fill="#d9262a"/>
<circle cx="500.2" cy="576.3" r="2.00" fill="#d9262a"/>
<circle cx="571.5" cy="572.2" r="2.00" fill="#d9262a"/>
<circle cx="497.2" cy="573.6" r="2.00" fill="#d9262a"/>
<circle cx="524.8" cy="572.4" r="2.00" fill="#d9262a"/>
<circle cx="556.1" cy="556.4" r="2.00" fill="#d9262a"/>
<circle cx="566.5" cy="547.7" r="2.00" fill="#d9262a"/>
<circle cx="518.5" cy="563.5" r="2.00" fill="#d9262a"/>
<circle cx="500.0" cy="558.6" r="2.00" fill="#d9262a"/>
<circle cx="550.3" cy="570.1" r="2.00" fill="#d9262a"/>
<circle cx="521.8" cy="576.4" r="2.00" fill="#d9262a"/>
<circle cx="559.9" cy="547.0" r="2.00" fill="#d9262a"/>
<circle cx="563.0" cy="562.1" r="2.00" fill="#d9262a"/>
<circle cx="558.8" cy="569.1" r="2.00" fill="#d9262a"/>
<circle cx="560.2" cy="577.7" r="2.00" fill="#d9262a"/>
<circle cx="552.4" cy="559.8" r="2.00" fill="#d9262a"/>
<circle cx="562.3" cy="575.6" r="2.00" fill="#d9262a"/>
<circle cx="503.9" cy="577.1" r="2.00" fill="#d9262a"/>
<circle cx="519.5" cy="578.0" r="2.00" fill="#d9262a"/>
<circle cx="559.0" cy="572.4" r="2.00" fill="#d9262a"/>
<circle cx="571.2" cy="566.6" r="2.00" fill="#d9262a"/>
<circle cx="520.7" cy="566.7" r="2.00" fill="#d9262a"/>
<circle cx="521.2" cy="548.6" r="2.00" fill="#d9262a"/>
<circle cx="509.9" cy="554.8" r="2.00" fill="#d9262a"/>
<circle cx="574.3" cy="563.5" r="2.00" fill="#d9262a"/>
<circle cx="565.7" cy="570.5" r="2.00" fill="#d9262a"/>
<circle cx="555.8" cy="551.0" r="2.00" fill="#d9262a"/>
<circle cx="520.5" cy="560.4" r="2.00" fill="#d9262a"/>
<circle cx="516.0" cy="562.9" r="2.00" fill="#d9262a"/>
<circle cx="573.0" cy="565.4" r="2.00" fill="#d9262a"/>
<circle cx="504.2" cy="557.3" r="2.00" fill="#d9262a"/>
<circle cx="558.4" cy="572.4" r="2.00" fill="#d9262a"/>
<circle cx="572.2" cy="555.3" r="2.00" fill="#d9262a"/>
<circle cx="513.0" cy="578.3" r="2.00" fill="#d9262a"/>
<circle cx="568.9" cy="573.7" r="2.00" fill="#d9262a"/>
<circle cx="576.9" cy="576.6" r="2.00" fill="#d9262a"/>
<circle cx="569.2" cy="578.2" r="2.00" fill="#d9262a"/>
<circle cx="523.7" cy="576.6" r="2.00" fill="#d9262a"/>
<circle cx="518.8" cy="555.2" r="2.00" fill="#d9262a"/>
<circle cx="516.2" cy="549.9" r="2.00" fill="#d9262a"/>
<circle cx="508.5" cy="574.8" r="2.00" fill="#d9262a"/>
<circle cx="577.1" cy="571.9" r="2.00" fill="#d9262a"/>
<circle cx="574.5" cy="572.5" r="2.00" fill="#d9262a"/>
<circle cx="509.3" cy="553.6" r="2.00" fill="#d9262a"/>
<circle cx="561.5" cy="571.0" r="2.00" fill="#d9262a"/>
<circle cx="561.8" cy="564.0" r="2.00" fill="#d9262a"/>
<circle cx="557.6" cy="551.2" r="2.00" fill="#d9262a"/>
<circle cx="565.3" cy="558.0" r="2.00" fill="#d9262a"/>
<circle cx="578.4" cy="571.8" r="2.00" fill="#d9262a"/>
<circle cx="508.5" cy="554.9" r="2.00" fill="#d9262a"/>
<circle cx="581.7" cy="568.7" r="2.00" fill="#d9262a"/>
<circle cx="496.2" cy="573.0" r="2.00" fill="#d9262a"/>
<circle cx="518.7" cy="576.7" r="2.00" fill="#d9262a"/>
<circle cx="561.8" cy="556.6" r="2.00" fill="#d9262a"/>
<circle cx="559.1" cy="558.4" r="2.00" fill="#d9262a"/>
<circle cx="509.8" cy="578.4" r="2.00" fill="#d9262a"/>
<circle cx="522.6" cy="556.6" r="2.00" fill="#d9262a"/>
<circle cx="426.0" cy="550.4" r="2.00" fill="#d9262a"/>
<circle cx="455.1" cy="556.5" r="2.00" fill="#d9262a"/>
<circle cx="461.8" cy="561.1" r="2.00" fill="#d9262a"/>
<circle cx="471.9" cy="573.3" r="2.00" fill="#d9262a"/>
<circle cx="466.3" cy="486.3" r="2.00" fill="#d9262a"/>
<circle cx="468.6" cy="468.0" r="2.00" fill="#d9262a"/>
<circle cx="473.0" cy="524.4" r="2.00" fill="#d9262a"/>
<circle cx="488.7" cy="526.0" r="2.00" fill="#d9262a"/>
<circle cx="488.7" cy="538.2" r="2.00" fill="#d9262a"/>
<circle cx="502.2" cy="468.0" r="2.00" fill="#d9262a"/>
<circle cx="502.2" cy="475.6" r="2.00" fill="#d9262a"/>
<circle cx="504.4" cy="486.3" r="2.00" fill="#d9262a"/>
<circle cx="521.2" cy="497.0" r="2.00" fill="#d9262a"/>
<circle cx="516.7" cy="503.1" r="2.00" fill="#d9262a"/>
<circle cx="517.8" cy="501.5" r="2.00" fill="#d9262a"/>
<circle cx="513.4" cy="512.2" r="2.00" fill="#d9262a"/>
<circle cx="516.7" cy="513.7" r="2.00" fill="#d9262a"/>
<circle cx="510.0" cy="515.3" r="2.00" fill="#d9262a"/>
<circle cx="520.1" cy="518.3" r="2.00" fill="#d9262a"/>
<circle cx="609.7" cy="362.7" r="2.00" fill="#d9262a"/>
<circle cx="609.7" cy="416.1" r="2.00" fill="#d9262a"/>
<circle cx="573.8" cy="445.1" r="2.00" fill="#d9262a"/>
<circle cx="572.7" cy="451.2" r="2.00" fill="#d9262a"/>
<circle cx="554.8" cy="472.5" r="2.00" fill="#d9262a"/>
<circle cx="591.8" cy="486.3" r="2.00" fill="#d9262a"/>
<circle cx="610.8" cy="545.8" r="2.00" fill="#d9262a"/>
<circle cx="614.2" cy="548.8" r="2.00" fill="#d9262a"/>
<circle cx="603.0" cy="565.6" r="2.00" fill="#d9262a"/>
<circle cx="600.7" cy="568.7" r="2.00" fill="#d9262a"/>
<circle cx="598.5" cy="529.0" r="2.00" fill="#d9262a"/>
<circle cx="594.0" cy="535.1" r="2.00" fill="#d9262a"/>
<circle cx="591.8" cy="561.1" r="2.00" fill="#d9262a"/>
<circle cx="591.8" cy="574.8" r="2.00" fill="#d9262a"/>
<circle cx="562.6" cy="512.2" r="2.00" fill="#d9262a"/>
<circle cx="564.9" cy="513.7" r="2.00" fill="#d9262a"/>
<circle cx="571.6" cy="518.3" r="2.00" fill="#d9262a"/>
<circle cx="569.4" cy="524.4" r="2.00" fill="#d9262a"/>
<circle cx="575.0" cy="526.0" r="2.00" fill="#d9262a"/>
<circle cx="567.1" cy="526.0" r="2.00" fill="#d9262a"/>
<circle cx="585.0" cy="526.0" r="2.00" fill="#d9262a"/>
<circle cx="583.9" cy="532.1" r="2.00" fill="#d9262a"/>
<circle cx="580.6" cy="541.2" r="2.00" fill="#d9262a"/>
<circle cx="560.4" cy="513.0" r="2.00" fill="#d9262a"/>
<circle cx="639.7" cy="539.7" r="6.30" fill="#d9262a"/>
<text x="651.15" y="550.50" style="font-size:29.38px" textLength="34.48" lengthAdjust="spacingAndGlyphs">DE</text>
<circle cx="639.2" cy="562.1" r="6.20" fill="#000"/>
<text x="651.21" y="572.00" style="font-size:29.96px" textLength="100.17" lengthAdjust="spacingAndGlyphs">non-DE</text>
<text x="719.13" y="35.52" style="font-size:47.89px" textLength="27.07" lengthAdjust="spacingAndGlyphs">d</text>
<text x="857.92" y="36.60" style="font-size:29.59px">Gene Ontology: Biological Process</text>
<text x="1324.10" y="36.60" style="font-size:29.96px;font-style:italic">P</text>
<text x="1350.45" y="36.60" style="font-size:30.93px">&lt;</text>
<text x="1373.68" y="36.60" style="font-size:30.90px">1x10</text>
<text x="1440.00" y="28.20" style="font-size:17.79px">-4</text>
<rect x="1109.80" y="83.30" width="110.90" height="16.40" fill="#4159a7"/>
<line x1="1105.50" y1="91.50" x2="1109.00" y2="91.50" stroke="#000" stroke-width="1.30"/>
<text x="1088.80" y="97.10" style="font-size:27.00px" text-anchor="end">Neurotransmitter transport</text>
<rect x="1109.80" y="108.60" width="145.90" height="16.40" fill="#4159a7"/>
<line x1="1105.50" y1="116.80" x2="1109.00" y2="116.80" stroke="#000" stroke-width="1.30"/>
<text x="1088.80" y="123.80" style="font-size:27.00px" text-anchor="end">Synaptic signaling</text>
<rect x="1109.80" y="133.80" width="147.90" height="16.70" fill="#4159a7"/>
<line x1="1105.50" y1="142.15" x2="1109.00" y2="142.15" stroke="#000" stroke-width="1.30"/>
<text x="1088.80" y="150.50" style="font-size:27.00px" text-anchor="end">Trans-synaptic signaling</text>
<rect x="1109.80" y="159.10" width="149.50" height="16.90" fill="#4159a7"/>
<line x1="1105.50" y1="167.55" x2="1109.00" y2="167.55" stroke="#000" stroke-width="1.30"/>
<text x="1088.80" y="177.20" style="font-size:27.00px" text-anchor="end">Anterogr. trans-synaptic signaling</text>
<rect x="1109.80" y="184.60" width="149.50" height="16.70" fill="#4159a7"/>
<line x1="1105.50" y1="192.95" x2="1109.00" y2="192.95" stroke="#000" stroke-width="1.30"/>
<text x="1088.80" y="203.90" style="font-size:27.00px" text-anchor="end">Chemical synaptic transmission</text>
<rect x="1109.80" y="210.20" width="150.90" height="16.60" fill="#4159a7"/>
<line x1="1105.50" y1="218.50" x2="1109.00" y2="218.50" stroke="#000" stroke-width="1.30"/>
<text x="1088.80" y="230.60" style="font-size:27.00px" text-anchor="end">Signaling</text>
<rect x="1109.80" y="235.20" width="161.70" height="16.60" fill="#4159a7"/>
<line x1="1105.50" y1="243.50" x2="1109.00" y2="243.50" stroke="#000" stroke-width="1.30"/>
<text x="1088.80" y="257.30" style="font-size:27.00px" text-anchor="end">Cell communication</text>
<rect x="1109.80" y="260.10" width="191.20" height="17.30" fill="#4159a7"/>
<line x1="1105.50" y1="268.75" x2="1109.00" y2="268.75" stroke="#000" stroke-width="1.30"/>
<text x="1088.80" y="283.60" style="font-size:27.00px" text-anchor="end">Cell-cell signaling</text>
<rect x="1109.80" y="288.50" width="123.20" height="16.90" fill="#4159a7"/>
<line x1="1105.50" y1="296.95" x2="1109.00" y2="296.95" stroke="#000" stroke-width="1.30"/>
<text x="1088.80" y="311.50" style="font-size:27.00px" text-anchor="end">Behaviour</text>
<rect x="1109.80" y="316.80" width="129.80" height="16.90" fill="#4159a7"/>
<line x1="1105.50" y1="325.25" x2="1109.00" y2="325.25" stroke="#000" stroke-width="1.30"/>
<text x="1088.80" y="338.20" style="font-size:27.00px" text-anchor="end">Associative learning</text>
<rect x="1109.80" y="343.90" width="109.00" height="18.90" fill="#4159a7"/>
<line x1="1105.50" y1="353.35" x2="1109.00" y2="353.35" stroke="#000" stroke-width="1.30"/>
<text x="1088.80" y="364.80" style="font-size:27.00px" text-anchor="end">Membrane lipid metabol. proc.</text>
<rect x="1109.80" y="372.20" width="112.60" height="18.90" fill="#4159a7"/>
<line x1="1105.50" y1="381.65" x2="1109.00" y2="381.65" stroke="#000" stroke-width="1.30"/>
<text x="1088.80" y="391.50" style="font-size:27.00px" text-anchor="end">Glycosphingolipid biosynth. proc.</text>
<rect x="1109.80" y="400.50" width="119.20" height="18.90" fill="#4159a7"/>
<line x1="1105.50" y1="409.95" x2="1109.00" y2="409.95" stroke="#000" stroke-width="1.30"/>
<text x="1088.80" y="419.00" style="font-size:27.00px" text-anchor="end">Sphingolipid metabol. proc.</text>
<rect x="1109.80" y="428.80" width="126.20" height="18.90" fill="#4159a7"/>
<line x1="1105.50" y1="438.25" x2="1109.00" y2="438.25" stroke="#000" stroke-width="1.30"/>
<text x="1088.80" y="445.80" style="font-size:27.00px" text-anchor="end">Glycosphingolipid metabol. proc.</text>
<line x1="1109.40" y1="75.30" x2="1109.40" y2="462.00" stroke="#000" stroke-width="1.60"/>
<line x1="1108.30" y1="456.90" x2="1320.60" y2="456.90" stroke="#000" stroke-width="1.60"/>
<line x1="1109.40" y1="457.10" x2="1109.40" y2="462.00" stroke="#000" stroke-width="1.50"/>
<line x1="1162.40" y1="457.10" x2="1162.40" y2="462.00" stroke="#000" stroke-width="1.50"/>
<line x1="1215.10" y1="457.10" x2="1215.10" y2="462.00" stroke="#000" stroke-width="1.50"/>
<line x1="1267.60" y1="457.10" x2="1267.60" y2="462.00" stroke="#000" stroke-width="1.50"/>
<line x1="1320.60" y1="457.10" x2="1320.60" y2="462.00" stroke="#000" stroke-width="1.50"/>
<text x="1102.85" y="493.01" style="font-size:29.40px">0</text>
<text x="1153.67" y="493.30" style="font-size:29.82px">2</text>
<text x="1203.88" y="493.30" style="font-size:30.25px">4</text>
<text x="1254.73" y="493.01" style="font-size:29.40px">6</text>
<text x="1306.04" y="493.01" style="font-size:29.40px">8</text>
<text x="1111.69" y="524.70" style="font-size:29.00px">-log 10 <tspan style="font-style:italic">P</tspan>-value</text>
<text x="1326.67" y="96.80" style="font-size:29.56px">Synapse &amp;</text>
<text x="1327.19" y="126.50" style="font-size:29.63px">signaling</text>
<text x="1326.36" y="305.70" style="font-size:29.62px">Learning &amp;</text>
<text x="1326.88" y="335.30" style="font-size:29.59px">behaviour</text>
<text x="1326.87" y="391.80" style="font-size:29.59px">Sphingolipid</text>
<text x="1326.79" y="421.60" style="font-size:29.74px">metabolism</text>
<text x="1327.34" y="576.00" style="font-size:29.30px">Transcription</text>
<rect x="1110.60" y="563.20" width="111.50" height="19.70" fill="#e0382b"/>
<line x1="1105.50" y1="572.90" x2="1110.00" y2="572.90" stroke="#000" stroke-width="1.30"/>
<line x1="1110.30" y1="543.70" x2="1110.30" y2="601.50" stroke="#000" stroke-width="1.60"/>
<line x1="1109.20" y1="596.40" x2="1320.60" y2="596.40" stroke="#000" stroke-width="1.60"/>
<line x1="1110.30" y1="596.40" x2="1110.30" y2="601.50" stroke="#000" stroke-width="1.50"/>
<line x1="1162.70" y1="596.40" x2="1162.70" y2="601.50" stroke="#000" stroke-width="1.50"/>
<line x1="1215.10" y1="596.40" x2="1215.10" y2="601.50" stroke="#000" stroke-width="1.50"/>
<line x1="1267.60" y1="596.40" x2="1267.60" y2="601.50" stroke="#000" stroke-width="1.50"/>
<line x1="1320.60" y1="596.40" x2="1320.60" y2="601.50" stroke="#000" stroke-width="1.50"/>
<text x="1105.22" y="635.50" style="font-size:30.25px">0</text>
<text x="1155.54" y="635.80" style="font-size:30.68px">2</text>
<text x="1206.04" y="635.80" style="font-size:31.13px">4</text>
<text x="1257.14" y="635.50" style="font-size:30.25px">6</text>
<text x="1308.16" y="635.50" style="font-size:30.25px">8</text>
<text x="1113.67" y="667.40" style="font-size:29.50px">-log 10 <tspan style="font-style:italic">P</tspan>-value</text>
<text x="1088.80" y="569.40" style="font-size:27.00px" text-anchor="end">Neg. reg. of RNAP2</text>
<text x="1088.80" y="594.60" style="font-size:27.00px" text-anchor="end">transcri. resp. to stress</text>
<text x="7.89" y="730.42" style="font-size:48.04px" textLength="27.57" lengthAdjust="spacingAndGlyphs">e</text>
<text x="410.58" y="730.90" style="font-size:48.86px" textLength="15.10" lengthAdjust="spacingAndGlyphs">f</text>
<text x="769.38" y="740.19" style="font-size:48.72px" textLength="27.68" lengthAdjust="spacingAndGlyphs">g</text>
<line x1="241.40" y1="759.00" x2="241.40" y2="981.00" stroke="#58595b" stroke-width="1.30"/>
<line x1="241.40" y1="759.50" x2="245.00" y2="759.50" stroke="#58595b" stroke-width="1.30"/>
<line x1="241.40" y1="980.50" x2="245.00" y2="980.50" stroke="#58595b" stroke-width="1.30"/>
<line x1="109.00" y1="871.80" x2="373.10" y2="871.80" stroke="#58595b" stroke-width="1.30"/>
<line x1="109.00" y1="871.80" x2="109.00" y2="875.00" stroke="#58595b" stroke-width="1.30"/>
<line x1="373.10" y1="871.80" x2="373.10" y2="875.00" stroke="#58595b" stroke-width="1.30"/>
<circle cx="210.2" cy="857.9" r="1.45" fill="#6d6e71"/>
<circle cx="224.0" cy="833.8" r="1.45" fill="#6d6e71"/>
<circle cx="217.9" cy="834.6" r="1.45" fill="#6d6e71"/>
<circle cx="227.3" cy="886.3" r="1.45" fill="#6d6e71"/>
<circle cx="229.2" cy="871.4" r="1.45" fill="#6d6e71"/>
<circle cx="222.0" cy="876.0" r="1.45" fill="#6d6e71"/>
<circle cx="213.5" cy="885.1" r="1.45" fill="#6d6e71"/>
<circle cx="209.6" cy="874.6" r="1.45" fill="#6d6e71"/>
<circle cx="224.2" cy="883.2" r="1.45" fill="#6d6e71"/>
<circle cx="215.9" cy="928.0" r="1.45" fill="#6d6e71"/>
<circle cx="219.4" cy="869.7" r="1.45" fill="#6d6e71"/>
<circle cx="220.2" cy="871.0" r="1.45" fill="#6d6e71"/>
<circle cx="216.1" cy="874.6" r="1.45" fill="#6d6e71"/>
<circle cx="234.2" cy="882.5" r="1.45" fill="#6d6e71"/>
<circle cx="220.3" cy="896.2" r="1.45" fill="#6d6e71"/>
<circle cx="234.1" cy="877.3" r="1.45" fill="#6d6e71"/>
<circle cx="214.3" cy="934.0" r="1.45" fill="#6d6e71"/>
<circle cx="208.1" cy="874.3" r="1.45" fill="#6d6e71"/>
<circle cx="224.0" cy="930.0" r="1.45" fill="#6d6e71"/>
<circle cx="211.9" cy="831.0" r="1.45" fill="#6d6e71"/>
<circle cx="224.0" cy="871.0" r="1.45" fill="#6d6e71"/>
<circle cx="216.1" cy="891.7" r="1.45" fill="#6d6e71"/>
<circle cx="220.7" cy="888.1" r="1.45" fill="#6d6e71"/>
<circle cx="215.8" cy="909.1" r="1.45" fill="#6d6e71"/>
<circle cx="230.3" cy="882.7" r="1.45" fill="#6d6e71"/>
<circle cx="215.6" cy="897.4" r="1.45" fill="#6d6e71"/>
<circle cx="222.6" cy="860.2" r="1.45" fill="#6d6e71"/>
<circle cx="215.5" cy="904.0" r="1.45" fill="#6d6e71"/>
<circle cx="218.3" cy="875.1" r="1.45" fill="#6d6e71"/>
<circle cx="220.6" cy="881.3" r="1.45" fill="#6d6e71"/>
<circle cx="219.0" cy="841.5" r="1.45" fill="#6d6e71"/>
<circle cx="232.1" cy="886.2" r="1.45" fill="#6d6e71"/>
<circle cx="212.4" cy="902.6" r="1.45" fill="#6d6e71"/>
<circle cx="221.3" cy="882.4" r="1.45" fill="#6d6e71"/>
<circle cx="226.9" cy="929.5" r="1.45" fill="#6d6e71"/>
<circle cx="223.2" cy="915.3" r="1.45" fill="#6d6e71"/>
<circle cx="235.2" cy="860.6" r="1.45" fill="#6d6e71"/>
<circle cx="215.1" cy="898.3" r="1.45" fill="#6d6e71"/>
<circle cx="206.2" cy="876.4" r="1.45" fill="#6d6e71"/>
<circle cx="228.7" cy="903.9" r="1.45" fill="#6d6e71"/>
<circle cx="223.3" cy="842.2" r="1.45" fill="#6d6e71"/>
<circle cx="236.6" cy="893.6" r="1.45" fill="#6d6e71"/>
<circle cx="224.8" cy="892.4" r="1.45" fill="#6d6e71"/>
<circle cx="206.1" cy="851.9" r="1.45" fill="#6d6e71"/>
<circle cx="209.9" cy="922.3" r="1.45" fill="#6d6e71"/>
<circle cx="212.8" cy="876.9" r="1.45" fill="#6d6e71"/>
<circle cx="217.1" cy="894.0" r="1.45" fill="#6d6e71"/>
<circle cx="222.8" cy="887.6" r="1.45" fill="#6d6e71"/>
<circle cx="209.5" cy="816.1" r="1.45" fill="#6d6e71"/>
<circle cx="220.2" cy="887.6" r="1.45" fill="#6d6e71"/>
<circle cx="228.2" cy="879.8" r="1.45" fill="#6d6e71"/>
<circle cx="214.4" cy="890.6" r="1.45" fill="#6d6e71"/>
<circle cx="207.3" cy="860.1" r="1.45" fill="#6d6e71"/>
<circle cx="211.5" cy="888.0" r="1.45" fill="#6d6e71"/>
<circle cx="234.7" cy="898.0" r="1.45" fill="#6d6e71"/>
<circle cx="227.6" cy="887.0" r="1.45" fill="#6d6e71"/>
<circle cx="221.1" cy="872.6" r="1.45" fill="#6d6e71"/>
<circle cx="216.9" cy="831.0" r="1.45" fill="#6d6e71"/>
<circle cx="210.0" cy="855.0" r="1.45" fill="#6d6e71"/>
<circle cx="225.3" cy="895.9" r="1.45" fill="#6d6e71"/>
<circle cx="227.6" cy="914.7" r="1.45" fill="#6d6e71"/>
<circle cx="216.7" cy="904.2" r="1.45" fill="#6d6e71"/>
<circle cx="233.7" cy="881.8" r="1.45" fill="#6d6e71"/>
<circle cx="227.2" cy="878.5" r="1.45" fill="#6d6e71"/>
<circle cx="206.9" cy="884.5" r="1.45" fill="#6d6e71"/>
<circle cx="212.8" cy="884.3" r="1.45" fill="#6d6e71"/>
<circle cx="215.5" cy="888.7" r="1.45" fill="#6d6e71"/>
<circle cx="203.0" cy="925.8" r="1.45" fill="#6d6e71"/>
<circle cx="229.2" cy="874.6" r="1.45" fill="#6d6e71"/>
<circle cx="212.2" cy="882.1" r="1.45" fill="#6d6e71"/>
<circle cx="224.1" cy="890.9" r="1.45" fill="#6d6e71"/>
<circle cx="222.0" cy="840.6" r="1.45" fill="#6d6e71"/>
<circle cx="210.5" cy="910.2" r="1.45" fill="#6d6e71"/>
<circle cx="220.8" cy="850.1" r="1.45" fill="#6d6e71"/>
<circle cx="212.5" cy="851.6" r="1.45" fill="#6d6e71"/>
<circle cx="211.3" cy="906.8" r="1.45" fill="#6d6e71"/>
<circle cx="217.3" cy="905.8" r="1.45" fill="#6d6e71"/>
<circle cx="220.4" cy="850.1" r="1.45" fill="#6d6e71"/>
<circle cx="214.1" cy="930.8" r="1.45" fill="#6d6e71"/>
<circle cx="213.2" cy="859.6" r="1.45" fill="#6d6e71"/>
<circle cx="228.4" cy="883.9" r="1.45" fill="#6d6e71"/>
<circle cx="219.0" cy="913.3" r="1.45" fill="#6d6e71"/>
<circle cx="205.6" cy="890.9" r="1.45" fill="#6d6e71"/>
<circle cx="210.9" cy="852.0" r="1.45" fill="#6d6e71"/>
<circle cx="212.8" cy="906.7" r="1.45" fill="#6d6e71"/>
<circle cx="217.9" cy="842.7" r="1.45" fill="#6d6e71"/>
<circle cx="210.5" cy="914.7" r="1.45" fill="#6d6e71"/>
<circle cx="226.8" cy="858.6" r="1.45" fill="#6d6e71"/>
<circle cx="237.6" cy="874.1" r="1.45" fill="#6d6e71"/>
<circle cx="209.9" cy="879.1" r="1.45" fill="#6d6e71"/>
<circle cx="226.2" cy="916.6" r="1.45" fill="#6d6e71"/>
<circle cx="226.9" cy="872.8" r="1.45" fill="#6d6e71"/>
<circle cx="214.7" cy="850.7" r="1.45" fill="#6d6e71"/>
<circle cx="218.4" cy="869.2" r="1.45" fill="#6d6e71"/>
<circle cx="220.9" cy="854.8" r="1.45" fill="#6d6e71"/>
<circle cx="215.0" cy="863.1" r="1.45" fill="#6d6e71"/>
<circle cx="209.8" cy="856.6" r="1.45" fill="#6d6e71"/>
<circle cx="211.2" cy="856.6" r="1.45" fill="#6d6e71"/>
<circle cx="223.4" cy="884.1" r="1.45" fill="#6d6e71"/>
<circle cx="208.9" cy="893.0" r="1.45" fill="#6d6e71"/>
<circle cx="221.2" cy="913.4" r="1.45" fill="#6d6e71"/>
<circle cx="217.5" cy="877.5" r="1.45" fill="#6d6e71"/>
<circle cx="213.7" cy="884.7" r="1.45" fill="#6d6e71"/>
<circle cx="222.8" cy="885.8" r="1.45" fill="#6d6e71"/>
<circle cx="217.1" cy="894.1" r="1.45" fill="#6d6e71"/>
<circle cx="219.7" cy="887.3" r="1.45" fill="#6d6e71"/>
<circle cx="211.8" cy="886.4" r="1.45" fill="#6d6e71"/>
<circle cx="211.4" cy="863.9" r="1.45" fill="#6d6e71"/>
<circle cx="220.2" cy="927.2" r="1.45" fill="#6d6e71"/>
<circle cx="226.6" cy="882.1" r="1.45" fill="#6d6e71"/>
<circle cx="217.6" cy="903.2" r="1.45" fill="#6d6e71"/>
<circle cx="229.6" cy="908.2" r="1.45" fill="#6d6e71"/>
<circle cx="217.6" cy="886.1" r="1.45" fill="#6d6e71"/>
<circle cx="216.5" cy="875.9" r="1.45" fill="#6d6e71"/>
<circle cx="212.4" cy="876.6" r="1.45" fill="#6d6e71"/>
<circle cx="202.5" cy="856.2" r="1.45" fill="#6d6e71"/>
<circle cx="222.3" cy="862.1" r="1.45" fill="#6d6e71"/>
<circle cx="223.1" cy="854.2" r="1.45" fill="#6d6e71"/>
<circle cx="216.2" cy="890.5" r="1.45" fill="#6d6e71"/>
<circle cx="211.0" cy="866.7" r="1.45" fill="#6d6e71"/>
<circle cx="238.0" cy="867.4" r="1.45" fill="#6d6e71"/>
<circle cx="213.6" cy="869.7" r="1.45" fill="#6d6e71"/>
<circle cx="219.3" cy="881.4" r="1.45" fill="#6d6e71"/>
<circle cx="226.5" cy="899.0" r="1.45" fill="#6d6e71"/>
<circle cx="215.9" cy="874.3" r="1.45" fill="#6d6e71"/>
<circle cx="208.1" cy="849.9" r="1.45" fill="#6d6e71"/>
<circle cx="213.3" cy="897.7" r="1.45" fill="#6d6e71"/>
<circle cx="219.9" cy="899.2" r="1.45" fill="#6d6e71"/>
<circle cx="226.2" cy="878.5" r="1.45" fill="#6d6e71"/>
<circle cx="235.1" cy="870.8" r="1.45" fill="#6d6e71"/>
<circle cx="214.2" cy="872.8" r="1.45" fill="#6d6e71"/>
<circle cx="227.7" cy="879.1" r="1.45" fill="#6d6e71"/>
<circle cx="213.3" cy="891.3" r="1.45" fill="#6d6e71"/>
<circle cx="227.7" cy="879.6" r="1.45" fill="#6d6e71"/>
<circle cx="217.1" cy="905.3" r="1.45" fill="#6d6e71"/>
<circle cx="226.5" cy="902.3" r="1.45" fill="#6d6e71"/>
<circle cx="213.1" cy="888.1" r="1.45" fill="#6d6e71"/>
<circle cx="221.8" cy="843.5" r="1.45" fill="#6d6e71"/>
<circle cx="228.2" cy="884.1" r="1.45" fill="#6d6e71"/>
<circle cx="216.4" cy="930.6" r="1.45" fill="#6d6e71"/>
<circle cx="220.1" cy="866.5" r="1.45" fill="#6d6e71"/>
<circle cx="218.5" cy="894.1" r="1.45" fill="#6d6e71"/>
<circle cx="225.2" cy="880.8" r="1.45" fill="#6d6e71"/>
<circle cx="212.4" cy="867.0" r="1.45" fill="#6d6e71"/>
<circle cx="212.7" cy="859.4" r="1.45" fill="#6d6e71"/>
<circle cx="218.8" cy="871.5" r="1.45" fill="#6d6e71"/>
<circle cx="219.4" cy="864.3" r="1.45" fill="#6d6e71"/>
<circle cx="212.4" cy="878.0" r="1.45" fill="#6d6e71"/>
<circle cx="216.3" cy="906.7" r="1.45" fill="#6d6e71"/>
<circle cx="212.1" cy="886.4" r="1.45" fill="#6d6e71"/>
<circle cx="218.7" cy="853.9" r="1.45" fill="#6d6e71"/>
<circle cx="224.6" cy="885.6" r="1.45" fill="#6d6e71"/>
<circle cx="202.9" cy="894.9" r="1.45" fill="#6d6e71"/>
<circle cx="226.2" cy="864.9" r="1.45" fill="#6d6e71"/>
<circle cx="232.0" cy="885.3" r="1.45" fill="#6d6e71"/>
<circle cx="210.2" cy="894.1" r="1.45" fill="#6d6e71"/>
<circle cx="216.2" cy="853.3" r="1.45" fill="#6d6e71"/>
<circle cx="202.6" cy="887.3" r="1.45" fill="#6d6e71"/>
<circle cx="213.4" cy="895.8" r="1.45" fill="#6d6e71"/>
<circle cx="222.0" cy="870.9" r="1.45" fill="#6d6e71"/>
<circle cx="214.9" cy="919.9" r="1.45" fill="#6d6e71"/>
<circle cx="232.1" cy="898.1" r="1.45" fill="#6d6e71"/>
<circle cx="216.3" cy="861.0" r="1.45" fill="#6d6e71"/>
<circle cx="216.0" cy="917.6" r="1.45" fill="#6d6e71"/>
<circle cx="222.5" cy="875.8" r="1.45" fill="#6d6e71"/>
<circle cx="209.6" cy="885.6" r="1.45" fill="#6d6e71"/>
<circle cx="212.3" cy="882.3" r="1.45" fill="#6d6e71"/>
<circle cx="224.7" cy="904.9" r="1.45" fill="#6d6e71"/>
<circle cx="220.1" cy="874.7" r="1.45" fill="#6d6e71"/>
<circle cx="220.7" cy="920.6" r="1.45" fill="#6d6e71"/>
<circle cx="221.9" cy="852.1" r="1.45" fill="#6d6e71"/>
<circle cx="230.9" cy="887.4" r="1.45" fill="#6d6e71"/>
<circle cx="245.6" cy="872.0" r="1.45" fill="#6d6e71"/>
<circle cx="218.3" cy="875.7" r="1.45" fill="#6d6e71"/>
<circle cx="221.9" cy="869.6" r="1.45" fill="#6d6e71"/>
<circle cx="207.7" cy="840.9" r="1.45" fill="#6d6e71"/>
<circle cx="218.1" cy="871.0" r="1.45" fill="#6d6e71"/>
<circle cx="214.6" cy="927.3" r="1.45" fill="#6d6e71"/>
<circle cx="225.1" cy="905.3" r="1.45" fill="#6d6e71"/>
<circle cx="215.2" cy="888.4" r="1.45" fill="#6d6e71"/>
<circle cx="217.4" cy="877.6" r="1.45" fill="#6d6e71"/>
<circle cx="224.7" cy="894.9" r="1.45" fill="#6d6e71"/>
<circle cx="221.3" cy="885.2" r="1.45" fill="#6d6e71"/>
<circle cx="208.0" cy="866.2" r="1.45" fill="#6d6e71"/>
<circle cx="221.9" cy="874.2" r="1.45" fill="#6d6e71"/>
<circle cx="213.1" cy="889.6" r="1.45" fill="#6d6e71"/>
<circle cx="212.0" cy="867.7" r="1.45" fill="#6d6e71"/>
<circle cx="225.7" cy="874.3" r="1.45" fill="#6d6e71"/>
<circle cx="229.9" cy="893.1" r="1.45" fill="#6d6e71"/>
<circle cx="225.2" cy="906.1" r="1.45" fill="#6d6e71"/>
<circle cx="202.5" cy="880.3" r="1.45" fill="#6d6e71"/>
<circle cx="209.2" cy="872.1" r="1.45" fill="#6d6e71"/>
<circle cx="218.2" cy="908.5" r="1.45" fill="#6d6e71"/>
<circle cx="218.7" cy="917.0" r="1.45" fill="#6d6e71"/>
<circle cx="215.0" cy="880.8" r="1.45" fill="#6d6e71"/>
<circle cx="219.7" cy="902.1" r="1.45" fill="#6d6e71"/>
<circle cx="218.6" cy="868.8" r="1.45" fill="#6d6e71"/>
<circle cx="216.5" cy="852.2" r="1.45" fill="#6d6e71"/>
<circle cx="228.6" cy="897.9" r="1.45" fill="#6d6e71"/>
<circle cx="222.3" cy="887.9" r="1.45" fill="#6d6e71"/>
<circle cx="214.4" cy="873.4" r="1.45" fill="#6d6e71"/>
<circle cx="225.1" cy="865.2" r="1.45" fill="#6d6e71"/>
<circle cx="213.1" cy="915.6" r="1.45" fill="#6d6e71"/>
<circle cx="230.8" cy="888.2" r="1.45" fill="#6d6e71"/>
<circle cx="223.0" cy="886.0" r="1.45" fill="#6d6e71"/>
<circle cx="229.8" cy="872.6" r="1.45" fill="#6d6e71"/>
<circle cx="219.6" cy="892.3" r="1.45" fill="#6d6e71"/>
<circle cx="229.9" cy="876.7" r="1.45" fill="#6d6e71"/>
<circle cx="220.8" cy="871.6" r="1.45" fill="#6d6e71"/>
<circle cx="214.0" cy="868.1" r="1.45" fill="#6d6e71"/>
<circle cx="219.6" cy="900.8" r="1.45" fill="#6d6e71"/>
<circle cx="213.8" cy="869.3" r="1.45" fill="#6d6e71"/>
<circle cx="215.9" cy="889.5" r="1.45" fill="#6d6e71"/>
<circle cx="224.3" cy="855.5" r="1.45" fill="#6d6e71"/>
<circle cx="221.7" cy="860.9" r="1.45" fill="#6d6e71"/>
<circle cx="224.4" cy="861.6" r="1.45" fill="#6d6e71"/>
<circle cx="210.8" cy="866.9" r="1.45" fill="#6d6e71"/>
<circle cx="218.5" cy="861.0" r="1.45" fill="#6d6e71"/>
<circle cx="220.6" cy="885.1" r="1.45" fill="#6d6e71"/>
<circle cx="219.6" cy="887.7" r="1.45" fill="#6d6e71"/>
<circle cx="225.6" cy="866.6" r="1.45" fill="#6d6e71"/>
<circle cx="219.0" cy="881.4" r="1.45" fill="#6d6e71"/>
<circle cx="203.5" cy="890.2" r="1.45" fill="#6d6e71"/>
<circle cx="213.2" cy="866.8" r="1.45" fill="#6d6e71"/>
<circle cx="215.6" cy="884.1" r="1.45" fill="#6d6e71"/>
<circle cx="221.5" cy="892.2" r="1.45" fill="#6d6e71"/>
<circle cx="213.8" cy="896.7" r="1.45" fill="#6d6e71"/>
<circle cx="222.1" cy="873.8" r="1.45" fill="#6d6e71"/>
<circle cx="218.8" cy="898.9" r="1.45" fill="#6d6e71"/>
<circle cx="222.3" cy="896.7" r="1.45" fill="#6d6e71"/>
<circle cx="264.7" cy="876.3" r="1.45" fill="#6d6e71"/>
<circle cx="279.6" cy="865.3" r="1.45" fill="#6d6e71"/>
<circle cx="252.8" cy="885.7" r="1.45" fill="#6d6e71"/>
<circle cx="260.0" cy="835.9" r="1.45" fill="#6d6e71"/>
<circle cx="247.4" cy="864.8" r="1.45" fill="#6d6e71"/>
<circle cx="271.7" cy="874.0" r="1.45" fill="#6d6e71"/>
<circle cx="261.3" cy="881.2" r="1.45" fill="#6d6e71"/>
<circle cx="263.5" cy="848.5" r="1.45" fill="#6d6e71"/>
<circle cx="264.5" cy="861.4" r="1.45" fill="#6d6e71"/>
<circle cx="264.3" cy="864.4" r="1.45" fill="#6d6e71"/>
<circle cx="248.7" cy="883.1" r="1.45" fill="#6d6e71"/>
<circle cx="260.0" cy="868.4" r="1.45" fill="#6d6e71"/>
<circle cx="258.4" cy="860.6" r="1.45" fill="#6d6e71"/>
<circle cx="262.8" cy="832.7" r="1.45" fill="#6d6e71"/>
<circle cx="266.7" cy="868.2" r="1.45" fill="#6d6e71"/>
<circle cx="256.2" cy="824.4" r="1.45" fill="#6d6e71"/>
<circle cx="259.5" cy="844.5" r="1.45" fill="#6d6e71"/>
<circle cx="264.8" cy="857.7" r="1.45" fill="#6d6e71"/>
<circle cx="275.3" cy="868.4" r="1.45" fill="#6d6e71"/>
<circle cx="262.2" cy="860.6" r="1.45" fill="#6d6e71"/>
<circle cx="243.8" cy="843.5" r="1.45" fill="#6d6e71"/>
<circle cx="257.5" cy="856.2" r="1.45" fill="#6d6e71"/>
<circle cx="266.2" cy="861.4" r="1.45" fill="#6d6e71"/>
<circle cx="270.5" cy="847.0" r="1.45" fill="#6d6e71"/>
<circle cx="266.1" cy="855.9" r="1.45" fill="#6d6e71"/>
<circle cx="264.1" cy="863.1" r="1.45" fill="#6d6e71"/>
<circle cx="262.0" cy="861.4" r="1.45" fill="#6d6e71"/>
<circle cx="263.8" cy="874.4" r="1.45" fill="#6d6e71"/>
<circle cx="263.2" cy="862.9" r="1.45" fill="#6d6e71"/>
<circle cx="282.2" cy="868.0" r="1.45" fill="#6d6e71"/>
<circle cx="267.6" cy="875.2" r="1.45" fill="#6d6e71"/>
<circle cx="257.0" cy="869.3" r="1.45" fill="#6d6e71"/>
<circle cx="269.2" cy="865.0" r="1.45" fill="#6d6e71"/>
<circle cx="270.8" cy="870.5" r="1.45" fill="#6d6e71"/>
<circle cx="272.3" cy="847.7" r="1.45" fill="#6d6e71"/>
<circle cx="267.0" cy="849.3" r="1.45" fill="#6d6e71"/>
<circle cx="272.7" cy="860.2" r="1.45" fill="#6d6e71"/>
<circle cx="254.9" cy="859.8" r="1.45" fill="#6d6e71"/>
<circle cx="257.0" cy="873.7" r="1.45" fill="#6d6e71"/>
<circle cx="261.6" cy="823.1" r="1.45" fill="#6d6e71"/>
<circle cx="261.3" cy="874.3" r="1.45" fill="#6d6e71"/>
<circle cx="266.3" cy="847.9" r="1.45" fill="#6d6e71"/>
<circle cx="268.5" cy="867.2" r="1.45" fill="#6d6e71"/>
<circle cx="274.3" cy="872.4" r="1.45" fill="#6d6e71"/>
<circle cx="266.6" cy="845.4" r="1.45" fill="#6d6e71"/>
<circle cx="266.0" cy="862.8" r="1.45" fill="#6d6e71"/>
<circle cx="264.1" cy="864.7" r="1.45" fill="#6d6e71"/>
<circle cx="255.7" cy="867.1" r="1.45" fill="#6d6e71"/>
<circle cx="264.1" cy="863.7" r="1.45" fill="#6d6e71"/>
<circle cx="263.3" cy="853.2" r="1.45" fill="#6d6e71"/>
<circle cx="265.8" cy="870.5" r="1.45" fill="#6d6e71"/>
<circle cx="261.8" cy="863.2" r="1.45" fill="#6d6e71"/>
<circle cx="258.7" cy="864.6" r="1.45" fill="#6d6e71"/>
<circle cx="264.1" cy="837.6" r="1.45" fill="#6d6e71"/>
<circle cx="272.1" cy="843.8" r="1.45" fill="#6d6e71"/>
<circle cx="264.6" cy="837.1" r="1.45" fill="#6d6e71"/>
<circle cx="251.9" cy="868.5" r="1.45" fill="#6d6e71"/>
<circle cx="254.3" cy="825.0" r="1.45" fill="#6d6e71"/>
<circle cx="262.5" cy="833.4" r="1.45" fill="#6d6e71"/>
<circle cx="262.6" cy="887.1" r="1.45" fill="#6d6e71"/>
<circle cx="261.3" cy="863.7" r="1.45" fill="#6d6e71"/>
<circle cx="267.9" cy="861.9" r="1.45" fill="#6d6e71"/>
<circle cx="263.2" cy="881.9" r="1.45" fill="#6d6e71"/>
<circle cx="263.4" cy="863.7" r="1.45" fill="#6d6e71"/>
<circle cx="264.8" cy="837.7" r="1.45" fill="#6d6e71"/>
<circle cx="266.2" cy="858.9" r="1.45" fill="#6d6e71"/>
<circle cx="268.5" cy="869.0" r="1.45" fill="#6d6e71"/>
<circle cx="274.9" cy="827.9" r="1.45" fill="#6d6e71"/>
<circle cx="260.1" cy="850.5" r="1.45" fill="#6d6e71"/>
<circle cx="258.0" cy="864.6" r="1.45" fill="#6d6e71"/>
<circle cx="263.5" cy="860.2" r="1.45" fill="#6d6e71"/>
<circle cx="252.7" cy="842.8" r="1.45" fill="#6d6e71"/>
<circle cx="263.5" cy="850.9" r="1.45" fill="#6d6e71"/>
<circle cx="259.8" cy="856.1" r="1.45" fill="#6d6e71"/>
<circle cx="262.1" cy="841.2" r="1.45" fill="#6d6e71"/>
<circle cx="275.5" cy="847.3" r="1.45" fill="#6d6e71"/>
<circle cx="268.5" cy="867.4" r="1.45" fill="#6d6e71"/>
<circle cx="270.7" cy="848.9" r="1.45" fill="#6d6e71"/>
<circle cx="257.1" cy="864.9" r="1.45" fill="#6d6e71"/>
<circle cx="265.8" cy="820.7" r="1.45" fill="#6d6e71"/>
<circle cx="245.9" cy="849.4" r="1.45" fill="#6d6e71"/>
<circle cx="261.3" cy="853.8" r="1.45" fill="#6d6e71"/>
<circle cx="266.9" cy="842.7" r="1.45" fill="#6d6e71"/>
<circle cx="282.3" cy="872.3" r="1.45" fill="#6d6e71"/>
<circle cx="273.0" cy="862.3" r="1.45" fill="#6d6e71"/>
<circle cx="249.6" cy="861.7" r="1.45" fill="#6d6e71"/>
<circle cx="260.2" cy="865.0" r="1.45" fill="#6d6e71"/>
<circle cx="263.2" cy="868.6" r="1.45" fill="#6d6e71"/>
<circle cx="257.9" cy="852.3" r="1.45" fill="#6d6e71"/>
<circle cx="264.0" cy="846.1" r="1.45" fill="#6d6e71"/>
<circle cx="260.8" cy="867.7" r="1.45" fill="#6d6e71"/>
<circle cx="277.3" cy="854.6" r="1.45" fill="#6d6e71"/>
<circle cx="269.7" cy="840.0" r="1.45" fill="#6d6e71"/>
<circle cx="260.8" cy="863.2" r="1.45" fill="#6d6e71"/>
<circle cx="268.0" cy="841.8" r="1.45" fill="#6d6e71"/>
<circle cx="268.1" cy="860.3" r="1.45" fill="#6d6e71"/>
<circle cx="273.1" cy="872.8" r="1.45" fill="#6d6e71"/>
<circle cx="267.8" cy="851.7" r="1.45" fill="#6d6e71"/>
<circle cx="265.8" cy="844.5" r="1.45" fill="#6d6e71"/>
<circle cx="258.3" cy="828.9" r="1.45" fill="#6d6e71"/>
<circle cx="255.0" cy="837.9" r="1.45" fill="#6d6e71"/>
<circle cx="263.3" cy="859.6" r="1.45" fill="#6d6e71"/>
<circle cx="254.7" cy="856.4" r="1.45" fill="#6d6e71"/>
<circle cx="266.8" cy="872.6" r="1.45" fill="#6d6e71"/>
<circle cx="263.3" cy="861.4" r="1.45" fill="#6d6e71"/>
<circle cx="261.4" cy="872.5" r="1.45" fill="#6d6e71"/>
<circle cx="253.2" cy="861.7" r="1.45" fill="#6d6e71"/>
<circle cx="248.0" cy="884.9" r="1.45" fill="#6d6e71"/>
<circle cx="270.4" cy="824.7" r="1.45" fill="#6d6e71"/>
<circle cx="260.3" cy="835.7" r="1.45" fill="#6d6e71"/>
<circle cx="251.8" cy="851.4" r="1.45" fill="#6d6e71"/>
<circle cx="257.9" cy="874.3" r="1.45" fill="#6d6e71"/>
<circle cx="260.4" cy="840.4" r="1.45" fill="#6d6e71"/>
<circle cx="263.4" cy="864.3" r="1.45" fill="#6d6e71"/>
<circle cx="269.6" cy="865.8" r="1.45" fill="#6d6e71"/>
<circle cx="253.7" cy="844.9" r="1.45" fill="#6d6e71"/>
<circle cx="262.7" cy="844.6" r="1.45" fill="#6d6e71"/>
<circle cx="269.1" cy="852.5" r="1.45" fill="#6d6e71"/>
<circle cx="263.4" cy="852.0" r="1.45" fill="#6d6e71"/>
<circle cx="264.2" cy="834.2" r="1.45" fill="#6d6e71"/>
<circle cx="278.4" cy="848.9" r="1.45" fill="#6d6e71"/>
<circle cx="258.9" cy="829.8" r="1.45" fill="#6d6e71"/>
<circle cx="263.3" cy="836.1" r="1.45" fill="#6d6e71"/>
<circle cx="266.2" cy="876.6" r="1.45" fill="#6d6e71"/>
<circle cx="268.1" cy="850.8" r="1.45" fill="#6d6e71"/>
<circle cx="272.7" cy="854.8" r="1.45" fill="#6d6e71"/>
<circle cx="263.6" cy="858.8" r="1.45" fill="#6d6e71"/>
<circle cx="260.6" cy="864.4" r="1.45" fill="#6d6e71"/>
<circle cx="255.4" cy="829.9" r="1.45" fill="#6d6e71"/>
<circle cx="272.2" cy="846.2" r="1.45" fill="#6d6e71"/>
<circle cx="261.5" cy="863.0" r="1.45" fill="#6d6e71"/>
<circle cx="260.7" cy="839.2" r="1.45" fill="#6d6e71"/>
<circle cx="262.5" cy="842.9" r="1.45" fill="#6d6e71"/>
<circle cx="267.7" cy="850.8" r="1.45" fill="#6d6e71"/>
<circle cx="262.1" cy="869.9" r="1.45" fill="#6d6e71"/>
<circle cx="253.3" cy="834.3" r="1.45" fill="#6d6e71"/>
<circle cx="268.9" cy="877.7" r="1.45" fill="#6d6e71"/>
<circle cx="264.5" cy="846.6" r="1.45" fill="#6d6e71"/>
<circle cx="272.4" cy="865.9" r="1.45" fill="#6d6e71"/>
<circle cx="270.9" cy="829.2" r="1.45" fill="#6d6e71"/>
<circle cx="263.0" cy="841.5" r="1.45" fill="#6d6e71"/>
<circle cx="256.3" cy="866.9" r="1.45" fill="#6d6e71"/>
<circle cx="268.9" cy="850.4" r="1.45" fill="#6d6e71"/>
<circle cx="262.2" cy="879.4" r="1.45" fill="#6d6e71"/>
<circle cx="268.4" cy="855.9" r="1.45" fill="#6d6e71"/>
<circle cx="267.4" cy="859.5" r="1.45" fill="#6d6e71"/>
<circle cx="255.2" cy="849.7" r="1.45" fill="#6d6e71"/>
<circle cx="265.8" cy="867.5" r="1.45" fill="#6d6e71"/>
<circle cx="255.6" cy="845.1" r="1.45" fill="#6d6e71"/>
<circle cx="259.9" cy="833.9" r="1.45" fill="#6d6e71"/>
<circle cx="271.5" cy="864.9" r="1.45" fill="#6d6e71"/>
<circle cx="272.9" cy="823.4" r="1.45" fill="#6d6e71"/>
<circle cx="258.3" cy="886.3" r="1.45" fill="#6d6e71"/>
<circle cx="254.2" cy="829.1" r="1.45" fill="#6d6e71"/>
<circle cx="265.4" cy="882.5" r="1.45" fill="#6d6e71"/>
<circle cx="268.3" cy="842.7" r="1.45" fill="#6d6e71"/>
<circle cx="267.7" cy="864.2" r="1.45" fill="#6d6e71"/>
<circle cx="265.7" cy="863.9" r="1.45" fill="#6d6e71"/>
<circle cx="269.6" cy="876.1" r="1.45" fill="#6d6e71"/>
<circle cx="273.3" cy="874.5" r="1.45" fill="#6d6e71"/>
<circle cx="262.9" cy="828.7" r="1.45" fill="#6d6e71"/>
<circle cx="267.7" cy="834.1" r="1.45" fill="#6d6e71"/>
<circle cx="279.6" cy="839.6" r="1.45" fill="#6d6e71"/>
<circle cx="251.2" cy="828.7" r="1.45" fill="#6d6e71"/>
<circle cx="266.6" cy="862.5" r="1.45" fill="#6d6e71"/>
<circle cx="268.4" cy="862.3" r="1.45" fill="#6d6e71"/>
<circle cx="258.5" cy="870.6" r="1.45" fill="#6d6e71"/>
<circle cx="259.1" cy="834.1" r="1.45" fill="#6d6e71"/>
<circle cx="270.1" cy="866.2" r="1.45" fill="#6d6e71"/>
<circle cx="257.5" cy="853.8" r="1.45" fill="#6d6e71"/>
<circle cx="271.0" cy="872.5" r="1.45" fill="#6d6e71"/>
<circle cx="256.5" cy="875.2" r="1.45" fill="#6d6e71"/>
<circle cx="246.1" cy="859.2" r="1.45" fill="#6d6e71"/>
<circle cx="266.5" cy="855.9" r="1.45" fill="#6d6e71"/>
<circle cx="264.7" cy="832.5" r="1.45" fill="#6d6e71"/>
<circle cx="263.0" cy="865.6" r="1.45" fill="#6d6e71"/>
<circle cx="257.5" cy="860.0" r="1.45" fill="#6d6e71"/>
<circle cx="262.8" cy="822.3" r="1.45" fill="#6d6e71"/>
<circle cx="259.7" cy="866.9" r="1.45" fill="#6d6e71"/>
<circle cx="253.2" cy="858.2" r="1.45" fill="#6d6e71"/>
<circle cx="266.2" cy="837.7" r="1.45" fill="#6d6e71"/>
<circle cx="262.2" cy="871.9" r="1.45" fill="#6d6e71"/>
<circle cx="268.9" cy="842.2" r="1.45" fill="#6d6e71"/>
<circle cx="271.0" cy="863.2" r="1.45" fill="#6d6e71"/>
<circle cx="264.8" cy="881.6" r="1.45" fill="#6d6e71"/>
<circle cx="269.0" cy="863.7" r="1.45" fill="#6d6e71"/>
<circle cx="270.6" cy="868.3" r="1.45" fill="#6d6e71"/>
<circle cx="272.7" cy="856.1" r="1.45" fill="#6d6e71"/>
<circle cx="251.7" cy="882.4" r="1.45" fill="#6d6e71"/>
<circle cx="269.5" cy="866.2" r="1.45" fill="#6d6e71"/>
<circle cx="264.3" cy="856.5" r="1.45" fill="#6d6e71"/>
<circle cx="264.7" cy="842.9" r="1.45" fill="#6d6e71"/>
<circle cx="269.3" cy="859.3" r="1.45" fill="#6d6e71"/>
<circle cx="257.4" cy="862.1" r="1.45" fill="#6d6e71"/>
<circle cx="261.7" cy="857.4" r="1.45" fill="#6d6e71"/>
<circle cx="267.7" cy="900.5" r="1.45" fill="#6d6e71"/>
<circle cx="256.6" cy="864.4" r="1.45" fill="#6d6e71"/>
<circle cx="268.9" cy="864.6" r="1.45" fill="#6d6e71"/>
<circle cx="274.2" cy="851.2" r="1.45" fill="#6d6e71"/>
<circle cx="261.7" cy="857.7" r="1.45" fill="#6d6e71"/>
<circle cx="254.5" cy="875.3" r="1.45" fill="#6d6e71"/>
<circle cx="255.4" cy="866.6" r="1.45" fill="#6d6e71"/>
<circle cx="272.2" cy="844.7" r="1.45" fill="#6d6e71"/>
<circle cx="262.8" cy="854.7" r="1.45" fill="#6d6e71"/>
<circle cx="275.9" cy="862.1" r="1.45" fill="#6d6e71"/>
<circle cx="251.8" cy="874.9" r="1.45" fill="#6d6e71"/>
<circle cx="271.1" cy="826.4" r="1.45" fill="#6d6e71"/>
<circle cx="245.1" cy="899.3" r="1.45" fill="#6d6e71"/>
<circle cx="264.6" cy="824.3" r="1.45" fill="#6d6e71"/>
<circle cx="271.3" cy="880.4" r="1.45" fill="#6d6e71"/>
<circle cx="247.5" cy="878.1" r="1.45" fill="#6d6e71"/>
<circle cx="268.9" cy="857.6" r="1.45" fill="#6d6e71"/>
<circle cx="259.1" cy="864.0" r="1.45" fill="#6d6e71"/>
<circle cx="258.4" cy="860.5" r="1.45" fill="#6d6e71"/>
<circle cx="262.2" cy="850.9" r="1.45" fill="#6d6e71"/>
<circle cx="267.8" cy="873.5" r="1.45" fill="#6d6e71"/>
<circle cx="270.1" cy="865.0" r="1.45" fill="#6d6e71"/>
<circle cx="275.6" cy="838.0" r="1.45" fill="#6d6e71"/>
<circle cx="264.4" cy="860.9" r="1.45" fill="#6d6e71"/>
<circle cx="272.4" cy="822.1" r="1.45" fill="#6d6e71"/>
<circle cx="207.9" cy="840.0" r="1.45" fill="#6d6e71"/>
<circle cx="188.0" cy="926.2" r="1.45" fill="#6d6e71"/>
<circle cx="226.6" cy="828.4" r="1.45" fill="#6d6e71"/>
<circle cx="185.2" cy="872.2" r="1.45" fill="#6d6e71"/>
<circle cx="189.7" cy="907.9" r="1.45" fill="#6d6e71"/>
<circle cx="195.5" cy="910.3" r="1.45" fill="#6d6e71"/>
<circle cx="183.4" cy="882.0" r="1.45" fill="#6d6e71"/>
<circle cx="228.6" cy="902.2" r="1.45" fill="#6d6e71"/>
<circle cx="180.0" cy="837.2" r="1.45" fill="#6d6e71"/>
<circle cx="210.4" cy="866.2" r="1.45" fill="#6d6e71"/>
<circle cx="195.3" cy="877.5" r="1.45" fill="#6d6e71"/>
<circle cx="207.0" cy="931.2" r="1.45" fill="#6d6e71"/>
<circle cx="188.3" cy="887.6" r="1.45" fill="#6d6e71"/>
<circle cx="189.5" cy="885.0" r="1.45" fill="#6d6e71"/>
<circle cx="215.2" cy="839.7" r="1.45" fill="#6d6e71"/>
<circle cx="201.5" cy="902.6" r="1.45" fill="#6d6e71"/>
<circle cx="175.4" cy="909.8" r="1.45" fill="#6d6e71"/>
<circle cx="198.0" cy="880.5" r="1.45" fill="#6d6e71"/>
<circle cx="208.6" cy="912.2" r="1.45" fill="#6d6e71"/>
<circle cx="178.1" cy="880.1" r="1.45" fill="#6d6e71"/>
<circle cx="177.1" cy="867.4" r="1.45" fill="#6d6e71"/>
<circle cx="194.0" cy="827.4" r="1.45" fill="#6d6e71"/>
<circle cx="191.4" cy="874.5" r="1.45" fill="#6d6e71"/>
<circle cx="211.0" cy="926.7" r="1.45" fill="#6d6e71"/>
<circle cx="195.4" cy="883.3" r="1.45" fill="#6d6e71"/>
<circle cx="214.2" cy="928.1" r="1.45" fill="#6d6e71"/>
<circle cx="227.2" cy="933.7" r="1.45" fill="#6d6e71"/>
<circle cx="191.6" cy="843.3" r="1.45" fill="#6d6e71"/>
<circle cx="226.3" cy="833.5" r="1.45" fill="#6d6e71"/>
<circle cx="199.7" cy="906.0" r="1.45" fill="#6d6e71"/>
<circle cx="204.1" cy="867.8" r="1.45" fill="#6d6e71"/>
<circle cx="225.8" cy="857.9" r="1.45" fill="#6d6e71"/>
<circle cx="205.3" cy="916.3" r="1.45" fill="#6d6e71"/>
<circle cx="182.6" cy="863.6" r="1.45" fill="#6d6e71"/>
<circle cx="202.2" cy="887.3" r="1.45" fill="#6d6e71"/>
<circle cx="186.4" cy="874.9" r="1.45" fill="#6d6e71"/>
<circle cx="178.3" cy="834.7" r="1.45" fill="#6d6e71"/>
<circle cx="193.8" cy="840.8" r="1.45" fill="#6d6e71"/>
<circle cx="228.2" cy="854.0" r="1.45" fill="#6d6e71"/>
<circle cx="190.2" cy="911.2" r="1.45" fill="#6d6e71"/>
<circle cx="215.8" cy="853.8" r="1.45" fill="#6d6e71"/>
<circle cx="220.6" cy="893.8" r="1.45" fill="#6d6e71"/>
<circle cx="196.4" cy="894.2" r="1.45" fill="#6d6e71"/>
<circle cx="188.5" cy="854.0" r="1.45" fill="#6d6e71"/>
<circle cx="223.2" cy="873.3" r="1.45" fill="#6d6e71"/>
<circle cx="224.4" cy="844.5" r="1.45" fill="#6d6e71"/>
<circle cx="182.6" cy="830.7" r="1.45" fill="#6d6e71"/>
<circle cx="215.7" cy="886.7" r="1.45" fill="#6d6e71"/>
<circle cx="175.5" cy="829.8" r="1.45" fill="#6d6e71"/>
<circle cx="220.3" cy="879.4" r="1.45" fill="#6d6e71"/>
<circle cx="222.9" cy="829.4" r="1.45" fill="#6d6e71"/>
<circle cx="207.4" cy="837.9" r="1.45" fill="#6d6e71"/>
<circle cx="214.7" cy="892.2" r="1.45" fill="#6d6e71"/>
<circle cx="208.7" cy="849.4" r="1.45" fill="#6d6e71"/>
<circle cx="227.2" cy="837.2" r="1.45" fill="#6d6e71"/>
<circle cx="178.5" cy="900.2" r="1.45" fill="#6d6e71"/>
<circle cx="180.1" cy="832.4" r="1.45" fill="#6d6e71"/>
<circle cx="200.3" cy="896.4" r="1.45" fill="#6d6e71"/>
<circle cx="224.1" cy="904.3" r="1.45" fill="#6d6e71"/>
<circle cx="178.8" cy="895.7" r="1.45" fill="#6d6e71"/>
<circle cx="330.9" cy="800.7" r="1.45" fill="#6d6e71"/>
<circle cx="322.9" cy="818.6" r="1.45" fill="#6d6e71"/>
<circle cx="281.9" cy="785.2" r="1.45" fill="#6d6e71"/>
<circle cx="323.2" cy="852.0" r="1.45" fill="#6d6e71"/>
<circle cx="336.2" cy="845.5" r="1.45" fill="#6d6e71"/>
<circle cx="269.0" cy="813.1" r="1.45" fill="#6d6e71"/>
<circle cx="278.7" cy="908.1" r="1.45" fill="#6d6e71"/>
<circle cx="273.5" cy="796.5" r="1.45" fill="#6d6e71"/>
<circle cx="286.7" cy="795.3" r="1.45" fill="#6d6e71"/>
<circle cx="293.3" cy="865.8" r="1.45" fill="#6d6e71"/>
<circle cx="313.6" cy="807.7" r="1.45" fill="#6d6e71"/>
<circle cx="267.5" cy="848.9" r="1.45" fill="#6d6e71"/>
<circle cx="316.8" cy="843.1" r="1.45" fill="#6d6e71"/>
<circle cx="306.6" cy="903.6" r="1.45" fill="#6d6e71"/>
<circle cx="268.1" cy="819.8" r="1.45" fill="#6d6e71"/>
<circle cx="299.4" cy="854.7" r="1.45" fill="#6d6e71"/>
<circle cx="336.0" cy="857.2" r="1.45" fill="#6d6e71"/>
<circle cx="314.6" cy="839.5" r="1.45" fill="#6d6e71"/>
<circle cx="325.6" cy="893.7" r="1.45" fill="#6d6e71"/>
<circle cx="281.4" cy="799.0" r="1.45" fill="#6d6e71"/>
<circle cx="278.3" cy="831.5" r="1.45" fill="#6d6e71"/>
<circle cx="335.1" cy="819.4" r="1.45" fill="#6d6e71"/>
<circle cx="311.6" cy="868.3" r="1.45" fill="#6d6e71"/>
<circle cx="341.1" cy="800.1" r="1.45" fill="#6d6e71"/>
<circle cx="324.3" cy="828.7" r="1.45" fill="#6d6e71"/>
<circle cx="264.3" cy="867.2" r="1.45" fill="#6d6e71"/>
<circle cx="331.0" cy="860.7" r="1.45" fill="#6d6e71"/>
<circle cx="259.5" cy="911.4" r="1.45" fill="#6d6e71"/>
<circle cx="289.6" cy="867.7" r="1.45" fill="#6d6e71"/>
<circle cx="320.2" cy="818.9" r="1.45" fill="#6d6e71"/>
<circle cx="291.8" cy="827.8" r="1.45" fill="#6d6e71"/>
<circle cx="263.6" cy="793.4" r="1.45" fill="#6d6e71"/>
<circle cx="319.5" cy="838.4" r="1.45" fill="#6d6e71"/>
<circle cx="333.3" cy="793.2" r="1.45" fill="#6d6e71"/>
<circle cx="282.1" cy="808.4" r="1.45" fill="#6d6e71"/>
<circle cx="339.9" cy="887.8" r="1.45" fill="#6d6e71"/>
<circle cx="335.7" cy="850.8" r="1.45" fill="#6d6e71"/>
<circle cx="264.4" cy="839.1" r="1.45" fill="#6d6e71"/>
<circle cx="275.4" cy="788.5" r="1.45" fill="#6d6e71"/>
<circle cx="305.8" cy="822.7" r="1.45" fill="#6d6e71"/>
<circle cx="264.7" cy="851.5" r="1.45" fill="#6d6e71"/>
<circle cx="339.0" cy="908.0" r="1.45" fill="#6d6e71"/>
<circle cx="297.0" cy="798.4" r="1.45" fill="#6d6e71"/>
<circle cx="324.2" cy="799.9" r="1.45" fill="#6d6e71"/>
<circle cx="303.4" cy="795.9" r="1.45" fill="#6d6e71"/>
<circle cx="343.9" cy="855.6" r="1.45" fill="#6d6e71"/>
<circle cx="294.4" cy="820.4" r="1.45" fill="#6d6e71"/>
<circle cx="304.6" cy="911.5" r="1.45" fill="#6d6e71"/>
<circle cx="293.5" cy="812.2" r="1.45" fill="#6d6e71"/>
<circle cx="301.3" cy="904.4" r="1.45" fill="#6d6e71"/>
<circle cx="289.4" cy="867.4" r="1.45" fill="#6d6e71"/>
<circle cx="337.7" cy="827.3" r="1.45" fill="#6d6e71"/>
<circle cx="328.0" cy="853.8" r="1.45" fill="#6d6e71"/>
<circle cx="267.6" cy="792.0" r="1.45" fill="#6d6e71"/>
<circle cx="339.5" cy="845.6" r="1.45" fill="#6d6e71"/>
<circle cx="294.9" cy="904.3" r="1.45" fill="#6d6e71"/>
<circle cx="306.7" cy="850.0" r="1.45" fill="#6d6e71"/>
<circle cx="280.6" cy="881.7" r="1.45" fill="#6d6e71"/>
<circle cx="278.1" cy="846.2" r="1.45" fill="#6d6e71"/>
<circle cx="323.3" cy="863.6" r="1.45" fill="#6d6e71"/>
<circle cx="267.1" cy="811.4" r="1.45" fill="#6d6e71"/>
<circle cx="317.5" cy="879.8" r="1.45" fill="#6d6e71"/>
<circle cx="264.2" cy="914.7" r="1.45" fill="#6d6e71"/>
<circle cx="267.0" cy="806.8" r="1.45" fill="#6d6e71"/>
<circle cx="263.1" cy="843.0" r="1.45" fill="#6d6e71"/>
<circle cx="310.8" cy="896.4" r="1.45" fill="#6d6e71"/>
<circle cx="269.7" cy="875.8" r="1.45" fill="#6d6e71"/>
<circle cx="264.5" cy="860.4" r="1.45" fill="#6d6e71"/>
<circle cx="277.7" cy="831.3" r="1.45" fill="#6d6e71"/>
<circle cx="259.7" cy="878.7" r="1.45" fill="#6d6e71"/>
<circle cx="116.5" cy="857.4" r="1.45" fill="#6d6e71"/>
<circle cx="132.4" cy="842.4" r="1.45" fill="#6d6e71"/>
<circle cx="134.7" cy="954.4" r="1.45" fill="#6d6e71"/>
<circle cx="180.9" cy="824.0" r="1.45" fill="#6d6e71"/>
<circle cx="201.1" cy="800.8" r="1.45" fill="#6d6e71"/>
<circle cx="213.7" cy="824.8" r="1.45" fill="#6d6e71"/>
<circle cx="166.5" cy="870.5" r="1.45" fill="#6d6e71"/>
<circle cx="307.9" cy="784.7" r="1.45" fill="#6d6e71"/>
<circle cx="336.4" cy="789.6" r="1.45" fill="#6d6e71"/>
<circle cx="338.2" cy="821.8" r="1.45" fill="#6d6e71"/>
<circle cx="346.3" cy="885.5" r="1.45" fill="#6d6e71"/>
<circle cx="345.9" cy="905.7" r="1.45" fill="#6d6e71"/>
<circle cx="270.4" cy="927.0" r="1.45" fill="#6d6e71"/>
<circle cx="208.6" cy="945.4" r="1.45" fill="#6d6e71"/>
<line x1="116.50" y1="919.60" x2="346.90" y2="831.40" stroke="#000" stroke-width="2.00"/>
<text x="234.50" y="770.00" style="font-size:29.50px" text-anchor="end">1</text>
<text x="234.50" y="990.00" style="font-size:29.50px" text-anchor="end">-1</text>
<text x="105.50" y="901.00" style="font-size:29.50px" text-anchor="middle">-4</text>
<text x="373.00" y="901.00" style="font-size:29.50px" text-anchor="middle">4</text>
<text x="268.00" y="945.00" style="font-size:29.50px"><tspan style="font-style:italic">R</tspan> = 0.5</text>
<text x="268.00" y="971.50" style="font-size:29.50px"><tspan style="font-style:italic">P</tspan> = 3.2 x 10<tspan style="font-size:19px" dy="-11">-33</tspan></text>
<text x="144.43" y="1023.65" style="font-size:29.17px">CdLS log2 FC</text>
<text transform="translate(43.84 957.67) rotate(-90.00)" style="font-size:29.71px">ASD log2 FC</text>
<text transform="translate(79.56 936.03) rotate(-90.00)" style="font-size:31.51px" textLength="129.54" lengthAdjust="spacingAndGlyphs">DE genes</text>
<line x1="593.80" y1="756.00" x2="593.80" y2="947.00" stroke="#000" stroke-width="1.60"/>
<line x1="588.00" y1="794.60" x2="593.80" y2="794.60" stroke="#000" stroke-width="1.50"/>
<line x1="588.00" y1="946.50" x2="593.80" y2="946.50" stroke="#000" stroke-width="1.50"/>
<line x1="530.80" y1="871.50" x2="721.50" y2="871.50" stroke="#000" stroke-width="1.60"/>
<line x1="530.80" y1="871.50" x2="530.80" y2="876.00" stroke="#000" stroke-width="1.50"/>
<line x1="657.00" y1="871.50" x2="657.00" y2="876.00" stroke="#000" stroke-width="1.50"/>
<line x1="721.50" y1="871.50" x2="721.50" y2="876.00" stroke="#000" stroke-width="1.50"/>
<circle cx="643.1" cy="785.4" r="3.80" fill="#6d6e71"/>
<circle cx="644.6" cy="786.9" r="3.80" fill="#6d6e71"/>
<circle cx="643.1" cy="796.8" r="3.80" fill="#6d6e71"/>
<circle cx="627.7" cy="816.2" r="3.80" fill="#6d6e71"/>
<circle cx="654.8" cy="815.2" r="3.80" fill="#6d6e71"/>
<circle cx="686.2" cy="814.6" r="3.80" fill="#6d6e71"/>
<circle cx="633.8" cy="830.0" r="3.80" fill="#6d6e71"/>
<circle cx="643.1" cy="828.5" r="3.80" fill="#6d6e71"/>
<circle cx="652.3" cy="834.0" r="3.80" fill="#6d6e71"/>
<circle cx="646.2" cy="834.6" r="3.80" fill="#6d6e71"/>
<circle cx="639.4" cy="839.2" r="3.80" fill="#6d6e71"/>
<circle cx="646.2" cy="847.5" r="3.80" fill="#6d6e71"/>
<circle cx="618.5" cy="831.5" r="3.80" fill="#6d6e71"/>
<circle cx="615.4" cy="834.6" r="3.80" fill="#6d6e71"/>
<circle cx="624.6" cy="831.5" r="3.80" fill="#6d6e71"/>
<circle cx="612.3" cy="839.2" r="3.80" fill="#6d6e71"/>
<circle cx="621.5" cy="837.7" r="3.80" fill="#6d6e71"/>
<circle cx="618.5" cy="843.8" r="3.80" fill="#6d6e71"/>
<circle cx="615.4" cy="850.0" r="3.80" fill="#6d6e71"/>
<circle cx="621.5" cy="850.0" r="3.80" fill="#6d6e71"/>
<circle cx="627.7" cy="846.9" r="3.80" fill="#6d6e71"/>
<circle cx="620.0" cy="853.1" r="3.80" fill="#6d6e71"/>
<circle cx="623.1" cy="854.6" r="3.80" fill="#6d6e71"/>
<circle cx="606.2" cy="857.7" r="3.80" fill="#6d6e71"/>
<circle cx="567.7" cy="838.6" r="3.80" fill="#6d6e71"/>
<circle cx="566.2" cy="847.5" r="3.80" fill="#6d6e71"/>
<circle cx="573.8" cy="846.9" r="3.80" fill="#6d6e71"/>
<circle cx="576.9" cy="850.0" r="3.80" fill="#6d6e71"/>
<circle cx="575.4" cy="855.5" r="3.80" fill="#6d6e71"/>
<circle cx="573.8" cy="853.1" r="3.80" fill="#6d6e71"/>
<circle cx="572.3" cy="879.2" r="3.80" fill="#6d6e71"/>
<circle cx="575.4" cy="882.3" r="3.80" fill="#6d6e71"/>
<circle cx="580.0" cy="883.8" r="3.80" fill="#6d6e71"/>
<circle cx="569.2" cy="886.9" r="3.80" fill="#6d6e71"/>
<circle cx="572.3" cy="890.0" r="3.80" fill="#6d6e71"/>
<circle cx="576.9" cy="888.5" r="3.80" fill="#6d6e71"/>
<circle cx="563.1" cy="891.5" r="3.80" fill="#6d6e71"/>
<circle cx="567.7" cy="893.1" r="3.80" fill="#6d6e71"/>
<circle cx="572.3" cy="894.6" r="3.80" fill="#6d6e71"/>
<circle cx="578.5" cy="893.1" r="3.80" fill="#6d6e71"/>
<circle cx="560.0" cy="899.2" r="3.80" fill="#6d6e71"/>
<circle cx="564.6" cy="899.2" r="3.80" fill="#6d6e71"/>
<circle cx="569.2" cy="900.8" r="3.80" fill="#6d6e71"/>
<circle cx="573.8" cy="899.2" r="3.80" fill="#6d6e71"/>
<circle cx="577.8" cy="901.7" r="3.80" fill="#6d6e71"/>
<circle cx="566.2" cy="905.4" r="3.80" fill="#6d6e71"/>
<circle cx="563.1" cy="908.5" r="3.80" fill="#6d6e71"/>
<circle cx="567.7" cy="910.0" r="3.80" fill="#6d6e71"/>
<circle cx="561.5" cy="913.1" r="3.80" fill="#6d6e71"/>
<circle cx="564.6" cy="914.6" r="3.80" fill="#6d6e71"/>
<circle cx="562.5" cy="921.4" r="3.80" fill="#6d6e71"/>
<circle cx="570.8" cy="905.4" r="3.80" fill="#6d6e71"/>
<circle cx="576.9" cy="896.2" r="3.80" fill="#6d6e71"/>
<circle cx="581.5" cy="886.9" r="3.80" fill="#6d6e71"/>
<circle cx="567.7" cy="882.3" r="3.80" fill="#6d6e71"/>
<circle cx="572.3" cy="874.6" r="3.80" fill="#6d6e71"/>
<circle cx="575.4" cy="878.3" r="3.80" fill="#6d6e71"/>
<circle cx="569.8" cy="896.8" r="3.80" fill="#6d6e71"/>
<circle cx="566.2" cy="902.3" r="3.80" fill="#6d6e71"/>
<line x1="560.00" y1="894.60" x2="686.00" y2="786.30" stroke="#000" stroke-width="2.00"/>
<text x="585.00" y="805.00" style="font-size:29.50px" text-anchor="end">1</text>
<text x="585.00" y="958.00" style="font-size:29.50px" text-anchor="end">-1</text>
<text x="529.50" y="904.00" style="font-size:29.50px" text-anchor="middle">-2</text>
<text x="657.50" y="904.00" style="font-size:29.50px" text-anchor="middle">2</text>
<text x="721.50" y="904.00" style="font-size:29.50px" text-anchor="middle">4</text>
<text x="625.00" y="945.00" style="font-size:29.50px"><tspan style="font-style:italic">R</tspan> = 0.85</text>
<text x="625.00" y="971.50" style="font-size:29.50px"><tspan style="font-style:italic">P</tspan> = 1.18 x 10<tspan style="font-size:19px" dy="-11">-22</tspan></text>
<text x="501.53" y="1023.65" style="font-size:29.17px">CdLS log2 FC</text>
<text x="528.76" y="1049.99" style="font-size:29.94px">DE genes</text>
<text transform="translate(485.70 957.67) rotate(-90.00)" style="font-size:29.38px">ASD log2 FC</text>
<text transform="translate(512.53 936.85) rotate(-90.00)" style="font-size:31.17px" textLength="130.26" lengthAdjust="spacingAndGlyphs">DE genes</text>
<line x1="993.70" y1="772.40" x2="993.70" y2="962.70" stroke="#000" stroke-width="1.60"/>
<line x1="989.00" y1="772.40" x2="993.70" y2="772.40" stroke="#000" stroke-width="1.50"/>
<line x1="897.00" y1="868.00" x2="1088.70" y2="868.00" stroke="#000" stroke-width="1.60"/>
<line x1="897.00" y1="868.00" x2="897.00" y2="872.50" stroke="#000" stroke-width="1.50"/>
<line x1="1088.70" y1="868.00" x2="1088.70" y2="872.50" stroke="#000" stroke-width="1.50"/>
<circle cx="1039.9" cy="829.8" r="3.60" fill="#6d6e71"/>
<circle cx="1018.3" cy="842.4" r="3.60" fill="#6d6e71"/>
<circle cx="1025.5" cy="846.0" r="3.60" fill="#6d6e71"/>
<circle cx="1031.6" cy="838.8" r="3.60" fill="#6d6e71"/>
<circle cx="1036.3" cy="843.5" r="3.60" fill="#6d6e71"/>
<circle cx="1038.1" cy="846.0" r="3.60" fill="#6d6e71"/>
<circle cx="1041.7" cy="848.2" r="3.60" fill="#6d6e71"/>
<circle cx="1025.5" cy="850.7" r="3.60" fill="#6d6e71"/>
<circle cx="1029.1" cy="847.8" r="3.60" fill="#6d6e71"/>
<circle cx="955.1" cy="883.2" r="3.60" fill="#6d6e71"/>
<circle cx="962.3" cy="883.2" r="3.60" fill="#6d6e71"/>
<circle cx="971.3" cy="880.7" r="3.60" fill="#6d6e71"/>
<circle cx="967.7" cy="886.9" r="3.60" fill="#6d6e71"/>
<circle cx="973.1" cy="888.7" r="3.60" fill="#6d6e71"/>
<circle cx="958.7" cy="888.7" r="3.60" fill="#6d6e71"/>
<circle cx="951.4" cy="890.5" r="3.60" fill="#6d6e71"/>
<circle cx="956.9" cy="892.3" r="3.60" fill="#6d6e71"/>
<circle cx="964.1" cy="890.5" r="3.60" fill="#6d6e71"/>
<circle cx="953.2" cy="899.5" r="3.60" fill="#6d6e71"/>
<circle cx="956.9" cy="901.3" r="3.60" fill="#6d6e71"/>
<circle cx="951.4" cy="904.9" r="3.60" fill="#6d6e71"/>
<circle cx="955.1" cy="908.5" r="3.60" fill="#6d6e71"/>
<circle cx="947.8" cy="911.1" r="3.60" fill="#6d6e71"/>
<circle cx="949.6" cy="915.8" r="3.60" fill="#6d6e71"/>
<circle cx="947.8" cy="919.4" r="3.60" fill="#6d6e71"/>
<circle cx="965.9" cy="899.5" r="3.60" fill="#6d6e71"/>
<circle cx="965.9" cy="906.7" r="3.60" fill="#6d6e71"/>
<circle cx="965.2" cy="910.3" r="3.60" fill="#6d6e71"/>
<circle cx="967.7" cy="915.8" r="3.60" fill="#6d6e71"/>
<circle cx="933.4" cy="903.1" r="3.60" fill="#6d6e71"/>
<circle cx="915.3" cy="894.8" r="3.60" fill="#6d6e71"/>
<circle cx="911.7" cy="895.9" r="3.60" fill="#6d6e71"/>
<circle cx="920.7" cy="933.8" r="3.60" fill="#6d6e71"/>
<circle cx="911.7" cy="936.3" r="3.60" fill="#6d6e71"/>
<circle cx="1034.5" cy="923.0" r="3.60" fill="#6d6e71"/>
<circle cx="960.5" cy="886.9" r="3.60" fill="#6d6e71"/>
<circle cx="954.3" cy="895.9" r="3.60" fill="#6d6e71"/>
<line x1="910.00" y1="924.80" x2="1038.00" y2="849.00" stroke="#000" stroke-width="2.00"/>
<text x="988.00" y="782.00" style="font-size:29.50px" text-anchor="end">3</text>
<text x="986.00" y="973.50" style="font-size:29.50px" text-anchor="end">-3</text>
<text x="896.00" y="901.30" style="font-size:29.50px" text-anchor="middle">-2</text>
<text x="1088.00" y="901.30" style="font-size:29.50px" text-anchor="middle">2</text>
<text x="1058.00" y="944.60" style="font-size:29.50px"><tspan style="font-style:italic">R</tspan> = 0.81</text>
<text x="1058.00" y="971.70" style="font-size:29.50px"><tspan style="font-style:italic">P</tspan> = 2.23 x 10<tspan style="font-size:19px" dy="-11">-11</tspan></text>
<text x="904.03" y="1023.65" style="font-size:29.17px">CdLS log2 FC</text>
<text x="930.96" y="1049.99" style="font-size:29.94px">DE genes</text>
<text transform="translate(856.79 974.54) rotate(-90.00)" style="font-size:29.92px" textLength="207.10" lengthAdjust="spacingAndGlyphs">dup15q log2 FC</text>
<text transform="translate(883.59 936.35) rotate(-90.00)" style="font-size:31.40px" textLength="130.26" lengthAdjust="spacingAndGlyphs">DE genes</text>
<text x="-3.71" y="1115.80" style="font-size:48.00px" textLength="27.12" lengthAdjust="spacingAndGlyphs">h</text>
<defs><linearGradient id="cg" x1="0" y1="0" x2="0" y2="1"><stop offset="0" stop-color="#e12d18"/><stop offset="0.15" stop-color="#e9503f"/><stop offset="0.3" stop-color="#f48a86"/><stop offset="0.42" stop-color="#f8c2c0"/><stop offset="0.5" stop-color="#f1eff1"/><stop offset="0.58" stop-color="#e8e4f6"/><stop offset="0.7" stop-color="#c4bce6"/><stop offset="0.8" stop-color="#9890d0"/><stop offset="0.9" stop-color="#6660b8"/><stop offset="1" stop-color="#3e4ea6"/></linearGradient></defs>
<rect x="203.20" y="1176.10" width="20.90" height="27.00" fill="#e8e8e8"/>
<rect x="228.10" y="1176.10" width="20.90" height="27.00" fill="#b8b8dc"/>
<text x="202.49" y="1196.50" style="font-size:26.50px;font-style:italic" text-anchor="end" textLength="117.64" lengthAdjust="spacingAndGlyphs" fill="#2e3192">ADRA1A</text>
<rect x="203.20" y="1205.85" width="20.90" height="27.00" fill="#e8e8e8"/>
<rect x="228.10" y="1205.85" width="20.90" height="27.00" fill="#a3a3d0"/>
<text x="199.19" y="1224.80" style="font-size:26.50px;font-style:italic" text-anchor="end" textLength="104.54" lengthAdjust="spacingAndGlyphs">CHRM2</text>
<rect x="203.20" y="1235.60" width="20.90" height="27.00" fill="#e8e8e8"/>
<rect x="228.10" y="1235.60" width="20.90" height="27.00" fill="#bcbcde"/>
<text x="202.89" y="1254.90" style="font-size:26.50px;font-style:italic" text-anchor="end" textLength="119.28" lengthAdjust="spacingAndGlyphs" fill="#2e3192">GABRA1</text>
<rect x="203.20" y="1265.35" width="20.90" height="27.00" fill="#e8e8e8"/>
<rect x="228.10" y="1265.35" width="20.90" height="27.00" fill="#c0c0e0"/>
<text x="203.14" y="1287.50" style="font-size:26.50px;font-style:italic" text-anchor="end" textLength="122.54" lengthAdjust="spacingAndGlyphs" fill="#e0201c">GABRG3</text>
<rect x="203.20" y="1295.10" width="20.90" height="27.00" fill="#e8e8e8"/>
<rect x="228.10" y="1295.10" width="20.90" height="27.00" fill="#4259a8"/>
<text x="202.83" y="1317.70" style="font-size:26.50px;font-style:italic" text-anchor="end" textLength="118.71" lengthAdjust="spacingAndGlyphs">HCRTR1</text>
<rect x="203.20" y="1324.85" width="20.90" height="27.00" fill="#e8e8e8"/>
<rect x="228.10" y="1324.85" width="20.90" height="27.00" fill="#f07878"/>
<text x="198.77" y="1345.80" style="font-size:26.50px;font-style:italic" text-anchor="end" textLength="96.38" lengthAdjust="spacingAndGlyphs">HTR1A</text>
<rect x="203.20" y="1354.60" width="20.90" height="27.00" fill="#e8e8e8"/>
<rect x="228.10" y="1354.60" width="20.90" height="27.00" fill="#f09494"/>
<text x="199.58" y="1376.00" style="font-size:26.50px;font-style:italic" text-anchor="end" textLength="96.38" lengthAdjust="spacingAndGlyphs" fill="#2e3192">HTR3B</text>
<rect x="203.20" y="1384.35" width="20.90" height="27.00" fill="#e8e8e8"/>
<rect x="228.10" y="1384.35" width="20.90" height="27.00" fill="#b0b0d8"/>
<text x="198.86" y="1406.00" style="font-size:26.50px;font-style:italic" text-anchor="end" textLength="97.49" lengthAdjust="spacingAndGlyphs">NETO1</text>
<rect x="203.20" y="1414.10" width="20.90" height="27.00" fill="#e8e8e8"/>
<rect x="228.10" y="1414.10" width="20.90" height="27.00" fill="#b8b8dc"/>
<text x="199.20" y="1436.50" style="font-size:26.50px;font-style:italic" text-anchor="end" textLength="97.49" lengthAdjust="spacingAndGlyphs" fill="#2e3192">NETO2</text>
<rect x="203.20" y="1443.85" width="20.90" height="27.00" fill="#e8e8e8"/>
<rect x="228.10" y="1443.85" width="20.90" height="27.00" fill="#f09a9a"/>
<text x="196.99" y="1467.00" style="font-size:26.50px;font-style:italic" text-anchor="end" textLength="81.67" lengthAdjust="spacingAndGlyphs" fill="#e0201c">OXTR</text>
<rect x="203.20" y="1477.00" width="20.90" height="27.00" fill="#e8e8e8"/>
<rect x="228.10" y="1477.00" width="20.90" height="27.00" fill="#b0b0d8"/>
<text x="198.56" y="1499.80" style="font-size:26.50px;font-style:italic" text-anchor="end" textLength="93.15" lengthAdjust="spacingAndGlyphs" fill="#2e3192">CPLX1</text>
<rect x="203.20" y="1506.90" width="20.90" height="27.00" fill="#e8e8e8"/>
<rect x="228.10" y="1506.90" width="20.90" height="27.00" fill="#a0a0ce"/>
<text x="199.00" y="1527.40" style="font-size:26.50px;font-style:italic" text-anchor="end" textLength="93.15" lengthAdjust="spacingAndGlyphs" fill="#2e3192">CPLX2</text>
<rect x="203.20" y="1536.80" width="20.90" height="27.00" fill="#e8e8e8"/>
<rect x="228.10" y="1536.80" width="20.90" height="27.00" fill="#7070b4"/>
<text x="198.69" y="1556.60" style="font-size:26.50px;font-style:italic" text-anchor="end" textLength="94.76" lengthAdjust="spacingAndGlyphs">NPTX2</text>
<rect x="203.20" y="1566.70" width="20.90" height="27.00" fill="#e8e8e8"/>
<rect x="228.10" y="1566.70" width="20.90" height="27.00" fill="#a8a8d4"/>
<text x="198.23" y="1586.20" style="font-size:26.50px;font-style:italic" text-anchor="end" textLength="80.05" lengthAdjust="spacingAndGlyphs" fill="#2e3192">NRN1</text>
<rect x="203.20" y="1596.60" width="20.90" height="27.00" fill="#e8e8e8"/>
<rect x="228.10" y="1596.60" width="20.90" height="27.00" fill="#b4b4da"/>
<text x="199.30" y="1616.20" style="font-size:26.50px;font-style:italic" text-anchor="end" textLength="98.04" lengthAdjust="spacingAndGlyphs">RPH3A</text>
<rect x="203.20" y="1626.50" width="20.90" height="27.00" fill="#e8e8e8"/>
<rect x="228.10" y="1626.50" width="20.90" height="27.00" fill="#a8a8d2"/>
<text x="198.94" y="1648.60" style="font-size:26.50px;font-style:italic" text-anchor="end" textLength="112.76" lengthAdjust="spacingAndGlyphs" fill="#e0201c">SNAP25</text>
<rect x="203.20" y="1656.40" width="20.90" height="27.00" fill="#e8e8e8"/>
<rect x="228.10" y="1656.40" width="20.90" height="27.00" fill="#cacae6"/>
<text x="197.41" y="1678.10" style="font-size:26.50px;font-style:italic" text-anchor="end" textLength="75.18" lengthAdjust="spacingAndGlyphs">SV2A</text>
<rect x="203.20" y="1686.30" width="20.90" height="27.00" fill="#e8e8e8"/>
<rect x="228.10" y="1686.30" width="20.90" height="27.00" fill="#4259a8"/>
<text x="197.55" y="1708.30" style="font-size:26.50px;font-style:italic" text-anchor="end" textLength="76.80" lengthAdjust="spacingAndGlyphs">SV2C</text>
<rect x="203.20" y="1716.20" width="20.90" height="27.00" fill="#e8e8e8"/>
<rect x="228.10" y="1716.20" width="20.90" height="27.00" fill="#b4b4da"/>
<text x="197.93" y="1738.00" style="font-size:26.50px;font-style:italic" text-anchor="end" textLength="89.88" lengthAdjust="spacingAndGlyphs" fill="#2e3192">SYT12</text>
<line x1="75.00" y1="1176.50" x2="75.00" y2="1463.00" stroke="#000" stroke-width="1.60"/>
<line x1="75.00" y1="1477.00" x2="75.00" y2="1742.50" stroke="#000" stroke-width="1.60"/>
<rect x="258.20" y="1185.80" width="15.60" height="88.80" fill="url(#cg)"/>
<text x="286.14" y="1195.00" style="font-size:27.24px">2</text>
<text x="286.74" y="1239.63" style="font-size:26.57px">0</text>
<text x="274.18" y="1282.40" style="font-size:27.10px">-2</text>
<rect x="258.10" y="1479.20" width="15.70" height="88.60" fill="url(#cg)"/>
<text x="281.67" y="1491.40" style="font-size:26.67px">2</text>
<text x="281.93" y="1536.33" style="font-size:26.86px">0</text>
<text x="269.77" y="1578.90" style="font-size:27.24px">-2</text>
<text transform="translate(215.80 1172.10) scale(1.150 1) rotate(-45.0)" style="font-size:26.00px">Ctrl</text>
<text transform="translate(243.00 1175.30) scale(1.150 1) rotate(-45.0)" style="font-size:26.00px">CdLS</text>
<text transform="translate(35.81 1421.15) rotate(-90.00)" style="font-size:29.12px" textLength="193.82" lengthAdjust="spacingAndGlyphs">Neurotransmitter</text>
<text transform="translate(63.20 1378.59) rotate(-90.00)" style="font-size:27.45px" textLength="108.33" lengthAdjust="spacingAndGlyphs">receptors</text>
<text transform="translate(62.79 1655.56) rotate(-90.00)" style="font-size:30.39px" textLength="100.61" lengthAdjust="spacingAndGlyphs">Synapse</text>
<rect x="479.10" y="1170.60" width="20.80" height="27.00" fill="#e8e8e8"/>
<rect x="504.10" y="1170.60" width="20.80" height="27.00" fill="#e03a2a"/>
<text x="472.39" y="1194.40" style="font-size:26.50px;font-style:italic" text-anchor="end" textLength="80.06" lengthAdjust="spacingAndGlyphs">ANO2</text>
<rect x="479.10" y="1200.70" width="20.80" height="27.00" fill="#e8e8e8"/>
<rect x="504.10" y="1200.70" width="20.80" height="27.00" fill="#c4c4e2"/>
<text x="477.29" y="1225.50" style="font-size:26.50px;font-style:italic" text-anchor="end" textLength="90.96" lengthAdjust="spacingAndGlyphs" fill="#2e3192">ATP1B</text>
<rect x="479.10" y="1230.80" width="20.80" height="27.00" fill="#e8e8e8"/>
<rect x="504.10" y="1230.80" width="20.80" height="27.00" fill="#b0b0d8"/>
<text x="477.19" y="1253.30" style="font-size:26.50px;font-style:italic" text-anchor="end" textLength="98.04" lengthAdjust="spacingAndGlyphs" fill="#2e3192">KCNA1</text>
<rect x="479.10" y="1260.90" width="20.80" height="27.00" fill="#e8e8e8"/>
<rect x="504.10" y="1260.90" width="20.80" height="27.00" fill="#f0a4a4"/>
<text x="474.69" y="1283.60" style="font-size:26.50px;font-style:italic" text-anchor="end" textLength="98.04" lengthAdjust="spacingAndGlyphs">KCNA5</text>
<rect x="479.10" y="1291.00" width="20.80" height="27.00" fill="#e8e8e8"/>
<rect x="504.10" y="1291.00" width="20.80" height="27.00" fill="#c4c4e2"/>
<text x="475.47" y="1313.80" style="font-size:26.50px;font-style:italic" text-anchor="end" textLength="117.64" lengthAdjust="spacingAndGlyphs">KCNAB3</text>
<rect x="479.10" y="1321.10" width="20.80" height="27.00" fill="#e8e8e8"/>
<rect x="504.10" y="1321.10" width="20.80" height="27.00" fill="#f0b0b0"/>
<text x="478.74" y="1344.30" style="font-size:26.50px;font-style:italic" text-anchor="end" textLength="101.29" lengthAdjust="spacingAndGlyphs">KCNG1</text>
<rect x="479.10" y="1351.20" width="20.80" height="27.00" fill="#e8e8e8"/>
<rect x="504.10" y="1351.20" width="20.80" height="27.00" fill="#acacd6"/>
<text x="479.70" y="1375.30" style="font-size:26.50px;font-style:italic" text-anchor="end" textLength="106.20" lengthAdjust="spacingAndGlyphs">KCNIP1</text>
<rect x="479.10" y="1381.30" width="20.80" height="27.00" fill="#e8e8e8"/>
<rect x="504.10" y="1381.30" width="20.80" height="27.00" fill="#c8c8e4"/>
<text x="474.19" y="1405.80" style="font-size:26.50px;font-style:italic" text-anchor="end" textLength="106.20" lengthAdjust="spacingAndGlyphs">KCNIP3</text>
<rect x="479.10" y="1411.40" width="20.80" height="27.00" fill="#e8e8e8"/>
<rect x="504.10" y="1411.40" width="20.80" height="27.00" fill="#b8b8dc"/>
<text x="473.33" y="1436.30" style="font-size:26.50px;font-style:italic" text-anchor="end" textLength="98.04" lengthAdjust="spacingAndGlyphs">KCNK2</text>
<rect x="479.10" y="1441.50" width="20.80" height="27.00" fill="#e8e8e8"/>
<rect x="504.10" y="1441.50" width="20.80" height="27.00" fill="#7878b8"/>
<text x="472.55" y="1462.00" style="font-size:26.50px;font-style:italic" text-anchor="end" textLength="96.38" lengthAdjust="spacingAndGlyphs" fill="#2e3192">TRPC3</text>
<rect x="479.10" y="1471.60" width="20.80" height="27.00" fill="#e8e8e8"/>
<rect x="504.10" y="1471.60" width="20.80" height="27.00" fill="#4259a8"/>
<text x="471.97" y="1492.50" style="font-size:26.50px;font-style:italic" text-anchor="end" textLength="96.38" lengthAdjust="spacingAndGlyphs">TRPC7</text>
<rect x="479.10" y="1504.90" width="20.80" height="27.00" fill="#e8e8e8"/>
<rect x="504.10" y="1504.90" width="20.80" height="27.00" fill="#b4b4da"/>
<text x="471.82" y="1525.20" style="font-size:26.50px;font-style:italic" text-anchor="end" textLength="102.92" lengthAdjust="spacingAndGlyphs">CADM4</text>
<rect x="479.10" y="1535.00" width="20.80" height="27.00" fill="#e8e8e8"/>
<rect x="504.10" y="1535.00" width="20.80" height="27.00" fill="#6a6ab2"/>
<text x="473.44" y="1555.70" style="font-size:26.50px;font-style:italic" text-anchor="end" textLength="96.40" lengthAdjust="spacingAndGlyphs">CDH24</text>
<rect x="479.10" y="1565.10" width="20.80" height="27.00" fill="#e8e8e8"/>
<rect x="504.10" y="1565.10" width="20.80" height="27.00" fill="#6c6cb2"/>
<text x="473.57" y="1586.60" style="font-size:26.50px;font-style:italic" text-anchor="end" textLength="81.68" lengthAdjust="spacingAndGlyphs" fill="#2e3192">CLMP</text>
<rect x="479.10" y="1595.20" width="20.80" height="27.00" fill="#e8e8e8"/>
<rect x="504.10" y="1595.20" width="20.80" height="27.00" fill="#8080bc"/>
<text x="470.23" y="1617.10" style="font-size:26.50px;font-style:italic" text-anchor="end" textLength="98.01" lengthAdjust="spacingAndGlyphs" fill="#e0201c">CNTN6</text>
<rect x="479.10" y="1625.30" width="20.80" height="27.00" fill="#e8e8e8"/>
<rect x="504.10" y="1625.30" width="20.80" height="27.00" fill="#a4a4d0"/>
<text x="473.78" y="1645.40" style="font-size:26.50px;font-style:italic" text-anchor="end" textLength="129.12" lengthAdjust="spacingAndGlyphs">COL12A1</text>
<rect x="479.10" y="1655.40" width="20.80" height="27.00" fill="#e8e8e8"/>
<rect x="504.10" y="1655.40" width="20.80" height="27.00" fill="#8080bc"/>
<text x="473.78" y="1675.90" style="font-size:26.50px;font-style:italic" text-anchor="end" textLength="129.12" lengthAdjust="spacingAndGlyphs" fill="#2e3192">COL19A1</text>
<rect x="479.10" y="1685.50" width="20.80" height="27.00" fill="#e8e8e8"/>
<rect x="504.10" y="1685.50" width="20.80" height="27.00" fill="#5560ac"/>
<text x="473.78" y="1706.40" style="font-size:26.50px;font-style:italic" text-anchor="end" textLength="129.12" lengthAdjust="spacingAndGlyphs">COL22A1</text>
<rect x="479.10" y="1715.60" width="20.80" height="27.00" fill="#e8e8e8"/>
<rect x="504.10" y="1715.60" width="20.80" height="27.00" fill="#a0a0ce"/>
<text x="469.97" y="1736.40" style="font-size:26.50px;font-style:italic" text-anchor="end" textLength="67.52" lengthAdjust="spacingAndGlyphs" fill="#e0201c">FAT1</text>
<rect x="479.10" y="1745.70" width="20.80" height="27.00" fill="#e8e8e8"/>
<rect x="504.10" y="1745.70" width="20.80" height="27.00" fill="#a8a8d4"/>
<text x="474.25" y="1767.60" style="font-size:26.50px;font-style:italic" text-anchor="end" textLength="89.32" lengthAdjust="spacingAndGlyphs">FLRT1</text>
<rect x="479.10" y="1775.80" width="20.80" height="27.00" fill="#e8e8e8"/>
<rect x="504.10" y="1775.80" width="20.80" height="27.00" fill="#8080bc"/>
<text x="473.11" y="1797.80" style="font-size:26.50px;font-style:italic" text-anchor="end" textLength="84.96" lengthAdjust="spacingAndGlyphs">ITGA8</text>
<rect x="479.10" y="1805.90" width="20.80" height="27.00" fill="#e8e8e8"/>
<rect x="504.10" y="1805.90" width="20.80" height="27.00" fill="#b0b0d8"/>
<text x="473.19" y="1828.30" style="font-size:26.50px;font-style:italic" text-anchor="end" textLength="84.96" lengthAdjust="spacingAndGlyphs">ITGB1</text>
<rect x="479.10" y="1836.00" width="20.80" height="27.00" fill="#e8e8e8"/>
<rect x="504.10" y="1836.00" width="20.80" height="27.00" fill="#f0b4b4"/>
<text x="472.55" y="1858.80" style="font-size:26.50px;font-style:italic" text-anchor="end" textLength="122.56" lengthAdjust="spacingAndGlyphs" fill="#e0201c">KIRREL3</text>
<rect x="479.10" y="1866.10" width="20.80" height="27.00" fill="#e8e8e8"/>
<rect x="504.10" y="1866.10" width="20.80" height="27.00" fill="#a8a8d4"/>
<text x="475.23" y="1889.30" style="font-size:26.50px;font-style:italic" text-anchor="end" textLength="135.62" lengthAdjust="spacingAndGlyphs" fill="#2e3192">PCDHB10</text>
<rect x="479.10" y="1896.20" width="20.80" height="27.00" fill="#e8e8e8"/>
<rect x="504.10" y="1896.20" width="20.80" height="27.00" fill="#8888c0"/>
<text x="472.44" y="1919.80" style="font-size:26.50px;font-style:italic" text-anchor="end" textLength="119.27" lengthAdjust="spacingAndGlyphs">PCDHB9</text>
<line x1="353.60" y1="1173.30" x2="353.60" y2="1499.30" stroke="#000" stroke-width="1.60"/>
<line x1="329.70" y1="1509.30" x2="329.70" y2="1920.70" stroke="#000" stroke-width="1.60"/>
<rect x="532.00" y="1182.10" width="14.90" height="88.70" fill="url(#cg)"/>
<text x="552.68" y="1193.93" style="font-size:27.14px">3</text>
<text x="552.61" y="1239.13" style="font-size:27.28px">0</text>
<text x="540.47" y="1281.13" style="font-size:27.28px">-3</text>
<rect x="532.20" y="1833.40" width="15.20" height="89.30" fill="url(#cg)"/>
<text x="555.65" y="1846.90" style="font-size:26.95px">2</text>
<text x="556.33" y="1891.63" style="font-size:26.71px">0</text>
<text x="543.78" y="1934.00" style="font-size:27.10px">-2</text>
<text transform="translate(491.50 1168.40) scale(1.150 1) rotate(-45.0)" style="font-size:26.00px">Ctrl</text>
<text transform="translate(518.60 1171.90) scale(1.150 1) rotate(-45.0)" style="font-size:26.00px">CdLS</text>
<text transform="translate(343.68 1407.62) rotate(-90.00)" style="font-size:31.97px" textLength="160.44" lengthAdjust="spacingAndGlyphs">Ion channels</text>
<text transform="translate(318.50 1788.60) rotate(-90.00)" style="font-size:30.07px" textLength="157.28" lengthAdjust="spacingAndGlyphs">Cell adhesion</text>
<rect x="751.20" y="1111.40" width="20.80" height="27.00" fill="#e8e8e8"/>
<rect x="776.00" y="1111.40" width="20.80" height="27.00" fill="#e03a2a"/>
<text x="748.30" y="1133.90" style="font-size:26.50px;font-style:italic" text-anchor="end" textLength="117.07" lengthAdjust="spacingAndGlyphs">CARTPT</text>
<rect x="751.20" y="1141.40" width="20.80" height="27.00" fill="#e8e8e8"/>
<rect x="776.00" y="1141.40" width="20.80" height="27.00" fill="#4259a8"/>
<text x="738.57" y="1163.90" style="font-size:26.50px;font-style:italic" text-anchor="end" textLength="63.70" lengthAdjust="spacingAndGlyphs">CRH</text>
<rect x="751.20" y="1171.40" width="20.80" height="27.00" fill="#e8e8e8"/>
<rect x="776.00" y="1171.40" width="20.80" height="27.00" fill="#f08a8a"/>
<text x="743.95" y="1193.80" style="font-size:26.50px;font-style:italic" text-anchor="end" textLength="94.76" lengthAdjust="spacingAndGlyphs">EFNA1</text>
<rect x="751.20" y="1201.40" width="20.80" height="27.00" fill="#e8e8e8"/>
<rect x="776.00" y="1201.40" width="20.80" height="27.00" fill="#c4c4e2"/>
<text x="742.39" y="1223.60" style="font-size:26.50px;font-style:italic" text-anchor="end" textLength="81.67" lengthAdjust="spacingAndGlyphs">EGFR</text>
<rect x="751.20" y="1231.40" width="20.80" height="27.00" fill="#e8e8e8"/>
<rect x="776.00" y="1231.40" width="20.80" height="27.00" fill="#f0caca"/>
<text x="744.15" y="1253.50" style="font-size:26.50px;font-style:italic" text-anchor="end" textLength="96.41" lengthAdjust="spacingAndGlyphs">EPHA6</text>
<rect x="751.20" y="1261.40" width="20.80" height="27.00" fill="#e8e8e8"/>
<rect x="776.00" y="1261.40" width="20.80" height="27.00" fill="#c4c4e2"/>
<text x="743.80" y="1283.50" style="font-size:26.50px;font-style:italic" text-anchor="end" textLength="96.41" lengthAdjust="spacingAndGlyphs">EPHA7</text>
<rect x="751.20" y="1291.40" width="20.80" height="27.00" fill="#e8e8e8"/>
<rect x="776.00" y="1291.40" width="20.80" height="27.00" fill="#f0b0b0"/>
<text x="743.00" y="1313.20" style="font-size:26.50px;font-style:italic" text-anchor="end" textLength="91.49" lengthAdjust="spacingAndGlyphs">FGF17</text>
<rect x="751.20" y="1321.40" width="20.80" height="27.00" fill="#e8e8e8"/>
<rect x="776.00" y="1321.40" width="20.80" height="27.00" fill="#c8c8e4"/>
<text x="741.01" y="1342.80" style="font-size:26.50px;font-style:italic" text-anchor="end" textLength="75.14" lengthAdjust="spacingAndGlyphs">FGF9</text>
<rect x="751.20" y="1351.40" width="20.80" height="27.00" fill="#e8e8e8"/>
<rect x="776.00" y="1351.40" width="20.80" height="27.00" fill="#f07575"/>
<text x="744.72" y="1372.80" style="font-size:26.50px;font-style:italic" text-anchor="end" textLength="96.37" lengthAdjust="spacingAndGlyphs">FGFR4</text>
<rect x="751.20" y="1381.40" width="20.80" height="27.00" fill="#e8e8e8"/>
<rect x="776.00" y="1381.40" width="20.80" height="27.00" fill="#f0b0b0"/>
<text x="739.63" y="1402.70" style="font-size:26.50px;font-style:italic" text-anchor="end" textLength="73.50" lengthAdjust="spacingAndGlyphs" fill="#2e3192">FZD1</text>
<rect x="751.20" y="1411.40" width="20.80" height="27.00" fill="#e8e8e8"/>
<rect x="776.00" y="1411.40" width="20.80" height="27.00" fill="#7c7cba"/>
<text x="741.14" y="1432.70" style="font-size:26.50px;font-style:italic" text-anchor="end" textLength="80.06" lengthAdjust="spacingAndGlyphs">GPR3</text>
<rect x="751.20" y="1441.40" width="20.80" height="27.00" fill="#e8e8e8"/>
<rect x="776.00" y="1441.40" width="20.80" height="27.00" fill="#f09898"/>
<text x="744.30" y="1462.70" style="font-size:26.50px;font-style:italic" text-anchor="end" textLength="96.41" lengthAdjust="spacingAndGlyphs">GPR88</text>
<rect x="751.20" y="1471.40" width="20.80" height="27.00" fill="#e8e8e8"/>
<rect x="776.00" y="1471.40" width="20.80" height="27.00" fill="#f0c6c6"/>
<text x="744.38" y="1492.60" style="font-size:26.50px;font-style:italic" text-anchor="end" textLength="96.41" lengthAdjust="spacingAndGlyphs">GRB10</text>
<rect x="751.20" y="1501.40" width="20.80" height="27.00" fill="#e8e8e8"/>
<rect x="776.00" y="1501.40" width="20.80" height="27.00" fill="#a8a8d4"/>
<text x="738.53" y="1522.60" style="font-size:26.50px;font-style:italic" text-anchor="end" textLength="65.35" lengthAdjust="spacingAndGlyphs">IGF1</text>
<rect x="751.20" y="1531.40" width="20.80" height="27.00" fill="#e8e8e8"/>
<rect x="776.00" y="1531.40" width="20.80" height="27.00" fill="#f0c8c8"/>
<text x="742.88" y="1552.60" style="font-size:26.50px;font-style:italic" text-anchor="end" textLength="86.58" lengthAdjust="spacingAndGlyphs">IGF1R</text>
<rect x="751.20" y="1561.40" width="20.80" height="27.00" fill="#e8e8e8"/>
<rect x="776.00" y="1561.40" width="20.80" height="27.00" fill="#f0a8a8"/>
<text x="745.18" y="1582.20" style="font-size:26.50px;font-style:italic" text-anchor="end" textLength="104.57" lengthAdjust="spacingAndGlyphs" fill="#2e3192">IGFBP5</text>
<rect x="751.20" y="1591.40" width="20.80" height="27.00" fill="#e8e8e8"/>
<rect x="776.00" y="1591.40" width="20.80" height="27.00" fill="#9898ca"/>
<text x="735.46" y="1612.20" style="font-size:26.50px;font-style:italic" text-anchor="end" textLength="45.74" lengthAdjust="spacingAndGlyphs">KIT</text>
<rect x="751.20" y="1621.40" width="20.80" height="27.00" fill="#e8e8e8"/>
<rect x="776.00" y="1621.40" width="20.80" height="27.00" fill="#c4c4e2"/>
<text x="741.29" y="1642.20" style="font-size:26.50px;font-style:italic" text-anchor="end" textLength="80.06" lengthAdjust="spacingAndGlyphs">KRAS</text>
<rect x="751.20" y="1651.40" width="20.80" height="27.00" fill="#e8e8e8"/>
<rect x="776.00" y="1651.40" width="20.80" height="27.00" fill="#acacd6"/>
<text x="740.40" y="1672.10" style="font-size:26.50px;font-style:italic" text-anchor="end" textLength="76.80" lengthAdjust="spacingAndGlyphs">LGR5</text>
<rect x="751.20" y="1681.40" width="20.80" height="27.00" fill="#e8e8e8"/>
<rect x="776.00" y="1681.40" width="20.80" height="27.00" fill="#c4c4e2"/>
<text x="742.02" y="1702.10" style="font-size:26.50px;font-style:italic" text-anchor="end" textLength="80.06" lengthAdjust="spacingAndGlyphs">LMO4</text>
<rect x="751.20" y="1711.40" width="20.80" height="27.00" fill="#e8e8e8"/>
<rect x="776.00" y="1711.40" width="20.80" height="27.00" fill="#cacae6"/>
<text x="743.15" y="1731.20" style="font-size:26.50px;font-style:italic" text-anchor="end" textLength="90.46" lengthAdjust="spacingAndGlyphs">LYPD6</text>
<rect x="751.20" y="1741.40" width="20.80" height="27.00" fill="#e8e8e8"/>
<rect x="776.00" y="1741.40" width="20.80" height="27.00" fill="#7070b4"/>
<text x="737.50" y="1761.20" style="font-size:26.50px;font-style:italic" text-anchor="end" textLength="60.45" lengthAdjust="spacingAndGlyphs">NPY</text>
<rect x="751.20" y="1771.40" width="20.80" height="27.00" fill="#e8e8e8"/>
<rect x="776.00" y="1771.40" width="20.80" height="27.00" fill="#bcbcde"/>
<text x="740.73" y="1791.10" style="font-size:26.50px;font-style:italic" text-anchor="end" textLength="80.05" lengthAdjust="spacingAndGlyphs" fill="#2e3192">NRN1</text>
<rect x="751.20" y="1801.40" width="20.80" height="27.00" fill="#e8e8e8"/>
<rect x="776.00" y="1801.40" width="20.80" height="27.00" fill="#8c8cc4"/>
<text x="744.03" y="1821.10" style="font-size:26.50px;font-style:italic" text-anchor="end" textLength="98.04" lengthAdjust="spacingAndGlyphs">NXPH2</text>
<rect x="751.20" y="1831.40" width="20.80" height="27.00" fill="#e8e8e8"/>
<rect x="776.00" y="1831.40" width="20.80" height="27.00" fill="#bcbcde"/>
<text x="744.38" y="1851.10" style="font-size:26.50px;font-style:italic" text-anchor="end" textLength="98.04" lengthAdjust="spacingAndGlyphs" fill="#2e3192">NXPH3</text>
<rect x="751.20" y="1861.40" width="20.80" height="27.00" fill="#e8e8e8"/>
<rect x="776.00" y="1861.40" width="20.80" height="27.00" fill="#9494c8"/>
<text x="744.95" y="1881.00" style="font-size:26.50px;font-style:italic" text-anchor="end" textLength="102.93" lengthAdjust="spacingAndGlyphs">ROBO3</text>
<rect x="751.20" y="1891.40" width="20.80" height="27.00" fill="#e8e8e8"/>
<rect x="776.00" y="1891.40" width="20.80" height="27.00" fill="#c4c4e2"/>
<text x="744.70" y="1910.50" style="font-size:26.50px;font-style:italic" text-anchor="end" textLength="98.04" lengthAdjust="spacingAndGlyphs">RPH3A</text>
<rect x="751.20" y="1921.40" width="20.80" height="27.00" fill="#e8e8e8"/>
<rect x="776.00" y="1921.40" width="20.80" height="27.00" fill="#f0c8c8"/>
<text x="746.55" y="1942.60" style="font-size:26.50px;font-style:italic" text-anchor="end" textLength="94.76" lengthAdjust="spacingAndGlyphs">SSTR1</text>
<rect x="751.20" y="1951.40" width="20.80" height="27.00" fill="#e8e8e8"/>
<rect x="776.00" y="1951.40" width="20.80" height="27.00" fill="#b8b8dc"/>
<text x="744.92" y="1972.90" style="font-size:26.50px;font-style:italic" text-anchor="end" textLength="115.98" lengthAdjust="spacingAndGlyphs">TGFBR1</text>
<rect x="751.20" y="1981.40" width="20.80" height="27.00" fill="#e8e8e8"/>
<rect x="776.00" y="1981.40" width="20.80" height="27.00" fill="#acacd6"/>
<text x="744.46" y="2001.00" style="font-size:26.50px;font-style:italic" text-anchor="end" textLength="70.23" lengthAdjust="spacingAndGlyphs">WIF1</text>
<line x1="619.10" y1="1117.30" x2="622.10" y2="2003.00" stroke="#000" stroke-width="1.60"/>
<rect x="805.30" y="1124.30" width="15.50" height="89.40" fill="url(#cg)"/>
<text x="827.10" y="1138.43" style="font-size:26.57px">3</text>
<text x="827.04" y="1183.53" style="font-size:26.57px">0</text>
<text x="814.62" y="1225.34" style="font-size:26.15px">-3</text>
<text transform="translate(762.20 1109.20) scale(1.150 1) rotate(-45.0)" style="font-size:26.00px">Ctrl</text>
<text transform="translate(795.30 1109.00) scale(1.150 1) rotate(-45.0)" style="font-size:26.00px">CdLS</text>
<text transform="translate(607.55 1571.17) rotate(-90.00)" style="font-size:30.13px" textLength="106.84" lengthAdjust="spacingAndGlyphs">Signaling</text>
<rect x="1028.20" y="1154.60" width="20.80" height="27.00" fill="#e8e8e8"/>
<rect x="1052.60" y="1154.60" width="20.80" height="27.00" fill="#f0caca"/>
<text x="1025.44" y="1177.70" style="font-size:26.50px;font-style:italic" text-anchor="end" textLength="80.06" lengthAdjust="spacingAndGlyphs">AKNA</text>
<rect x="1028.20" y="1184.42" width="20.80" height="27.00" fill="#e8e8e8"/>
<rect x="1052.60" y="1184.42" width="20.80" height="27.00" fill="#c4c4e2"/>
<text x="1024.55" y="1207.43" style="font-size:26.50px;font-style:italic" text-anchor="end" textLength="78.43" lengthAdjust="spacingAndGlyphs" fill="#e0201c">CDK8</text>
<rect x="1028.20" y="1214.24" width="20.80" height="27.00" fill="#e8e8e8"/>
<rect x="1052.60" y="1214.24" width="20.80" height="27.00" fill="#f0c6c6"/>
<text x="1021.87" y="1237.16" style="font-size:26.50px;font-style:italic" text-anchor="end" textLength="63.70" lengthAdjust="spacingAndGlyphs">DDN</text>
<rect x="1028.20" y="1244.06" width="20.80" height="27.00" fill="#e8e8e8"/>
<rect x="1052.60" y="1244.06" width="20.80" height="27.00" fill="#b0b0d8"/>
<text x="1024.95" y="1266.89" style="font-size:26.50px;font-style:italic" text-anchor="end" textLength="80.06" lengthAdjust="spacingAndGlyphs">EGR1</text>
<rect x="1028.20" y="1273.88" width="20.80" height="27.00" fill="#e8e8e8"/>
<rect x="1052.60" y="1273.88" width="20.80" height="27.00" fill="#7878b8"/>
<text x="1024.36" y="1296.62" style="font-size:26.50px;font-style:italic" text-anchor="end" textLength="73.53" lengthAdjust="spacingAndGlyphs">ETV1</text>
<rect x="1028.20" y="1303.70" width="20.80" height="27.00" fill="#e8e8e8"/>
<rect x="1052.60" y="1303.70" width="20.80" height="27.00" fill="#4259a8"/>
<text x="1024.93" y="1326.35" style="font-size:26.50px;font-style:italic" text-anchor="end" textLength="73.53" lengthAdjust="spacingAndGlyphs">ETV4</text>
<rect x="1028.20" y="1333.52" width="20.80" height="27.00" fill="#e8e8e8"/>
<rect x="1052.60" y="1333.52" width="20.80" height="27.00" fill="#a0a0ce"/>
<text x="1023.76" y="1356.08" style="font-size:26.50px;font-style:italic" text-anchor="end" textLength="73.53" lengthAdjust="spacingAndGlyphs">ETV5</text>
<rect x="1028.20" y="1363.34" width="20.80" height="27.00" fill="#e8e8e8"/>
<rect x="1052.60" y="1363.34" width="20.80" height="27.00" fill="#9c9ccc"/>
<text x="1022.29" y="1385.81" style="font-size:26.50px;font-style:italic" text-anchor="end" textLength="60.44" lengthAdjust="spacingAndGlyphs">FOS</text>
<rect x="1028.20" y="1393.16" width="20.80" height="27.00" fill="#e8e8e8"/>
<rect x="1052.60" y="1393.16" width="20.80" height="27.00" fill="#f06868"/>
<text x="1028.59" y="1415.54" style="font-size:26.50px;font-style:italic" text-anchor="end" textLength="99.66" lengthAdjust="spacingAndGlyphs">FOXQ1</text>
<rect x="1028.20" y="1422.98" width="20.80" height="27.00" fill="#e8e8e8"/>
<rect x="1052.60" y="1422.98" width="20.80" height="27.00" fill="#f0acac"/>
<text x="1021.18" y="1445.27" style="font-size:26.50px;font-style:italic" text-anchor="end" textLength="57.16" lengthAdjust="spacingAndGlyphs" fill="#2e3192">JUN</text>
<rect x="1028.20" y="1452.80" width="20.80" height="27.00" fill="#e8e8e8"/>
<rect x="1052.60" y="1452.80" width="20.80" height="27.00" fill="#a8a8d4"/>
<text x="1026.36" y="1475.00" style="font-size:26.50px;font-style:italic" text-anchor="end" textLength="86.62" lengthAdjust="spacingAndGlyphs">KLF10</text>
<rect x="1028.20" y="1482.62" width="20.80" height="27.00" fill="#e8e8e8"/>
<rect x="1052.60" y="1482.62" width="20.80" height="27.00" fill="#f0aaaa"/>
<text x="1026.07" y="1504.73" style="font-size:26.50px;font-style:italic" text-anchor="end" textLength="86.62" lengthAdjust="spacingAndGlyphs" fill="#2e3192">KLF15</text>
<rect x="1028.20" y="1512.44" width="20.80" height="27.00" fill="#e8e8e8"/>
<rect x="1052.60" y="1512.44" width="20.80" height="27.00" fill="#f0b8b8"/>
<text x="1025.70" y="1534.46" style="font-size:26.50px;font-style:italic" text-anchor="end" textLength="88.23" lengthAdjust="spacingAndGlyphs" fill="#e0201c">MEIS2</text>
<rect x="1028.20" y="1542.26" width="20.80" height="27.00" fill="#e8e8e8"/>
<rect x="1052.60" y="1542.26" width="20.80" height="27.00" fill="#c8c8e4"/>
<text x="1024.99" y="1564.19" style="font-size:26.50px;font-style:italic" text-anchor="end" textLength="76.80" lengthAdjust="spacingAndGlyphs">NAB1</text>
<rect x="1028.20" y="1572.08" width="20.80" height="27.00" fill="#e8e8e8"/>
<rect x="1052.60" y="1572.08" width="20.80" height="27.00" fill="#f07a7a"/>
<text x="1026.29" y="1593.92" style="font-size:26.50px;font-style:italic" text-anchor="end" textLength="143.76" lengthAdjust="spacingAndGlyphs">NEUROD1</text>
<rect x="1028.20" y="1601.90" width="20.80" height="27.00" fill="#e8e8e8"/>
<rect x="1052.60" y="1601.90" width="20.80" height="27.00" fill="#acacd6"/>
<text x="1027.76" y="1623.65" style="font-size:26.50px;font-style:italic" text-anchor="end" textLength="94.78" lengthAdjust="spacingAndGlyphs">NR4A1</text>
<rect x="1028.20" y="1631.72" width="20.80" height="27.00" fill="#e8e8e8"/>
<rect x="1052.60" y="1631.72" width="20.80" height="27.00" fill="#acacd6"/>
<text x="1025.00" y="1653.38" style="font-size:26.50px;font-style:italic" text-anchor="end" textLength="94.78" lengthAdjust="spacingAndGlyphs" fill="#e0201c">NR4A2</text>
<rect x="1028.20" y="1661.54" width="20.80" height="27.00" fill="#e8e8e8"/>
<rect x="1052.60" y="1661.54" width="20.80" height="27.00" fill="#cacae6"/>
<text x="1024.84" y="1683.11" style="font-size:26.50px;font-style:italic" text-anchor="end" textLength="78.44" lengthAdjust="spacingAndGlyphs">PEG3</text>
<rect x="1028.20" y="1691.36" width="20.80" height="27.00" fill="#e8e8e8"/>
<rect x="1052.60" y="1691.36" width="20.80" height="27.00" fill="#b4b4da"/>
<text x="1023.44" y="1712.84" style="font-size:26.50px;font-style:italic" text-anchor="end" textLength="102.92" lengthAdjust="spacingAndGlyphs">PRDM5</text>
<rect x="1028.20" y="1721.18" width="20.80" height="27.00" fill="#e8e8e8"/>
<rect x="1052.60" y="1721.18" width="20.80" height="27.00" fill="#c0c0e0"/>
<text x="1024.54" y="1742.57" style="font-size:26.50px;font-style:italic" text-anchor="end" textLength="78.44" lengthAdjust="spacingAndGlyphs" fill="#e0201c">SOX5</text>
<rect x="1028.20" y="1751.00" width="20.80" height="27.00" fill="#e8e8e8"/>
<rect x="1052.60" y="1751.00" width="20.80" height="27.00" fill="#9c9ccc"/>
<text x="1022.56" y="1772.30" style="font-size:26.50px;font-style:italic" text-anchor="end" textLength="78.44" lengthAdjust="spacingAndGlyphs">SOX7</text>
<rect x="1028.20" y="1780.82" width="20.80" height="27.00" fill="#e8e8e8"/>
<rect x="1052.60" y="1780.82" width="20.80" height="27.00" fill="#f0c4c4"/>
<text x="1024.76" y="1802.03" style="font-size:26.50px;font-style:italic" text-anchor="end" textLength="78.44" lengthAdjust="spacingAndGlyphs">SOX8</text>
<rect x="1028.20" y="1810.64" width="20.80" height="27.00" fill="#e8e8e8"/>
<rect x="1052.60" y="1810.64" width="20.80" height="27.00" fill="#c8c8e4"/>
<text x="1028.05" y="1831.76" style="font-size:26.50px;font-style:italic" text-anchor="end" textLength="94.76" lengthAdjust="spacingAndGlyphs">TEAD1</text>
<line x1="869.00" y1="1159.30" x2="871.00" y2="1838.70" stroke="#000" stroke-width="1.60"/>
<rect x="1080.90" y="1166.80" width="15.10" height="89.00" fill="url(#cg)"/>
<text x="1104.79" y="1180.23" style="font-size:26.86px">3</text>
<text x="1104.73" y="1225.33" style="font-size:26.86px">0</text>
<text x="1092.31" y="1267.34" style="font-size:26.43px">-3</text>
<text transform="translate(1038.00 1152.90) scale(1.150 1) rotate(-45.0)" style="font-size:26.00px">Ctrl</text>
<text transform="translate(1065.00 1156.90) scale(1.150 1) rotate(-45.0)" style="font-size:26.00px">CdLS</text>
<text transform="translate(857.21 1585.68) rotate(-90.00)" style="font-size:29.81px" textLength="233.67" lengthAdjust="spacingAndGlyphs">Transcription factors</text>
<rect x="1320.90" y="1154.20" width="21.20" height="26.60" fill="#e8e8e8"/>
<rect x="1345.30" y="1154.20" width="21.20" height="26.60" fill="#7878b8"/>
<text x="1317.93" y="1173.40" style="font-size:26.50px;font-style:italic" text-anchor="end" textLength="125.86" lengthAdjust="spacingAndGlyphs">SLC17A6</text>
<rect x="1320.90" y="1184.07" width="21.20" height="26.60" fill="#e8e8e8"/>
<rect x="1345.30" y="1184.07" width="21.20" height="26.60" fill="#f0a8a8"/>
<text x="1318.05" y="1203.50" style="font-size:26.50px;font-style:italic" text-anchor="end" textLength="125.86" lengthAdjust="spacingAndGlyphs">SLC19A1</text>
<rect x="1320.90" y="1213.94" width="21.20" height="26.60" fill="#e8e8e8"/>
<rect x="1345.30" y="1213.94" width="21.20" height="26.60" fill="#a0a0ce"/>
<text x="1318.29" y="1233.60" style="font-size:26.50px;font-style:italic" text-anchor="end" textLength="125.86" lengthAdjust="spacingAndGlyphs" fill="#f7941d">SLC24A2</text>
<rect x="1320.90" y="1243.81" width="21.20" height="26.60" fill="#e8e8e8"/>
<rect x="1345.30" y="1243.81" width="21.20" height="26.60" fill="#a4a4d0"/>
<text x="1320.66" y="1263.50" style="font-size:26.50px;font-style:italic" text-anchor="end" textLength="142.21" lengthAdjust="spacingAndGlyphs" fill="#2e3192">SLC25A36</text>
<rect x="1320.90" y="1273.68" width="21.20" height="26.60" fill="#e8e8e8"/>
<rect x="1345.30" y="1273.68" width="21.20" height="26.60" fill="#c0c0e0"/>
<text x="1321.56" y="1293.70" style="font-size:26.50px;font-style:italic" text-anchor="end" textLength="142.21" lengthAdjust="spacingAndGlyphs">SLC25A44</text>
<rect x="1320.90" y="1303.55" width="21.20" height="26.60" fill="#e8e8e8"/>
<rect x="1345.30" y="1303.55" width="21.20" height="26.60" fill="#f0a8a8"/>
<text x="1320.83" y="1323.60" style="font-size:26.50px;font-style:italic" text-anchor="end" textLength="140.03" lengthAdjust="spacingAndGlyphs">SLC26A11</text>
<rect x="1320.90" y="1333.42" width="21.20" height="26.60" fill="#e8e8e8"/>
<rect x="1345.30" y="1333.42" width="21.20" height="26.60" fill="#b4b4da"/>
<text x="1318.05" y="1354.10" style="font-size:26.50px;font-style:italic" text-anchor="end" textLength="125.86" lengthAdjust="spacingAndGlyphs" fill="#2e3192">SLC29A1</text>
<rect x="1320.90" y="1363.29" width="21.20" height="26.60" fill="#e8e8e8"/>
<rect x="1345.30" y="1363.29" width="21.20" height="26.60" fill="#e54a42"/>
<text x="1318.29" y="1384.60" style="font-size:26.50px;font-style:italic" text-anchor="end" textLength="125.86" lengthAdjust="spacingAndGlyphs" fill="#2e3192">SLC2A12</text>
<rect x="1320.90" y="1393.16" width="21.20" height="26.60" fill="#e8e8e8"/>
<rect x="1345.30" y="1393.16" width="21.20" height="26.60" fill="#f08888"/>
<text x="1320.88" y="1414.30" style="font-size:26.50px;font-style:italic" text-anchor="end" textLength="142.21" lengthAdjust="spacingAndGlyphs">SLC30A10</text>
<rect x="1320.90" y="1423.03" width="21.20" height="26.60" fill="#e8e8e8"/>
<rect x="1345.30" y="1423.03" width="21.20" height="26.60" fill="#8c8cc4"/>
<text x="1317.89" y="1444.80" style="font-size:26.50px;font-style:italic" text-anchor="end" textLength="125.86" lengthAdjust="spacingAndGlyphs">SLC35B2</text>
<rect x="1320.90" y="1452.90" width="21.20" height="26.60" fill="#e8e8e8"/>
<rect x="1345.30" y="1452.90" width="21.20" height="26.60" fill="#9494c8"/>
<text x="1318.09" y="1474.90" style="font-size:26.50px;font-style:italic" text-anchor="end" textLength="124.21" lengthAdjust="spacingAndGlyphs">SLC35F1</text>
<rect x="1320.90" y="1482.77" width="21.20" height="26.60" fill="#e8e8e8"/>
<rect x="1345.30" y="1482.77" width="21.20" height="26.60" fill="#5060aa"/>
<text x="1318.78" y="1504.70" style="font-size:26.50px;font-style:italic" text-anchor="end" textLength="129.12" lengthAdjust="spacingAndGlyphs" fill="#2e3192">SLC35G1</text>
<rect x="1320.90" y="1512.64" width="21.20" height="26.60" fill="#e8e8e8"/>
<rect x="1345.30" y="1512.64" width="21.20" height="26.60" fill="#b8b8dc"/>
<text x="1318.05" y="1535.00" style="font-size:26.50px;font-style:italic" text-anchor="end" textLength="125.86" lengthAdjust="spacingAndGlyphs" fill="#2e3192">SLC36A1</text>
<rect x="1320.90" y="1542.51" width="21.20" height="26.60" fill="#e8e8e8"/>
<rect x="1345.30" y="1542.51" width="21.20" height="26.60" fill="#b8b8dc"/>
<text x="1318.15" y="1564.80" style="font-size:26.50px;font-style:italic" text-anchor="end" textLength="125.86" lengthAdjust="spacingAndGlyphs">SLC37A3</text>
<rect x="1320.90" y="1572.38" width="21.20" height="26.60" fill="#e8e8e8"/>
<rect x="1345.30" y="1572.38" width="21.20" height="26.60" fill="#a8a8d4"/>
<text x="1318.05" y="1595.10" style="font-size:26.50px;font-style:italic" text-anchor="end" textLength="125.86" lengthAdjust="spacingAndGlyphs">SLC47A1</text>
<rect x="1320.90" y="1602.25" width="21.20" height="26.60" fill="#e8e8e8"/>
<rect x="1345.30" y="1602.25" width="21.20" height="26.60" fill="#e03a2a"/>
<text x="1316.99" y="1625.20" style="font-size:26.50px;font-style:italic" text-anchor="end" textLength="125.86" lengthAdjust="spacingAndGlyphs">SLC6A12</text>
<rect x="1320.90" y="1639.30" width="21.20" height="26.60" fill="#e8e8e8"/>
<rect x="1345.30" y="1639.30" width="21.20" height="26.60" fill="#a4a4d0"/>
<text x="1317.93" y="1661.70" style="font-size:26.50px;font-style:italic" text-anchor="end" textLength="126.92" lengthAdjust="spacingAndGlyphs">B3GALT2</text>
<rect x="1320.90" y="1669.25" width="21.20" height="26.60" fill="#e8e8e8"/>
<rect x="1345.30" y="1669.25" width="21.20" height="26.60" fill="#acacd6"/>
<text x="1318.46" y="1691.20" style="font-size:26.50px;font-style:italic" text-anchor="end" textLength="126.92" lengthAdjust="spacingAndGlyphs" fill="#2e3192">B4GALT6</text>
<rect x="1320.90" y="1699.20" width="21.20" height="26.60" fill="#e8e8e8"/>
<rect x="1345.30" y="1699.20" width="21.20" height="26.60" fill="#f0a8a8"/>
<text x="1315.24" y="1721.50" style="font-size:26.50px;font-style:italic" text-anchor="end" textLength="93.14" lengthAdjust="spacingAndGlyphs">ESYT3</text>
<rect x="1320.90" y="1729.15" width="21.20" height="26.60" fill="#e8e8e8"/>
<rect x="1345.30" y="1729.15" width="21.20" height="26.60" fill="#c4c4e2"/>
<text x="1312.28" y="1751.00" style="font-size:26.50px;font-style:italic" text-anchor="end" textLength="78.44" lengthAdjust="spacingAndGlyphs">GBA2</text>
<rect x="1320.90" y="1759.10" width="21.20" height="26.60" fill="#e8e8e8"/>
<rect x="1345.30" y="1759.10" width="21.20" height="26.60" fill="#acacd6"/>
<text x="1315.38" y="1780.60" style="font-size:26.50px;font-style:italic" text-anchor="end" textLength="96.41" lengthAdjust="spacingAndGlyphs" fill="#2e3192">GPLD1</text>
<rect x="1320.90" y="1789.05" width="21.20" height="26.60" fill="#e8e8e8"/>
<rect x="1345.30" y="1789.05" width="21.20" height="26.60" fill="#b4b4da"/>
<text x="1319.93" y="1812.30" style="font-size:26.50px;font-style:italic" text-anchor="end" textLength="122.53" lengthAdjust="spacingAndGlyphs">ORMDL1</text>
<rect x="1320.90" y="1819.00" width="21.20" height="26.60" fill="#e8e8e8"/>
<rect x="1345.30" y="1819.00" width="21.20" height="26.60" fill="#a4a4d0"/>
<text x="1318.76" y="1841.50" style="font-size:26.50px;font-style:italic" text-anchor="end" textLength="116.02" lengthAdjust="spacingAndGlyphs">PRKAA1</text>
<rect x="1320.90" y="1848.95" width="21.20" height="26.60" fill="#e8e8e8"/>
<rect x="1345.30" y="1848.95" width="21.20" height="26.60" fill="#8080bc"/>
<text x="1320.08" y="1872.00" style="font-size:26.50px;font-style:italic" text-anchor="end" textLength="116.01" lengthAdjust="spacingAndGlyphs" fill="#2e3192">SPTSSB</text>
<rect x="1320.90" y="1878.90" width="21.20" height="26.60" fill="#e8e8e8"/>
<rect x="1345.30" y="1878.90" width="21.20" height="26.60" fill="#acacd6"/>
<text x="1319.99" y="1902.00" style="font-size:26.50px;font-style:italic" text-anchor="end" textLength="117.66" lengthAdjust="spacingAndGlyphs" fill="#2e3192">ST8SIA1</text>
<rect x="1320.90" y="1908.85" width="21.20" height="26.60" fill="#e8e8e8"/>
<rect x="1345.30" y="1908.85" width="21.20" height="26.60" fill="#4a5caa"/>
<text x="1318.93" y="1932.10" style="font-size:26.50px;font-style:italic" text-anchor="end" textLength="117.66" lengthAdjust="spacingAndGlyphs" fill="#e0201c">ST8SIA2</text>
<rect x="1320.90" y="1938.80" width="21.20" height="26.60" fill="#e8e8e8"/>
<rect x="1345.30" y="1938.80" width="21.20" height="26.60" fill="#b4b4da"/>
<text x="1315.92" y="1962.10" style="font-size:26.50px;font-style:italic" text-anchor="end" textLength="99.64" lengthAdjust="spacingAndGlyphs">SUMF2</text>
<line x1="1171.50" y1="1157.40" x2="1171.50" y2="1626.60" stroke="#000" stroke-width="1.60"/>
<line x1="1171.50" y1="1643.70" x2="1171.50" y2="1963.70" stroke="#000" stroke-width="1.60"/>
<rect x="1377.60" y="1161.20" width="15.20" height="88.70" fill="url(#cg)"/>
<text x="1398.96" y="1173.70" style="font-size:26.81px">2</text>
<text x="1399.43" y="1218.43" style="font-size:26.71px">0</text>
<text x="1387.10" y="1260.70" style="font-size:26.67px">-2</text>
<rect x="1375.00" y="1651.30" width="14.90" height="88.90" fill="url(#cg)"/>
<text x="1396.26" y="1663.00" style="font-size:26.81px">2</text>
<text x="1396.63" y="1707.83" style="font-size:26.86px">0</text>
<text x="1384.49" y="1749.80" style="font-size:26.81px">-2</text>
<text transform="translate(1331.20 1150.70) scale(1.150 1) rotate(-45.0)" style="font-size:26.00px">Ctrl</text>
<text transform="translate(1358.20 1154.70) scale(1.150 1) rotate(-45.0)" style="font-size:26.00px">CdLS</text>
<text transform="translate(1163.77 1447.06) rotate(-90.00)" style="font-size:29.06px" textLength="149.29" lengthAdjust="spacingAndGlyphs">SLC proteins</text>
<text transform="translate(1161.52 1942.46) rotate(-90.00)" style="font-size:30.24px" textLength="280.34" lengthAdjust="spacingAndGlyphs">Sphingolipid metabolism</text>
<rect x="1433.10" y="1400.10" width="15.80" height="89.30" fill="url(#cg)"/>
<text transform="translate(1460.16 1403.17) rotate(90.00)" style="font-size:29.71px" textLength="89.77" lengthAdjust="spacingAndGlyphs">log2 FC</text>
</svg>
</body></html>
